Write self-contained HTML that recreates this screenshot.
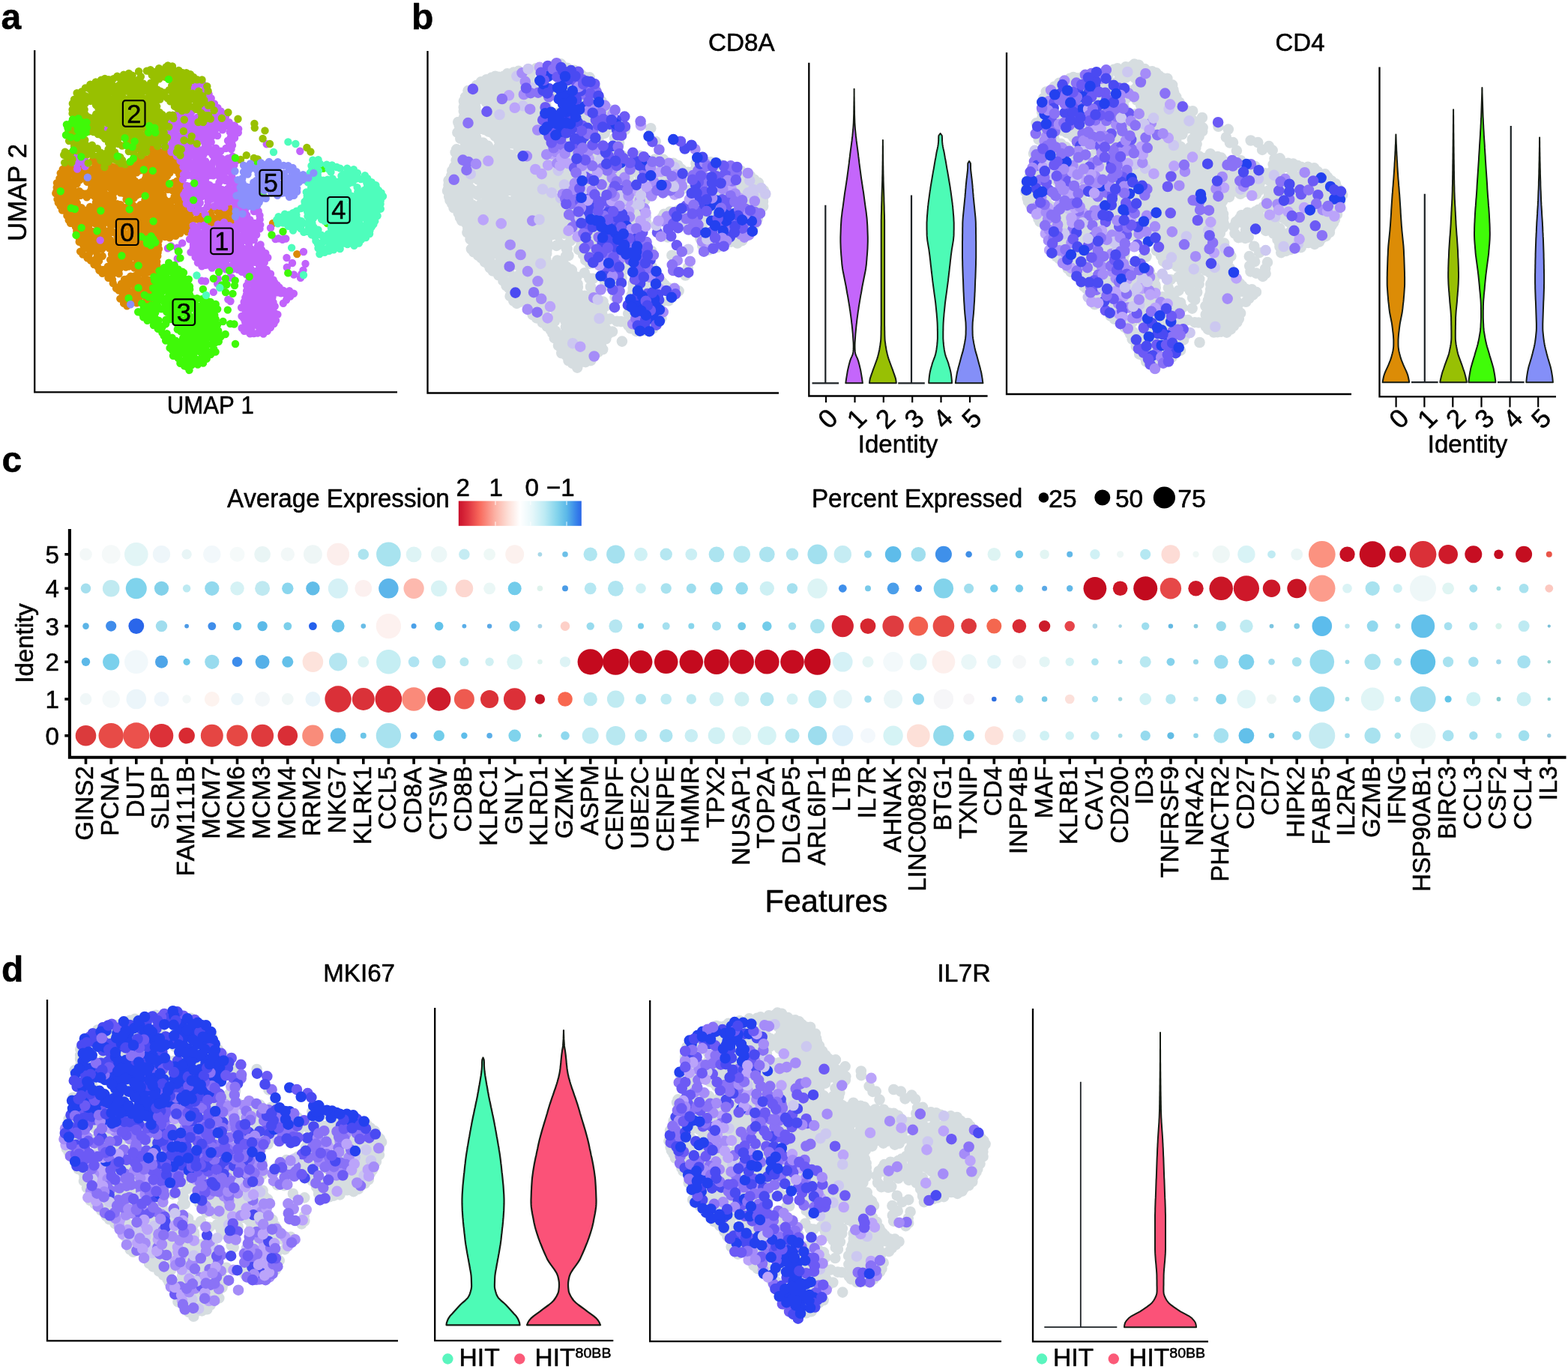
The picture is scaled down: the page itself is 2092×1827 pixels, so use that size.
<!DOCTYPE html><html lang="en"><head><meta charset="utf-8"><title>Figure</title><style>html,body{margin:0;padding:0;background:#fff}svg{display:block}text{stroke:#000;stroke-width:.55px;stroke-linejoin:round;font-kerning:none}</style></head><body><svg xmlns="http://www.w3.org/2000/svg" width="2092" height="1827" viewBox="0 0 2092 1827" font-family="'Liberation Sans', Arial, Helvetica, sans-serif" fill="#000"><g stroke-linecap="round" fill="none">
<path d="M102.3 308.5h0m-14.9-65.4h0m136.8 56h0m-72.5-66.4h0m-8.8-7.3h0m-51.2 35.8h0m122-13.5h0m-125.1 5.6h0m58 66.3h0m69.9-106.1h0m-109.8 26.6h0m125 67.7h0m-19.3-34.9h0m-29.4 33.5h0m51.7-49.6h0m-29.7-45.8h0m-31.1 34.9h0m-29 117.5h0m45.8-65.5h0m-34.7-4.1h0m13.3-17.7h0m-37.6 21.1h0m19.7-25.7h0m-75.5-27.4h0m147 24.5h0m-49.2 83.5h0m5.6-71.1h0m-56-66.1h0m55.4 49.5h0m36.4 32.1h0m-14.7-27.9h0m4.1 77.3h0m-9.2 54.9h0m-9.2-79h0m-49.4 20h0m12.2-63.8h0m-9.8 7.5h0m-19-9.5h0m58.1-25.7h0m25.3 141.2h0m34.9-129.1h0m-29.1 86.7h0m-12.4-0.1h0m-121.2-98.8h0m139.3-30.3h0m-34.7 106.7h0m26-129.2h0m29.9 95.2h0m-39.5 65.2h0m-4 26.9h0m42.4-157.5h0m-82.5 72.1h0m91.8-23.9h0m-120.8 33.5h0m-29.5-19.2h0m51.6-55h0m55.1 99.8h0m11.1-13.8h0m-14.7-8.7h0m-14.4-95.6h0m-82.6 58.5h0m-15.6-9.4h0m131.6-13.7h0m-116.1 43.8h0m80.8 19.2h0m47.2-97.4h0m-46.1 77.3h0m26.5 63.7h0m0.3-72.4h0m-47.2-43.6h0m-45-10.2h0m8.2 92.8h0m7-37.6h0m-29.1-42.1h0m24.9 68.5h0m78.2-69.2h0m15.4-15.3h0m16.1 46.1h0m-2.1-56.3h0m-95.7 88.5h0m34.3 71.6h0m-96-108.6h0m59.5 89.3h0m28.8-62.7h0m-15.3 80.8h0m139.7-95.8h0m-129.6-9.1h0m63.1-20.4h0m-50.7 149.2h0m23.5-124.8h0m-2.3 9h0m35.2-18.4h0m-62.7 20.1h0m64.3-43.7h0m-121.8 38.4h0m8.8 19.2h0m189.6-7.8h0m-143.8 15.8h0m-34.2 31.1h0m106.3-72h0m-95.4-1.7h0m83.5 19.5h0m-64.7 95.9h0m21.6-2h0m4.5-22.4h0m64.3-63.6h0m-41.5-29.4h0m5.1-29.4h0m-65.6 66h0m55.1 76.6h0m28.8-100.4h0m-63.1-111.1h0m38.2 53.5h0m-77.5 107.9h0m-21.8-14.2h0m19.9-15.1h0m26.5-50.4h0m20.6 94.9h0m-91-117.5h0m10.9 46.4h0m-10.8-11.1h0m42.3-5.6h0m-35.9-20.3h0m155.3 71.3h0m-34.6 20.3h0m55.8-38.3h0m-80.8 42.8h0m-17.8 69.2h0m-7.8-2h0m74.4-148.8h0m-92.3 30h0m56.8-21.7h0m20.7-57.6h0m-45.4 107.6h0m-53.5-53.7h0m-8.6-26.3h0m55.1 165.8h0m86.6-108.1h0m-125.1 49.2h0m5.4-83.5h0m52.1 136h0m33.4-85.2h0m-25 31.6h0m9.7-61.7h0m-34.8 65.5h0m4.5 30.9h0m-23.9-45.5h0m44.5-93.8h0m-33-4.6h0m-4.8 10.1h0m147.5 42.3h0m-180.9 40h0m58.7-86.8h0m-47.1-9.6h0m19.3 127.9h0m-23.2-124.1h0m43.6 71h0m-49.9-17.3h0m141.9 16.6h0m4.4 1.3h0m-109 19.2h0m76.7-82.7h0m-23.7 52.5h0m-25.4-34.5h0m-10.5 7.2h0m-90.1-31h0m95 145.8h0m-33.1-114.5h0m11.4 93.1h0m38.5-134.7h0m-54.3 91.1h0m-20.2-95.3h0m66.4 91.9h0m-23.7 104h0m15-42.7h0m-34.5-125.1h0m27.5-22.5h0m-8.8 48.1h0m-80.9 5h0m105.3-50.5h0m-42.3 89.2h0m31.7 94.6h0m6.6-26.1h0m24.5-175.4h0m-14.3-3.5h0m-87.8 59.2h0m47.3 106.7h0m-22.5-32.8h0m-59.5-72.3h0m116.7 111.8h0m-56.1-46h0m-36.8-95.7h0m1.4 33.5h0m20.4-14.1h0m-31.8-27.2h0m36.2 124.3h0m67.2-74.8h0m-28.1-20.4h0m70 31.2h0m1.2 14.7h0m-116.2 24h0m93.6-54.5h0m24.7-40.4h0m-123.9 32h0m34.9 100.9h0m89.9-75.2h0m-124.4 8.6h0m-5.6 0.5h0m28.4-62h0m156.3 65.2h0m-73.2-17.4h0m1.8-73h0m-22.3 79.8h0m41.3-36.1h0m-116 12.6h0m84.3 74.5h0m-55.3 6.1h0m73.6-118.6h0m-25.8 177.8h0m-75.1-132.3h0m60-50.1h0m0.7 23.3h0m-109.3-5h0m72.5 92.1h0m1.3-44.2h0m-33.1 4h0m-6.3 41.1h0m57.6-15.3h0m31.8-11.7h0m-59.3-8.4h0m-39-1.6h0m55.2 26.3h0m55.4-9.2h0m-51.1-76.3h0m22.9 104.8h0m-49.4-95.9h0m21.8 8.9h0m14.1-18.8h0m43 39.3h0m-16.4 23.1h0m-103.6-50.2h0m28.8 46.5h0m57.6-81h0m-21.3 167.1h0m60-163.3h0m-76.2 115.9h0m34.5-89.6h0m-90.1 36.2h0m12.4 7.2h0m142.4-1.8h0m-89.9 101.4h0m42.5 0.4h0m-15.3-34h0m35.2-90.6h0m-16.7-49.8h0m19.4 105.4h0m20.6-72.8h0m-17.4-8.6h0m17.7 67.7h0m-59.4 41.7h0m27-62.3h0m53.5 10.6h0m-21.6-55.4h0m-0.1 74.2h0m-119.8 25h0m-4.3-93.3h0m34.2 108.4h0m35.4-92.3h0m42.8 45.7h0m-48.1-15.8h0m-80.5-50.2h0m10.8-3.4h0m6.7 73h0m111.8-99.3h0m-41.3 46h0m53.1 34.7h0m-111.3-51.5h0m77.6-5.6h0m-47.1 97.5h0m41.7-49.5h0m-38.2 103.3h0m-58.2-61.2h0m58.4-45.5h0m-21.3 47.8h0m11.9 10.9h0m24.4 38.2h0m-57.9-135.5h0m22.4 3.1h0m-46.6 16.1h0m88.9 138.7h0m-47.2-141.2h0m103.6 11.8h0m-78.2 68.4h0m55.9-86.2h0m-72.3-25h0m-13.3 46h0m63.2-26.5h0m-41.1 28.4h0m-11.4 0.3h0m42.4 72.4h0m39.3-71.4h0m-55.9 26.6h0m-38.1-40.4h0m36-0.2h0m-26 57.1h0m3.3-96.5h0m28 103.6h0m35.3 30.5h0m92.5-63.6h0m-131.5 38.3h0m-18.5-105.7h0m-20 79.9h0m-34.4-50.4h0m26.5 80.2h0m-13-6.2h0m116-36.2h0m-46.9 10.4h0m-8.4 87.8h0m38.4-83.3h0m-5.2-49.6h0m-81-21.5h0m47.7 54.7h0m16 15.6h0m93.4-19.2h0m-198-4.8h0m137.1-40.9h0m-55 105.9h0m-6-40.8h0m14.7 31.7h0m-43.9-86.6h0m80.9 50.9h0m-34.2-15.3h0m23.9 22.8h0m81.8-30.8h0m-145.1 15.1h0m-6.8 63.5h0m39.2-73.2h0m-19.8 5.3h0m7.6-66.2h0m17.4 2.3h0m25.5-1.6h0m5.6 87.3h0m7.4-69.2h0m9.6 34.2h0m-43.4 123.8h0m-85.5-101h0m61.9-17.7h0m85.6-25.8h0m-38.8 21.9h0m-14.4 77h0m67.8-59.3h0m-58.2-39.6h0m-15-33.7h0m-17 81.9h0m139.7-18.9h0m-86.7-60.1h0m-39.7 134.1h0m103.7-67.8h0m-172.5 49.8h0m58.2-97.7h0m2.5 11.4h0m42.1 62.1h0m-21.1 12.9h0m3.5-79.7h0m-46.5 5h0m-26.7-27.5h0m-6.6 37.1h0m14.5-45.1h0m-14.4 62.3h0m173.4 11.3h0m-63.9 16.6h0m-31.6 68.3h0m10-171.1h0m-44.5 153.6h0m-8.5-94.7h0m-59-49.8h0m20.4 83.2h0m32.5-33.1h0m77.1-19.5h0m-90.4 30.6h0m99.3 18.2h0m-126.7-5.3h0m2-33.4h0m105.2-40.4h0m-50.9 70.7h0m63.9-75.1h0m-80.4 145.2h0m12.8-30.5h0m-81.3-69.6h0m131.6 34.9h0m-86 57.1h0m73 17.2h0m-24.2 19.2h0m11.4 10.3h0m-8.9-82.9h0m62.1 3.5h0m-54.1 71.5h0m0.5-18.4h0m-4-77.7h0m42.5 4.8h0m-18.9-62.1h0m-95.1 46.3h0m147.3 25h0m-42.2-44.6h0m-41.1 89h0m-73.3-83.7h0m199.1 21.9h0m-112.4-61.3h0m43.7 91.7h0m-69.9-1.6h0m54.4-97h0m-134.3 47.2h0m110.7 13.2h0m5.5 61.5h0m22.4-35.1h0m-67.8-21.9h0m-51.3-0.7h0m28.6 1.9h0m61.5 2.2h0m-53.8 29.7h0m35.8 25.1h0m-13.3 14h0m29.5-57.6h0m3.9-7.9h0m-16.3 65.3h0m-79.1-101h0m217.8 23.5h0m-95.5 0.4h0m-15.2 84.2h0m31.8-80.7h0m-13.3 0.3h0m-85.4-38.8h0m61.9-30.6h0m-36.4 174.7h0m-14-16.9h0m-37.4-35.1h0m39.7-75.3h0m-9.6 1.1h0m41.1 73.7h0m-18.8 2h0m-32.1-16.8h0m-0.9-97.2h0m76 28.5h0m-119.7-2.5h0m77.4 49.6h0m25-50h0m-66.6 69.1h0m19.6-44h0m8.9 72.8h0m73.1-35.8h0m83-15.3h0m-150.6-58.2h0m24.5 36.3h0m12.1 90.6h0m-43.7-73.5h0m-32.8 29.4h0m25.6-21.3h0m1.3 22.3h0m42.5-60.3h0m75.2 19.9h0m-47-71.2h0m-48.9 137.7h0m6.2-123.3h0m-76.4 25.8h0m62.9 5h0m63.2-46.1h0m-50.8 110.1h0m83.8-36.9h0m-99.3 83.6h0m-27.7-68.7h0m3-52.7h0m75.9 111.3h0m-27.6-97.7h0m28.3-17.9h0m-69.5-9.7h0m-44 57.7h0m141.5-73.6h0m-21.2 81.7h0m-19.4-12.6h0m-82.7-22.5h0m78.7 48.5h0m9.2-17.3h0m4.7-19.1h0m83.7 25.6h0m-189.7-66.6h0m204.1 60.2h0m-110.8-64.8h0m-60.8 0.4h0m68.7 72h0m-37.9-69.2h0m8.5 142.6h0m-21.3-125.5h0m87.9 14.9h0m-152 12.6h0m51.8 85.7h0m41.3-96.5h0m-55.4 76.2h0m60.2 49.6h0m-3.4 6.4h0m23.3-5.7h0m-20.6-71.4h0m124.1-33.8h0m-52 23.8h0m-17-7.7h0m-127.1 16.6h0m71.1-87.9h0m30.2 134.1h0m-85-104.5h0m86.2-35.4h0m-36.9 4.4h0m5.7 9.4h0m-74.3 32.6h0m105.2-68h0m-107.1 99.8h0m63.7-44.9h0m73.1-11.3h0m-154.1-10.1h0m60.8 75.7h0m47.2 44.6h0m-81.7-68h0m9.2 36.5h0m47.5 63.4h0m48.6-87.2h0m-15.3-107.7h0m-62.7 121.7h0m56.2-48.5h0m-17.7 61.5h0m-41.4-89h0m68.8 23.5h0m-94.7-32.5h0m75.2 45.7h0m-76.6 23h0m91.3 79.6h0m39.2-71.8h0m-129-85.7h0m59.4 135.4h0m24.4-81.1h0m54.8 14.6h0m-76.4-70.3h0m27.5 122.1h0m-32.4-15.2h0m66.5-39.6h0m-7.5-66h0m-51.4 19.5h0m105.1 57h0m-153 55.4h0m-12.5-41.9h0m127.2-89.6h0m-46.1 35.2h0m-57.5 108.1h0m12.4-25.6h0m81-85.1h0m-16.2-25.1h0m0.1 61.2h0m-23.7-74.9h0m19.8 35.3h0m-90.3 79.7h0m174.3-25.7h0m-86.2-66.3h0m-42.7 166.6h0m-49.2-119.8h0m-35.2-54h0m117.8 142.3h0m-68.4-82.2h0m89.1-25.6h0m-62-24.3h0m35.5 103.3h0m28.4-54.8h0m-60.6-41.6h0m1.7 41.4h0m-53.5-12.4h0m79.9-74.7h0m-37.5 90.6h0m-11-56.2h0m-8 111.4h0m21.8-120.8h0m-19.5 83.5h0m71.5 20.5h0m-36.5-8.9h0m-75.5-80.4h0m204.2 40h0m-115.2 56.4h0m27.4 3.2h0m-59.6-96.8h0m-62.3-14.2h0m123.5 101.4h0m-24.3-58.9h0m1.7 60.1h0m1.9-25.2h0m19.5-30.1h0m35 21.7h0m-2.2-5.5h0m-64.3 15.4h0m-8.8-72.3h0m-29.5 12.5h0m22.8 142.4h0m-34.9-126.5h0m-31.1-40.7h0m30 57.2h0m-37.2-16.6h0m78.3 110.4h0m-69.9-107.7h0m211.3 16.1h0m-129.4-30.9h0m-10.2 118.3h0m33-136.5h0m21 59.2h0m-70.4 67.6h0m-4.2 10.9h0m62.4-149.4h0m98.9 72.2h0m-106.3 41.7h0m-99-102.2h0m9.1 69.1h0m78.8-65.9h0m-28.4-10.8h0m-49 116.4h0m110-64.1h0m-67.3 30.2h0m76.8-68.6h0m-115.7 1.2h0m109.1 55.9h0m-59.7-51.3h0m-51.3 65h0m78.8-7.8h0m33.2 9.5h0m-138.7-20.5h0m78.5 0.9h0m-73.9-0.9h0m96.9 21.8h0m-72.1-34.3h0m-33 0.5h0m72.6-24.4h0m34.6-23.7h0m-63.9 0.1h0m-24.7 75h0m90.4-26.5h0m-61.2-4.6h0m-50.5-0.2h0m89.3 97.6h0m-26.1-146h0m-1.9 138h0m79.7-136.1h0m26.5 37.5h0m-44 45.9h0m-125.8-71.2h0m313.2 96h0m-322-81.1h0m289.7 40h0m-129 74.5h0m-21 2.5h0" stroke="#DB8A05" stroke-width="10.4"/>
<path d="M355.5 394h0m-16-44.2h0m-76.1-169.7h0m-13.5-0.1h0m26.2 131.3h0m-18.3-10.2h0m-40.7-107.4h0m155.4 189.8h0m-33.6-101.4h0m-4.2 76.8h0m-59.5-13.3h0m49.8 4.5h0m-89.8-164.4h0m75.4 57.4h0m64.2 148.3h0m-49 29h0m-49.3-168.1h0m43.5 63.5h0m-50.8 31h0m48.7-100.1h0m-25.2-24.7h0m-38.4-65.8h0m-20.1 35.5h0m54.3-29.3h0m13.9 184.4h0m44.5 58.2h0m-60.9-266.6h0m-22.1 212.2h0m7.8-203.2h0m-24 108.5h0m-134.9-43.6h0m229.9 149.4h0m-75.7-161h0m8.2-31.4h0m57 250.7h0m-3-132.9h0m-83-94.1h0m48.4-44.5h0m-32.3 186.2h0m-159.5-115.5h0m169.2 99.1h0m5.7-49.4h0m92.7 150.9h0m11.7-19.6h0m-81.3-66h0m-39.7-168.9h0m-158 48.2h0m142.9-2.9h0m46.9 52.9h0m55.3 125.4h0m-0.9-88.8h0m-91.5-45.3h0m99.7 129.4h0m-79-108.2h0m56.7 69.5h0m-51.5-214.3h0m36.9 169.1h0m51.8 90h0m-97.9-89.7h0m-21.6-66.8h0m37.1-36h0m28.3 69.2h0m9.9 73.9h0m-59.7-167h0m88.2 193h0m-94.8-166.1h0m13.9-22.9h0m-10 50.6h0m29.8-67.5h0m-7.9 145.2h0m-34-91.2h0m58.9-42.6h0m-37.5 18h0m9.1 30.5h0m81.3 175.8h0m-7.3 38.4h0m-47.9-204.5h0m-38.3 20.2h0m63.7 63.8h0m-96.2-134h0m68.2 155.6h0m-48.4-16.1h0m95.8 97.5h0m-71.4-227.8h0m-55.4-12.1h0m99.8 126.3h0m-30.9 43.2h0m96.7 44.5h0m-66.3 11.2h0m-88.8-243.3h0m123.7 218.5h0m-120.9-192.7h0m33.8 11.2h0m4.6-33h0m44.6 199.3h0m30.4 60.9h0m-43.6-235h0m-9.5 139h0m-45.5-156.2h0m45.1 105.3h0m40.3 134h0m-58.1-71.4h0m5.7-166.7h0m-20.8 138.8h0m68.9 126.3h0m-56.4-101.9h0m62.6 89.3h0m-77.8-185.7h0m55.7 103.1h0m9.2 23.6h0m3.4-40.4h0m-67.4-47.5h0m-4-162.8h0m20.6 230.8h0m5.3-81.9h0m23.6-55.8h0m31.2 133.8h0m17 59.9h0m-95-185.5h0m-21.6-60.6h0m12.6-37.2h0m44.4 177.5h0m18.3 41.3h0m0.1-7.5h0m-10.1-22.5h0m-52.9-30.2h0m72.9 135.6h0m-42.4-259.3h0m11.9 99.3h0m58.8 106.5h0m-75.3-126h0m8.3 101.6h0m-32.7-222.3h0m22.8 12.5h0m81.2 304.5h0m-48.4-165.7h0m-6.1-95.6h0m-171.6 151.8h0m172-157.4h0m3.8 164.3h0m32.5 71.1h0m-69.8-61.6h0m17.8-134.9h0m-26.4 48.3h0m44.8 93.7h0m-4.8-79.2h0m-20.1 46.7h0m6.6-130.5h0m-31.6 48h0m54.6-45.1h0m5.7 92.3h0m22.4 61.2h0m-26.2 15.7h0m-71-113.8h0m143.3 156.2h0m-86.5-55.7h0m58.5 47.6h0m-39-98.3h0m-50-77.6h0m85.6 195.7h0m-35.3-125.4h0m27.6 89.4h0m-42-15.3h0m37.4 88.6h0m-10.5-15.8h0m-57-209h0m10.2 8.4h0m11.9-76.2h0m-18.5 26h0m-35.2 44.7h0m79.2 98.8h0m4.3 36.8h0m33 7.1h0m-17.2 18.7h0m0.2-55.7h0m-108.3-120.4h0m26.5-22.4h0m86.6 225.7h0m-49.3-56.7h0m23.8-23.6h0m10.3 114.4h0m-74-274.4h0m18.2 144.8h0m22.4 0.1h0m18-143.8h0m-3.4 147.7h0m-13.4-91.4h0m8.1 8.1h0m-72-69.1h0m9.8 97.1h0m31.3 89.1h0m88.1 55.2h0m-6.6 2.4h0m-82.7-223.9h0m21.9 122.3h0m-43.8-160.1h0m105.5 287.6h0m-80-266.8h0m-44.4 1.5h0m86 266h0m-221.9-229.3h0m248.6 169.9h0m12.6 45.9h0m-57.1-206.3h0m24.7 103h0m9.4 46.2h0m-52.9-92h0m8.6 47h0m-16.3-126.4h0m11.3 149.7h0m-35.1-8.9h0m38-101.2h0m-24-68.3h0m66.1 164.9h0m-0.7 7.2h0m-63.4-226.9h0m0.3 118.7h0m35 70.1h0m-198.1-85.2h0m223.9 160.2h0m-76.1-174.8h0m109.1 202.2h0m-57-149.4h0m-41.5-32.5h0m62.7 171.8h0m-53.6-149.1h0m19.9 23.9h0m-31.5-3.6h0m-23-100.7h0m104.1 117.8h0m-43-59.9h0m-29.8 59.1h0m57.2 107.2h0m-32.2-214.8h0m49.8 119.6h0m6.1 57.3h0m-65.8-22.2h0m40.6-50h0m14.2 155.2h0m-15.6-123.8h0m-72.2-101.6h0m36 106.8h0m-59.5-148.4h0m109 140.6h0m0-8.8h0m-82.5 10.4h0m108.5 108.3h0m-36.4-35.6h0m-41.5-27.1h0m12.1-82.5h0m37.6 115.4h0m-88.3-232.8h0m75.4 138.8h0m-51.1 31.9h0m91.3 48.6h0m-91.3-253.5h0m72.7 234.5h0m19.2 28.3h0m-16.1-38.5h0m-79.7-102.3h0m81.5 192.4h0m-20-128.9h0m-52.6-171.3h0m-22.8 27.2h0m40.1 193.2h0m56.5 31.9h0m-26.2 55.3h0m-47.9-136.4h0m-48.2-116.5h0m109.8 185.7h0m-110.1-190.4h0m37.3 86.6h0m6.6-129.4h0m53.7 288.3h0m-26.7-215.3h0m38.3 230.8h0m-71.9-186.4h0m63.9 165.8h0m-74.9-112.1h0m24.3-109.5h0m32.3 17.5h0m22.7 184h0m-30.9-192.9h0m65.4 169h0m-78-214.4h0m-11.5-19.6h0m31.5 201.9h0m17.6-50.1h0m-79.4-94.1h0m8.1 56.7h0m-144.5-38.9h0m177.4 77.5h0m-3.3 20.9h0m45.9-27.1h0m-72.1-82.2h0m8 144.1h0m-32.4-202.3h0m71.4 170.1h0m15.4 35.2h0m-60.1-201.7h0m-5.7 170.3h0m1.3-102.4h0m69.5 211.3h0m-51.9-206.1h0m73.3 209.9h0m-11.1-44.8h0m-52.8-181.5h0m48.4 186.1h0m-12.5 11.2h0m-27.7-208.7h0m-36.7-10.2h0m92.2 236h0m28-22.8h0m-112.4-170.5h0m-3.8 48.7h0m87.1 112.4h0m-64.5-135.8h0m-43.7-44.8h0m55.8 11.4h0m50.2 111.6h0m-93.9-171.8h0m-4.4 61.4h0m-23.7-31.8h0m104.9 204.9h0m-13.7-186.1h0m-34.9 13.5h0m-13.5-46h0m71.6 138.2h0m-26 16.8h0m-4.4-137.9h0m-17.4 140h0m55.7 84.9h0m-78.9-94.9h0m38.8-152.7h0m38.7 240.2h0m-66.7-233.9h0m69.9 165.9h0m-109.7-156.5h0m75.1 110.5h0m35.9 63.3h0m-83.9-64h0m32.9-66.7h0m-3.5-23.7h0m-6.5 44.8h0m25-10.2h0m42.7 195.7h0m-55.3-243.7h0m-1 42.8h0m-15.7 109.1h0m-30.6-85.5h0m37.3-57.9h0m-9.6 113.3h0m86.2 107.7h0m-109.8-191.1h0m96.1 101.6h0m3 5.7h0m-49.6-160.2h0m-3.7 4.3h0m56.4 194.5h0m-18.2-69h0m-30.6 1h0m-6.6-75.1h0m-14.5-95.2h0m62.2 229.3h0m-109.6-204.8h0m100.8 204.5h0m-69.8-190.4h0m3.6 75.9h0m-49.2-55.8h0m32.1 140.5h0m26.2-2.9h0m-144.8-167h0m102.9 44h0m56-61.4h0m-4 13.1h0m16.8 84.2h0m20 98.1h0m-75.2-173.4h0m143.8 187.9h0m-81.9-60.6h0m23.9 61.3h0m5.7-5.3h0m-56.4-102.6h0m66.4 158h0m5.7-27.3h0m-52.2-117.8h0m-66.2-105.5h0m16.5 173.7h0m-0.9-134.5h0m-14.1 66.5h0m25.4 82h0m20.2-19.7h0m56.3 21.2h0m30 36.9h0m-115.7-183.5h0m9.3-71.3h0m34.1 77.9h0m-56.5 44.4h0m26.8-36.2h0m107.4 164.9h0m-62.9-90.6h0m-89.8-100h0m109.5 192.2h0m-66.5-127h0m17.2-109.3h0m-7.7 96h0m7.8-18.8h0m7.5 25.3h0m-70.1-77.4h0m-128 46.8h0m168.7-19.5h0m86.4 166.4h0m7.3 59.6h0m-112.2-209.5h0m95.8 111h0m-91.4-2h0m81.2 50h0m7.6-94h0m-19.2 109.6h0m-76.1-200.8h0m-6.2 36.6h0m115.5 173.4h0m-85.9-168.9h0m-27-67h0m18.1-58.7h0m40.9 133.8h0m-43.7 81.3h0m11-40.6h0m53.6 47.8h0m-9.7-157h0m2.7 146.8h0m-10.4 35.8h0m-19.1-111.4h0m41.8 116.5h0m-40-36.5h0m-40-136.5h0m30.4 62.6h0m117.8 116.6h0m-130.1-184.9h0m-26.1-5.4h0m-8.4-50h0m64.7 228.6h0m20.6-20.8h0m-53-123h0m56.6 209.9h0m27.1-24.8h0m-47.9-70.7h0m-11.6-113.2h0m-1.3 93.2h0m-41.2-150.4h0m34.1 74.8h0m-15.4 87.5h0m-10-103.9h0m31.2-60.4h0m-63.2 4.2h0m22 86.3h0m48.8 16.8h0m-13.2-100.1h0m6 48.2h0m16 11.5h0m-12.3 118h0m22.9 17.5h0m-1.5-50.8h0m20.4-5.8h0m11.4 23.2h0m-41.9-131.7h0m22 121.4h0m-22.6-2h0m28.6-5.7h0m-14.2 39.7h0m-2.2-52.7h0m-17.8-132.2h0m-6.7 111.7h0m111.7 85.7h0m-84.7-5.5h0m-46.7-130.6h0m56.8 129h0m-17.1-47h0m-26.6 9.1h0m69.7 63.3h0m-13.9 24.2h0m-58.3-196.4h0m0.7 9.9h0m-4.8 30.4h0m21.4 75.3h0m-5.2-4.9h0m12.7-0.2h0m-28.3 9.9h0m-17-20.1h0m63.6-24.4h0m-36.5-11.6h0m-5.3-68.8h0m-20.2 43.2h0m9.6 86.3h0m35.6-137.7h0m36.5 111.4h0m-33.6-138h0m-39 138.7h0m42.1 9.3h0m19.2 117.2h0m9.3-53.8h0m-99.2-118.8h0m107.4 152h0m-78-287.4h0m8.1 233h0m22.1-88.4h0m41.3 161.4h0m-12.7-19.3h0m-49.9-78h0m29.3-155h0m-59.9 141h0m21.2-104.2h0m29 103.4h0m-35.6 15.1h0m62.2 73.3h0m36.6-29.7h0m-83.5-195.5h0m-10 159.3h0m-0.2-167.8h0m67.6 244.8h0m-79.3-103.2h0m82.1-14.8h0m-89.5-51.4h0m14.1-43.4h0m83.7 240.3h0m-81.8-183.5h0m-20.3-73.6h0m108.7 232.6h0m-94.7-222.7h0m49.7 131.6h0m-31.4-64.3h0m73 163h0m-90.5-108.4h0m65.9 121.6h0m-20.4-138.3h0m34.7 29.3h0m-99.3-129h0m47.4 39.6h0m22.4 33.1h0m-58.1-3.6h0m86.4 139.9h0m-80.7-157.1h0m41.6-3.9h0m41.2 184.2h0m-9.6-12h0m-21.1-98.8h0m-7.3-65.4h0m40.7 124.9h0m-49.1-81.1h0m-26.1-46.1h0m62.8 133.8h0m42.4-3.6h0m-148.9-213.8h0m47.4-24h0m34.4 107.3h0m-50.8-147.7h0m2.5 161.5h0m27.9 78.8h0m25.1-4h0m-16.1-85h0m61.6 43.4h0m16.7 15.1h0m3.6-0.8h0m-9.8-0.2h0m5.5 1.5h0m5.8 36.9h0m17.5-155h0m-44.6-9.4h0m-81.6 182.9h0m-46-46.8h0m76.2 71.2h0m-67.5-54.4h0m48 44.7h0m-48.3-59.2h0m72.8 39.8h0m-12.1 10.6h0m-28.1-6.3h0m21 3.7h0m-66.2-47.3h0m19.3-6.8h0m164.3 27.6h0m-40-33h0m37.5 17h0m-22.5 8h0m7.5 7h0m-99.2 21h0m15.7-1.5h0m1 31.5h0m15 20h0m69.5-55.5h0" stroke="#C163FB" stroke-width="10.4"/>
<path d="M209.2 142h0m36.8-22.8h0m-69.2 64.7h0m-17.4-0.5h0m-38.8-48.7h0m-0.2-22.1h0m-2.3 43.9h0m-4.2-3.2h0m51.1-22.1h0m-42-5h0m76.4 23.2h0m-4.2 53.4h0m-42.2 10.1h0m25.4-106.2h0m-33.5 41.6h0m28.5-9.6h0m-15.3 53.3h0m-59.1 2.8h0m102.1-84h0m-61.2-5.9h0m67.9-9.1h0m33.4 47.5h0m-65.9 8.7h0m86.9-13.9h0m-137.9 61.1h0m42-21.6h0m22.1 29.9h0m-42.2-84.2h0m30.9 40h0m87.4-0.3h0m-172.4 25.1h0m102.2-56.5h0m-59.7 37.3h0m91-48.7h0m48.9 38.1h0m-127.1-41.9h0m-38.3 5.8h0m59.1-0.6h0m-18 62.1h0m67.3-24.5h0m-48.1-54.4h0m-21.3 58.5h0m114.7 28.6h0m-166.2 20.5h0m82.5-83.2h0m-44.8 74.6h0m48.1-20.1h0m22-3.4h0m6-15.7h0m-51.5-51h0m8.1 105.6h0m-0.3-72.2h0m69.1-41.8h0m-78.8 61.7h0m-12.5 48.8h0m-44.3-61.2h0m165-32.7h0m-32.3 20.1h0m-13.2 46.2h0m48.6-37.4h0m-45.4 32.9h0m-111.9-24.8h0m100.8 19.8h0m39.6-42.5h0m-120.6 42.9h0m61.4 1.4h0m-8.6 11.2h0m58.2 7.6h0m26.2-60.8h0m-22.2 21.4h0m-71.5 17.8h0m30.6-48.7h0m-88.6 77.5h0m-24.9-31.1h0m93.7 4.2h0m45.5-54.1h0m-90.8 82.2h0m47.8-58.7h0m57.3 26.1h0m-39.4-51.2h0m-91.4 69.2h0m118.4-55.8h0m-6.4 16.6h0m-91.6 1.1h0m18.6-24.1h0m5.8 5.7h0m26.7 26.3h0m-67.9 54.8h0m91.8-33.2h0m44.9 3.5h0m-71.5-37.8h0m-17.8-38.8h0m75.4 95.9h0m-50.2-70.3h0m73.8-4.7h0m-67.4 29.2h0m84.2-2.8h0m-55.5 10.5h0m-47.5-24.6h0m-50.2-35.1h0m8.4 53.1h0m13.6 33.7h0m81.7-38.2h0m-79.5-16.7h0m-39.2 5h0m10.7 60.6h0m132.6-99.8h0m-79.4-6.5h0m19.4 46h0m-40.9-21.3h0m15.3 48.4h0m92.6-67.5h0m-143 61.5h0m109.2-53.6h0m-34 81.4h0m48.5-83h0m-98.7 78.2h0m42.9-88.4h0m59.2 29.3h0m-25.6-42.1h0m-124.9 61.9h0m41.5-20.3h0m-4.3 18.2h0m128-3.5h0m-159.3 55.3h0m110.4-51.2h0m-70.4 54h0m76.9-108.4h0m-7.1 9.9h0m-73.3 7h0m-4.7 101.7h0m18.9-40.8h0m-23-37.7h0m-31.2-2.9h0m93.9 18.3h0m-77.5 47h0m20.5-59.3h0m85.2 29.8h0m-89-54.7h0m63.6 7.2h0m-21.6 65.9h0m77.5-61.1h0m-151.2 18.2h0m148.4 2.5h0m-44.3-0.4h0m-52.6 1.7h0m7.6 4.9h0m26.6 21.1h0m13.8-33.6h0m-14.3-6.5h0m-15.3 21.3h0m5.7-34.9h0m67.9-22.8h0m-80.8 116.3h0m43.2-109.7h0m-92.4 13.5h0m94.6 37.2h0m-37.6 28.2h0m0.9 19.3h0m11.4-3.9h0m68.3-55.7h0m-39.4-51.3h0m-31.1 20.9h0m42.4 18.9h0m-34-10.5h0m-92.6 17.8h0m99.1 48.2h0m-31.4-15.2h0m71.6-51.7h0m-117.8 55.9h0m-21.7-29.2h0m114.3 26.5h0m40-60.1h0m-6.4-9.2h0m-45.4 53.8h0m-74.4 18.8h0m153.1-35.3h0m-38.3-40.8h0m-9 4.5h0m-67.6 90.1h0m-56.5-57.8h0m54.8-11.8h0m64.5-31.2h0m-26.9 33.1h0m-21.8 28.6h0m96.6-1.6h0m-128.1 26h0m87.7-81.7h0m-136.2 81.4h0m179.3-64.4h0m-163.5 18.4h0m97.3-13.9h0m-31 86.5h0m-9.5-90h0m-42.8 49.8h0m3 32.2h0m9.6-73.3h0m45.4-9.4h0m27.4 74h0m19.4-70.4h0m-137.5 85.4h0m108.6-104.3h0m33.2 102.8h0m-83.1-47.3h0m60.7-23.1h0m6.8-29.7h0m-72.1 64.8h0m42.9-56.2h0m-77.7 26.9h0m60.7-9.3h0m-6.5 11.2h0m-13.5 49.5h0m7.7-34.1h0m-38.9 38.1h0m134.2-69.2h0m-110 50h0m35.7-34.4h0m33.7 12.8h0m-58.3 20.3h0m81.5-38.4h0m-144.8 35.5h0m96.3-8.7h0m-64.5-42.2h0m112.9-9.4h0m-84.1 9.6h0m82.6 5.3h0m-18.9 38.4h0m-63-3.2h0m-19.9 20.9h0m-36.2 8.6h0m31.6-67.2h0m153.9 24.7h0m-96.6 45.7h0m-62.9-69.3h0m122.5-26.5h0m-153.2 119.7h0m136.7-84.5h0m-29.1 57.4h0m-78-32.8h0m18.5 7.5h0m-3.7-4.8h0m45.3-64.4h0m3.7 102.4h0m6.6-82h0m-75.1 3.7h0m31-14.2h0m31.4 52.5h0m-29.6 45.6h0m30.9-77.5h0m-95.1 82.6h0m16.6-78.9h0m8.8-1.3h0m141.4 53.8h0m-54.7 2.9h0m56.5-53h0m-88 57.6h0m-31.2-71.6h0m10.8 90.1h0m-2.5-4.2h0m-0.8-47.5h0m-1.7-43.8h0m-14.3 59.4h0m14.7 13.4h0m-13.5 22.9h0m89.2-12h0m-112 6.5h0m48.2-101h0m9.5 57.3h0m-21.1-27.4h0m-41.1 65.1h0m112.4-70.2h0m-27.7 40.7h0m-58.3-8.6h0m-20.5 34.4h0m80.1-6h0m-29-39.4h0m84.2-9.7h0m-100 4.6h0m93.3-27.4h0m-18.8 8.8h0m-37.1-3.1h0m-32.8 37.9h0m104.5-59.5h0m-88.6 53.7h0m-24.1-32.1h0m95.4 23.9h0m-102.4 29.8h0m66.5-81.3h0m68.7 13.4h0m-107.3 56.7h0m-14-53.4h0m51.2 25.5h0m-113.2 81.8h0m107.6-46.1h0m20.7-73.2h0m-86.5 42.3h0m57-33.6h0m-45.3 111.7h0m118.1-75.6h0m-55-23.2h0m2.4 44h0m-16-6.5h0m-11.4 16h0m40.9 4.2h0m-33.6-47.4h0m-33.6-14.9h0m106.7-11.8h0m-158.3 68.6h0m35.1-64.9h0m60.8-12.1h0m18.2 27h0m-53.4-16.3h0m-4 37.8h0m-51.4 6h0m35.4 30.4h0m-0.6 5.6h0m90.3-91.9h0m-22.2 42.2h0m-33.8 33.1h0m121.6-10.7h0m-149 54.2h0m41.6-84.6h0m61.4-9.8h0m-39.8 77.5h0m28.4-101.2h0m-24.8 91.1h0m-11.6-31.6h0m-49.3 10.7h0m117.5-36h0m-59.1-0.5h0m-46.2-27.8h0m43.7 46.6h0m28.9 51.4h0m-94.6-60.5h0m129.3-3.8h0m-159 53.2h0m25.3-42.5h0m67.2 14.9h0m-66.4 63.9h0m-33.3-41.6h0m67.8-22.5h0m-53.4 13.2h0m10.5-28.4h0m-44.2 58.9h0m119.9-92.5h0m-48 20.4h0m-19.4 20.5h0m-32.1 2.4h0m114.8 3.4h0m-52.3-23.9h0m-60.7 53.1h0m133.9-38.3h0m-80.3-8.7h0m0.5-22.2h0m-2.7 61.3h0m-35.5-63.1h0m68.6 50.9h0m-11.5 2.2h0m-10.1-70.1h0m-18.9 82.3h0m25-44.2h0m100.2 18.1h0m-148.8-25.6h0m-4.8 3.4h0m49.8 10.8h0m-25.1-7.5h0m-46.7-11h0m57.8 85.5h0m14.9-85.2h0m-30.3-18.5h0m-20.6 55.9h0m137-33.1h0m-90.7-18.7h0m-21.6 43.1h0m12.2 64.7h0m84.2-30.7h0m4.2-82.6h0m-8.4 24.4h0m25-2.6h0m-11.3 2.2h0m26.9 10.9h0m-54-39.4h0m-83.3 98.9h0m71.3-31.3h0m-23.6-24.7h0m3.2-4.7h0m75.5 24.7h0m-163-21.3h0m20.3 10.3h0m149.3-30.7h0m-47 32.3h0m-14.6 18.9h0m-37.3-57.4h0m67.2 9.2h0m-13.1-13.1h0m-54.6 67.8h0m-72.9 8.8h0m27.8-61.6h0m31.6-20.1h0m-33.7 60.1h0m47.6 34.6h0m-42.4 9.6h0m81.7-27.4h0m-30.1-0.3h0m-30.6 32h0m29.1-76.9h0m78.7 3.8h0m-59-26.3h0m-95.7 82.4h0m94.2-60.5h0m-61.9 73.7h0m45-68.9h0m81.6 15.2h0m-167.3 5.5h0m140-41.2h0m-71.5 40.6h0m41.3-2.4h0m-101.4-29.4h0m116.9 4.9h0m-142 71.4h0m96.8-70.7h0m-64.3 66.4h0m211.1 4.7h0m-104.8-119.7h0m6 1.1h0m74.4 61.5h0m13.1 8.8h0m21.9 6.2h0m0.4 5.6h0m13.7 3.8h0m-2.9 10.6h0m9.4 7h0m49.4 5h0m5 5.5h0m-93.4 10.5h0m17.8-2h0m5 1.5h0" stroke="#98C000" stroke-width="10.4"/>
<path d="M294.6 449.2h0m-85.8-51.1h0m123.9-28.9h0m-79.2 56.1h0m3.6 26.8h0m-6.9 19h0m-39-85.5h0m22.2-4.8h0m2.8 51.1h0m6.6-17h0m-52.6 4.7h0m61.6-46.8h0m2.4 57.9h0m1.2-23.9h0m14.7 38.6h0m-35.3-58.6h0m42 57.5h0m2.3-23.5h0m-48.6-19h0m-17.5-2.1h0m56.3 79.9h0m-174.2-315.3h0m153.2 269h0m-148.4-154.2h0m250.9-18.6h0m-144.7 113.7h0m43 102.3h0m-53.3-67h0m-61.4-128.2h0m76.3 98.3h0m26.7-13.1h0m-9.8 48.3h0m18.5-19.4h0m-48.6 24.7h0m30 5.9h0m58.5 10.8h0m-67.1-79.7h0m48.7 79h0m-56.8 2.8h0m15.5-65.6h0m50.2 86.6h0m-38.9-62.4h0m0.8 11.1h0m-37.2-81.2h0m35.4 145.1h0m-32-177.3h0m76.5 177.9h0m-64.3-37.1h0m-6.8-28.2h0m-101.3-103.9h0m156 104.7h0m-35.1 42h0m-135.3-267.5h0m169 265.2h0m10.8 17.6h0m-10.1-38.3h0m-26.2-68.1h0m-133.9-185.7h0m124.4 285.6h0m35.6 27.2h0m-41-99.1h0m14.2-14.9h0m38.2 51.3h0m-30.3-40.1h0m-48.4 44h0m77.8-14.2h0m-32.5-35.7h0m40.7 81.7h0m-32.2 5.4h0m-0.8-18.1h0m-6.3-9.7h0m16.3-4.2h0m-0.6 38.2h0m-8.6-32.6h0m18.9-39.5h0m-23.4 4.1h0m29.8 48.7h0m1.4-159.2h0m-50.3 64.1h0m-47.2-168.2h0m-68.9-16.8h0m87.4 4.9h0m27.2 214.4h0m-56.6-197h0m63.1 174.4h0m11.4 112.6h0m-37.9-111.7h0m8-1.5h0m10-4.4h0m204-104.1h0m-264.9 81.9h0m99.9 75.4h0m-37.3-310.8h0m-110.4 71h0m122.2 262.6h0m15.9-26.5h0m28.6-3.8h0m-20.4 69.7h0m30.4-37.5h0m-74-43.3h0m-15.4 9h0m20.7 38h0m40.4-46.9h0m-20.3-0.2h0m-13.3-21.9h0m-6.1 3.9h0m46.5 51.1h0m17.8 38.5h0m-14 3.6h0m-51.1-62.3h0m-0.1 5.5h0m-7.2-4h0m5.9 42.2h0m45.2-31.9h0m-18.9 33.6h0m-43-27.2h0m56.4 37.8h0m-41.6-91.9h0m0.5 29.1h0m11.3 4.6h0m20.2 79.9h0m-2.5-111.1h0m-146-193.7h0m150.5 202.4h0m-7.9-14.6h0m-30.3 68.9h0m60.2-40h0m-80-81h0m73.4 134.6h0m-58.5-20.9h0m-4.1-22.4h0m35.2 31.6h0m2.9 9h0m-31.9-79h0m40 110.4h0m-0.5-62.8h0m-52.6-252h0m38.7 310.1h0m-44.1-62.3h0m-21.7-146.8h0m-61.8-88.7h0m147.9 86.8h0m-56.8 144.8h0m37.8-22.4h0m16.6 49.9h0m-19.9 25.9h0m-33.3-68.4h0m36.7 22.6h0m-25.9-25.7h0m21.9 20.2h0m8.2-51.2h0m-36.1 54.4h0m19.2-17h0m47.2 37h0m9-8.9h0m-11 29.7h0m-156.2-294.7h0m78.2 98.1h0m67.9 181.1h0m-1.2-37.3h0m-12.9 7.4h0m-16.7-50.4h0m-42.6-46.5h0m-78.1-152.2h0m141.6 236h0m-147.1-241.3h0m174.7 255h0m-45.4 13.2h0m20.9 35.6h0m-20.3-7.3h0m7.6-27.6h0m43.1 38.7h0m-44.8 18.9h0m43.6-43h0m3.8-35.7h0m-83.7-21.5h0m23.4 35.5h0m5.2-66.1h0m-2.9 113.4h0m11.4 4.1h0m-16.6-65.5h0m-6.2-42h0m51.3 43.5h0m-188.9-152.1h0m111-28.8h0m76.3 187.2h0m19 35.5h0m3.1-36.6h0m-3.9 18.9h0m-67.8-50.2h0m62.4 52h0m-26.4 23.4h0m46.2-10.7h0m-37.7 7.8h0m-41.5-27.2h0m4.6-181.4h0m19.9 243.1h0m-53.3-94.7h0m-3.4 11.3h0m241.9-180.1h0m-322.9-15.5h0m160 231.2h0m-84.1-24.2h0m83.5 53.8h0m19.4-12.7h0m-38.5-31.7h0m-82-241.4h0m52 263.8h0m-116.1-280.8h0m143.9 276.6h0m-12.3-22.5h0m25.7 37.2h0m-15.4-69h0m-42.7-74.5h0m41.1 141.8h0m127.9-202.4h0m-172.3 142.1h0m7.9-226h0m69.4 308.3h0m5.6-28.8h0m-53.1-55.1h0m-51.6-198.9h0m101.9 240.5h0m-71.2-113.1h0m50 74.7h0m1.9 25.1h0m-56.1-2.2h0m1.4-102h0m2.9 106.1h0m-77.9-117h0m103.8 84.3h0m-76.5-184h0m129.5 212.1h0m-33.3-27.4h0m15 69.2h0m-170-262h0m93.7 211.2h0m34.9 43.7h0m28.4 18h0m29.2-59.8h0m-71.7-52.1h0m8.7 70.8h0m9.8 42.5h0m-142.1-308.4h0m139.1 219.8h0m-43.4-2h0m59.2 48.3h0m-146.9-273h0m154 291.3h0m-39.2-23h0m80.1 28h0m-1.1-9.7h0m-106-91.6h0m-11.9-75h0m92.1 179.7h0m77.8-239.6h0m-28.8-8.8h0m-73.1 253.1h0m8.4-58h0m-32.6-16.9h0m39.7 58.2h0m-78.4-235.5h0m258.8 86.5h0m-177.2 185.8h0m21.3-80.9h0m-42-21.1h0m3.5-13.6h0m32.1 63h0m-55.1-61.7h0m39.9-125.1h0m-37 153.4h0m11.4-21.5h0m-26.2 15.1h0m-33.6-175.7h0m64.2 187.6h0m18.6 62.7h0m-161.8-188.3h0m121.6 166.3h0m36.6-61.9h0m-27.8-31.4h0m38.5 83h0m-173.3-263.3h0m133.8 279.4h0m22 11.6h0m43.8-28h0m-33.3 46.1h0m14.4 4.9h0m-155.4-313.9h0m160.4 238.7h0m2.1 18.4h0m-78.1-107.9h0m-112.1-139.6h0m108 144.5h0m76 94.1h0m-27.6 49.7h0m43.3-42.6h0m-80.4-249.2h0m40.1 240.8h0m13.5-6.2h0m9 63.9h0m-1.3-48h0m-77.3-3.8h0m17.6-20.6h0m6.5-26h0m-10.5 57.3h0m-1.1-206.2h0m57.7 235.1h0m-34.9 1.4h0m52.2 5.1h0m-23 17.6h0m-154.3-173.4h0m134.5 147.5h0m33.4-11.3h0m-97.8-51.9h0m212.7-33.6h0m-81.7 15.4h0m4.6 52.3h0m6.5-57.7h0m-75.1-39h0m71.9 56.5h0m-6.7 21.7h0m-65.9-78.1h0m58.2 45h0m-25.2 5.5h0m13.9-14.3h0m-57.8-42.3h0m13.5 15h0m60.3 27.4h0m-48.3 122.2h0m-2.5-4h0m177.5-269.4h0m-50 88.4h0m-15 4.5h0m-65 115.5h0m15 3.5h0m1.5 26.5h0m-22-96h0m14-2h0m7 20h0m-12 9h0m-56-26h0" stroke="#3FF908" stroke-width="10.4"/>
<path d="M437.1 239.6h0m26.1-15h0m36.6 42.7h0m-34.3 33.6h0m28 6.5h0m-49.8-68.9h0m-24.7 7.8h0m38.5 38h0m-64.7 16.6h0m64.7 24h0m11.1-36.5h0m-26.3-8.6h0m-27.5-6.7h0m22.9-5.4h0m-22.8 18.2h0m39.4-36.1h0m-18.9 28.2h0m0.1-24.9h0m58.9-2.2h0m-71 19.8h0m-34.2 21.4h0m104.7 0.6h0m9.7-4.7h0m-71.9 29.5h0m27.4-73.3h0m-52.6 25.1h0m57.1 56.7h0m-25.7-13.7h0m-1.6-27.6h0m40.6-53.7h0m-106.2 67.4h0m116.1 8h0m-75.3-9.9h0m9.3-32.1h0m33.1-3.2h0m-14.8 1.2h0m-31 15.7h0m66.6 4h0m-12.7 9.7h0m12.7-24.5h0m-57.2-26h0m28.3 83h0m-1.7-14.5h0m21.2-65h0m-40.8 5.6h0m-4 66.2h0m34.7-76.7h0m-43.5 65.2h0m30.2-0.6h0m11.4-59.8h0m30.3 37.4h0m-62.4-60.2h0m16.2 109.3h0m-5.9-72.5h0m67.2 17.1h0m-53.2-18.3h0m-13.6-10.5h0m-16.2 66.4h0m-14.5-8.4h0m-15.6-18.4h0m114.7-26.5h0m-23.1 56h0m-11.2-84h0m-36.9 60.7h0m2.8-29h0m18.1 17.4h0m-16.9 55.6h0m35.3-23.4h0m-5.4-48.9h0m7-26.7h0m-31.4-12.1h0m-28.1 62.9h0m50.8 23.8h0m-20-22.4h0m32.2 1.1h0m-93.5-5.3h0m78.8-53.7h0m-9.6-9.1h0m47.3 63.4h0m-121.1 5.7h0m26.3-14h0m88-5.8h0m-36.9 39.1h0m-33.1-2h0m33.1-7.8h0m26.2-4.7h0m-33.8 36.4h0m0.3-38.4h0m-19.1 44.1h0m-0.6-94.8h0m82 34.6h0m-0.2-6.5h0m-19.7 19.6h0m-51.2 30.1h0m-20.2-23.8h0m65.5 21.7h0m-46.1-100.2h0m54.4 18.6h0m-16.9 64.9h0m-104.2-9.8h0m133.3-42.1h0m-50.8 40.6h0m-24.8-73.5h0m20.4 47.2h0m-31 2.6h0m48.7 8.2h0m-62.5 23.3h0m-18.7-1.9h0m34.8 5.4h0m22.1-28.3h0m-9-34.1h0m77 16.7h0m-20.8 42.8h0m-14.6 7.5h0m-11.5-56.6h0m17.7 56.8h0m-7.6-81.8h0m-49.6 11.6h0m0.9 44.2h0m75.2 17.3h0m-28.5-0.1h0m2.6 28.6h0m-21-6.8h0m33.3-51.1h0m-39.8-17.9h0m42.1 8.7h0m-17.6 60.8h0m7.8-65.2h0m-21.8-21.5h0m32.6 30.9h0m-114.2 30.1h0m21.5-9h0m26 34.8h0m35.9-23.6h0m-41.5-42.9h0m29 61.9h0m-29.1-35.1h0m-4.9-38.7h0m-5.5 66.7h0m74.6-23.8h0m-56 39.5h0m58.3-50.7h0m-35-0.1h0m29.9-12.7h0m-28.9 50.4h0m4.1-57.2h0m37-11.3h0m-5.9 66.7h0m-5-32.2h0m-21.7-10.2h0m-26.5 1.2h0m-14.7-48.2h0m75.4 55.6h0m-8.3 13.1h0m-12.1-46.7h0m23.5 12.9h0m-55.3 37.9h0m18.3 22.4h0m-12.5-69.7h0m21.3 48.3h0m36.9-13.3h0m-92.5 1h0m-26.8 8.7h0m-5.8 6.1h0m112.5-13.4h0m-6.9-21h0m-54.4 50.6h0m-4.3-7h0m-22.2-11.7h0m108.4-32.8h0m-97.2 3h0m17.3 57.4h0m65-79.5h0m-70.9-15.2h0m57.9 88.1h0m-58.2-102.9h0m33.5 65.8h0m-67.3 5.2h0m25.4-57.4h0m65.2 12.3h0m-6.9-0.4h0m25 16.6h0m-30.2 11.5h0m-23.9 35.2h0m33.6-31.5h0m-16.8 49.3h0m37.6-29.4h0m-46.1 41.6h0m-23.9-1.1h0m-12.5-117.3h0m21.9 121.3h0m-67.6-45.8h0m105-39h0m4.8 52.4h0m8.7-54.2h0m-25.9 7.1h0m27.9 43.1h0m-70.6-24.1h0m47.9-12.6h0m-20.8-19.2h0m47.5 29.2h0m-9.9-18.1h0m0.2 32.9h0m-26.3-12.3h0m-12.8 12.9h0m53 7.8h0m-88.5 5.5h0m51.5-64.1h0m-40 20h0m21 27.9h0m-17.6-20.1h0m-17-3.1h0m61.6-27.2h0m30.1 13.2h0m-89 29.8h0m22.9-4h0m24.3-15.8h0m-34 30.7h0m28.1-63.2h0m-1.8 91.6h0m-41.9-7.5h0m14.5 22.5h0m25.1-3.7h0m31.3-69.6h0m-53.5 18.7h0m-13.7-45.8h0m52.4 51.5h0m23.1-25.7h0m-20.4 15.7h0m36.6-10.6h0m-18.5-27.4h0m-70.3 1.5h0m71.5 81.2h0m-30.4-10.9h0m40.4-24h0m7.1-27.9h0m-40.6-13.9h0m-55.8 16.1h0m64.2 60.2h0m-30.7-17.7h0m-35.7-25.4h0m-10.2 18.5h0m38.6-30.6h0m-4.9 23.7h0m21.6-15.4h0m-42.5-4.1h0m59.9 39.6h0m-31.4-57.7h0m-14.4 65.7h0m-5.3-22h0m25-70.7h0m-45.8 81.8h0m52.4-54.5h0m11.3 53.1h0m46.8-32.9h0m-74.5 27.1h0m-40.7-1h0m71.5 13.6h0m-22.5-78.1h0m29.6 47.3h0m-56-26.5h0m63.8 74.1h0m-24.3-35.2h0m41.2 13.5h0m-76.4-17.4h0m-2.8-24.6h0m76.5 51.2h0m-40.8-36.6h0m-10.5 45.2h0m1 9.7h0m-47.2-48.7h0m-11 20.2h0m39.2-68.2h0m19.6 37.2h0m58.8 1.7h0m-105.7 23.7h0m41.2-38.6h0m11.1 48.6h0m-19-54.4h0m64.4 11.7h0m-54.5 52.9h0m-6.4-25.8h0m40.5 33h0m0.9-49.8h0m-47.5-33.9h0m-38.1 90.7h0m-95.8 53.4h0m217.7-122h0m-4 8h0m-142-67h0m19.4-13.6h0m10 2.6h0m-131.9 175.5h0m12.5 26.5h0m130-27h0m-14-59.5h0" stroke="#4EFDBC" stroke-width="10.4"/>
<path d="M323.2 238.3h0m48.3-2.4h0m-45.9 32.2h0m30.9-17.1h0m47.4-10.9h0m-23.3 17.3h0m2.1-14.3h0m-23.7-27.2h0m52.4 21.5h0m-26.9-16.3h0m-55 36.8h0m48.1-12.7h0m26.8-12.1h0m-26.7 2.5h0m-22.1-16.5h0m-20 39h0m2.7-14.7h0m40.2-22.5h0m12.1 3.1h0m-19.9-7.9h0m-23.1 36.3h0m26.9-1.8h0m13.7-3.1h0m-50.4 28.6h0m48.3-13.2h0m-64.6-5.9h0m77.5-14h0m-49.7-9.5h0m-1.3-16.3h0m-2.1 6.5h0m13.9-0.4h0m29.4 31.9h0m-55.3-36.7h0m1.5 48.2h0m47.1-28.2h0m5.2-1.8h0m-44.7 10.9h0m-4.4 22.5h0m25.6-31.2h0m5.3 4.3h0m-7.4 13.9h0m-29 18h0m10.2-1.2h0m10.1-36.3h0m-179.2 168.6h0m190.9-178.9h0m14 4.2h0m-16.1 13.7h0m26.8-2.1h0m5.7-14h0m-55.7 27.9h0m-6.1-7h0m34.5 0.3h0m50.2-19.4h0m-97.8 19.1h0m17-26h0m-22.1 37.1h0m48.7-10.8h0m-4.3-21.2h0m-1.7 17.4h0m-43.6 35.6h0m43.7-47.4h0m-9.7 30.3h0m48.5-30.1h0m-73.5 50.5h0m13.1-31.5h0m-219.8-17.2h0m275.2 24.2h0m-20.4-38.3h0m18.5 9.5h0m-76.7-3.6h0m15.2 20.7h0m67.6 2.2h0m-41.6 13.3h0m-27.1-39.3h0m38-6.3h0m-32.9 43.6h0m61.5-17.2h0m-76.8-5.4h0m6.3 4.4h0m25.5-3.3h0m-26.6 19.6h0m-8.6 28.2h0m16.5-56.4h0m14.7 5.3h0m-0.8 24.6h0m8.8-35.6h0m-1.2 20.1h0m-6.3 23h0m21.6-37.7h0m-8 7.6h0m11.6-11.2h0m-31.2 35.1h0m-14.7-34.3h0m71.1 26.4h0m-65.7 11.4h0m-5.7-14.2h0m54.9-1.1h0m-54.1 21.7h0m26.9-19.4h0m9.7-21.1h0m30.1 16.8h0m-22 10.7h0m24.8-20.3h0m-20.6-9h0m-41.3-8.8h0m10.3 5.2h0m-20.5 36.9h0m29.4-42.8h0m-10.3 19.1h0m43.9-14.7h0m-54.3 1.4h0m53.5 24.5h0m-9.3 5.7h0m-54.1 14.2h0m23-39.4h0m21.3 22.5h0m-41-34.6h0" stroke="#8B90FC" stroke-width="10.4"/>
</g>
<path d="M46.2 67V523.3H530" stroke="#000" stroke-width="2.3" fill="none" stroke-linecap="butt" stroke-linejoin="miter"/>
<rect x="163.9" y="134.2" width="29.6" height="34.6" rx="3.5" fill="none" stroke="#000" stroke-width="2.2"/>
<text transform="translate(178.7 163.6) scale(0.98 1)" font-size="35" text-anchor="middle">2</text>
<rect x="154.9" y="292.4" width="29.6" height="34.6" rx="3.5" fill="none" stroke="#000" stroke-width="2.2"/>
<text transform="translate(169.7 321.8) scale(0.98 1)" font-size="35" text-anchor="middle">0</text>
<rect x="281.1" y="304.5" width="29.6" height="34.6" rx="3.5" fill="none" stroke="#000" stroke-width="2.2"/>
<text transform="translate(295.9 333.9) scale(0.98 1)" font-size="35" text-anchor="middle">1</text>
<rect x="346.4" y="226.8" width="29.6" height="34.6" rx="3.5" fill="none" stroke="#000" stroke-width="2.2"/>
<text transform="translate(361.2 256.2) scale(0.98 1)" font-size="35" text-anchor="middle">5</text>
<rect x="437.1" y="263" width="29.6" height="34.6" rx="3.5" fill="none" stroke="#000" stroke-width="2.2"/>
<text transform="translate(451.9 292.4) scale(0.98 1)" font-size="35" text-anchor="middle">4</text>
<rect x="230.5" y="399.4" width="29.6" height="34.6" rx="3.5" fill="none" stroke="#000" stroke-width="2.2"/>
<text transform="translate(245.3 428.8) scale(0.98 1)" font-size="35" text-anchor="middle">3</text>
<text transform="translate(222.7 552.2) scale(0.917 1)" font-size="34">UMAP 1</text>
<text transform="translate(34.6 256.9) rotate(-90)" font-size="35" text-anchor="middle">UMAP 2</text>
<text transform="translate(1.5 38.6)" font-size="48" font-weight="bold">a</text>
<text transform="translate(549 38.8)" font-size="48" font-weight="bold">b</text>
<text transform="translate(2.5 630)" font-size="48" font-weight="bold">c</text>
<text transform="translate(2 1310)" font-size="48" font-weight="bold">d</text>
<g stroke-linecap="round" fill="none">
<path d="M624.3 305.2h0m186.8 140.6h0m-201.3-205.9h0m118.4-101.1h0m52.6 38h0m-17-60.8h0m75 119h0m-45.7 73h0m-65.3 86.7h0m120.3-28.8h0m-105.4-70.1h0m28.5 126.1h0m-98.9-192.5h0m-8.6-7.2h0m346.7 41.9h0m-235.7 184.6h0m-6.8 19h0m-153.9-209.8h0m272.8 122.2h0m-154.3-135.7h0m121.6 34.4h0m-61.9 63.4h0m-181.2-92.2h0m366.1 47.6h0m-280.5-117h0m-29.3 135.6h0m337-12.2h0m-269.1-93.8h0m-5.2 172h0m23.4-199.8h0m-124.8 54.5h0m121.4 67.6h0m-70.3-124.4h0m51.5 89.5h0m-89.2-138.1h0m-0.2-22.1h0m109.8 268.1h0m134.1-144.8h0m-183 70.4h0m-63.1-149.8h0m113.3 100.2h0m73.7-13.7h0m-72.2 188.7h0m-118.8-278.4h0m205.6 114.7h0m-117.2-57.1h0m-30.1 34.9h0m-8.8-114.6h0m-19.5 232h0m95.1 51.5h0m-116.3-288.5h0m32.1 167.5h0m12.9-17.7h0m29.2-126.6h0m-65.8 147.7h0m188.6 123.1h0m-131.7-0.8h0m59.8-46.7h0m24-120.5h0m42.2 63.4h0m-163.7-44.2h0m199.2-20.5h0m-37.5-4.2h0m83.5-6.7h0m-318.6 4h0m173.4-87.9h0m-57.5 46.6h0m26.9 65.8h0m11-76.9h0m19.4 239h0m182.8-150.9h0m-26.8-6.7h0m-254.2-60.2h0m20.1 139.1h0m5.3-71h0m-0.8-174.2h0m74.8 299.9h0m-128.4-191.7h0m283.3 70.9h0m-229.4-21.5h0m104.2-126h0m-21.5 212.1h0m-115.5-202.1h0m123.1-0.9h0m-154.3 64.8h0m99.4 84.2h0m-14.3-27.8h0m246.6-18.9h0m-272.8-111h0m-14.9 53.2h0m-57.4 2.9h0m102.5 151h0m63.6 99.4h0m-72.5-44.6h0m38.2-13.9h0m143.7-143.7h0m-102.8 201.1h0m-9.5-243.5h0m-123.5-95.7h0m131.4 64.4h0m-86.5 152.4h0m90.3 98.9h0m-47.2-19h0m-22.1-305.8h0m32.5 47.5h0m114.4 72.5h0m-28.9 71.2h0m-187 54.6h0m106.4-148.6h0m-68.9-41h0m-25.6 125.9h0m-9.5 7.5h0m119.5-147.3h0m31.5 10.3h0m-165.5 50.8h0m-4 76.7h0m90.2 123.7h0m-33.8-149.3h0m24.5 141.1h0m66.6-73.3h0m158.9-65.1h0m-161.5 226.4h0m218.6-228.6h0m-318.6-73.3h0m21.4 29.9h0m20.3 141.5h0m-61.3-225.6h0m49.3 225.5h0m-117.7-98.6h0m98.5-86.9h0m201.4 57.7h0m-281.1-56.8h0m161.2 1h0m-153.5 48.2h0m108.7 6.4h0m-33.7 106.7h0m63.8-115.9h0m18.1-47.6h0m-56.6 34.4h0m279.3 95.2h0m-238.5 140.5h0m97-44.3h0m-108.7-96.3h0m-38.4 65.2h0m-3.9 26.9h0m41.2-157.5h0m-139-39.1h0m248 112h0m-189.2-0.8h0m40.5-167.6h0m-58 37.3h0m-33.6 110.1h0m322.2 38.3h0m-299.2-8.6h0m225.2 75.4h0m-145.1-10.1h0m41.8 102.3h0m-150.6-186.7h0m50.1-54.9h0m53.5 99.7h0m10.9-13.8h0m-15.7 88.7h0m1.4-97.4h0m258.7 13.9h0m-272.7-109.5h0m-80.2 58.5h0m-15.2-9.4h0m127.8-13.6h0m213.8 32.8h0m-293.2-3.4h0m-33.3 14.3h0m78.4 19.2h0m133.8-14.5h0m-87.9-82.9h0m138.2 172.9h0m-95.1-89.7h0m102.1-55.4h0m96.4-14.2h0m-156 36h0m-102.5 112.6h0m-27.9-84.9h0m25.7 63.6h0m190.3-125.1h0m-190 52.8h0m27.9 80.5h0m-73.7-124.1h0m-43.7-10.2h0m107.8 182.6h0m-99.8-89.8h0m145.4-166.6h0m-27.6 236.9h0m-95.9-278.9h0m-15.1 171h0m-28.3-42h0m185.4-84.4h0m187.6 145.4h0m-348.8 7.4h0m39.4-192.1h0m-17.5 62h0m54 60.9h0m14.9-15.3h0m-3.6-70h0m-67.3 4h0m77.1 262.6h0m34.2-234h0m22.6 244.8h0m-12.6-246.3h0m8.9 30.5h0m-180.2-8.4h0m134.6 6.6h0m117.5 215.9h0m-210.4-127.5h0m77 49.5h0m-43.8 22.2h0m-93.2-108.5h0m223.9-40.1h0m-166.2 129.2h0m28-62.6h0m98.6 138.9h0m-113.4-58.1h0m115.8-127.1h0m-131.8-47.1h0m46.7-20h0m21.4-3.4h0m242.3 80.8h0m-236.5-96.5h0m162.5 70.9h0m-162.1 203.2h0m-48.5-165.7h0m167.8 41.5h0m-104.2 58.7h0m-65.5-259.6h0m114.2 346.1h0m-37.7-62.4h0m195.6-134.9h0m-208.9-9.7h0m-55.4-33.5h0m87.7 100.7h0m146.5-41.9h0m-70.4-20h0m-157.6 143.8h0m160.2-158.5h0m-137.4 33.7h0m-2.3 9h0m42.7 122.4h0m-36.2-81.2h0m210.1-86h0m-243.3 46.5h0m67.6 184.7h0m43.8-282.6h0m-74.9 105.3h0m-46.1-128.2h0m67.3 10.7h0m-79.5 38.1h0m-43-61.3h0m127.2 89.6h0m-118.3 38.4h0m8.7 19.2h0m318 22.5h0m-116.2-20.2h0m-30 43.1h0m-73.4-158.9h0m59.6 284.9h0m107.7-81.5h0m-170.1 44.3h0m220.8-126.1h0m-227.4 97.9h0m-44.6-98.1h0m-53.8-5.7h0m2.3-145h0m300.6 157.6h0m33.6-76.6h0m-236.4-61.3h0m144.5 199.4h0m-224-37.3h0m253.2-116.7h0m-146.6-38.5h0m24.3 223h0m-130-229.5h0m313.2 65.7h0m-253.6-64.3h0m36.4 270.1h0m-44.8-258.9h0m-41.6 75.5h0m176.7 95.7h0m-95.5-76.2h0m125 137.2h0m82-92.7h0m-269.8 51.4h0m20.9-2.1h0m243.2-121.7h0m-118.6-69.9h0m-208.9-5.7h0m155.4-11.4h0m-66.7 186.4h0m58.4-198.2h0m121.3 56.2h0m124.3 59.8h0m-315.1-98.3h0m121.7 99.3h0m-17.4 62.5h0m-71-74.2h0m4.9-29.5h0m-8.4-106.7h0m-86.1 77.5h0m84.3 171.8h0m58.4 69.9h0m-30.5-170.3h0m207.5-20.4h0m-268.7-90.7h0m37.1 53.5h0m65.2 245.5h0m-177.5-290.5h0m167.7 252.2h0m-130.7-99.3h0m54-148.6h0m-75.2 134.4h0m126.4 45.4h0m188.5-112.4h0m-318.6-73.1h0m23.1 125h0m25.7-50.4h0m-68.4-22.6h0m10.6 46.4h0m-10.5-11.1h0m295.7-13.7h0m-254.6 8.1h0m-34.9-20.3h0m302.1 69.7h0m-167.9 154.3h0m-16.9-132.5h0m51.4 159.7h0m-120.5-278.8h0m350.2 52.4h0m-305.4 71.2h0m97.9-66.8h0m-62 122.9h0m-53.2 13.1h0m67-27.9h0m222.4-140.4h0m-35.9 60.6h0m-85.1 49.7h0m-176 56h0m-44.9-205.4h0m115-55.9h0m193.7 126.6h0m-199.9-109.9h0m-88.9 1.1h0m7.6 124.8h0m129.1 144h0m-73.9-165.7h0m44.5 125.7h0m149.6-140.8h0m-218.1 65h0m21.5 119.7h0m229.7-90.9h0m-303.2-82.4h0m-8.3-26.3h0m230.1 5.4h0m-72.7 180h0m190-175.7h0m-166.2 58.7h0m-141.7-165.6h0m86.3 247h0m39.5 81.7h0m33.6-121.7h0m-153.7-201.4h0m-29.1 198.4h0m55-172h0m62.9 302h0m-112.6-213.4h0m-16.2-33.9h0m89.1-33.2h0m-22.3 203.1h0m66-199.5h0m-0.1 89.7h0m-69.4-127.5h0m-17.3-38.9h0m82.1 335.5h0m-8.8-239.5h0m-48.8-70.3h0m28.7 165.3h0m-24.3 31.6h0m98.9-80.6h0m61.3-29.9h0m-113.2 213.7h0m15.9-4.1h0m93.1-73.2h0m-88.8-227.5h0m-65.4 29.2h0m7.6 110.7h0m52.9 198.9h0m-8.4-32.6h0m18.4-39.4h0m116.4-143.9h0m-105.1-96.6h0m7.4 176.8h0m-115.4 2.2h0m4.4 31h0m-23.2-45.6h0m102.4-209.8h0m-9.6 290h0m28.9 48.6h0m180.3-139.4h0m-178.9-19.7h0m-111.9-68h0m192.1 205.3h0m-196.8-195.2h0m-28.5-125.3h0m96.2 247.3h0m-88.1-194.2h0m296.4 127.4h0m-254.1-101.3h0m121.4 88.4h0m-175.8 40h0m57.1-86.8h0m-45.8-9.6h0m18.8 127.9h0m-4.8-152.4h0m79.4-38.1h0m-97.2 66.4h0m42.4 71h0m-40.2 25.1h0m170.9 6.8h0m68.4-41.6h0m76.6-53.7h0m-338.1-60.2h0m218.2 94.8h0m-204.3 11.5h0m142.9 58.8h0m-116.8-195.6h0m-38.1 5h0m172.2 55.7h0m-22.3 92.7h0m-139.5-87.9h0m128.8-99.7h0m-58.3 39.5h0m65.6 103.7h0m43.6 93.7h0m-148.9-218.7h0m14.9 48.4h0m-7.8 141.5h0m278.6-92.3h0m-161 88.6h0m-43.1-78.9h0m49.5-51.5h0m-26.3-74.9h0m-138.9 61.4h0m102.3 223.4h0m-55-196.9h0m61.3 174.2h0m-16-83.3h0m-24.6-34.5h0m-10.3 7.2h0m48.3-143.7h0m28.5 115h0m-61.5-33.5h0m-102.7 31.3h0m92.2 145.6h0m130.5-96.2h0m-162.6-18.2h0m11.1 93h0m78.7-238.5h0m-41.3 103.9h0m-54.6-25.7h0m1.8 116.8h0m-19.6-95.3h0m182.9 140.9h0m-118.4-49h0m288-31.9h0m-239.3 208.7h0m0.8-241.6h0m-37.7 129.9h0m-34.8 38.9h0m18-305.8h0m57.5 29.3h0m52.1 208.1h0m-146.6-99.3h0m69.5-150.9h0m133.9 297.8h0m-176.7-169.5h0m-8.5 48.1h0m43.4 101.8h0m-113.3-216.3h0m217.2 137.7h0m-48.6-77.6h0m-45.6 151.9h0m-82.7-232.3h0m-49 139.8h0m322.5 38.4h0m-277.7-160h0m215.7 257.8h0m-158.2-186.7h0m-41.1 89.2h0m30.8 94.6h0m156-156.7h0m-21.8 34.3h0m26.8 89.4h0m-154.6 6.9h0m23.8-175.3h0m126.4 241.6h0m-140.3-245.2h0m-85.3 59.2h0m-8.7-57.4h0m107.3-51.2h0m-52.6 215.3h0m-15.8-161.3h0m-6 128.5h0m-57.9-72.3h0m113.4 111.8h0m-52.9-259.4h0m-4.5 101.6h0m27.3 127.2h0m-24.4-15.4h0m15.5-152.6h0m105.9 243.3h0m177.7-83.3h0m-321.2-156.4h0m-12.3 86.8h0m169.2-43.9h0m-149.4 29.8h0m7.7-113.9h0m-38.6 86.7h0m142.1 217.1h0m-106.9-92.8h0m122.4 66.2h0m168.1-168.7h0m79.6 34.6h0m-219.9 130.3h0m-177.1-276.3h0m91.2 18.3h0m-75.3 47h0m20-59.4h0m56.2 133.2h0m-27.2-20.4h0m53.6-83h0m-86.4-54.6h0m61.8 7.2h0m-21 65.8h0m60 95.8h0m15.3-156.9h0m9.1 353h0m100.3-239.9h0m-70.8 202.4h0m-185.5-297.3h0m113.6 254.1h0m19.2-100.7h0m59.4-145.4h0m-172.3 169.4h0m375.7-49.1h0m-294.5-126.2h0m9.7 120.8h0m-12.1 140.2h0m36.1-180.6h0m39.4-48.5h0m-124.2-30.1h0m-35.6 110.6h0m34 100.9h0m87.2-75.2h0m-16.9 160.8h0m142.7-201.8h0m-246.6 49.6h0m125.2-70h0m-130.7 70.5h0m27.7-62h0m120.9 166.8h0m-100.5-245.3h0m25.8 21.1h0m293.2 118h0m-238.2 106h0m82.9-39.7h0m-103.5-79.1h0m-20.9-138.8h0m1.1 145.6h0m40.1-36.1h0m-12.6 126.3h0m201.4-54.2h0m-90.3 62.1h0m-211.2-121.6h0m81.9 74.5h0m129.6-8.5h0m-183.4 14.5h0m29.5-209.1h0m36.6 246.2h0m106.7-104.9h0m-32.6 79.5h0m113.6-56.4h0m-90.5 32.8h0m10 114.4h0m99.3-225.7h0m-257.9-64.7h0m310.8 83.3h0m-214.2 192.7h0m-137.7-161.1h0m209.1 4h0m-150.9-54.1h0m87.2 95.9h0m21.8 0.2h0m-108.3-72.8h0m276.6 60.1h0m-382.7-65.1h0m70.4 92h0m211-36.7h0m-52.8 26.3h0m-5.1-83.1h0m187.4 14.8h0m-217.5 102.2h0m8.7 116h0m-130.5-183.6h0m116.9 187.1h0m90.5-64.4h0m-239.6-118.8h0m-6 41.2h0m55.9-15.3h0m49.6 95.1h0m222.7-119h0m-267.8-171.7h0m26.3 183.9h0m-57.5-8.4h0m-37.9-1.6h0m56.5-80.4h0m-2.8 106.6h0m74.3-148.5h0m-60.7 234.3h0m144.2 31.6h0m-113-333.7h0m-102.5 104.5h0m241.4 169.9h0m-130-67.2h0m-98.6-193.8h0m304 101.1h0m-255 16.4h0m191.9 189.4h0m-169.6-84.7h0m-48.1-95.8h0m186.2 77.2h0m-104 95.4h0m-1.3 38.1h0m-59.6-201.7h0m13.6-18.9h0m-2.8-51.1h0m0.9 19.3h0m267.5 63.5h0m-175.7 157h0m95.9-195.2h0m-144 45.8h0m157.6-41.7h0m-190.3-33.2h0m99.9 77h0m-183.8-29.2h0m146.3 210.1h0m4-313.6h0m207.4 133.8h0m-253.2 152.7h0m-76.5-136.5h0m164.2 29.6h0m-32.9 144.6h0m17-270.9h0m-57.3 179.1h0m0.4 29.1h0m139.2-158.9h0m-105.4 91.3h0m37-101.1h0m-127 143.3h0m103.6-211.6h0m-36.4 241.6h0m-8.8-193.3h0m175.4 84.3h0m-18.2-1.9h0m-231.2 33.5h0m33.4-89.6h0m88-10.7h0m115.6 12.1h0m-291.1 34.8h0m340.6-3h0m-328.5 10.2h0m138.3-1.8h0m-20.9-152.2h0m27 357.4h0m-139.4-272.6h0m46 168.7h0m41.3 0.5h0m49.6-7.7h0m-64.5-26.3h0m71.2-149.7h0m-53.2 9.3h0m-95.2-26.9h0m114 132.3h0m85-62h0m-52.8 132.1h0m-7.7-14.6h0m20.1-150h0m-49.6 218.8h0m25-197h0m85.6 149.9h0m64.8-164.2h0m-290.2-90.8h0m96.3 48.3h0m26.6 48.2h0m-57.1-63.5h0m334.3 86.2h0m-20.2 42.8h0m-239.8 2.1h0m-4.7-182.7h0m-53 224.4h0m26.2-62.3h0m127.4-24.8h0m-43.3 11.2h0m-97.1 51.3h0m44-82.5h0m226.2 70.8h0m-11.3-56.6h0m-187.6 202.8h0m-145.9-278.5h0m89.1 257.6h0m-110.3-286.7h0m23.3 189.8h0m-4.1-93.2h0m87.1 167.7h0m34.2 31.7h0m-0.6-278.4h0m3.4 287.4h0m-90.9-100.1h0m59.9 21h0m86.9-150.5h0m26.7 166.2h0m-31.3-214.7h0m-107.8 85.7h0m41.6 45.7h0m-46.8-15.8h0m69.6 193.8h0m-0.5-62.8h0m87.5 13.2h0m-94.5-329.5h0m-140.3 135.1h0m10.5-3.4h0m303.4 46.7h0m-217.7-113.9h0m-79.1 140.2h0m108.5-99.3h0m8.2 269h0m-37.6-320.7h0m88.3 157.3h0m-57.8-148.4h0m-41.2 88.8h0m276.2 72.8h0m-337.7-151.6h0m208.6 130.6h0m-80.2 1.6h0m20.2-167.6h0m49.9 240.3h0m-40.3-27.2h0m191.5-84h0m-312.6-75.3h0m169.4 192.3h0m-201.5-148.6h0m62 177.5h0m13.3-183.2h0m-98.2-95.7h0m93 143.7h0m-37.1 103.3h0m7.9-114.9h0m-60-88.7h0m-4.4 142.4h0m56.7-45.5h0m-2.8-152.1h0m62.6-31.2h0m-80.5 231.1h0m126.8-0.2h0m-115.2 11.1h0m305.8-14.4h0m7.5-65.1h0m10.6 9.3h0m-300.2 108.4h0m-56.3-135.5h0m77.9 173.2h0m-56.1-170.1h0m223.7 54.1h0m-131 93.7h0m-138-131.7h0m154.2 181.5h0m17.1-319.3h0m-36.5 345.2h0m-32.3-68.4h0m-16.1-0.3h0m51.8 22.9h0m-97.6-164.1h0m37.1-99.7h0m63.5 111.5h0m-94.1-87.1h0m65.9 213.7h0m-47.8-58.2h0m69.1 78.5h0m-14.8-164.7h0m-119.5-69.7h0m142.3 183.2h0m-127-229.1h0m245.2 249h0m-211.2-158.3h0m-12.9 45.9h0m73.5-150.5h0m136.8 314.5h0m43.2-147.5h0m-182.7 130.4h0m18.6-17.1h0m-28-156.3h0m217.4 77.8h0m-143.5 115.5h0m55.5-131.7h0m-147.4-99.2h0m-22 66h0m154.4-11.1h0m-165.4 11.4h0m23.8-156.3h0m105.5 18h0m-147.1 31.8h0m58.9 178.9h0m38.2-71.4h0m27.9-112.1h0m155.7 93.7h0m-50.1-4.8h0m-187.7 49.8h0m-37-40.3h0m-3-61.6h0m215.9 188.2h0m-78.1 71.5h0m85.7-228.8h0m82.4 87.9h0m-296.6-192h0m28.6 134.5h0m-25.3 57h0m177.9 125.1h0m-174.7-221.5h0m37.6-104.5h0m90.6 189.7h0m-101 18.4h0m34.3 30.4h0m2.7-164.6h0m123.8 185h0m-36.6-83.9h0m-181.1-127.3h0m110.7 20.8h0m-57.3 144.7h0m-74.2-124.2h0m56.2 18.7h0m158 58.8h0m-177.4 21h0m137.3-161.8h0m138.3 140.6h0m-86 147.6h0m-129.6-168.1h0m103.6-47h0m-62.7-11.3h0m30.1 55.6h0m-5.1 183.7h0m212.1-156.3h0m-145 138.4h0m-172.7-268.7h0m104.5 249.4h0m-158.3-152.5h0m25.8 80.1h0m-12.6-6.1h0m140.6-14.3h0m-28-21.9h0m19.9 122h0m-26.4-309.5h0m-70.1 64.8h0m31.1 133.1h0m10.6-189.3h0m282.8 163.3h0m-142.9 129.4h0m13.1-139.2h0m-114.4 97.1h0m71.3-150.7h0m-128.7 177.2h0m16-73.1h0m21.3-10.3h0m154.9 75.1h0m-252-216.8h0m3.2-25.1h0m134.3 260.9h0m-142.8-241.2h0m181.6 8h0m-162.9 68.2h0m151 178.7h0m-104.7-124.1h0m267.7-14.2h0m-265.3-145.6h0m-6.3 11.2h0m19.5 164.2h0m-32.6-114.8h0m313.7 72.3h0m-143.6 36.2h0m-162.6-142.5h0m85.4 48.4h0m-15.3 222.1h0m-146.7-145.7h0m354.8 31.9h0m-152.9-13h0m41.4-6.2h0m-76.3 168.7h0m-33.7-222.3h0m-53.5 105.9h0m-41-151.8h0m142.2 161.3h0m-107.1-50.3h0m14.4 31.7h0m-42.7-86.6h0m78.6 50.9h0m-33.3-15.3h0m-28.6-110.8h0m84.9 279.9h0m7.4-27.6h0m41.9 38.7h0m-82.4-157.4h0m38.9 176.3h0m236-173.9h0m-155.2 47.4h0m-58.4-201.6h0m19.9 285.1h0m-25.3-114.8h0m-73.1-186.5h0m102.1 265.6h0m-81.3-21.4h0m-65-91.9h0m331.4-14.1h0m-338 77.6h0m142.2-126.4h0m-104.2 53.2h0m-19.2 5.3h0m7.4-66.2h0m174.1 31.9h0m13.1 185.5h0m-10.8-44.8h0m-159.5-170.2h0m51.2 195.5h0m-26.4-197.2h0m-40.9-49.3h0m124.3 39.9h0m-51.9 140.6h0m-2.8 113.4h0m-23.3-157.3h0m34.3 161.3h0m-27.1-230.5h0m9.3 34.2h0m-42.2 123.8h0m43.9 7.1h0m225.4-137.6h0m-210.8-133.3h0m-141.5 162.8h0m0.9-127.3h0m93.5-8.7h0m154.1 265.7h0m-226.2-190.8h0m37.9 43.4h0m215.6 124.6h0m-109.2-170.4h0m-134.8-114.8h0m280.5 101.8h0m-169 33h0m19.6 28.7h0m-57.3-6.8h0m-14 77h0m9.3-98.9h0m20 109.6h0m49.7 43.5h0m-183.4-152.1h0m99.2-34.7h0m8.6 5.9h0m290.6 50.4h0m-315.7 25.5h0m135.6-18.8h0m-20.6-23.9h0m-125.1-139.9h0m61.5 103.7h0m21.1-8.7h0m-59.6 142.8h0m86.4 56.1h0m27.4-187.4h0m-56.6-101.2h0m43.5 164.7h0m61.9 48h0m-185-177.5h0m-44.5 179.3h0m253.9-116.9h0m-197.3 19.3h0m115.1 207.1h0m-112.7-195.7h0m40.9 62h0m-74.7-134.3h0m246.6 51.1h0m-192.4 96.1h0m3.4-79.7h0m-45.2 5h0m-47.6-63.8h0m184.7 222.8h0m-163-186.5h0m-6.4 37.1h0m165.6 168.3h0m-65.8-50.3h0m60.6 52h0m-160.3-152.8h0m134.6 176.3h0m72.8-56.3h0m-27.9 45.5h0m-164.1-323.3h0m298.2 171.5h0m17.7 22.4h0m-12.2-69.7h0m-176.2 206.9h0m-71.9-260.8h0m31.6 233.7h0m-92.7-302.9h0m119-26.5h0m-22.5 211.1h0m0.6-63.1h0m19.3 243h0m65.6-259.7h0m-120.6 176.3h0m4.4-28.2h0m264.2-81.5h0m-347.3-85.8h0m383.1 72.5h0m-89.8 1h0m-26.1 8.7h0m-174.4-85.9h0m27.4-73.3h0m57.4 206.7h0m36.5-89.8h0m-122.1-59.5h0m-75.8-32.8h0m139.3 283.5h0m208.6-177.1h0m-133.7 153.1h0m-189.1-152h0m-7.1-100h0m-3.6-4.7h0m-46.6 55h0m181.6-32h0m141.5 124.1h0m-73.6 41.6h0m-229.7-50.6h0m31.6-33.1h0m119.4 205.3h0m-76.6-272.4h0m6.5-81.9h0m25.6 129.5h0m-87.9 30.6h0m96.5 18.2h0m8-102h0m-131.1 96.7h0m15.8-169.3h0m162.1 338h0m-131.9-352.2h0m30.5 52.5h0m-74.5 97.6h0m102.2-40.3h0m-49.5 70.6h0m85.8 140h0m63.6-123.1h0m34.9 63.3h0m-178.1-181.4h0m334.2 77.9h0m-94.5 3h0m-183.8-54.7h0m72.7 24.5h0m-141.7-31.9h0m-9.1 152.5h0m12.4-30.6h0m26.6-199.4h0m-92.4 82.6h0m126.1 239.7h0m105.8-222.6h0m-37.5 30.9h0m-207.5-0.7h0m231.8-9.6h0m-104 44.5h0m280.6-47.3h0m-135.1 198.4h0m-244-312.1h0m220.7 133.2h0m-83.9 181.2h0m229.6-127.8h0m-351.4 31.5h0m-6.4-219.4h0m137.3 53.8h0m-60 182.8h0m-23.6 19.1h0m62.6 37.5h0m49.2-71.5h0m-29.7-85.5h0m-71 129.8h0m76.4 64.3h0m-14.9-68.9h0m-42.1-204.7h0m54.8-53.1h0m194.9 147.2h0m-65.4 5.2h0m-212.3 27.2h0m-2.7-122h0m192.9 238.1h0m-223.2-309.6h0m269.9 109h0m63.4 12.3h0m-271.7 75.9h0m31.7-0.2h0m86.9-70.3h0m29.6 93.4h0m-4.9-96.8h0m-164.1 145.1h0m120.2-198.5h0m-119.7 180.2h0m-30.7-160h0m316 30.8h0m-147.5 22h0m-77.5 196h0m-64.2-166.5h0m131 24h0m182.5-59h0m-272.3 39.8h0m-18.3-62.1h0m101.7 6.2h0m159.6 27.6h0m-353.7 12.5h0m143 25h0m-102.8-100.5h0m290.3 98.2h0m-292.7-189.5h0m-13.9 59.4h0m78.1 87.8h0m-63.9-74.5h0m-13 23h0m37 140.5h0m49.6-152.5h0m146.1 58.3h0m-266.8 10.5h0m11.9-62.4h0m46.8-100.9h0m114.4 81h0m3.4 75.8h0m-47.7-55.7h0m-29.3 193.8h0m60.5-53.4h0m232.3-52.8h0m-308.1-64.8h0m23-54.9h0m19.4 146.6h0m-81.9-144h0m100 44h0m-85.9 98.4h0m9.2-156.7h0m-20.5-27.4h0m64.1 87.2h0m-130.5 47.1h0m107.6 13.2h0m-81.2-82.5h0m109.2-70.1h0m63.3 323.5h0m-86-109.4h0m117.5-87.4h0m-83 141.8h0m102.4-43.8h0m66.7 14.5h0m-207.7-198.6h0m-56.7-8.6h0m82.6 146.9h0m152-16.3h0m-189.5-92.9h0m-65-3.3h0m36.6 90.7h0m319.8-33.5h0m-278.6-63.2h0m-91 96h0m241.1 83.6h0m-213.3-81.7h0m59.7 2.2h0m104.4-28.4h0m64.4 157.9h0m-221.1-99.8h0m27.6-169.1h0m7.2 194.2h0m-12.9 14h0m325.7-107.5h0m-297 49.9h0m61.1-132.1h0m-57.3 124.2h0m138.1-57.6h0m-50.5 203.8h0m-69.1-113h0m-34.4 32.1h0m-76.8-101h0m50.6-112.2h0m90.6-27.3h0m24.9 224.6h0m-1-134.5h0m-5.4 193h0m-8.2-126.5h0m-28.5-147.8h0m-4.2 154.6h0m-14.8 84.1h0m57.5 60.6h0m-26.7-141.1h0m-12.8 0.2h0m-83-38.8h0m60.1-30.5h0m146 24.9h0m-138 183.1h0m143.3-65.8h0m29.2 36.8h0m-215.8-4.4h0m-13.6-17h0m4.9-211.9h0m112.1 50h0m-58.7 110.4h0m210.7-44.7h0m-305.4 61.2h0m162.5-198.2h0m-105.9 15.5h0m-18 107.4h0m-5.4-139.5h0m-3.9 140.6h0m39.9 73.7h0m161.3-72.6h0m-133 162.6h0m98.1-209.9h0m-173.8 93h0m100.8 84.3h0m209.2-149.9h0m-283.5-34.1h0m2.6 128.6h0m89.8-77.5h0m26-36.1h0m7.4 197h0m-154.4-100.2h0m106.2-175.6h0m-107 78.4h0m73.8 28.5h0m-66.2-77.1h0m-50 74.6h0m75.1 49.6h0m24.3-50h0m81.8-142.1h0m52.2 191.1h0m-156.3-134.4h0m-42.3 154.5h0m19-44h0m8.6 72.8h0m1.1-236.7h0m189.1 279.9h0m-119.2-79h0m71.3-157.2h0m-91.5-18.2h0m278.5 118.3h0m-323.9-16.4h0m23.7 36.3h0m-88.3-56.4h0m100.1 147h0m288.7-77.6h0m-331.1 4.1h0m-31.9 29.3h0m-9.4-94.5h0m88.2-54.4h0m75.7 34.9h0m-129.6 92.8h0m1.2 22.3h0m110.2 72h0m102.1-20.7h0m-87.6 89.9h0m-83.4-201.5h0m-20.1 86.4h0m6-123.3h0m45.6-126h0m-119.8 151.9h0m397.4 45.2h0m-235.7 36.5h0m-100.6-76.8h0m-25.4-114.5h0m37.5 178.5h0m17.9-212.1h0m63.4 175.2h0m-96.4 83.6h0m253.3-64.9h0m-304.8-100.1h0m91.1 211.1h0m33.9 43.7h0m-97.5-211.2h0m13-25.7h0m182.2 178.7h0m-67.5-254.3h0m-80.7 114.9h0m68.3-24.7h0m-40.9 6.8h0m-67.5-9.7h0m220.6 176.3h0m-263.4-118.6h0m180-50.3h0m-26.3-67h0m-36.8 125.4h0m-6.7-176.4h0m214.2 137h0m-226.4 26.8h0m-80.3-22.5h0m150.8 66.1h0m-74.3-17.6h0m2.8-152.2h0m-11.1 16h0m17.2 118.9h0m-10.1-162.1h0m67.9 343.4h0m94.3-226.2h0m-147.6 25.8h0m71.6 13.4h0m10 127.3h0m32.7-236.5h0m2.6 146.7h0m-164.1-208.8h0m-55.6 116.9h0m159.2-128.7h0m38.9 188.9h0m-107.5-64.7h0m-59.2 0.3h0m308.6 56.7h0m-149-36.1h0m-92.7 51.4h0m-36.8-69.2h0m8.1 142.6h0m-20.6-125.4h0m182.7 117.1h0m-116.8-3.4h0m-109.4-189.7h0m34.1-64.8h0m-52.9 168.2h0m336.2-10.8h0m-199.6 167.9h0m120.9-162.1h0m-207.1 90.6h0m95.7 114h0m-34.2-379.9h0m-103.8 71.6h0m82.3 97.9h0m-12.7-158.8h0m128.4 222.8h0m-169.5 12.1h0m130.7-148.6h0m-72.2 198.3h0m-3.3 6.3h0m105-142h0m-123-111.1h0m-49.9 6h0m287.4 221.6h0m-168.1 15.2h0m-28.7 4.6h0m-56.2-211h0m36.1 139.7h0m314.3-72.2h0m-307.7 136.9h0m83.8-198h0m-25.3-5.4h0m4.9 128.7h0m-106.7-124.2h0m90.3 116.5h0m196.5-28.7h0m23.6-15.8h0m-209.6 175.2h0m-134-114.1h0m69-87.9h0m29.4 134h0m111.3-26h0m-110.4-202.8h0m-32.8 33.1h0m244.1 119.2h0m-319.2-128.3h0m24.4 100.4h0m125.1 190.7h0m43.7-292.8h0m28.6 267.4h0m-113.7-200.6h0m-35.8 4.3h0m-23.8-16.9h0m29.3 26.3h0m-72.1 32.6h0m102.1-68h0m140.3 197.6h0m-244.3-97.8h0m197.8 27.1h0m-11.3-113.1h0m-124.6 41.1h0m279.1 58.4h0m-155.6 139.4h0m-1-9.7h0m-51.5-199.3h0m-149.7-10.2h0m98.2 117.9h0m97-120.1h0m-15 87.5h0m-18.6-204.1h0m-102.5 194.4h0m45.8 44.7h0m65.6-138.8h0m-47.6-22.7h0m-36.2 84.2h0m-61.2 9.3h0m291.6 20h0m-116.3-151.2h0m130.4 173.7h0m-180.8-237.2h0m25.8 365h0m75.5-239.5h0m-217.2 105.6h0m189.2-114.3h0m-143 177.8h0m47.2-87.2h0m80.2-36.7h0m-95.1-71h0m-60.9 121.7h0m63-161.9h0m-8.4 113.4h0m88.6-102.3h0m-128.1-0.4h0m22.3 164.2h0m111.7-115.6h0m66.6 27.2h0m-218.6-0.6h0m66.9 23.5h0m-37-163h0m-55 130.6h0m128.6 233.2h0m233.2-205.8h0m-288.8 18.3h0m52.5-78.4h0m-91.9-60.5h0m125.6-3.7h0m-22.4 272.1h0m-132-218.9h0m-6.1 112.3h0m256.3-70.4h0m-149.9 160.1h0m97.8-29h0m-173.5-215.5h0m65.2 14.9h0m-64.5 63.8h0m-32.3-41.5h0m65.9-22.5h0m61.7 147.9h0m-125.3-85.7h0m296.4 9.6h0m-95.1 78.2h0m-189.6-136.9h0m46 184.5h0m23.7-81.1h0m266 6.8h0m22.4-25.7h0m-347.9-112.8h0m121.7 303.2h0m-164.7-244.3h0m155.7 87.4h0m-74.1-70.2h0m26.7 122h0m-31.6-15.2h0m-25.6-175.6h0m191.1 152.1h0m-222.3-149.7h0m192.7 41.3h0m-81.2-38h0m9.9 130.3h0m159.2-31.2h0m-219.9-122.9h0m-59 53h0m385 75.7h0m-322.5-21h0m-10.5-101.6h0m163.1 128.2h0m-10.6 80.8h0m-152-231.2h0m-2.6 61.3h0m248.9 57.6h0m-283.4-120.8h0m0.6 237.9h0m162.5-78h0m-174.6 36.2h0m142.3 172.7h0m-64.1-317.9h0m-11.2 2.2h0m-9.8-70h0m21.6 158.6h0m-55.9 108.1h0m12.1-25.7h0m248.1 21.4h0m-169.5-106.4h0m-74.8-73.8h0m24.3-44.1h0m34.8 92.8h0m0.1 61.2h0m24.2 91.7h0m78.6-26.8h0m-40.4-200.8h0m-34.9 214h0m-109.6-239.6h0m318.9 177.4h0m-178 125.2h0m217.2-149.2h0m-270.8 87.5h0m-28.3-154.2h0m19.3 35.2h0m247.3-10.3h0m-54.2 16.1h0m-280.8 73.9h0m343.1-13.7h0m-257.5-78.2h0m-41.5 166.4h0m269.3-105.9h0m-34.7-25.4h0m-282.4 11.6h0m103.2 112.8h0m-94.7-265.8h0m157 183.5h0m-51.1 60.8h0m158-84.4h0m-69.6-38.8h0m-237-22h0m114.4 142.2h0m-23.4-230.6h0m253.2 118.6h0m-296.2 29.8h0m75 100.3h0m-101.8-267.1h0m69.2 91.4h0m44.1 49.8h0m18.3 137.7h0m-78.5-162h0m34.5 103.3h0m158.6 34.3h0m-13.6 24.1h0m-176.4-193.2h0m119.8-3h0m-60.8 83h0m-58.9-41.6h0m1.6 41.4h0m114.1-42.6h0m-101.3-122.3h0m-64.7 152.5h0m186.8 45.1h0m-151.6-216.1h0m256.6 159.4h0m-276.5-103.6h0m-28.8 115.8h0m91.1-75.2h0m116.4 114.5h0m-152.8-24h0m125.4 34h0m-106.4-216.8h0m150.3 163.5h0m-180-36.9h0m8.7-83.5h0m11.9 64.6h0m160.7 64.6h0m-107.2 161.4h0m-81.9-95.7h0m21.2-120.8h0m96.2 154.6h0m96.6-127.8h0m9.4-21.1h0m-74.9-31h0m-146.2 108.8h0m69.4 20.5h0m-35.4-8.9h0m54.1 28.2h0m38.5-105.3h0m-18.7-58.2h0m-147.3 54.9h0m143.2-113h0m21.7 304.5h0m10.4-102.1h0m34.6-137.6h0m79.9 56h0m-122.3-123.5h0m-11 2.3h0m163.4 184.4h0m-233.5 25.3h0m126.4-171h0m-99.7 174.3h0m-57.9-96.8h0m-60.6-14.1h0m2-60.3h0m130 279.2h0m107.8-17.3h0m-119.8-100.3h0m75.9 101.2h0m-99.5-160.1h0m67.2 206.2h0m85.2-100.8h0m-194.1-179.5h0m97.8 60.9h0m-54.4 73.3h0m1.9-25.2h0m156.8 103.7h0m43.3-109.6h0m-122.6 182.1h0m-76.4-341.3h0m17.8 135h0m62.1-153.5h0m-28.1 175.2h0m-2.2-5.5h0m211.2 6.6h0m45.4-32.9h0m-319 41.7h0m149.5-87.1h0m-158.1 14.8h0m255.3 57.7h0m-230.9-156.6h0m143.7 89.3h0m-221.2-57.1h0m268.9 123.4h0m-113.1 115.1h0m-131.3-159.3h0m22.1 142.3h0m-33.8-126.4h0m145 161.9h0m-175.3-202.6h0m201.2 44.1h0m132.8-39.6h0m-304.8 52.7h0m333.5-5.4h0m-369.7-11.2h0m254.3-43.7h0m-178.2 154.1h0m111.5-42.8h0m-12.3-170.2h0m202 161.4h0m-360.2-182.6h0m376.6 160.9h0m-211.9-181.3h0m-173.6 146.9h0m205.2 16.1h0m-125.7-30.9h0m-9.9 118.3h0m28.7-52.1h0m-108.9-139.6h0m132.6 114.4h0m-68.3 67.6h0m40.6-37.5h0m19.5-152h0m56.4 42.5h0m28.3 103.3h0m-148.9 54.6h0m114.2-39.5h0m60.5 73.2h0m-146.8-291.5h0m182.3 261.8h0m83.5-101.7h0m-164.6-93.7h0m27.6 114.2h0m-129.3-116.7h0m257 151h0m-327.8-142.3h0m27-61.5h0m30.7-20.1h0m105.1 234.6h0m-65.9-3.4h0m65.7-164.3h0m-137.6-6.8h0m-15.5 138.1h0m76.6-65.9h0m-27.6-10.8h0m-47.6 116.4h0m151 74.5h0m-26.8 49.7h0m42.1-42.6h0m132.1-192.2h0m-238.1-32.7h0m148.6 26.8h0m-189.8-17.1h0m79.3-27.5h0m121.6 116.9h0m-86.9-51.4h0m-6 168.9h0m-57.8-234.7h0m70.9 228.4h0m-33.4-131.1h0m-65.4 30.2h0m74.6-68.6h0m-112.3 1.2h0m145 19.1h0m-6.2-63.6h0m-103 16.4h0m28.3-76.8h0m76.4 3.8h0m-34.6 157h0m-58-51.3h0m139.3 82.4h0m-189.1-17.4h0m158.6-46.9h0m214.3 7h0m-296.3 32.1h0m32.2 9.4h0m-134.7-20.4h0m173.1 181.4h0m58.4-33.4h0m-155.3-147.1h0m-58.1-96.7h0m193.5 105.6h0m-102.1-166.1h0m-60.1 73.7h0m-45 82.6h0m240.9 39.1h0m-73.5 94.3h0m-73.3-111.6h0m-5.4-173.3h0m3.6 281.2h0m-68.2-142.2h0m120.4-77.4h0m46 39.6h0m-198.4 38.3h0m175.9-124.4h0m44.3 119.2h0m130.2 29.7h0m-102.7 106.6h0m-234.3-249.9h0m136-41.2h0m-69.5 40.6h0m251.9 89.6h0m-261.3 5.4h0m33.6-23.7h0m13.2 169.1h0m-75.3-168.9h0m-23.9 74.9h0m222.3 115.3h0m-116.7-47.2h0m-10.2 57.2h0m-92-303.5h0m90.9 97.5h0m56.1 234.9h0m-34 1.4h0m78.3-204.5h0m-27.6 209.6h0m-79.3-187.2h0m-59.5-4.6h0m205.9 107h0m-254.9-107.2h0m-0.2-70.7h0m207.4 96.9h0m-120.5 71.4h0m257.4-58.6h0m-6.2-25.8h0m-276.5-61.5h0m222.7 158.6h0m-2.1-129.7h0m-142.5-84h0m-80 193h0m106 120h0m20-337.1h0m191.8 173.6h0m-283.5-187.4h0m78.1 134.9h0m-156.3 42.7h0m147.1-45.3h0m215.4 5.4h0m-231.8 187.3h0m32.4-11.3h0m93.8-194.6h0m-73.4 94.6h0m24.4-4h0m-192.1-143.3h0m52.3 195.5h0m36.3-83.7h0m212-74.4h0m-48.1 79.4h0m-6.1-1h0m5.4 1.5h0m-72.3 59.9h0m4.5 52.4h0m6.3-57.8h0m-38.5 0.8h0m-34.4-39.8h0m53.1 48.6h0m-63.4-55.5h0m9.6 7.1h0m64.5 64h0m-65.6-54.4h0m-0.3-14.4h0m58 49.8h0m-26.3-5.7h0m20.4 3.6h0m-18.7 7.6h0m-42.6-56.6h0m-3 1.8h0m18.8-6.8h0m-2.7 20h0m11.7 149.5h0m-173.1-235.9h0m170.6 231.9h0m249.7-219.9h0m-269.1-181.4h0m120 85.9h0m6.3 17.5h0m-37.9 21h0m17.3-2h0m-74.1 156.5h0m12.1 26.4h0m104.4-49.9h0m-73.8 26.5h0m15.6 51.4h0m-24.3 7h0m14.6 3.5h0m1.4 26.5h0m-7.8-97.9h0m-59.2 3h0m-9.7 8.5h0m-20.4 2.5h0" stroke="#D6DDE0" stroke-width="14.6"/>
<path d="M781.1 225.3h0m-91.7-123.7h0m58.7 162.8h0m4.8-17.9h0m-16.8 10.7h0m-27.3-140h0m134.4 157.5h0m154.9-17.3h0m-198.6 167.6h0m-75.5-172.5h0m280.7 0.4h0m-206.9-28.3h0m-131.3-71.6h0m54.8 198.9h0m79.9-138.6h0m203.8 46.9h0m-260.2-32.6h0m276.5 31.1h0" stroke="#CCC8F0" stroke-width="14.6"/>
<path d="M845 254.6h0m141 9.4h0m-317.3 34.4h0m231.3-38.8h0m-46.2 7.3h0m-119.8 142.2h0m105.3-127h0m52.4 12.2h0m16.1-52.1h0m34.6 85.4h0m-62.3 58.3h0m95.7-133.8h0m-255.9-162.2h0m16.1 115.5h0m145.7 23.6h0m-123.5-10.8h0m135.4 30.5h0m-122.9 67.2h0m-39.5-95.4h0m106.2 48.4h0m17.6-101.5h0" stroke="#BBA4FA" stroke-width="14.6"/>
<path d="M710.2 294.6h0m174.5 121.8h0m-19-159.2h0m19.3 37.9h0m48.6-34h0m-126.5 17.8h0m-112.5 61.1h0m293.8-27.2h0m-291.9-215.4h0m193.1 191.4h0m-185.6 73.3h0m37.9-159.2h0m251.2 113.7h0m-175.4-91.5h0m-114.8-16.7h0m-2.1-99.5h0m91.4 288.3h0m-12.7-108.1h0m80.2-10.7h0m97.4-29.7h0m-117 40.9h0m32.7-46.3h0m-75.8-43.6h0m139.7 122.6h0m-109.2 22.8h0m136.8-93.1h0m-58.5 5.7h0m-202 155.2h0m206.1-164.8h0m-93.2-10.6h0m16.5-0.7h0m-40.5 238.7h0m188.1-217h0m-80.9 126.4h0m-82.4-132.1h0m-88.3-46.6h0m41.8 13.1h0m-20.2 39.9h0m16.1-14.6h0m-23.6-26.7h0m255.7 95.8h0m-218.5-10h0m48.3-128.7h0m98.6 24.2h0m-6.7 149.5h0" stroke="#A58CF8" stroke-width="14.6"/>
<path d="M894.6 254.1h0m-269.8-38.1h0m389.2 68.7h0m-251.7-12.6h0m31.2 0.7h0m-2.6-98.1h0m-74.2 242h0m65.8-298.1h0m194.4 122.9h0m-39.7 5.6h0m-12.4 54.7h0m-170.5-36.3h0m240.4 13.3h0m-227 12.4h0m-4.3 12.1h0m-24.8-106h0m236.1 63.9h0m-179.1-138.8h0m211.6 160.7h0m-68.1 52.6h0m-136.1-110.8h0m-37.9 36.3h0m179.2-23.7h0m-13-9.8h0m77.7 68.3h0m-27.7-0.1h0m-145-49.1h0m-77.1 39.6h0m-10.4-185.1h0m-30.8 22.4h0m68.6 115h0m-43.5-46.3h0m-125.5 21.2h0m167.6 112.1h0m-160.7-161.6h0m313.1 60.6h0m-138.9 91.8h0m191.5-49.3h0m2.3 32h0m-240.9-104.8h0m58.6 33.1h0m164.8 5.6h0m-152.3 9.1h0m160-11.6h0m-203.9-104.9h0m196.8 178.7h0m-65.6-11.5h0m-50.3-63.4h0m-254 10.3h0m292.5 121.2h0m-74.6 37.6h0" stroke="#8A72F6" stroke-width="14.6"/>
<path d="M854.7 346.5h0m-118.9-156.1h0m196.1 52.6h0m37.4 38h0m-189.6 50.3h0m15-65.7h0m-163.8-146.7h0m124.5 153.2h0m66.4 60.7h0m-37.9-24.5h0m-2.6-71.9h0m118.2 46.9h0m15.6-8.5h0m-86.1-94h0m135.7 117.5h0m-187.7-130.6h0m57 1.2h0m-103.1-80.9h0m91 209.8h0m168.8 6.9h0m-209.7-43.4h0m-12.4-151.8h0m198.8 122h0m-88.4 138.5h0m-85.7-258h0m-45.2 73.5h0m30.6 22.3h0m32.1-9.3h0m52.9 193.6h0m-97.6-168h0m36.2-80.1h0m9.7 64.2h0m45.3 101.8h0m-85.6-214.1h0m47.7 196.3h0m152.4-21.2h0m-202.9-77.9h0m-31.5-19.3h0m50.1-48.9h0m174.2 199.3h0m1.9-57.8h0m-156.7 1.3h0m7.5 11.2h0m116.5 9h0m1.4-5.8h0m-158-12.5h0m45.9-21.1h0m6.6 5.4h0m76.1 73.4h0m-7.6-12.1h0m-70 51.9h0m8-211.5h0m85 208.1h0m-26.7-58h0m-14.6 4.5h0m-68.5 49.5h0" stroke="#6C5AF5" stroke-width="14.6"/>
<path d="M889 388h0m-79.8-169.3h0m7.9 112.1h0m119.1-63.4h0m-137.7-139.4h0m-14.7 42.7h0m85.6 192.9h0m8.6 29.7h0m-54-102.7h0m-69.1-134.2h0m179.1 62.2h0m-117.8 105.8h0m31.3-1.9h0m-65.4-47.3h0m1.9 10.1h0m-59.5-164.7h0m35.4 32.5h0m220 157h0m-292.3 80.5h0m135.8-86h0m37.5-84.1h0m-11.7-5.2h0m-27.4-55.3h0m-42.2 22.4h0m149.6 82.5h0m-50.1 135.3h0m-30.1-153.4h0m-60 30.8h0m78.6 69.3h0m-63.9-22.2h0m-46.1-227.9h0m95.2 123.9h0m-77.4 36.9h0m-0.7-136.2h0m75.2 274.6h0m-12.1 11.2h0m-62.5-218.8h0m-4.9-25.7h0m52.6 10.4h0m-5.3 21.7h0m-9.8 8.5h0m22 82.4h0m-18.4-2.1h0m162.3 32.8h0m-160.5-150.7h0m40.8 212.5h0m-121.3-259.8h0m207.3 154.9h0m-96.9 39.5h0m-10.1-20.7h0m-20.9 22h0m168.3-12.2h0m-52.4-54.8h0m-18.9 31.2h0m-48.9 154.4h0m53.4-234.2h0m-106.3 170.2h0m21.5 9h0" stroke="#4A4AF2" stroke-width="14.6"/>
<path d="M980.1 285.1h0m-122.3 73.3h0m90.1-83.7h0m-106.7 124.9h0m13.8 7.9h0m1.9 14.4h0m-108-299.7h0m124.2 276.8h0m-10.2-185.1h0m-41.4-48.4h0m35.6 229.8h0m107.7-87.2h0m-185.6-165.6h0m-48.1-40.4h0m35.5 41.2h0m108.1 264.5h0m5.2 5.5h0m-113.1-262.5h0m202.3 143.9h0m-140.8-77.5h0m-24.2 99.8h0m-49-167.4h0m81 152.3h0m166.8-6.7h0m-253.6-119.7h0m5.3-48.1h0m53.5 179.1h0m13.1 4.3h0m127.9-16h0m-138.6 6.5h0m-64.3-204.4h0m-11.6 67.6h0m114.2 243.5h0m117.7-122h0m-215.5-177.9h0m204.6 159.4h0m-82.9 150.1h0m-147.7-305.4h0m144.4 313h0m-138.8-268.6h0m15-24.5h0m56 236.2h0" stroke="#2340EF" stroke-width="14.6"/>
<path d="M906.5 297.6h0m-53.5-24.8h0m-155.3-131.5h0m129.7 119.8h0m-107.9 31.9h0m142.2-3.4h0m138.5-48.8h0m-226.6 49.8h0m-68.9-198.6h0m238.7 227.4h0m-167.7-86.2h0m53.7 35h0m25.5-7.7h0m-57.3 139.2h0m218-148.7h0m-251.5 207.2h0m135.7-235.2h0m-272 9.2h0m152 20.2h0m119.1-3.4h0m-23.3 51.9h0m42.7 31.8h0" stroke="#CCC8F0" stroke-width="14.6"/>
<path d="M919.8 266.1h0m-233-122.3h0m175.7 105.3h0m-65.4-18.5h0m-82.8-4.6h0m187.2 7.4h0m-154.3-12.3h0m59 121h0m-47.7-34.2h0m96.1-13.2h0m-38.5-26.5h0m-32.1-0.7h0m89-36.1h0m-221.6-16.6h0m165.8-62.1h0m44.3 131.5h0m-216.8 9.2h0m104.5-82.6h0m36.8 1.3h0m-55.4 212.3h0m-51.6-297.1h0m95.2 335.4h0m87.3-160.6h0m-61.9 52.1h0m-76.9-122.1h0m155.8 62.6h0" stroke="#BBA4FA" stroke-width="14.6"/>
<path d="M767.6 176.8h0m201.7 144.8h0m-19.3-57.2h0m-184.5-11.8h0m205.4-11.7h0m-272-114.9h0m193.6 91.7h0m-107-70.2h0m-78.3-1.8h0m64.9-29.8h0m47.7 145.7h0m-102.5-88.1h0m36.5 31.3h0m-31.6 194h0m119.5-92.7h0m121.7 11.6h0m-282.7 9h0m116.3-183.4h0m-161.9 75.5h0m141.6 2.4h0m67.5 211.1h0m149.5-145.6h0m-124.2-25.2h0m-62.4-120.7h0m60.4 229.2h0m-40.9-95.2h0m180.2-6.3h0m-138.8-44.9h0m-93.2 53.8h0m-57.3 97.9h0m280.3-144.3h0m-89.2 6.1h0m-70 24.3h0m-53.6-59.5h0m4.8 52.3h0m11.8 132.3h0m15.5-18.1h0m123.1-151.1h0m-58.3 98.4h0m21.8 32h0" stroke="#A58CF8" stroke-width="14.6"/>
<path d="M974.9 221.4h0m-218.4 37.7h0m168.1-25h0m-156-3.6h0m8.8-33h0m147.2 95.7h0m-54.3-77.4h0m115.7 63h0m-97.3-31.5h0m-51.5 6.4h0m124.8 24.2h0m-160.5-127.2h0m95 84.5h0m-48.1 190.2h0m-110.4-333.1h0m-115.5 134.6h0m254.1 27h0m54.9 46h0m-159.9-95.4h0m147 102h0m-186.4-177.2h0m73.7 159.1h0m-93.8 101.8h0m72.6-211.5h0m159.1 42.9h0m-119.1-25.8h0m-145 159.9h0m236-63.9h0m-35.6-75.9h0m-8.2 124.5h0m-7 17.4h0m-62.3-111.5h0m40.4 84.4h0m82.5-57.1h0m-217.5-149.4h0m102.8 214.8h0m29.8-112.8h0m139.7 42.8h0m-117.7 54.1h0m-13.6-18.1h0m-58.8-83.7h0m-120.3-89.3h0m214.6 125.4h0m4.1-29.2h0m-110.1 83.3h0m37.2-53.9h0m81.1 95.8h0m13-17.6h0m-83.2 52.8h0m-84.1-304.4h0m78.1 62.6h0m34 15h0m24.8 37.9h0" stroke="#8A72F6" stroke-width="14.6"/>
<path d="M850.1 355.5h0m-9.5-8.7h0m115.3-111.5h0m-169.5 108.2h0m18.7-184.4h0m13.5 184.4h0m43.2 58.2h0m-52.4-141.5h0m-36-8.7h0m176.9 57.4h0m-145.7-114.4h0m63.3 219.7h0m-77.4-220.8h0m4.4-33.1h0m-9.6-25.1h0m10.7 197.5h0m132.7-22.6h0m-150.5-197.7h0m48.1 93h0m-45.4 8.2h0m-9.1 68.9h0m179.2-60.1h0m-27.3 62.9h0m-67.3 48.9h0m44.8 58.1h0m-78.9-39.6h0m117.6-96.6h0m-196.4-153.4h0m214.1 188.9h0m-146.4 1.6h0m28.2 25h0m36.1 115.5h0m-77.7-266.7h0m56.3 196.8h0m-7.1 9h0m136.3-149.8h0m-48.2 11.5h0m-213.3-137.6h0m202.1 143h0m-126 42.2h0m1.2-7.9h0m182.8-34.1h0m-150.3-29h0m22.6 105.7h0m146.8-35.9h0m-217.6 17.6h0m40.4-118.2h0m141.8 148.4h0m-162.1 8.3h0m-27.5-162.3h0m175.5 156.9h0m-140.6-0.9h0m-108.9-213.2h0m91.4 142.1h0m70.6 70.5h0m-139.8-170h0m93.9 122.2h0m-0.7 73.6h0m148.2-134.6h0m-233.1-39.5h0m90.3 39.2h0m-95.2-77.8h0m-1.9-36.3h0m103.1 196.3h0m113.9-21.4h0m-293.2-132.9h0m304.6 168.4h0m-55.7-18.8h0m-121-192.2h0m66.9 97.5h0m26.1-14.7h0m-50.4 221.1h0m20.6-192.9h0m18.3-8.1h0m49.1-20.5h0m-3.3 115.5h0m1 59h0m-88.4 23.4h0" stroke="#6C5AF5" stroke-width="14.6"/>
<path d="M870.3 390.6h0m79.2-154.2h0m-174.1 61.4h0m127.5-9h0m-133.5-77h0m57.2-42.7h0m-71 8.2h0m13.5-44.4h0m-9.3 63h0m44.3-26.3h0m46.7 265h0m-88-262.8h0m35.5 171.3h0m186.6-55.3h0m-121.2 120.1h0m-69.3-223.9h0m-32.6-89.9h0m59.2 120.6h0m-33.4-105.6h0m4.6 131.9h0m68.8 110.1h0m-70.3-200.4h0m-39.3-55.7h0m112.6 245.8h0m46.6-109.2h0m32.2 34.6h0m-185.2-159.3h0m179.7 103h0m-78.4 159.8h0m-67.6-19.3h0m-8.3-241.9h0m43.2 247.7h0m96.6-98.4h0m-174.2-167.8h0m-18.5 34.4h0m-32.4 83.9h0m118.1-48.3h0m-48.4-58.5h0m182.7 142.8h0m-159.2 58.5h0m170.7-58.3h0m-100.4 182.8h0m68.3-169.7h0m-72.4-19.8h0m-90-52.7h0m14.3 131.8h0m168.6-62.6h0m-119.6 67.6h0m92.2-128.2h0" stroke="#4A4AF2" stroke-width="14.6"/>
<path d="M720.3 107.6h0m127.3 309h0m48.4-19.7h0m-47.5-54.8h0m-104.5-225.1h0m97.8 220.6h0m-39.3-34.8h0m171.1-14.3h0m-219.6-186.5h0m-2.9 36.7h0m-9.7 41.6h0m212.8 120.8h0m-118.9 38.3h0m9 23.6h0m-11.1-35.9h0m9.5 82.8h0m-98.9-244h0m44.7 126.9h0m201.7 0.8h0m-114.7 68.5h0m-119.9-198h0m60 142.2h0m-42.5-160.1h0m95.1 88.2h0m-140.8-83h0m122.5 177.3h0m-0.7 7.2h0m-119.4-166.4h0m152.8 77.5h0m-107 16.8h0m36.4 87.4h0m-62.1-235.3h0m104 325.8h0m-29.5-122h0m-89.2-170h0m2.7 10.5h0m91.1 173.4h0m32.9 87h0m79.5-110.1h0m-66.4 68.4h0m-114-213.7h0m169.3 45.2h0m-167.5-75.9h0m196.6 149.4h0m-79.5 144.7h0m-79.3-133.5h0m-32.4-138.9h0m-22.7 2.2h0m15.3-13.9h0m34.6 149.8h0m-18.7-53h0m68.7 108.9h0m-46.6-213.8h0m33 175.7h0m123.4-94.9h0m-206.3-66.7h0m254.9 158.2h0m-240-187.5h0m91.7 293.5h0m-129.2-241.3h0m140 268.8h0m-15.5-54.2h0m-37.2-10.3h0m51.9-195.9h0m32.8 4.3h0" stroke="#2340EF" stroke-width="14.6"/>
</g>
<g stroke-linecap="round" fill="none">
<path d="M1640.7 392h0m-245.1-85.4h0m186.1 140.6h0m-200.6-205.9h0m118-101.1h0m220.6 97.6h0m-94.5 110.1h0m-90.5-230.5h0m74.7 119h0m-71-58.2h0m7.8 121h0m198.8-76.4h0m-126.4 144.5h0m-105-70.1h0m28.4 126.1h0m-98.6-192.5h0m-8.5-7.2h0m110.6 226.5h0m-6.8 19h0m118.5-87.6h0m-153.8-135.7h0m121.3 34.4h0m122.5 18.8h0m-308.7 18.6h0m335.8-12.2h0m-268.2-93.8h0m105.1 136.6h0m-86.9-164.4h0m-124.4 54.5h0m326.2-1.6h0m-205.2 69.2h0m-70.1-124.4h0m-37.7-70.7h0m243.1 123.3h0m-182.5 70.4h0m-62.8-149.8h0m291.3 89.7h0m-178.4 10.5h0m73.4-13.7h0m-72 188.7h0m86.6-163.7h0m127.7 16.2h0m-258.3 13.6h0m50.4 116.9h0m-84-121h0m12.8-17.7h0m199 115.2h0m-235.4-94.1h0m188 123.1h0m-71.7-47.5h0m23.9-120.5h0m112.6 48.6h0m-70.5 14.8h0m-49.1 31.1h0m-114.1-75.3h0m198.6-20.5h0m-37.4-4.2h0m83.2-6.7h0m51.9 84.8h0m-196.6-168.7h0m-30.5 112.4h0m11-76.9h0m226.9 96.7h0m-174.4-126h0m-33.2 268.3h0m182.2-150.9h0m-26.7-6.7h0m-253.4-60.2h0m144.6 133.9h0m-45.5 59.9h0m-127.9-191.7h0m282.3 70.9h0m-65.9 119.1h0m-162.7-140.6h0m103.8-126h0m-21.4 212.1h0m-115.2-202.1h0m99.6 107.5h0m-130.6-43.6h0m222.5 149.4h0m-123.5-65.2h0m160.2-39.1h0m-174.4 11.3h0m245.7-18.9h0m-271.9-111h0m-14.8 53.2h0m-57.2 2.9h0m165.6 250.4h0m-3-244.6h0m-63.7-89.8h0m-59.3-5.9h0m131 64.4h0m3.7 251.3h0m151.4-142.7h0m-220.4-182.1h0m32.3 47.5h0m88.2 276.5h0m-2.9-132.8h0m-80.4-94h0m-68.7-41h0m84.2-13.9h0m31.4 10.3h0m-79.1 251.2h0m-9.2-8.2h0m57-56.9h0m-154.4-115.3h0m163.7 98.9h0m158.4-65.1h0m-161 226.4h0m8.2-210.6h0m89.7 150.8h0m-197.5-242.1h0m21.3 29.9h0m215.9 29.9h0m-195.6 111.6h0m167.2 51.2h0m-296.5-149.9h0m98.1-86.9h0m119.7 170.7h0m-199.1-169.8h0m160.7 1h0m-153 48.2h0m74.8 113.1h0m235.3-55.9h0m-171.7-60h0m17.9-47.6h0m120.7 129h0m101.3 0.6h0m-194.5-29.2h0m53.5 125.4h0m-108.3-96.3h0m-38.3 65.2h0m297-69.8h0m-300.9 96.7h0m41.1-157.5h0m-138.5-39.1h0m247.1 112h0m-148.2-168.4h0m130.9 126.2h0m-82.3 17.5h0m-139.9 3.7h0m321.1 38.3h0m-298.2-8.6h0m220-48.3h0m104.8-16.3h0m-196.8 10.6h0m96.5 129.4h0m-76.5-108.1h0m-176.5 13.6h0m114 31h0m-15.6 88.7h0m204-140h0m-202.6 42.6h0m257.8 13.9h0m-271.8-109.5h0m145.6 129h0m101.4-33.2h0m-342-46.7h0m127.3-13.6h0m63.4-120.6h0m-175.7 164.3h0m78.2 19.2h0m43.2-194.5h0m90.1 180h0m-87.6-82.9h0m137.7 172.9h0m-94.8-89.7h0m15-102.8h0m182.9 33.2h0m-257.7 148.6h0m-27.7-84.9h0m25.6 63.6h0m113.9-17.4h0m-57.8-166.9h0m133.5 59.2h0m-189.3 52.8h0m141.2 80.9h0m-113.5-0.4h0m-117-134.3h0m107.5 182.6h0m-99.5-89.8h0m130.8-124.2h0m14.1-42.4h0m-123-42h0m122.3 61.6h0m93.8 120.4h0m-231.2-11h0m127.7-58.8h0m28.9-67.6h0m186.9 145.4h0m-194.5-0.3h0m-131.3-122.4h0m45.8 236.3h0m22.9-190.7h0m-3.5-70h0m-67.1 4h0m100.2 51.8h0m10.7-23.2h0m46.3-19.5h0m-23.8 264.3h0m-12.5-246.3h0m8.8 30.5h0m-43.5 54.5h0m168.7 21.1h0m-224.9-167.2h0m178.5 267.3h0m-7.1 38.4h0m-132.9-78h0m195.4-92.6h0m-332 6.3h0m223.1-40.1h0m-137.7 66.6h0m98.3 138.9h0m22.2-153.9h0m-83.4-101.8h0m5.8-15.7h0m162 70.9h0m-161.6 203.2h0m-48.3-165.7h0m167.3 41.5h0m-93.2-134h0m-10.7 192.7h0m-65.3-259.6h0m76.2 283.7h0m114.2-178.3h0m-48.3 117h0m129.1-73.6h0m-208.2-9.7h0m32.2 67.2h0m146-41.9h0m-70.2-20h0m-157 143.8h0m22.7-124.8h0m-2.3 9h0m42.5 122.4h0m228.7-126.4h0m-264.7 45.2h0m252.5-35.5h0m-224.8-24.1h0m5.9-162.4h0m231.2 162h0m-55.4-26h0m-242.5 46.5h0m180.2 129.7h0m-69.2-227.6h0m-74.6 105.3h0m-46-128.2h0m67.1 10.7h0m-79.2 38.1h0m83.9 28.3h0m-117.9 38.4h0m325.6 41.7h0m-115.9-20.2h0m-58.9-182.1h0m29.1 225.2h0m-60.4-205.1h0m153.9 249.6h0m-169.5 44.3h0m105.4-33h0m-17.1-109h0m-94.8 113.8h0m56.4-256.9h0m190.7 94h0m-291.6 64.8h0m56.9-126h0m195.2 66.8h0m-305.7 53.5h0m2.3-145h0m121.7 0.8h0m177.8 156.8h0m33.6-76.6h0m-235.6-61.3h0m143.9 199.4h0m-105.5-241.8h0m155.1 168.9h0m29.2-0.7h0m-49.7-80.4h0m-121.8 184.5h0m8.4-211.8h0m-138-17.7h0m142.4-15.4h0m169.8 81.1h0m-216.6 205.8h0m6.4-181.7h0m-50.9-77.2h0m134.6 171.2h0m95.4-140.9h0m-66 201.9h0m81.7-92.7h0m-268.9 51.4h0m20.9-2.1h0m242.3-121.7h0m-118.2-69.9h0m-208.2-5.7h0m198.9 144.6h0m-30.8-189.2h0m-13.2 33.2h0m-66.5 186.4h0m58.2-198.2h0m120.9 56.2h0m123.9 59.8h0m-240.7 18.6h0m-73.3-116.9h0m121.2 99.3h0m39 133.9h0m-56.3-71.4h0m5.6-166.5h0m-76.4 92.3h0m56.2 46.4h0m-51.3-75.9h0m-94.1-29.2h0m157.5 129.5h0m-45.7-58.1h0m206.8-20.4h0m-267.8-90.7h0m-75 8.5h0m242.4 249.9h0m-75.2 2.3h0m-130.2-99.3h0m53.7-148.6h0m-74.9 134.4h0m313.8-67h0m-294.5 51.9h0m131.9-59.2h0m53.9 103h0m9 23.6h0m-169.2-117.8h0m-68 12.7h0m294.6-13.7h0m-48.8 28.6h0m-239.6-40.8h0m315.1 78.1h0m-164.8-6.8h0m150.8-1.6h0m-167.4 154.3h0m2.2-333.8h0m150 161.1h0m-237.9-78.9h0m349 52.4h0m-228 18.4h0m-3.9-162.8h0m5.7 172.9h0m-78.2 42.7h0m92.5 15.1h0m-73.5-222.5h0m78.6 140.6h0m184.4 51.6h0m-246.2 71.3h0m-53 13.1h0m66.8-27.9h0m70.9-163.9h0m150.7 23.5h0m-35.7 60.6h0m-84.9 49.7h0m-220.1-149.4h0m114.6-55.9h0m193 126.6h0m-106.8-6.8h0m-92.4-103.1h0m128.2 248.4h0m-216.8-247.3h0m305.4 126.2h0m-180.6-64.3h0m-62.2 41.2h0m44.3 125.7h0m149.1-140.8h0m-217.3 65h0m21.4 119.7h0m229-90.9h0m-302.2-82.4h0m117.1-98h0m219.2 157h0m-207.1-194.2h0m91.7 114.3h0m-175.9 160.4h0m286.1-129.4h0m-182.6 149h0m189.4-175.7h0m-165.7 58.7h0m-15.8 163.1h0m33.5-121.7h0m0.2-7.5h0m-9.8-22.5h0m-55.1 157h0m-112.2-213.4h0m72.7-67.1h0m43.5 3.6h0m-0.1 89.7h0m-69.2-127.5h0m64.6 296.6h0m-8.8-239.5h0m104 9.9h0m-152.6-80.2h0m132.5 276.2h0m-41.1-259.2h0m59.2 69.8h0m-146.2 110.1h0m98.5-80.6h0m-51.6 183.8h0m15.8-4.1h0m92.8-73.2h0m-88.5-227.5h0m-65.3 29.2h0m7.7 110.7h0m52.7 198.9h0m-8.4-32.6h0m18.4-39.4h0m10.5-165.2h0m105.5 21.3h0m-104.8-96.6h0m7.4 176.8h0m-115 2.2h0m260.3-111.9h0m-279.1 97.3h0m102.1-209.8h0m-9.6 290h0m-49.3-173.9h0m81-103.6h0m176.8 186.7h0m-274.3-167.8h0m96 148.1h0m80 137.3h0m-196.2-195.2h0m67.5 122h0m81.9-92.4h0m21.7-45.8h0m-28.3 58.5h0m-175.1 40h0m56.9-86.8h0m-45.7-9.6h0m327.4 70.4h0m-308.7 57.5h0m145.9-179.8h0m-71.6-10.7h0m-96.8 66.4h0m42.3 71h0m-40.1 25.1h0m166.6-157.3h0m3.7 164.1h0m68.2-41.6h0m-260.6-113.9h0m223.8 226.7h0m-6.4-131.9h0m-61.2 70.3h0m-116.4-195.6h0m133.7 60.7h0m-22.3 92.7h0m-10.6-187.6h0m-76.9-6.5h0m91.8 195.4h0m-73-149.4h0m65.4 103.7h0m-105-125h0m7.1 189.9h0m136.6-50.4h0m141-41.9h0m-160.4 88.6h0m-43-78.9h0m49.4-51.5h0m-26.2-74.9h0m226 180.1h0m-288.9-109.6h0m32.6 191.6h0m139.1-76.3h0m25.4-14h0m-215.1-20.3h0m48.1-143.7h0m28.4 115h0m-61.3-33.5h0m-102.4 31.3h0m216.5-42.8h0m-124.5 188.4h0m130-96.2h0m-162-18.2h0m11 93h0m78.4-238.5h0m94.4 224.9h0m-188.1-29.9h0m162.7 45.6h0m-118-49h0m287.1-31.9h0m-103.8-33.8h0m68.1 72.9h0m-202.1-72h0m-37.5 129.9h0m176.2 26.3h0m-210.9 12.6h0m17.9-305.8h0m57.3 29.3h0m-60.8 233.7h0m112.7-25.6h0m84.1-103.1h0m-160.9-147.1h0m133.5 297.8h0m-176.1-169.5h0m-8.5 48.1h0m-69.7-114.5h0m216.5 137.7h0m-48.4-77.6h0m-45.5 151.9h0m-82.4-232.3h0m-48.8 139.8h0m321.4 38.4h0m-276.8-160h0m215 257.8h0m-198.7-97.5h0m107.6-163.9h0m78.6 101.8h0m-21.7 34.3h0m26.7 89.4h0m-40.6-15.3h0m-113.5 22.2h0m149.7 66.3h0m105.6-142.9h0m25.4-4.7h0m-135.9-26.7h0m-228.6-69.1h0m106.9-51.2h0m-52.4 215.3h0m-15.7-161.3h0m-6 128.5h0m-57.7-72.3h0m248.2 168.6h0m-110.1-333.1h0m-6.8 9.8h0m-18.3 266.5h0m226.4-112.5h0m-279.1-146.9h0m-4.5 101.6h0m27.2 127.2h0m-8.9-168h0m69.5-67.3h0m-119.2 157.7h0m332.6 31.2h0m-164-75.1h0m-141.2-84.1h0m286.7 203.3h0m-140.4 70.1h0m-176.5-276.3h0m90.9 18.3h0m0.9 120.8h0m26.4-103.4h0m-86.2-54.6h0m61.6 7.2h0m-20.9 65.8h0m59.7 95.8h0m15.3-156.9h0m109 113.1h0m-75.4-10.7h0m-180-84.2h0m143.7 2.6h0m-30.5 251.5h0m78.4-246.1h0m-171.8 169.4h0m374.5-49.1h0m-293.5-126.2h0m9.6 120.8h0m63.2-88.9h0m-159.2 80.5h0m33.8 100.9h0m87-75.2h0m-16.9 160.8h0m21.3-222.2h0m-130.3 70.5h0m148.1 104.8h0m30.8-101.6h0m-131-143.7h0m196.2 104.4h0m-170.4-83.3h0m133.2 147.6h0m158.9-29.6h0m-237.3 106h0m82.6-39.7h0m-124-217.9h0m1 145.6h0m40-36.1h0m-12.5 126.3h0m200.7-54.2h0m-90 62.1h0m-210.5-121.6h0m210.8 66h0m-182.7 14.5h0m65.8 37.1h0m37.6-194.3h0m83.9 225.5h0m-15.2-136.1h0m-32.5 79.5h0m113.2-56.4h0m-90.1 32.8h0m-91.5-106.6h0m101.4 221h0m143.6-125.5h0m-44.6-100.2h0m-170.7-48.7h0m-54.6 231.1h0m278-163.8h0m-213.5 192.7h0m71.2-157.1h0m-150.4-54.1h0m86.9 95.9h0m21.8 0.2h0m17.4-143.7h0m-231.2 65.9h0m70.2 92h0m210.3-36.7h0m-52.6 26.3h0m-13-91.3h0m7.9 8.2h0m-60.3 27.9h0m247.1-13.1h0m-216.7 102.2h0m8.6 116h0m-13.5 3.5h0m90.2-64.4h0m-6.5 2.4h0m-232.3-121.2h0m152.3-102.6h0m-158.3 143.8h0m179.5-21.5h0m-123.9 6.2h0m81.5-166.3h0m102.1 287.5h0m-7.3-199.3h0m-171.8-117.5h0m65.7-22.8h0m35.9 72.9h0m-114.1 43.4h0m71.2-41.9h0m83.3 265.9h0m-112.7-333.7h0m-102.1 104.5h0m240.6 169.9h0m-129.5-67.2h0m-98.3-193.8h0m302.9 101.1h0m-62.9 205.8h0m-55.3-206.3h0m-113.7 121.6h0m-47.9-95.8h0m68.4-89.1h0m117.1 166.3h0m-103.6 95.4h0m-1.3 38.1h0m-59.4-201.7h0m13.6-18.9h0m-2.8-51.1h0m0.9 19.3h0m266.6 63.5h0m-175.1 157h0m145.1-154.4h0m-49.5-40.8h0m-143.6 45.8h0m157.1-41.7h0m-38.8 135.6h0m-51.3-91.8h0m-183.1-29.2h0m145.7 210.1h0m4-313.6h0m206.7 133.8h0m-252.3 152.7h0m-76.3-136.5h0m163.7 29.6h0m-32.8 144.6h0m27.9-121.4h0m-68.1 29.6h0m0.5 29.1h0m138.6-158.9h0m-105 91.3h0m36.9-101.1h0m-23.3-68.3h0m-45.1 48.3h0m174.8 84.3h0m-65.8 32.3h0m-118.5-240.7h0m166.2 206.5h0m-196.3-185.6h0m230 191h0m-143.4-190.8h0m0.3 118.6h0m115.2 12.1h0m49.3 31.8h0m-189.5 8.4h0m58.9 17.8h0m-52.9 187.4h0m-93.1-103.9h0m41.2 0.5h0m49.5-7.7h0m80.3-1.3h0m-144.7-25h0m71-149.7h0m-53.1 9.3h0m-10.9-90.2h0m29.7 195.6h0m139.9 87.4h0m-55.2-149.4h0m-52.6 132.1h0m12.4-164.6h0m-24.5 21.8h0m85.3 149.9h0m-128.7-206.7h0m26.5 48.2h0m50.2 165.7h0m206-100.2h0m-239 2.1h0m-4.7-182.7h0m37.8 124.6h0m62.5 12.7h0m-43.2 11.2h0m-32 24.2h0m-64.8 27.1h0m43.9-82.5h0m225.3 70.8h0m-11.2-56.6h0m-186.9 202.8h0m-145.5-278.5h0m88.8 257.6h0m260.9-125.1h0m-351.6-65h0m344.2-16.7h0m-201.7 38.3h0m-21.6 177.8h0m-0.6-278.4h0m100.7 117.7h0m-129.5-108.9h0m118.9 77.3h0m-117.6 122.2h0m86.6-150.5h0m-28.8 59.1h0m55.3 107.1h0m37.9-137.7h0m48.6-19.3h0m-117.6-57.7h0m48.2 119.6h0m5.9 57.3h0m-63.7-22.2h0m131-90.2h0m-91.7 40.2h0m-73 204.7h0m-0.5-62.8h0m87.3 13.2h0m-88.1-320.3h0m-6.1-9.2h0m245.7 195.7h0m-236.6-91.5h0m-23.8 1.2h0m8.1 269h0m50.6-163.4h0m174.1-15.4h0m-231.7-133h0m-41.1 88.8h0m275.3 72.8h0m-147-77.7h0m-189.6-73.9h0m207.9 130.6h0m0-8.8h0m-79.9 10.4h0m20.1-167.6h0m84.9 275.8h0m-35.1-35.5h0m-40.2-27.2h0m-55.3-249.3h0m67 166.9h0m179.2-1.6h0m-142.8 117h0m-85.5-232.8h0m189.7 97.9h0m-243.2 163.8h0m284-155.1h0m-270.7-28.1h0m-5.2 48h0m-29.1-11.6h0m147.5 23.9h0m-155.2-15.7h0m59.6-183.3h0m-80.2 231.1h0m126.3-0.2h0m190-3.3h0m7.5-65.1h0m-212.2 10.7h0m191.1-32.3h0m31.6 30.9h0m-299.2 108.4h0m-56-135.5h0m77.5 173.2h0m167.1-116h0m-130.5 93.7h0m33.1-269.5h0m-36.3 345.2h0m-32.2-68.4h0m35.5 22.6h0m103.4-65h0m-200.7-99.1h0m130.6-101.3h0m-30.3 113.1h0m-93.7-87.1h0m18 155.5h0m66.9-237.2h0m2 315.7h0m-14.8-164.7h0m-119-69.7h0m173.6-64.3h0m-158.4 18.4h0m244.4 249h0m-15.6-38.6h0m-194.9-119.7h0m-12.9 45.9h0m130.6-28.3h0m78.9 192.3h0m43.1-147.5h0m-163.5 113.3h0m-28-156.3h0m216.7 77.8h0m-81.2-97.6h0m-61.8 213.1h0m55.4-131.7h0m-46.7 122.9h0m-122.2-156.1h0m117.9-138h0m-87.8 210.7h0m65.8-183.5h0m195.4 136.6h0m-40.3-42.9h0m-49.9-4.8h0m-66.4 104.2h0m-120.7-54.4h0m-39.8-101.9h0m215.2 188.2h0m7.5-157.3h0m82.2 87.9h0m-292.3-0.5h0m177.2 125.1h0m-174.1-221.5h0m37.6-104.5h0m90.2 189.7h0m77.6-58.7h0m-124.3-57.8h0m106.3 185.7h0m-36.5-83.9h0m-180.5-127.3h0m112.4-44.1h0m-2 64.9h0m36.1 86.7h0m-167.2-66.2h0m56 18.7h0m-19.3 79.8h0m68.5-202.9h0m206.2 181.7h0m-55.6-47.2h0m-30.2 194.8h0m-25.9-215.1h0m-62.4-11.3h0m99.6 241.9h0m-69.6-186.3h0m139.3-15.5h0m-5.3 66.6h0m72.2-23.7h0m-144.4 138.4h0m-172.2-268.7h0m-53.6 96.9h0m25.7 80.1h0m86.6-200.2h0m41 179.8h0m23.5-109.4h0m-51.4 87.5h0m19.8 122h0m-26.3-309.5h0m197.1 222.6h0m-108-105.1h0m-128 80.4h0m10.6-189.3h0m281.9 163.3h0m-142.4 129.4h0m13-139.2h0m-155.2 50.5h0m21.2-10.3h0m154.3 75.1h0m-114.1 19h0m38.7-233.2h0m-162.4 68.2h0m150.5 178.7h0m162.5-138.3h0m-264.4-145.6h0m-6.3 11.2h0m19.4 164.2h0m89.5-158h0m0.9 138.8h0m29.6 63h0m-59.8-144.2h0m-15.4 222.1h0m207.5-113.8h0m-184.3-51.6h0m31.9 38.6h0m-3.3 20.8h0m44.5-27h0m150.9-49.2h0m-354.7-50.3h0m134 17.3h0m-23.6-58.2h0m19.6-28.2h0m135.5 110.2h0m-230.4 69.9h0m50-4h0m-33.1-15.3h0m-28.5-110.8h0m84.5 279.9h0m-32.9-146.3h0m104.4 14.7h0m-65.7 161.6h0m235.2-173.9h0m-154.6 47.4h0m-0.1-72.7h0m-58.1-128.9h0m18.1 121h0m-23.6 49.3h0m1.3-102.3h0m27.6 181.4h0m39.6 29.7h0m-120.5-51.1h0m265.5-106h0m-195.1-48.8h0m-123.1 58.5h0m7.4-66.2h0m186.5 217.4h0m-10.7-44.8h0m-175-221.2h0m123.9 39.9h0m-43.6 258h0m90.4-72h0m-117.4-158.5h0m9.3 34.2h0m-42 123.8h0m43.7 7.1h0m224.6-137.6h0m-210-133.3h0m79.8 275.5h0m-26.9-208.7h0m-194 96h0m0.9-127.3h0m157.7 21.2h0m-64.4-29.9h0m153.5 265.7h0m41-166.5h0m-228.7 19.1h0m214.8 124.6h0m-108.7-170.4h0m-134.3-114.8h0m279.4 101.8h0m-148.8 61.7h0m-57.2-6.8h0m-13.9 77h0m65.6-59.3h0m-15.9-183.7h0m-153.7 145.1h0m98.8-34.7h0m160.6 174.8h0m-41.8-111.8h0m-20.6-23.9h0m192 30.3h0m-316.7-170.2h0m61.3 103.7h0m21-8.7h0m54 11.5h0m-56.4-101.2h0m43.4 164.7h0m61.7 48h0m-184.4-177.5h0m208.7 62.4h0m-196.6 19.3h0m2.4 11.4h0m-33.7-72.3h0m245.8 51.1h0m-133.1-66.2h0m-58.7 162.3h0m3.4-79.7h0m51-21.2h0m-96 26.2h0m136.6 159h0m-162.5-186.5h0m158.7 205.4h0m201.1-175.3h0m-260.8-60.5h0m-5.9 185.5h0m60.4 52h0m-159.7-152.8h0m134.1 176.3h0m72.6-56.3h0m105.8-106.3h0m17.7 22.4h0m-166-169.2h0m3.6 144.4h0m150.2-44.9h0m-175.7 206.9h0m-71.6-260.8h0m-60.8-69.2h0m118.5-26.5h0m65 117.2h0m-87.4 93.9h0m53.7-80.4h0m-53.1 17.3h0m-32.3 148.3h0m72.3-211.5h0m44.6 46.5h0m-120.2 176.3h0m4.4-28.2h0m229.8-151.7h0m33.5 70.2h0m-122.8 25h0m-235.8-103.2h0m394.3 64.9h0m-89.5 1h0m-94.1 54.1h0m68.1-45.4h0m-72.4-92.4h0m-74.1-66.8h0m57.2 206.7h0m36.4-89.8h0m47.3 48.4h0m-29.7 126.3h0m-139.4-234.2h0m-75.4-32.8h0m138.4 172.1h0m0.3 111.4h0m37.3-264h0m170.7 86.9h0m-52.7 50.5h0m-80.6 102.6h0m-188.4-152h0m-7.1-100h0m-3.6-4.7h0m-46.4 55h0m180.9-32h0m141 124.1h0m-73.3 41.6h0m-228.9-50.6h0m31.5-33.1h0m119 205.3h0m-76.3-272.4h0m40.5 96.4h0m8-102h0m-130.7 96.7h0m15.8-169.3h0m161.5 338h0m-131.4-352.2h0m30.3 52.5h0m27.6 57.3h0m-49.3 70.6h0m228.5-34.2h0m-142.9 174.2h0m148.7-130.5h0m-46.1-30.3h0m-39.3 37.7h0m34.8 63.3h0m155.5-103.5h0m-94.1 3h0m-183.2-54.7h0m40.5 91.2h0m31.9-66.7h0m-150.2 120.6h0m12.3-30.6h0m134.6-113.6h0m130.9 111.2h0m-205.4 125.3h0m105.5-222.6h0m-37.4 30.9h0m24.3-10.3h0m-103.8 44.5h0m279.7-47.3h0m-134.7 198.4h0m-243.1-312.1h0m220 133.2h0m89.2-34.7h0m-172.8 215.9h0m53.2-245.8h0m-0.9 42.7h0m-173.8 106.8h0m294-134.4h0m-184.5 208.2h0m49.1-71.5h0m-29.6-85.5h0m36-57.8h0m-106.8 187.6h0m76.2 64.3h0m-56.8-273.6h0m54.6-53.1h0m23.6 188h0m105.5-35.6h0m-214.3-94.8h0m192.2 238.1h0m-106.3-191h0m-116.1-118.6h0m247.7 127.6h0m21.3-18.6h0m-207.6 88.2h0m112-75h0m-80.4 74.8h0m86.6-70.3h0m32.4 99.1h0m-7.9-102.5h0m-40.1-57.6h0m-3.6 4.2h0m54.6 194.4h0m-204.5-174.2h0m315 30.8h0m-147 22h0m-77.3 196h0m-64-166.5h0m160.2 23h0m-29.6 1h0m-6.4-75.1h0m159.1 27.6h0m-150.4 22.2h0m37.4 84.3h0m-200.2-217h0m290 145.7h0m32.5-31.5h0m-323.8-85.3h0m-13 23h0m36.9 140.5h0m49.4-152.5h0m22.2-27.7h0m97.5 204.5h0m-67.5-190.3h0m20.2 104.2h0m-16.8-28.4h0m-47.5-55.7h0m226.2 116.9h0m-255.4 76.9h0m60.3-53.4h0m-75.6-117.6h0m262.4 106.4h0m-172.3 146.8h0m-47.8-161.5h0m58.6 23h0m-140.2-167h0m99.6 44h0m-85.6 98.4h0m9.2-156.7h0m43.5 59.8h0m-130.1 47.1h0m217.3-109.9h0m-4 13h0m-106.1 110.1h0m222.7-65.4h0m-131.6 236.3h0m31.3-196.8h0m-82.8 141.8h0m102.2-43.8h0m-72.8-173.2h0m139.2 187.7h0m35.7-30.8h0m-242.7-167.8h0m-56.5-8.6h0m233.8 130.6h0m101.6-39h0m4.6 52.4h0m-155.8 2.7h0m23.2 61.3h0m5.5-5.4h0m-218.2-76.3h0m59.5 2.2h0m104.1-28.4h0m64.2 157.9h0m-220.4-99.8h0m34.7 25.1h0m-12.9 14h0m324.6-107.5h0m-120.5 140.9h0m-34-156.5h0m-50.4 203.8h0m-68.9-113h0m-34.3 32.1h0m70.8-217.8h0m-147.3 116.8h0m50.4-112.2h0m90.4-27.3h0m24.7 224.6h0m-0.9-134.5h0m-5.4 193h0m-8.2-126.5h0m-28.4-147.8h0m88.3 154.2h0m-92.5 0.4h0m57.2 75.2h0m-41.2-71.6h0m-12.8 0.2h0m73.5 51.7h0m-108.5-213.2h0m299.9 177.7h0m-136.9 56.7h0m29.1 36.8h0m-215.1-4.4h0m103.1-178.9h0m9-71.3h0m-19.6-38.2h0m-85.9 53.7h0m-23.3-32.1h0m-3.9 140.6h0m39.8 73.7h0m160.7-72.6h0m-34.8-47.3h0m155.8 46.6h0m-329 46.4h0m100.5 84.3h0m208.4-149.9h0m-279.9 94.5h0m89.5-77.5h0m-120.5 60.7h0m105.8-175.6h0m144.6 243.5h0m-251.3-165.1h0m73.5 28.5h0m-65.9-77.1h0m64.3-81.3h0m-114.2 155.9h0m74.9 49.6h0m24.2-50h0m81.6-142.1h0m52 191.1h0m-170.4 48.9h0m1-236.7h0m188.5 279.9h0m-118.8-79h0m54.5-47.9h0m16.5-109.3h0m9.3 141.9h0m186.8-23.7h0m-287.2-136.4h0m277.6 118.3h0m-322.9-16.4h0m23.7 36.3h0m11.7 90.6h0m287.7-77.6h0m-179.2-30.5h0m50.3-29.2h0m-201.1 63.8h0m82.8-111.9h0m-123.8 46.7h0m87.8-54.4h0m75.5 34.9h0m83.6 166.4h0m98.7-98.1h0m-269.1-13.5h0m72.7 19.9h0m183.9 6.5h0m-229.3-77.7h0m150.2 222.4h0m-197.6-84.7h0m6-123.3h0m83-1.3h0m-156.9 27.2h0m396 45.2h0m-274-86.3h0m117.7 172.8h0m7.4-94h0m-93.1-5.7h0m-96.1 83.6h0m252.3-64.9h0m-279.1-3.8h0m66.2 114.8h0m-63.3-167.5h0m12.9-25.7h0m181.6 178.7h0m-67.3-254.3h0m199 93.7h0m-279.5 21.2h0m74.1-61.2h0m-5.9 36.5h0m-40.8 6.8h0m-67.3-9.7h0m219.9 176.3h0m-125.5-192.2h0m16.1-43.7h0m17.5-58.6h0m-73 171.4h0m112.7-37.7h0m-192.7 15.2h0m150.3 66.1h0m-74.1-17.6h0m18.3-145.8h0m-9.4 128.5h0m22.5-114.8h0m-32.6-47.3h0m161.6 117.2h0m-147 25.8h0m81.4 140.7h0m-0.3-115.1h0m32.8-121.4h0m2.6 146.7h0m-10 35.8h0m-209-127.7h0m158.7-128.7h0m38.8 188.9h0m-107.2-64.7h0m248.6 57h0m-148.5-36.1h0m-92.4 51.4h0m-36.7-69.2h0m8.1 142.6h0m-20.5-125.4h0m182 117.1h0m-97-102.2h0m-128.4-90.9h0m34-64.8h0m-52.7 168.2h0m335-10.8h0m-198.9 167.9h0m120.5-162.1h0m-206.4 90.6h0m95.4 114h0m-34.1-379.9h0m17.7 27h0m-121.2 44.6h0m28.5 174h0m282-79.2h0m-151.8-69.4h0m-72 198.3h0m-3.2 6.3h0m104.6-142h0m182.1-20.4h0m-68 136.9h0m-252.1-191.2h0m349.2 67.5h0m-306.6 136.9h0m113.5-98.4h0m107-8.7h0m-162.2-96.3h0m4.9 128.7h0m-106.4-124.2h0m89.9 116.5h0m3.4-170.9h0m192.5 142.2h0m-129.9 86.3h0m-68.5-265.9h0m221.9 163.8h0m-208.8 175.2h0m-133.6-114.1h0m68.8-87.9h0m29.2 134h0m110.9-26h0m-109.9-202.8h0m-32.7 33.1h0m243.2 119.2h0m-318.1-128.3h0m24.4 100.4h0m124.6 190.7h0m17.3-235.2h0m26.3-57.6h0m28.5 267.4h0m-113.3-200.6h0m-35.7 4.3h0m5.5 9.4h0m-71.9 32.6h0m101.8-68h0m93.5 126.9h0m-11.3-113.1h0m155.7 7.9h0m-279.9 33.2h0m278.2 58.4h0m-232.6 111.5h0m77.5 27.9h0m-1-9.7h0m0.8-136.1h0m-52.2-63.2h0m-149.1-10.2h0m97.8 117.9h0m3.7-226.8h0m93 106.7h0m-14.9 87.5h0m-18.6-204.1h0m113.6 114.7h0m-104.7-14.4h0m-47.4-22.7h0m-36.2 84.2h0m229.6 29.3h0m-115.9-151.2h0m130 173.7h0m-180.1-237.2h0m-11 67.7h0m36.6 297.3h0m75.3-239.5h0m-216.4 105.6h0m188.5-114.3h0m-62.7 37.1h0m-79.8 140.7h0m47-87.2h0m80-36.7h0m-81.5-79.6h0m-13.3 8.6h0m2.1-40.2h0m79.9 11.1h0m-127.7-0.4h0m22.2 164.2h0m91.7-200.2h0m19.7 84.6h0m66.4 27.2h0m-50.9-15.7h0m-92.5-96.6h0m-74.5 111.7h0m66.7 23.5h0m-91.7-32.4h0m360.6 27.4h0m-235.6-60.1h0m183.8 78.8h0m-150.2-143h0m-22.3 272.1h0m-131.5-218.9h0m-6.1 112.3h0m255.4-70.4h0m-149.3 160.1h0m75.2-46.5h0m22.2 17.5h0m-115.2 18.8h0m-89.2-197.1h0m65.6-22.5h0m61.6 147.9h0m-124.9-85.7h0m295.4 9.6h0m-94.8 78.2h0m-189-136.9h0m45.9 184.5h0m311-100h0m-158.9-27.1h0m-187.8-85.7h0m112.4 146.3h0m-74-70.2h0m34.8-109.7h0m-39.6 216.5h0m-6.8-196.1h0m171.8 172.6h0m128.4-30.9h0m-117.3 54.1h0m-232.7-172.9h0m192.1 41.3h0m-81-38h0m9.9 130.3h0m158.6-31.2h0m-219.2-122.9h0m8 78.6h0m123.1 102.5h0m-60.2-166.3h0m254.1 113.9h0m-66.5 36.4h0m-254.9-57.4h0m101.7 56.9h0m53.4 10.7h0m-165.5-169.2h0m313.9 95.2h0m-151.5 33h0m-10.5 80.8h0m-2.2-52.7h0m-23.7-20.5h0m-32.3 208.9h0m-63.8-317.9h0m45.2 55.6h0m-56.3-53.4h0m11.7 88.6h0m-55.7 108.1h0m12-25.7h0m247.3 21.4h0m-219.2-224.3h0m99.5 266.8h0m-40.6-21.1h0m78.3-26.8h0m-40.3-200.8h0m203.2 162.7h0m-237.9 51.3h0m208.6-62.2h0m39-24h0m-298.1-66.7h0m80.4 9.2h0m224.6 29.7h0m-39.3-14h0m-54 16.1h0m-279.9 73.9h0m135.1-85.7h0m33.6 60h0m173.3 12h0m-29.6-17.7h0m-213.2 99h0m-94.4-265.8h0m182.2 174.4h0m-25.8 9.1h0m-50.9 60.8h0m157.6-84.4h0m-69.4-38.8h0m106.8 8.2h0m-295.2 29.8h0m74.8 100.3h0m-56.2-256.2h0m271.8 149.8h0m-317.1-160.7h0m112.9 141.2h0m18.3 137.7h0m-78.3-162h0m34.4 103.3h0m250.7-74.9h0m-92.7 109.2h0m-13.5 24.1h0m-175.8-193.2h0m119.4-3h0m-60.6 83h0m-58.6-41.6h0m119.9-31.6h0m92.1 35.4h0m-96.8-5h0m-165.4 30.2h0m186.1 45.1h0m-151-216.1h0m255.7 159.4h0m-147.6 200.4h0m-128-304h0m-28.7 115.8h0m90.8-75.2h0m116.1 114.5h0m-27.4 10h0m-18.2-198.1h0m1.7 178h0m60.3-33.2h0m-179.4-36.9h0m20.5-18.9h0m53.4 226h0m35.3-61.9h0m96.3-127.8h0m9.4-21.1h0m103.5 72h0m-173-34.2h0m-5.2-68.8h0m-145.7 108.8h0m69.2 20.5h0m-35.3-8.9h0m92.3-77.1h0m-18.7-58.2h0m4-82.5h0m-8.1 24.4h0m21.7 304.5h0m10.4-102.1h0m34.4-137.6h0m79.7 56h0m-132.9-121.2h0m41.7 153.4h0m-15.6-142.5h0m85.4 121h0m51.4 52.5h0m-232.7 25.3h0m158.4-33.1h0m-114.9-205.2h0m82.4 67.3h0m-99.3 174.3h0m61.5-35.7h0m-119.2-61.1h0m-60.4-14.1h0m131.5 218.9h0m88.8-134.4h0m-67.5 146.1h0m86.2-29h0m-119.5-100.3h0m75.7 101.2h0m-99.1-160.1h0m66.9 206.2h0m84.9-100.8h0m95.4-158.2h0m-288.8-21.3h0m97.4 60.9h0m-54.2 73.3h0m1.9-25.2h0m156.3 103.7h0m-132.5-244.1h0m175.6 134.5h0m-180.6-24.2h0m62-153.5h0m-28.1 175.2h0m-2.1-5.5h0m199.5-46.5h0m10.9 53.1h0m-123.7-78.3h0m96.9 72.5h0m-86.9-67.3h0m-220.5-57.1h0m268.1 123.4h0m-112.7 115.1h0m-142.6-143.4h0m144.6 161.9h0m4.4-70.2h0m175.4-49.8h0m-21.7-78.1h0m-303.8 52.7h0m332.4-5.4h0m-120.9 153.7h0m-22.5-165.9h0m-225 1h0m235.2 145.6h0m-48.3-78h0m-12.2-170.2h0m139.5 87.3h0m61.8 74.1h0m-359.1-182.6h0m335.6 147.4h0m39.8 13.5h0m-211.2-181.3h0m-173 146.9h0m204.5 16.1h0m-125.2-30.9h0m-9.9 118.3h0m28.6-52.1h0m3.4-84.4h0m20.2 59.2h0m188.6-9.2h0m-103-107.1h0m-153.7 183.9h0m59.9-189.5h0m194.1 88.2h0m-72.2-19.8h0m146.3 70.9h0m-211.9-96.8h0m28.1 103.3h0m-148.3 54.6h0m113.8-39.5h0m60.3 73.2h0m-146.4-291.5h0m181.8 261.8h0m-149.1-153.3h0m167.9 2.5h0m64.3 49.1h0m-199.8-150.9h0m35.8 57.2h0m153.9 138.9h0m-255.2-141.4h0m256.1 151h0m-326.7-142.3h0m26.9-61.5h0m30.6-20.1h0m104.7 234.6h0m-0.1-167.7h0m65.4 244.8h0m-202.6-251.6h0m-24.3 69.1h0m8.9 69h0m48.8-76.7h0m-47.4 116.4h0m150.5 74.5h0m119.6-137.1h0m-146.4 186.8h0m135.7-166.6h0m-93.7 124h0m131.7-192.2h0m-89.3-5.9h0m-189.1-17.1h0m297.4 60.2h0m-176.6 44h0m79.5-14.8h0m-86.7-51.4h0m13.7-43.4h0m-77.3-22.4h0m70.7 228.4h0m-33.3-131.1h0m-65.2 30.2h0m74.4-68.6h0m111.7 203.8h0m-79.1-183.5h0m-19.7-73.6h0m105.2 232.5h0m-91.7-222.5h0m-102.7 16.4h0m28.2-76.8h0m76.2 3.8h0m-34.5 157h0m-57.8-51.3h0m35.2-132h0m103.6 214.4h0m-188.4-17.4h0m158-46.9h0m70.6 162.9h0m-87.6-108.3h0m230.5-47.6h0m-295.2 32.1h0m-102.1-11h0m230.6 148h0m-154.7-147.1h0m-57.9-96.7h0m192.8 105.6h0m84.1-7.3h0m-245.7-85.1h0m-44.8 82.6h0m240 39.1h0m-73.2 94.3h0m-78.5-284.9h0m3.6 281.2h0m52-219.6h0m45.9 39.6h0m-197.8 38.3h0m175.3-124.4h0m44.2 119.2h0m129.8 29.7h0m-186-33.3h0m83.6 139.9h0m-233.5-249.9h0m155.4 92.8h0m-19.9-134h0m181.9 130.2h0m-227-18.3h0m15.9-73.7h0m-2.7 242.8h0m92-150.9h0m40 184.2h0m-207.1-202.2h0m197.7 190.2h0m-116.3-47.2h0m-101.8-246.3h0m90.6 97.5h0m107.1 97.2h0m-85.1 139.1h0m78.1-204.5h0m-27.6 209.6h0m-79-187.2h0m-59.3-4.6h0m205.2 107h0m-116.8-249.2h0m-137.3 142h0m-0.1-70.7h0m395.9 56.8h0m-189.2 40.1h0m-120.1 71.4h0m94.9-117.5h0m60.7 133.8h0m100.9-74.9h0m-6.2-25.8h0m-46.7-38.3h0m-228.9-23.2h0m222 158.6h0m-2.1-129.7h0m-142.1-84h0m-79.6 193h0m105.6 120h0m19.9-337.1h0m191.1 173.6h0m-157.8-66.3h0m-49.2-147.6h0m-75.4 26.5h0m77.8 134.9h0m-34.9-40.1h0m25.7 37.5h0m66.6 3.8h0m22.2-39.4h0m-105.2 228.3h0m125.9-205.9h0m-73.2 94.6h0m24.3-4h0m-191.5-143.3h0m52.2 195.5h0m36.1-83.7h0m87.6-53.4h0m123.7-21h0m-41.6 124.4h0m-22.5-60.1h0m16.2 15.1h0m11 11.3h0m-7.5-12.1h0m-9.6-0.2h0m5.4 1.5h0m5.7 36.9h0m13-17.6h0m-65.4-132h0m69.3-5.3h0m-43.2-9.4h0m-51.4 187.3h0m4.5 52.4h0m6.2-57.8h0m-38.3 0.8h0m-34.4-39.8h0m69.7 56.6h0m-16.7-8h0m10.1 29.6h0m0.5-14h0m-65.4-54.4h0m46.6 44.7h0m-46.8-59.1h0m70.4 39.7h0m-12.7 10.1h0m1 0.5h0m-6.8-2.6h0m-18.6 7.6h0m13.5-14.4h0m-56-42.2h0m13.1 15h0m58.4 27.3h0m-74.4-284.2h0m277.8 174.5h0m-422.7-4h0m170.1 231.9h0m248.7-219.9h0m-268.1-181.4h0m72 61.5h0m12.7 8.8h0m21.6 11.8h0m13.3 3.8h0m-2.9 10.6h0m9.1 6.9h0m47.9 5h0m4.8 5.5h0m12.7 18.1h0m-103.1-7.6h0m17.2-2h0m4.9 1.5h0m20.5-9.5h0m18.8-13.6h0m9.6 2.6h0m-115.5 201.9h0m128.2-41.9h0m-2.4 15h0m-36.3-48h0m14.5 25h0m7.3 7h0m-96 21h0m15.2-1.5h0m0.9 31.4h0m14.5 20h0m67.3-55.4h0m-14-57.5h0m-14.5 4.5h0m-63 115.4h0m14.6 3.5h0m1.4 26.5h0m-21.3-95.9h0m20.4 18h0m-11.7 8.9h0m61-91.9h0m-115.2 66h0" stroke="#D6DDE0" stroke-width="14.6"/>
<path d="M1506.7 191.8h0m15.8 187.1h0m37.1-233.3h0m-128.4 138h0m20.5 113h0m9.9-224.7h0m53.1 217.3h0m-95.4-44.4h0m108.7-120.2h0m-7.8 182.2h0m92.1-99.3h0m-24.7 136.5h0m67.8-191.4h0m57.2 76.4h0m-332-128.2h0m133.6 18.5h0m72.3-57.9h0m-3.6 154.1h0m96-77h0m-121.9 134.4h0m-6.3-7.3h0m42.1-6.5h0" stroke="#CCC8F0" stroke-width="14.6"/>
<path d="M1498.7 396.1h0m25.1-11.2h0m-111-110.8h0m91.9-56.1h0m34.7 13.9h0m-110 126h0m3.4-92.7h0m64.1-46.8h0m136.1 32.1h0m-191.4-11.9h0m3.3 45.5h0m174.9 53.2h0m-236.1-61.3h0m72.1-106.6h0m193.7 202h0m-224.3-113.5h0m40.6-35.4h0m274.2 54.6h0m40.4 11.4h0m-287.3 130.6h0m-92.9-85.4h0m166.2-112.1h0m-43.9-25.8h0m19 195.4h0m-72.8-220.1h0m20 217.6h0m-5.9-247.5h0m-87.9 170.6h0m108.8 61.3h0" stroke="#BBA4FA" stroke-width="14.6"/>
<path d="M1563.8 309.4h0m-93.7-30.3h0m-0.8-174.2h0m-52.4 92.5h0m-14.8-77.1h0m58.4-17.3h0m56.3 321h0m7.5-206.8h0m-66.1 0.2h0m-47.1 82.4h0m11.2 39h0m342.4-58.6h0m-105.6-31.5h0m-253.7-22.5h0m189.7 116h0m-135.2-149.9h0m31.5 22.3h0m-61.9 109.4h0m120.9 90.7h0m-93.3-165.1h0m34.9 155.6h0m-12.8-164h0m-43.3 52.6h0m-37.8-1.6h0m106.8 118.3h0m7.9-281.3h0m201.7 109.7h0m-318.5-57h0m138 187.8h0m-29.3 68.8h0m24.6-129.2h0m-40-143.1h0m40.7 121.6h0m-130.5-152.8h0m-0.6 185.8h0m62.6 6.1h0m87.2 76.4h0m-53.8-149.4h0m-72.6-5.9h0m0.5 106.2h0m37.9-73.2h0m161.8-29h0m-126.6 56.1h0m12.1 53.9h0m-38-6.3h0m-76.5-167.8h0m117.5 236.8h0m-26.7-61.8h0m48.9 24.8h0m-143.8-124.6h0m116.3-138.5h0m-22.6 214.1h0m52.8-174.5h0m168.7 108.3h0m-258.9-19.7h0m56.6 106.6h0m135.4 39.2h0m-208.3-85.1h0m2.1-92.4h0m-29.4-37h0m15.9 166.9h0m70.7 20.5h0m-45.9-80.3h0m18.7-55.7h0m-48.5 5.5h0m106.6 71.2h0m-36.1 1.4h0" stroke="#A58CF8" stroke-width="14.6"/>
<path d="M1436.8 361.4h0m52.7-213.8h0m5 196.4h0m70 98.3h0m79.5-228.3h0m24.8 5.2h0m-242-52.1h0m4.8 138.5h0m96.9-122h0m-35.4 192.8h0m-96-204.4h0m68.6 169.4h0m152.4-17.5h0m-139.9-176.8h0m31.3 51.6h0m-33.3-37.7h0m-10.9 205.7h0m-47.6-90.4h0m19.2-87.4h0m52.5 8.5h0m-81.9-22.4h0m326.3 115h0m-261.5 52.2h0m4.2-85.1h0m12.8-101.7h0m-67 81h0m32.9 145.6h0m47.9 9.8h0m29.1-30.9h0m-69.4 25.9h0m-85.9-108.1h0m88 55.9h0m65.4-82.2h0m-73.1 48.1h0m-48.6-39.2h0m67.2-167.9h0m-17.9 89.1h0m86.2-2.4h0m-47.8-11.3h0m-57.1 112.9h0m-0.5-23.3h0m135 160.2h0m-193.7-203.3h0m77.8 101.5h0m85.6 154.5h0m-78.7-209h0m17.3 92.5h0m-25.7-256.8h0m-21.3 37.4h0m9.6 43h0m58.9 48.7h0m-94.8 56.1h0m56.1-69.3h0m-11.3 73.8h0m-66.1-47.4h0m167-115.7h0m83.1 95.5h0m-255.7-41.8h0m140.1-68.8h0m-52.5 89.5h0m-7.9-38.6h0" stroke="#8A72F6" stroke-width="14.6"/>
<path d="M1485.7 398.8h0m10.6-203.2h0m-100.3 47.9h0m340 15.8h0m-210.4 211.3h0m-16.4-284.3h0m-26.6-7.8h0m79.3 285.4h0m-108.6-241.1h0m-34.1-12.4h0m83.9 155.5h0m22.7 71.7h0m52.8 1.8h0m-102.3-307.5h0m278.5 169.4h0m-261.6 0.9h0m2.8 106.6h0m-44.2-80.7h0m16.1-174.4h0m29.3 261.6h0m-13.1-155.8h0m-80.9-97.8h0m3.2-25.1h0m-8.5 19.7h0m360.5 103.9h0m-24-6.8h0m-191.1 206.7h0m-37.1-309h0m10.6 266.9h0m5-66h0m-2.8 113.4h0m-16-151.9h0m31.6 172.8h0m-59.7-72h0m-75.7-160.9h0m75.4-129.6h0m-13.8 258.2h0m-59.5-181.3h0m66.2-6.4h0m7.5 102h0m15.1 64.4h0m-64.7-119.1h0m120.6 88h0m16.4-94.1h0m-69.6-118h0m213.5 137h0m-226.6-99.4h0m-31.5-13.8h0m49.6 95.2h0m-56.9-85h0m19.1 222.7h0m137.9-80.2h0m-80.6 32.5h0" stroke="#6C5AF5" stroke-width="14.6"/>
<path d="M1382.3 251.4h0m33.3-127h0m65.1 293.2h0m-42.6-296.1h0m98.8 309.8h0m0.8 43.2h0m-78.3-354.7h0m36.4 122.9h0m-53.3 133.4h0m126.1 95.1h0m-112.2-361.8h0m-14.9 84.9h0m-35.9-49.8h0m77.8 74.1h0m-10.3 183.8h0m-88.9-181.9h0m69.1 156.3h0m226.1-149.6h0m-161.4 75.6h0m-114.7-124.4h0m49.4-55.2h0m47.3-5.3h0m-39.2-3.6h0m-20.8 51.6h0m45.8-52.1h0m-7 174.6h0m37.1 164.9h0m-79.6-143.2h0m46.5-36.5h0m61.9 171.5h0m-79.4-304.2h0m-3.5-32.5h0m-41.1 41.9h0m31.5 105.1h0m159-36.7h0m63.9 86.9h0" stroke="#4A4AF2" stroke-width="14.6"/>
<path d="M1780.4 265.5h0m-395-6.2h0m83.7-10.8h0m306 0.5h0m-279 123.2h0m-102.5-219.6h0m269.3 66.5h0m-218.1-90.1h0m97.8 154.9h0m-37.5-0.7h0m20.9 12.3h0m-82.4-149.5h0m202.4 217.5h0m-139-104.9h0m25.8 190.9h0m-142.4-193.6h0m211.5 3.3h0m-42.3 196.8h0m-9.8-15.5h0m-40.1-202.7h0m21.3 187.3h0m-108.3-208.9h0m-53.2 37.5h0m393.1-16.4h0m-288.3 37h0m29.3 14h0m58.6 141.1h0m225.8-163.3h0m-238.3 194.9h0m7.7-13.1h0m-180.4-206.7h0m155 81.3h0" stroke="#2340EF" stroke-width="14.6"/>
<path d="M1620.6 356.9h0m-57.6-13.3h0m-62 40h0m-56.7-86.2h0m46.6 35.2h0m-64.2-53.2h0m-6.6 32.5h0m201.3 124.1h0m-90.7-60h0m-4.2-210.5h0m-14.6 243.5h0m-60.3-90.6h0m114.3-124.4h0m-165.1 20h0m3.1 19.4h0m31.6 6.4h0m121.8 113.4h0m-112.5-151.9h0m26.2 183.1h0m33.3-288.4h0m130.2 235.5h0m-117.2 52.6h0m21.7-226.5h0m192.8 168h0m-236-168.3h0m204 76.6h0m1.4 55.4h0m-214.9 33.5h0m202.3 11.3h0m-164.6 36.5h0" stroke="#CCC8F0" stroke-width="14.6"/>
<path d="M1718.9 282.8h0m-184.1 110.6h0m-1.2-220.2h0m136.7 87.8h0m-235.9 16.9h0m259.6 8.8h0m-152.8 124.3h0m-110.6-181.6h0m94.1-23.2h0m-59.5 198h0m-9.5-171.2h0m250.5 47.1h0m27.4 39h0m-273.6-61.5h0m101.2-118.2h0m29.8 70.2h0m24.3 86.8h0m-185.9-5.7h0m128.2 114.8h0m213.4-123.2h0m-262.3 10.9h0m-110.3-15.8h0m-8.9 3.6h0m62.6-135.3h0m45.3 277.5h0m-67-126.3h0m-47.3-11.1h0m175.7-101.7h0m-102.4 218.8h0m13.6-95.1h0m-78.9-84.6h0m122.2 106.1h0" stroke="#BBA4FA" stroke-width="14.6"/>
<path d="M1551.6 178.2h0m-86.7 65.8h0m11.8 75.9h0m43 79.9h0m-79-123.7h0m-3.1-43.2h0m35.5-51h0m21.9-54.8h0m-117.4 96.9h0m41.1 29.7h0m1.5-146.1h0m50.3 79.2h0m270.2 43.4h0m-327.9-64.4h0m67.7 82.9h0m22.7-47.7h0m-88.3 46.7h0m373.2 29.2h0m-238.9 200h0m-58.7-182.5h0m-94.7-11.2h0m17.5 51.1h0m-2.9-27.9h0m118-208.2h0m-74.1 94.5h0m15.6 11.6h0m29.3 147.9h0m2.8-164.6h0m-39.3 99.5h0m-17-99.2h0m63.1-26.3h0m-14.9 42.1h0m-30.6 105.8h0m8.2 56.6h0m69.4-63.7h0m-102.5-100.5h0m192.3 34.1h0m-136.2 81.2h0m78.8-69.5h0m7.6-18.8h0m-161.7-3.2h0m-20.8-78.4h0m101.4 101.4h0m190.4 22.9h0m-244.6-46h0m74.1-73.7h0m-25.2-16.4h0m-94.6 171.3h0m141.1 185.2h0" stroke="#A58CF8" stroke-width="14.6"/>
<path d="M1467.7 182h0m-54.4-49.1h0m-6.4 18.6h0m173 68.6h0m-94.4-19.2h0m234.7 64.9h0m-255.5 84.3h0m62.6-89.6h0m-133.7 12.5h0m59.4-32.5h0m-62.9-29.9h0m36.5-8.7h0m31.3-56.7h0m55.8 139.5h0m17-87.4h0m-90.8 102.5h0m60.9 25.1h0m51.2 159.7h0m-130.6-151.6h0m223.4-111.5h0m-81.3 228.4h0m-48.8-282.6h0m-98.7 37.7h0m-11.6 51.6h0m323.1 74.8h0m-18.8-89.1h0m-300.5-46.1h0m246.1 45.1h0m-245.9 49.6h0m104.4-86.6h0m-12.4 130.7h0m-79.9-67h0m50.5-28.2h0m-80.9-95.3h0m3.3 92.3h0m83.1 157.8h0m-57.2-230.5h0m181.8 116.1h0m-81.1 80.1h0m-66.8-206.4h0m118.3 285.8h0m-81-218.9h0m281.3 54.2h0m-197.3 172.2h0m-123.7-90.1h0m-27-83.2h0m-41.2-67.5h0m267.9 10.9h0m113.4 96.9h0m-124.4 21.9h0m-149-105h0m-54.5-120.5h0m64.1 147.2h0m-52.2-158h0m-11.1 29.9h0m-39.9 65h0m107.9 108.8h0m-102.1-112.5h0m77.5-6h0m119.8 84.6h0m145.9-16.1h0m-260.7-42.4h0m-36.9-4.5h0m-17.9 65.3h0m-24.8 46.2h0m14.8-179.8h0m193.2 193.8h0m-33.6-5.8h0m-111.4-8.9h0m-29.8-107.3h0m-44.6 90.7h0m8.7-14h0m95.7-142.2h0m126.8 117.3h0m-173.5-85.6h0m-30.1-49.5h0m87 240.9h0m104.1-87h0m-179.9-32.7h0m22 142.3h0m136.7-123h0m-96.7 68.3h0m-10.7-98.9h0m13-61.9h0m10.2 6.4h0m28.5 234.4h0m-122.2-136.3h0m342.3-7.4h0" stroke="#8A72F6" stroke-width="14.6"/>
<path d="M1502.2 271h0m-7.2-61.9h0m-38.8-79.7h0m210.8 111.8h0m-179.8 105.8h0m174.9-103.7h0m-104.2 5.7h0m168.6 58.9h0m-338.3-37.5h0m174.8 151.5h0m-152.5-206.2h0m99 84.7h0m214.2-12.3h0m-191.7 191h0m-21.1-201.9h0m-37-80.8h0m0 13.4h0m-36.9 60.8h0m-5.5-147.5h0m-27.4 201.7h0m2.3-104.6h0m50 123.5h0m-46.6-108.9h0m72.4-10.2h0m269.8 16.9h0m-174.2-99.3h0m-124.2 19.2h0m-42.2 154.5h0m20.3 3.3h0m124.3 141.2h0m-164.6-261.9h0m170.3 85.8h0m-118.5-171.3h0m-12.4 29.4h0m182.9 171.8h0m-239-84.9h0m91.6-106.5h0m92.7 359.7h0m-1.2-9.3h0m-62.9-41.1h0m32-98.5h0m98.2-170.4h0" stroke="#6C5AF5" stroke-width="14.6"/>
<path d="M1464.8 377.3h0m99.4 80.6h0m59.8-216.4h0m-72.6 204.8h0m-27.6-198.4h0m-73.4-113.3h0m26.7 251h0m-48.8-224.9h0m-34.5 67.6h0m67.7-75.2h0m-23.9 176.3h0m351.4-73.8h0m-346.7 93.8h0m29.1-62.4h0m44.7-15.4h0m-51 50.2h0m247.9-54.2h0m-224.9-15.2h0m68 159.4h0m-152.7-74.1h0m107.9-94.4h0m268.8 10.1h0m-357.8-83.4h0m14.1 198.7h0m4.9-211.9h0m34.3-52.1h0m16.7 248.6h0m7.3-59.4h0m-47.6-190.4h0m31.8 161.5h0m45.8 196.8h0m-41.1-121.8h0m-57.1-190.8h0m-13.9-36.1h0m-11.6 196.1h0m57-213h0m153 255.4h0m-191.5-5.2h0m90.1 2.5h0m205.8-103.2h0m-336.2-77h0m274.9 60.9h0m-173.2-93h0m55.7 180.7h0m178.7-61.6h0" stroke="#4A4AF2" stroke-width="14.6"/>
<path d="M1370 242.2h0m58.9 97.6h0m173.8-74.7h0m-76 92.4h0m-98.5-220.7h0m-37.9-0.4h0m108.2 143.5h0m-52.2 54.1h0m42.7-208.9h0m55.1 312.3h0m28.6 26.4h0m-99.2-325.4h0m-49.4-17.7h0m-22.7 86.7h0m-5.6-41.9h0m11.4-39.2h0m140.2 295h0m200.4-140.9h0m-293.4-165.4h0m64.8 137.2h0" stroke="#2340EF" stroke-width="14.6"/>
</g>
<g stroke-linecap="round" fill="none">
<path d="M112.6 1570.9h0m186.6 141h0m138.3-210.1h0m-168.6-59.7h0m12.3 131.6h0m55 58.1h0m-105.3-70.3h0m28.4 126.4h0m-98.7-193h0m-8.6-7.3h0m346.3 42h0m-235.5 185.2h0m-160.4-191.4h0m118.3-13.5h0m59.7 98.1h0m-181.1-92.5h0m365.6 47.8h0m-280-117.4h0m-29.3 136h0m67.8-106.3h0m18.2-27.9h0m202.2 53h0m-275.8-55.3h0m51.4 89.7h0m-89.2-160.6h0m109.6 268.9h0m-48.9-74.7h0m229-60.2h0m-296-93.2h0m205.4 115.1h0m-155.9-137.3h0m283.8 153.5h0m-258.8 13.6h0m50.5 117.3h0m-116.2-289.4h0m32.1 168h0m212.2 97.9h0m-170.2-242.6h0m-65.7 148.1h0m188.4 123.5h0m-131.5-0.8h0m59.6-46.8h0m66.2-57.3h0m-163.5-44.3h0m161.5-24.9h0m83.4-6.7h0m52 85.1h0m-197.1-169.2h0m207.9 132.6h0m-52.2-15.3h0m-154.7 134h0m-128.1-192.4h0m282.9 71.2h0m-229.1-21.5h0m104.1-126.4h0m-14 9.1h0m-154 65h0m84.9 56.5h0m246.3-18.9h0m-287.3-58h0m-57.4 2.9h0m102.4 151.5h0m63.6 99.7h0m-72.5-44.7h0m38.2-14h0m143.5-144.1h0m-102.7 201.7h0m2.2-23.6h0m77.5-205.4h0m-178.2-64.1h0m84.4-13.9h0m31.4 10.4h0m-169.3 127.9h0m90.1 124h0m-33.7-149.8h0m81.6 84.6h0m-154.8-115.7h0m322.8 33.9h0m-161.3 227.1h0m218.4-229.3h0m-248.3 11.5h0m128 157.8h0m39.8-182.8h0m-196 111.9h0m207.6-78.5h0m-154.1-108h0m120.9 129.4h0m101.6 0.6h0m-195-29.3h0m-43.3 170.3h0m96.9-44.5h0m-146.9-31.2h0m297.7-70h0m-301.5 96.9h0m231.7-67.4h0m-73.8 67h0m-103.2 92.5h0m-150.4-187.3h0m303-20.4h0m55.4 56.7h0m-126.5 19.6h0m-225.9-70.7h0m78.2 40h0m133.6-14.6h0m50.2 90.3h0m-52.5-123.7h0m-130.2 27.8h0m139.8 46.4h0m-113.8-55.1h0m141.5 81.1h0m-123.3 48.1h0m-99.7-90.1h0m117.7 70.6h0m26.8-218.1h0m94 120.8h0m-103.7-70h0m29-67.8h0m-161.1 153.3h0m153.4-7.7h0m-114-185h0m-17.5 62.2h0m54 61.1h0m-8.1 175.9h0m-27.3-316h0m-20.6 58.6h0m157.6 9.1h0m-23.9 265.1h0m-183.7-224.9h0m305.4 84.2h0m-186.7 60.7h0m-136.9-86.6h0m85.6 26.6h0m98.5 139.3h0m22.3-154.3h0m-151.6-78.6h0m68-23.6h0m168.1 55.5h0m-161.9 203.8h0m-48.4-166.2h0m112.2 187.3h0m-37.8-62.7h0m66-61.4h0m129.4-73.9h0m-263.9-43.3h0m87.6 101h0m146.2-42h0m-70.3-20.1h0m-157.3 144.2h0m159.9-158.9h0m-139.4 42.8h0m271.8-18.8h0m-298.5 20.5h0m180.5 130.1h0m-144-122.7h0m-46.1-128.6h0m71.9 77.4h0m-109.5 57.8h0m317.7 22.6h0m-146.1 22.9h0m-76.1 89.1h0m220.5-126.6h0m-227.1 98.3h0m247.7-163.4h0m-235.2-61.4h0m-110.7 120.7h0m2.2-145.5h0m136.2-22.8h0m155.5 169.4h0m-273.4 35.8h0m106.5-155.7h0m24.3 223.7h0m183-164.3h0m-217 206.4h0m-44.7-259.6h0m-41.5 75.7h0m176.4 95.9h0m156.1-80.9h0m-44.8 49.2h0m-269.4 51.4h0m20.9-2h0m242.8-122.1h0m-171.8-87.3h0m-66.6 187h0m303.6-82.5h0m-210.5 63.8h0m-14.7-27.9h0m-51.4-76.2h0m-8.4-107h0m-55.2 173.2h0m53.4 76.9h0m58.4 70.1h0m15.3-112.6h0m161.4-78.7h0m-166.2 208.9h0m-177.2-291.3h0m248.5 77.3h0m-81.1 175.7h0m-76.5-248.7h0m-75.1 134.8h0m19.3-15.2h0m186.2 44h0m9 23.6h0m-237.7-105.4h0m240.9 64.9h0m5.5-50h0m-240.2-40.9h0m315.7 78.4h0m-165-6.9h0m-16.7 153.2h0m34.5 27.3h0m-120.4-279.7h0m349.8 52.6h0m-228.5 18.4h0m16.1 68.2h0m5.1-82.2h0m-115 136.5h0m288.9-168.9h0m-35.7 60.8h0m-85.1 49.9h0m-105.7-205.9h0m193.4 126.9h0m-199.6-110.2h0m217.2 127.7h0m-169.5 143h0m-73.7-166.2h0m44.4 126.1h0m149.4-141.2h0m-217.8 65.2h0m21.4 120h0m-73.3-173.8h0m337 59.2h0m-291.9 80.7h0m103.7 19.7h0m189.7-176.3h0m-165.9 59h0m-55.4 81.5h0m39.5 82h0m33.6-122h0m0.1-7.5h0m-9.7-22.6h0m-55.2 157.5h0m-112.5-214.1h0m116.4-63.7h0m-69.4-37.9h0m-17.3-39h0m82.1 336.5h0m-57.6-310.8h0m28.7 165.8h0m-24.2 31.7h0m98.7-80.8h0m-51.8 184.4h0m15.9-4.2h0m-61.1-272.3h0m7.7 111.1h0m52.8 199.5h0m-8.4-32.8h0m28.9-205.2h0m0.7-75.5h0m7.4 177.3h0m145.6-110h0m-177.3-112.8h0m-9.6 290.8h0m159.6-114.9h0m49.3 23.9h0m-290.4-88h0m191.9 205.9h0m-46.9-166h0m126 25.6h0m-104.2-71.6h0m-203.9 98.8h0m57-87.1h0m-45.8-9.6h0m165-52h0m-71.7-10.8h0m72 5.2h0m3.8 164.7h0m68.3-41.8h0m-36.8 113.1h0m-6.5-132.3h0m-203.9 11.5h0m142.6 59.1h0m-116.6-196.2h0m100.9-34.4h0m15 189.5h0m35.9 48.2h0m-141.6-29h0m136.9-50.5h0m-19.5 46.9h0m-56.4 79.7h0m145.6-99.3h0m-190.1-34.3h0m48.2-144.2h0m-32.9 81.7h0m-10.5 177.5h0m-32.1-114.8h0m184.2 79.6h0m-188.5-29.9h0m163.1 45.7h0m-118.3-49.2h0m48.7 177.3h0m203.3-170.1h0m-240.1 58.2h0m-34.8 38.9h0m75.3-277.2h0m136.4 105.2h0m-161.3-147.5h0m133.8 298.7h0m-185-121.7h0m-69.9-114.9h0m168.5 60.3h0m-45.6 152.3h0m-131.5-92.7h0m322.1 38.4h0m-277.4-160.4h0m215.5 258.6h0m-48.3-51.4h0m142.2-54.5h0m25.5-4.8h0m-356.7-38.4h0m220.4 11.6h0m-229-69.3h0m54.5 164.6h0m-79.5-105.4h0m113.2 112.1h0m226.9-112.8h0m-279.7-147.3h0m-4.5 101.9h0m27.3 127.5h0m274.3-8h0m-320.7-156.8h0m156.7 43h0m-180.1 2.6h0m141.9 217.7h0m-106.7-93.1h0m290-102.7h0m79.6 34.7h0m-219.7 130.7h0m-161-211.7h0m76.2 74h0m-27.2-20.4h0m53.6-83.2h0m-24.7-47.6h0m63.3 358.8h0m100.2-240.6h0m-70.7 203h0m-41.2-295.6h0m-30.6 252.2h0m19.2-100.9h0m59.3-145.9h0m-172.1 169.9h0m375.2-49.3h0m-294.1-126.5h0m33.6 80.6h0m-84.6-78.8h0m-35.5 110.9h0m33.9 101.2h0m87.1-75.4h0m-126.1 9.2h0m148.4 105.1h0m96.2-141.4h0m121.9 34.8h0m-237.8 106.3h0m82.8-39.8h0m-124.2-218.6h0m22.7 66.1h0m-21.7 80h0m40.1-36.2h0m-12.6 126.6h0m201.1-54.3h0m-73.4 43.6h0m-16.7 18.7h0m-211-122h0m81.8 74.7h0m24.3-129.2h0m-12 172.4h0m121.8 31.4h0m-47.8-56.8h0m23.1-23.7h0m161.9-93h0m-213.9 193.4h0m-79.4-211.9h0m276.9 83.7h0m-311.8 27h0m210.7-36.9h0m-52.7 26.4h0m-13-91.5h0m-62-61.2h0m9.5 97.3h0m30.4 89.4h0m8.6 116.3h0m-130.3-184.1h0m207.2 123.1h0m-6.5 2.4h0m-232.8-121.5h0m-6.1 41.2h0m55.8-15.3h0m49.6 95.3h0m222.4-119.3h0m-267.5-172.2h0m-31.1 176h0m-37.9-1.6h0m170.8-124.1h0m40.5 268.2h0m-112.9-334.7h0m9 207.8h0m86.6-93.5h0m-93.4-63.5h0m117.3 166.8h0m-103.8 95.6h0m-47.2-183h0m265.3 31.8h0m-175.5 157.5h0m70.4-55.6h0m-234.9-121.4h0m146.1 210.7h0m211.1-180.3h0m-252.8 153.1h0m-76.5-136.9h0m131.2 174.8h0m16.9-271.8h0m11 150h0m-68.2 29.6h0m0.5 29.2h0m-35.4-193h0m82.7-44.6h0m-45.2 48.4h0m175.2 84.6h0m-249.1 31.6h0m264.7-28.2h0m-143.7-191.3h0m-87.6 129.7h0m203.3 1.3h0m49.4 31.9h0m-130.9 26.3h0m-53 188h0m-52-103.7h0m130.1-9h0m97.1-135.7h0m-242 110.6h0m71.1-150.2h0m-53.2 9.4h0m-95-27h0m146 203h0m-7.7-14.6h0m20.1-150.5h0m-49.5 219.5h0m110.4-47.3h0m64.7-164.6h0m-289.8-91.1h0m122.7 96.7h0m276.8 22.8h0m-20.1 42.9h0m-239.5 2.1h0m-4.7-183.3h0m37.9 125.1h0m62.6 12.7h0m-140.2 62.7h0m43.9-82.8h0m225.8 71h0m-225.8 3.5h0m27.3 143.2h0m-56.8-21h0m-110.1-287.5h0m371.5 162.1h0m-348.2 28.2h0m-4.1-93.5h0m121.1 200h0m-0.6-279.2h0m3.4 288.3h0m-32.2-279.4h0m119.1 77.4h0m-177.7 101.6h0m59.8 21.1h0m86.8-151h0m64.6 28.6h0m48.7-19.4h0m-184 73.9h0m187.8-67.1h0m-91.9 40.4h0m13.8 155.5h0m-94.4-330.4h0m79.2 206.3h0m-208.8-74.2h0m375.9 64.1h0m-290.4-131.6h0m-79 140.6h0m79.1-151.4h0m88.1 157.8h0m-57.7-148.8h0m-41.1 89h0m275.8 73h0m-129-21h0m0-8.9h0m-80 10.5h0m20.2-168.1h0m-37.2-40.8h0m205.7 221.5h0m-214.4-217h0m246.7 165.8h0m-143.1 117.3h0m-201.2-149.1h0m305.6 13.8h0m-243.7 164.2h0m284.6-155.5h0m-271.2-28.2h0m-98.1-96h0m52.4 193.8h0m40.5-49.6h0m118.6 12.3h0m-207.7-112.9h0m-4.5 142.8h0m56.7-45.7h0m-20.7 48h0m126.6-0.2h0m-115 11.2h0m305.4-14.5h0m7.5-65.3h0m-212.6 10.8h0m191.5-32.4h0m31.6 30.9h0m-356-27.1h0m236.1 135.1h0m-158.3 38.6h0m36.6-22.4h0m-137.8-132.1h0m154 182.1h0m-51.7-42.7h0m35.6 22.7h0m-97.4-164.6h0m130.8-101.6h0m-124.3 26h0m65.8 214.4h0m19.3-296.3h0m-12.8 151.5h0m-119.3-69.9h0m142 183.7h0m-126.7-229.8h0m244.8 249.8h0m-210.9-158.8h0m-12.9 46h0m73.4-150.9h0m136.6 315.4h0m43.2-147.9h0m-182.5 130.7h0m18.6-17h0m189.1-78.8h0m-81.3-97.8h0m-62 213.6h0m55.5-132.1h0m-180.2-33h0m23.8-156.7h0m105.3 18h0m-88 211.4h0m38.1-71.7h0m27.9-112.4h0m105.4 89.2h0m-66.6 104.5h0m-157.8-95h0m212.7 127h0m-78 71.7h0m85.5-229.4h0m82.3 88.1h0m-296.2-192.6h0m28.6 135h0m-25.3 57.1h0m3.2-96.7h0m27.2 103.9h0m34.2 30.5h0m144.4-107.9h0m-141.7-57.2h0m17.1-0.7h0m106.5 186.2h0m-104.7-256h0m-59.4 210.3h0m99.9-188.1h0m138.1 141h0m-55.7-47.3h0m-30.2 195.3h0m-129.5-168.5h0m70.9-2.7h0m139.7-15.6h0m67 43h0m-144.7 138.8h0m-172.5-269.5h0m104.4 250.1h0m-132.4-72.5h0m99.9-42.5h0m19.9 122.4h0m-26.4-310.4h0m197.5 223.2h0m-236.4-24.8h0m293-26.1h0m-243.9 87.6h0m71.2-151.1h0m-128.5 177.7h0m16-73.3h0m21.3-10.3h0m154.6 75.3h0m-248.5-242.6h0m134.1 261.7h0m-142.6-241.9h0m97.3 97.8h0m84.1-89.9h0m-11.9 247.7h0m162.8-138.8h0m-264.9-146h0m13.1 176h0m280.8-42.6h0m-160.6 86.5h0m-145.3-193.2h0m70.1 271.3h0m207.8-114.1h0m-324.7-90.7h0m172 77.6h0m-3.2 20.9h0m-31.7 142.1h0m-33.6-222.9h0m-53.4 106.2h0m93.3-134.9h0m7.8 144.4h0m-31.5-202.8h0m19.6-28.3h0m-80.7 212.5h0m-42.6-86.9h0m78.4 51.1h0m-61.8-126.5h0m92.2 253h0m41.8 38.9h0m-82.2-157.9h0m274.5 2.4h0m-155.1-25.4h0m-58.2-129.3h0m18.1 121.4h0m-22.4-53.2h0m-74.1-84.5h0m141.5 296.2h0m-185.7-143.4h0m331-14.1h0m-254-125.9h0m118.8 242.4h0m-134.6-172.5h0m-40.8-49.5h0m124.2 40h0m-51.9 141.1h0m-2.8 113.7h0m-23.2-157.8h0m34.1 161.8h0m90.6-72.2h0m-108.3-124.6h0m1.7 131.2h0m225.1-137.9h0m-157.4-66.8h0m131.7 68h0m-326.1 28.3h0m0.9-127.7h0m157.9 21.3h0m89.4 236.5h0m-225.9-191.3h0m253.1 168.5h0m-109-171h0m-134.6-115.1h0m280 102.1h0m-206.4 55h0m-14 77.3h0m49.8-243.7h0m-40.4 144.5h0m19.9 109.9h0m-34.4-143.7h0m8.5 5.9h0m290.2 50.6h0m-315.2 25.6h0m135.4-18.9h0m-20.6-24h0m192.4 30.4h0m-255.9-66.7h0m47.8 190.7h0m27.4-187.9h0m-74.8-63h0m61.7 126.7h0m61.8 48.2h0m-184.7-178.1h0m-44.4 179.8h0m171.4 109.9h0m-71.7-134.1h0m-74.5-134.7h0m57.4 67.7h0m-45.1 5h0m133.1 178.4h0m-65.7-50.4h0m60.5 52.1h0m-146.1-215.7h0m193.2 182.9h0m-191.8-278.7h0m297.8 172h0m17.8 22.5h0m-166.4-169.7h0m154.2 99.7h0m-216.3 180.4h0m26.3-330.4h0m65.1 117.6h0m-33.8 13.6h0m-53.2 17.3h0m19.3 243.7h0m-51.6-94.9h0m117.1-165.6h0m-116.1 148.6h0m230.3-152.2h0m33.6 70.5h0m-359.3-78.5h0m395.1 65.1h0m-184 55.2h0m-21.2 2.1h0m83.8-41.4h0m-29.8 126.6h0m-139.6-234.9h0m278.6 94.8h0m-6.8-21h0m-52.8 50.7h0m-80.8 102.9h0m-188.8-152.4h0m-10.7-105.1h0m134.9 23.1h0m67.7 166.2h0m-197.8-84h0m42.8-67.2h0m40.6 96.7h0m8-102.3h0m-130.9 96.9h0m45.9-184h0m58.1 110.1h0m179.5 36.5h0m5.9 43.8h0m-46.2-30.4h0m-4.6 101.3h0m-177.8-181.9h0m333.7 78.1h0m-94.3 3h0m-143 36.7h0m32-66.9h0m-141.5-32h0m3.3 122.3h0m-65.7-117.2h0m125.9 240.4h0m105.7-223.3h0m-37.5 31h0m-207.2-0.7h0m231.5-9.6h0m176.3-2.8h0m-12.6 73.1h0m-175.9-118.4h0m-104.3 167.2h0m88.1-14.9h0m-29.7-85.8h0m36.2-58h0m-107 188.3h0m76.3 64.5h0m192.4-180.1h0m-277.3 32.5h0m-2.7-122.4h0m86.1 47.2h0m-116.4-118.9h0m248.3 128h0m-186.8 69.7h0m148.1 23h0m-5-97h0m-40.2-57.8h0m-123.7 203.3h0m0.5-18.4h0m174.3 14.3h0m110.7-143.9h0m-147.3 22.1h0m-141.6 29.6h0m130.9 24.1h0m182.2-59.2h0m-271.9 39.9h0m83.3-56h0m159.4 27.6h0m-353.2 12.5h0m142.8 25.1h0m-102.7-100.8h0m199.9 170h0m-200.7-217.6h0m290.7 146.1h0m-292.3-190h0m324.8 158.4h0m-324.4-85.5h0m23.9 164h0m49.5-153h0m146 58.5h0m-266.5 10.5h0m240.5 108.3h0m-228.6-170.8h0m160.9-20.1h0m3.5 76.1h0m178.9 61.4h0m-255.8 77.1h0m60.3-53.5h0m232.1-53h0m-307.8-65h0m263 106.7h0m-172.7 147.2h0m10.8-138.8h0m-40.6-123.4h0m-85.8 98.7h0m-11.3-184.6h0m64 87.4h0m212.4 112.4h0m-128.9-162.3h0m-106.4 110.3h0m28-153h0m11.7 269.3h0m102.4-43.9h0m-73-173.7h0m175.4 157.3h0m-299.9-176.8h0m-19.9 34.5h0m36.6 90.9h0m324.1 19h0m-373.8-19.7h0m246.3 78.5h0m-218.6-76.6h0m59.6 2.2h0m-52.2 29.8h0m27.6-169.7h0m7.2 194.9h0m-13 14h0m325.3-107.8h0m-120.7 141.3h0m-114.8-223.8h0m210.4 89.6h0m-249.2 68.3h0m-34.4 32.2h0m-76.6-101.3h0m164.9-49.5h0m-5.4 193.5h0m-8.3-126.8h0m60 6.3h0m-92.6 0.4h0m-14.8 84.5h0m57.5 60.7h0m-26.7-141.6h0m-12.8 0.3h0m-35.1-162h0m-47.7 123.1h0m205.8-5.6h0m-137.9 183.6h0m143.2-66h0m-186.5 32.5h0m-13.5-17h0m58.2-51.7h0m-38-166.7h0m-23.4-32.2h0m64.2 305.2h0m254.1-163.8h0m-329.7 46.5h0m309.6-65.7h0m-190.8 17.1h0m26-36.3h0m-40.8-79h0m144.9 244.2h0m-251.8-165.6h0m7.6-48.8h0m64.5-81.5h0m-39.4 206.1h0m24.2-50.1h0m133.9 49.1h0m-198.4 20.2h0m111.3-120.5h0m-12.8 113.4h0m80.5-15.3h0m187.1-23.8h0m-333.1-34.5h0m136.8-6.5h0m-101.4 133.7h0m288.3-77.8h0m-247.7-108.1h0m-124.1 46.9h0m88-54.7h0m-52.6 150.5h0m212.1 51.4h0m98.8-98.4h0m-269.6-13.5h0m72.9 20h0m104.9 151.6h0m-197.9-85h0m51.5-250h0m130.6 236.3h0m-88.7-2h0m-100.5-77h0m186.6 32.9h0m-93.3-5.7h0m156.6 18.7h0m-213.4 111.4h0m-50.5-193.8h0m114.6-75.9h0m-80.7 115.3h0m74.3-61.4h0m-114.3 33.7h0m220.3 176.8h0m-125.7-192.7h0m16.2-43.8h0m-36.8 125.7h0m-6.7-176.9h0m100.7 126.5h0m-42.4 81.5h0m-55.9-163.8h0m13.1 13.7h0m-32.6-47.5h0m67.7 344.4h0m63.6-149.9h0m-163.9-209.5h0m153.9 245.5h0m-11.6-67.7h0m-166.4-64.7h0m308.1 56.9h0m-278.2-54.1h0m8.2 143h0m161.9-8.3h0m-226-193.6h0m-18.7 103.6h0m136.4 157.7h0m120.8-162.6h0m-206.9 90.8h0m95.6 114.3h0m-137.8-309.1h0m69.5-61.2h0m128.2 223.5h0m113.4-67.3h0m-122.7-6.8h0m-122.8-111.5h0m237.1 228.4h0m-167.8 15.2h0m-28.7 4.6h0m293.9-143.9h0m-307.3 137.3h0m113.7-98.8h0m-30-99.8h0m137.3 91.2h0m-162.6-96.6h0m-8.1-50.1h0m192.8 142.7h0m-130.1 86.5h0m-68.7-266.7h0m-120.8 225.6h0m209.4 20.2h0m-218-179.4h0m193-1.6h0m28.6 268.1h0m-113.6-201.2h0m-59.5-12.6h0m59.2-9.1h0m140.2 198.1h0m-244-98.1h0m197.5 27.2h0m-11.3-113.5h0m154.3 99.9h0m-155.4 139.8h0m-1-9.7h0m-39.1-287.3h0m-12.3 87.3h0m-149.5-10.2h0m101.7-109.2h0m78.2 194.8h0m-18.6-204.7h0m113.9 115h0m-104.9-14.4h0m-47.6-22.8h0m-36.2 84.5h0m230.1 29.3h0m-116.1-151.6h0m130.2 174.2h0m-154.8 128.2h0m75.4-240.2h0m-216.8 106h0m188.9-114.7h0m-142.8 178.3h0m47.1-87.4h0m80.1-36.9h0m-81.6-79.8h0m-74.2 130.7h0m54.6-48.6h0m88.5-102.7h0m-105.8 164.3h0m-40.1-89.3h0m29.7-139.8h0m-54.8 130.9h0m97.3-84.3h0m31.1 318.2h0m-55.5-188.1h0m52.4-78.5h0m-91.8-60.7h0m125.4-3.8h0m-22.3 273h0m-131.9-219.6h0m-6.1 112.6h0m106.3 90h0m75.4-46.7h0m-93.1 36.5h0m-23.7-220.3h0m61.7 148.4h0m170.9-76.4h0m-95 78.4h0m-189.4-137.2h0m69.7 103.6h0m287.9-18.9h0m-347.4-113.1h0m-42.9 59h0m155.5 87.7h0m-39.2-180.5h0m-8.2 232.4h0m-31.5-15.2h0m-6.9-196.7h0m183.3 196.4h0m-233.2-173.4h0m192.5 41.4h0m-81.1-38.1h0m2.7 64.6h0m17.5-73.7h0m254.7 114.3h0m-66.7 36.5h0m-255.4-57.6h0m101.9 57.1h0m53.6 10.8h0m-166-169.7h0m152.3 209.6h0m94.1-112.6h0m-282.4 117.4h0m111.3-131.8h0m-66.3-123.8h0m21.6 159.2h0m-55.7 108.3h0m259.8-4.3h0m-169.3-106.7h0m49.3 149.3h0m37.8-48h0m163.2-38.2h0m-238.4 51.4h0m248.2-86.4h0m-270.5 87.7h0m-28.2-154.7h0m305.6 39.1h0m-39.4-14.1h0m-130.7 113.6h0m138.8-37h0m-298.6 88.5h0m268.9-106.2h0m-316.7-14h0m103.1 113.2h0m-94.6-266.5h0m182.6 174.9h0m-76.8 70h0m157.8-84.5h0m-69.5-39h0m-236.7-22.1h0m90.8-88.6h0m-42.9 148.8h0m75 100.6h0m216-106.7h0m-248.6-69.5h0m44 49.9h0m18.3 138.2h0m-78.4-162.5h0m34.4 103.6h0m158.4 34.4h0m-13.6 24.2h0m-176.1-193.8h0m119.6-3.1h0m-60.7 83.3h0m-58.8-41.7h0m1.6 41.5h0m118.6-73.2h0m92.3 35.5h0m-76.2 70.5h0m-151.4-216.7h0m256.3 159.9h0m-109.9 51.9h0m-38 149.1h0m-128.3-304.9h0m62.2 40.6h0m116.3 114.9h0m-152.6-24.1h0m107-164.6h0m-97.2 89.3h0m53.6 226.7h0m-81.8-96h0m21.1-121.2h0m96.1 155.1h0m96.5-128.2h0m113.1 51.1h0m-173.4-34.4h0m-5.2-68.9h0m-112.1 120.7h0m92.6-77.4h0m167.7 2.1h0m-190.5-118.7h0m21.7 305.5h0m44.9-240.5h0m79.8 56.2h0m-122.1-123.8h0m-11 2.2h0m163.2 184.9h0m-233.2 25.5h0m158.7-33.2h0m-32.6-138.4h0m-37.8 139h0m-119.5-61.2h0m-60.5-14.2h0m131.8 219.6h0m107.7-17.4h0m-76.2 47.1h0m85.2-101h0m71.3-87.8h0m-265.2-92.3h0m97.6 61.1h0m-54.2 73.5h0m1.8-25.3h0m23.9-140.7h0m175.9 134.8h0m-22.1-71h0m-100.2 253.7h0m-58.6-206.9h0m62.1-153.9h0m-30.3 170.1h0m210.9 6.6h0m45.4-32.9h0m-169.4-45.6h0m-157.8 14.9h0m24.4-99.3h0m143.4 89.6h0m-220.9-57.3h0m155.7 239.3h0m-131.2-159.8h0m-11.7 15.9h0m144.9 162.4h0m4.4-70.4h0m175.8-49.9h0m6.9-30.9h0m-121.1 154.1h0m-12.4-19.3h0m18.2-189.9h0m-177.9 154.5h0m111.3-42.9h0m127.6-83.1h0m61.9 74.3h0m-340.2-172.8h0m356.6 151h0m-211.7-181.8h0m-173.3 147.4h0m69.5 103.8h0m32-136.9h0m209.3 50.1h0m-103.3-107.4h0m-153.9 184.4h0m95.9-43.1h0m-55.4 5.5h0m19.5-152.5h0m194.5 88.5h0m-72.3-19.9h0m146.5 71.2h0m-212.3-97.2h0m28.2 103.7h0m-34.6 15.1h0m-86.3-218.9h0m32.7 108.8h0m32.6-99.6h0m35.8 57.4h0m27.6 114.5h0m126.6 24.8h0m-255.7-141.8h0m256.7 151.5h0m-327.5-142.8h0m27.1-61.7h0m135.5 215.2h0m-65.8-3.4h0m65.6-164.8h0m-137.4-6.9h0m-24.3 69.3h0m57.8-7.7h0m-47.5 116.8h0m150.8 74.7h0m119.8-137.5h0m-146.7 187.3h0m136-167h0m-93.9 124.3h0m132-192.7h0m-237.9-32.9h0m27.9-24.2h0m10.3 6.4h0m218.7 87.9h0m-97.3 29.3h0m-86.8-51.5h0m13.7-43.5h0m-19.7 212.9h0m-57.8-235.4h0m70.9 229.1h0m-24.2-170h0m-112.2 1.1h0m144.9 19.3h0m-19.7-73.9h0m105.4 233.2h0m-91.9-223.2h0m-102.9 16.5h0m28.2-77.1h0m76.3 3.8h0m-34.5 157.6h0m-57.9-51.5h0m35.3-132.5h0m144.1 314h0m143.2-156.4h0m-295.9 32.3h0m32.2 9.4h0m38.3 161.5h0m58.4-33.5h0m-155.1-147.5h0m135.2 8.8h0m-101.9-166.6h0m186.2 159.3h0m-246.3-85.4h0m-44.9 82.9h0m240.6 39.2h0m-73.4 94.7h0m-73.2-112h0m-5.4-173.9h0m3.6 282.1h0m52.1-220.2h0m-152.2 78h0m339-24h0m-119.1 18.9h0m27.5 136.7h0m-234.1-250.7h0m155.8 93.1h0m-20-134.4h0m-69.3 40.7h0m251.6 89.8h0m-261 5.5h0m33.5-23.7h0m16-74h0m-2.7 243.6h0m92.2-151.4h0m30.7 172.7h0m-116.6-47.4h0m-10.2 57.4h0m-91.8-304.4h0m146.7 333.4h0m51.4-138.1h0m-7.1-65.6h0m-27.5 210.3h0m-138.7-192.4h0m88.6-142.7h0m-137.6 142.5h0m396.6-13.9h0m-189.6 40.1h0m-120.3 71.6h0m155.9 16.4h0m101.1-75.1h0m-6.2-25.9h0m-46.8-38.4h0m-9 5.7h0m-142.3-84.3h0m-79.9 193.6h0m105.9 120.4h0m19.9-338.1h0m191.5 174.1h0m-158.1-66.5h0m-49.3-148.1h0m-75.6 26.6h0m78 135.3h0m-156.1 42.9h0m146.9-45.4h0m66.7 3.7h0m22.3-39.5h0m-105.5 229h0m52.8-111.6h0m24.4-4h0m-191.9-143.8h0m52.3 196.1h0m-85.9-155.3h0m209.8 17.8h0m124-21h0m-48 79.6h0m11.1 11.3h0m-11.8-10.9h0m-20.7-127.7h0m-40.7 182.5h0m-38.4 0.8h0m-34.4-39.9h0m53 48.7h0m-63.3-55.7h0m9.6 7.1h0m64.4 64.2h0m-65.5-54.5h0m-0.3-14.5h0m70.6 39.9h0m-12.7 10.1h0m1 0.5h0m-6.9-2.6h0m-5.1-6.8h0m-59.1-40.6h0m18.7-6.8h0m-2.6 20h0m11.6 150h0m250.8-232.6h0m-253.2 228.6h0m86.7-325.8h0m85.5 55.7h0m-81.2-8.1h0m-78.9 155.4h0m138.3-0.5h0m-36.4-48.1h0m36.4 17h0m-110.8 36.1h0m16.2 30.1h0m-9.7 27.1h0m-5.3-66.2h0m-45.6 1h0m-9.7 8.5h0" stroke="#D6DDE0" stroke-width="14.6"/>
<path d="M256.1 1733.9h0m-42.7-97.2h0m-10.1 35.4h0m282.3-103.3h0m-11.8-24.4h0m-144.5 121.1h0m-135-15.4h0m300.7-101.4h0m-6.6-14.1h0m-208.1 128.5h0m36.1-180.5h0m-128.9 178.8h0m-22.9-119h0m32.5 125.1h0m-19.1-21h0m71.9 48.5h0m-43.9-59h0m162.5-118.6h0m-63.3 116.9h0" stroke="#CCC8F0" stroke-width="14.6"/>
<path d="M342.8 1612.2h0m-14.1 0.4h0m-86.1 81.9h0m195.3-164.6h0m-88 137.7h0m-112.9-3.2h0m147-1.6h0m-250.7-91.6h0m85.7 11.9h0m23.9 152.2h0m-83.3-163.2h0m37.2 68.7h0m-32.8-35.4h0m114.8 130.6h0m73.5-95h0m-188.5 6.2h0m23.3-10.6h0m54.5 40h0m64.7-123.7h0m-164.9 12.5h0m120.2 9.3h0m-27.5 107.9h0m117.7-24.6h0m-51.7-184.5h0m8.2-23.7h0m95.4 178.5h0m-56.3 0.7h0m-187.5-1.1h0m-26.8-68.9h0m61 12.6h0m255.5 18.3h0m-138.7-103.5h0m23.1 43.2h0m21.5 145h0m-12 6h0m-215.2-105.7h0m183.1 119.9h0m97.3-80.3h0m-98.5 9h0" stroke="#BBA4FA" stroke-width="14.6"/>
<path d="M342.2 1544.4h0m-67.7 64.9h0m-187.5-103.1h0m263.3 56.2h0m-134.6 58.5h0m18.4 67.7h0m219.6-165.2h0m-60.1 130.8h0m48.5-87.4h0m-226.4-39.4h0m-64.2 14.7h0m153.7 60.2h0m-1.5-30.4h0m-75.8 145.4h0m-20.1-158.6h0m46.8 81.3h0m57.2-123.7h0m-64.9-10.8h0m214.4 7.9h0m-203.7 169.2h0m66.8-170.4h0m-32 104.2h0m-98.7 42.7h0m155.4-42.2h0m107.9-56.6h0m-189.8 144.8h0m-146.1-116h0m217.4 77.9h0m-1.7-111.3h0m-152.1-7.9h0m75.6 171.7h0m-92.3-98h0m86.6 66.8h0m104.8 16.1h0m-54.6-201.4h0m-174.1 107.1h0m187.3-58.8h0m-19 45.1h0m47.1 56h0m-192.3-142.7h0m273.5 16.8h0m-254.2-6.5h0m19.4 96.8h0m128.7 5.5h0m-144.9-3.2h0m289.2-74.5h0m-136.8-53h0m-184.9 81.7h0m135.8 20.8h0m15.2 102.1h0m-107.6-124.1h0m20.3 10h0m-82.4-15.3h0m192 25.6h0m131.7-23.9h0m-244.2-24h0m159 22h0m34.2 35h0m-65.5-132.3h0m172.9 63.1h0m-180.4-57.2h0m-44.6 181.5h0m104.2-50.2h0m7.3 7.1h0m-26.7-37.6h0m-47 145.8h0" stroke="#A58CF8" stroke-width="14.6"/>
<path d="M314.7 1505.3h0m121.1 35h0m-100.1 142.3h0m-2.9-133.2h0m-184.4-1.6h0m156.8 48.8h0m-116.9-7.6h0m248.4-42h0m-218.9 95.2h0m10.1-150.8h0m29.6-14.2h0m55 15.5h0m45.8-11.5h0m103.2 72.9h0m-118.5 119.4h0m-98.9-51.6h0m-61.2-16.1h0m193.8-93h0m13.2-3.1h0m-64.6 9.5h0m35.8 145.7h0m-8.9-169.2h0m-3.3-9.8h0m-189.6 99.6h0m121.6 129.1h0m-117.5-103.5h0m-20.3-28.1h0m54.6-70.2h0m-38.9-10.2h0m187.9 204.7h0m-200.1-119h0m298.9-31.1h0m-313.5-45.4h0m167.3 47h0m181.7 23.5h0m-270.5 82.4h0m-72.9-132.6h0m226 167.7h0m-7.4-200h0m-173.8 169h0m39.8 6.3h0m195-144.6h0m-193.5 4.9h0m75.5 49.2h0m86.5-24.5h0m-48.4 41.6h0m-124.1 71.7h0m119.5-22.8h0m-40.9-60.2h0m-103.2-39.2h0m58.7 0.8h0m-74.7 46h0m-7.4-63.5h0m117.9 33.1h0m58.9 140.2h0m-248.1-164.9h0m358.3-25.4h0m-284.5 49.6h0m73.1 150.3h0m48.1-13h0m-25.3-115.2h0m18.4-97.4h0m-104.1 53.4h0m42.4-42.2h0m105.6 170.1h0m-58.7-127.8h0m-90.2-41.2h0m2.4 11.5h0m115.6 159.6h0m-62.9-104.6h0m179.2-25.5h0m-170.8 139h0m235.2-171.8h0m-279.7 40.3h0m226.3-15.9h0m-131.1 146.5h0m-197.4-171.9h0m391.2 4.6h0m-299.8 19.9h0m120.4-17.5h0m36.6 125.8h0m-167.2-63h0m17.9-212.7h0m16.7 249.3h0m112-178.7h0m-135.8 142.7h0m53.6-17.8h0m219.8-44.6h0m-240.4 171.1h0m76.6-215.5h0m172.8 59.7h0m-158.9 41.8h0m-151.3 25.2h0m121.6 92.4h0m11.5-116h0m160.4-46h0m-166.3 57.5h0m-16.5-20.2h0m-36.9 44h0m162.4-56.9h0m60.2-4.8h0m-187.8 25.5h0m87.7 131.1h0m-67.7-180.4h0m87.1 52.9h0m11.1 38.5h0m-22.2-165.1h0m-33.9 28.6h0m13.4-9.6h0m51.6 155.9h0m-14.1-57.6h0" stroke="#8A72F6" stroke-width="14.6"/>
<path d="M98.2 1505.3h0m165.3 58.1h0m-146.6-61.1h0m256.9-4.2h0m-186.5 45.2h0m64.9-88.2h0m25 125.5h0m-55.3-98.6h0m-8.3-22.5h0m64.1 103.5h0m15-103.1h0m113 35.4h0m-235.5 9.2h0m-43.7-10.2h0m-7.3-110.2h0m122.4 97.1h0m-92.8 88.7h0m82.2-21h0m-48.5-109.3h0m89.6 111.3h0m161.5 48.4h0m-164-205.2h0m121.3 123.3h0m-82 22h0m-179.1-109.7h0m273.3 110.6h0m-266.8-65.9h0m113.8 27.1h0m-28.7 27.6h0m-25-23.8h0m14.1 61.1h0m-42.1-51.5h0m50.8-161.9h0m56.9 140.2h0m-175.3 46.9h0m123.5-17.4h0m-116.3-7.8h0m177.1-49.9h0m-97.8 155.1h0m305.3-101.7h0m-224.1 198.1h0m4.9-125.1h0m37.6-153h0m-82.4 69h0m-59.7 40.5h0m126.3-142h0m-94.9 197.2h0m70.2-132.4h0m-114.6 51.8h0m125.7 2.7h0m-134 35.9h0m62.6-59.2h0m144.7 7.3h0m-65.8 166.9h0m-86.1-114.2h0m16.6 61.9h0m54.5-146.3h0m-160.9 55.7h0m40.3 41.2h0m45.7 44.8h0m45.5-263.5h0m-26.4 33.8h0m-17.2 38.4h0m19.7 63.2h0m-81.9-100.6h0m56.5 145.1h0m-87.3-48.4h0m125.1 239.9h0m-75.6-235.9h0m58.5 85.5h0m105.3-155.9h0m89.1 38.3h0m-93.5 184.4h0" stroke="#6C5AF5" stroke-width="14.6"/>
<path d="M358.3 1656.6h0m-141.9-252.7h0m121.7 217.4h0m21.1-108.1h0m-156.4-48.3h0m37.8-11.1h0m-59-53.2h0m90.8 62.2h0m-63.9-90.1h0m34.1 182.2h0m-139.9-104.8h0m58.7 111.5h0m40.5-168.1h0m-58 37.4h0m64.3 166.1h0m48.6-101.1h0m219.2-2.7h0m-210.5-30.4h0m12.8-10.4h0m140.1 51.1h0m-106.3 52.7h0m142.8-54.1h0m-240.7-19.7h0m-119.6 5.6h0m41.2 29.8h0m8.1-100.9h0m-21.4 73.3h0m159.7 64.8h0m-144.9-183.8h0m135.1 185.9h0m-50.1-9.7h0m94.8-101.3h0m-121.4-82h0m24.6 266.3h0m103.8-78.9h0m-176.7-158.5h0m198.8 116.8h0m-200.6 85h0m190.9 96.6h0m-110.3-334.1h0m-115.3 135h0m180.2-2h0m-143.4 3.2h0m45.8-97.9h0m223.9 164.9h0m-238.7-143.6h0m322.1 96.6h0m-376.9-134.3h0m173.3 118.4h0m-108.2-123.7h0m89.5 7.9h0m-30 147.6h0m70.9-6.1h0m97.3-6h0m-291.3-92h0m281.2 146.9h0m-230.6-170h0m55.3 55.5h0m62.7 96.3h0m-175.5-82.6h0m213.8 40h0m-197.6-92.5h0m-4.6-37.7h0m100.8 91.4h0m-16.8 80.2h0m154-71.5h0m-243.8-91.3h0m162.5 192.2h0m-69.4-60.3h0m82.2 27.3h0m-125.2-128.3h0m-60.4 37.8h0m108.1 109.1h0m102.1-0.2h0m-97.9-181.9h0m129.7 103.3h0m91.3 60.5h0m-309.8-147.5h0m141.6 146.5h0m-40.1-23.8h0m-53.8-24.2h0m25.2 24.6h0m-62.5-119h0m-29.2 77.2h0m29.9-70.3h0m155.3 12.2h0m-86.8 87.6h0m192.8 5.8h0m-111.3 48.4h0m109.2-31.2h0m-249.6-138.6h0m172.2 147.7h0m-225.9-40.6h0m95.5-99.3h0m-98.8 122.9h0m135.9-112.2h0m-63.9-47.7h0m-70.8 188h0m245.9 142.7h0m-40.2-22.5h0m-31.9-27.6h0m-39.7-298.3h0m-15.5 287.2h0" stroke="#4A4AF2" stroke-width="14.6"/>
<path d="M252 1381.1h0m210.8 105.7h0m-332.4-90.1h0m162.8 27.6h0m-131.4 50.7h0m24.7-106.4h0m-32.5 41.7h0m20.7 29.3h0m21.5 30h0m190.2 13.6h0m-119.7-55.9h0m-76 51.2h0m96-85.4h0m-130.3-14.9h0m-15.1 171.5h0m45.9-158.6h0m3.1 54.7h0m53.5-3.2h0m-1.6-75.5h0m-9.2 72.6h0m-122.4-23.3h0m163.1-3.7h0m-54.9 27.9h0m59.8 18.1h0m-138.3-17.7h0m142.7-15.5h0m-31.1-3.7h0m40.3 13h0m-53.9 105.3h0m-42.9-129.2h0m52.7 7.4h0m12.1-37.4h0m-98.3 11.8h0m-34.3 87h0m162.1-63.8h0m-87.2 75.5h0m81.2-103.9h0m-125.1 70.7h0m-25.5 10.8h0m70.5-60.4h0m-39.7-21.4h0m14.8 48.5h0m270.5 49.4h0m-154.3-41.9h0m-26.4-75.1h0m-63 70.7h0m-28.4 17.4h0m-23-3.4h0m46.5 29.8h0m6-21.2h0m-55 4.6h0m10.5-30.7h0m-22.4-37.8h0m1.9-21.8h0m143.1 64.3h0m-116.6-25.3h0m25.8 21.1h0m71.3-2.8h0m-3.9-21.6h0m-18.3 22.4h0m-131.9 36.8h0m80-10.3h0m174.4 47.1h0m-135.4-114.5h0m-112.2 85.1h0m79.2-95.7h0m-24.1 51h0m-44.8 4.2h0m343 50.9h0m-214.4-113.8h0m-20.9 96.5h0m19.1-55.1h0m-85.2-29.1h0m62.5-31.2h0m-26.1 33.1h0m75.3-11.7h0m-94.4 91.2h0m-47.8-8h0m53.4-82.9h0m43.3 68.7h0m-115.8-20.6h0m12.4 30.4h0m33.5 28.2h0m16.9 2.4h0m62.9-89.6h0m-47 26.8h0m45.4-36.8h0m129.7 97.9h0m-263.5-33h0m86.3 3.2h0m14.3 12.6h0m-58.5-41.2h0m-50.1 50.4h0m100.5-99.4h0m-90.1 51.9h0m312.7 60.8h0m-0.3-14.8h0m-216.9-28.4h0m208.7 42.1h0m-209.4 6.1h0m-67.2-24.9h0m108.7-39.7h0m-98.1 4.8h0m267.1 40.5h0m-233.5-17.6h0m66.3-58.5h0m-6.5-22.9h0m-42.1 98.3h0m-43.9-54.5h0m7 50h0m-68.5 8.7h0m127.2-8.6h0m238.6 27.8h0m-191.7-124.9h0m-74.2 45.3h0m10.7 116.2h0m51.1-81.4h0m211.9 42.4h0m-320.8-54.5h0m29.8 49.5h0m54.1-67.5h0m-26.4 32.2h0m68.4-65.8h0m-62.6 31.1h0m-27.1 52.6h0m-14.4-95h0m-2.6 61.4h0m-34.4-63.3h0m27.2 65.5h0m121.4-26.1h0m-170.3-30h0m66.1-14.1h0m-21 43.2h0m55.2 178.6h0m-112.1-161.4h0m342 50.1h0m-191.3 79.5h0m189.9-70.3h0m-210.5 65.2h0m8-183.9h0m-93.7 99.5h0m129-53.3h0m-133.7 76.6h0m-44.7-27.1h0m134.6-119.6h0m136.8 115.9h0m18.8-13.6h0" stroke="#2340EF" stroke-width="14.6"/>
<path d="M345.8 1624.2h0m-199.8-20h0m36 37.5h0m51.4-22.4h0m25.1 56.3h0m88.6-84.8h0m-4.8-8.3h0m43-28.7h0m7.2-7.3h0m-206.1 51h0m144.7-1.1h0m-69 113.4h0m-139.1-136.4h0m142.1 173.3h0m54.8-168.9h0m-147.7 77.1h0m117.5-2.5h0" stroke="#CCC8F0" stroke-width="14.6"/>
<path d="M492.1 1569.7h0m-334.2-29.4h0m52.9 113.8h0m32.9-25.1h0m122.3 30.3h0m-7.1 38.5h0m-125.9-62h0m122.8 50.7h0m-10.9 1.4h0m117.7-161.2h0m10.1 26.7h0m-280.4 74.6h0m-2 38.9h0m19 2.8h0m118.1-85.8h0m-180.3-77.9h0m23.3 135.3h0m67.1 30h0m100.5-76.9h0m17.7 18.3h0m113.5-51.1h0m-136.5 82.1h0m-90.6 84.4h0m45.5-37.1h0m39.8-70.4h0m25.6 81.6h0m-227.1-159.5h0m147.8 160.5h0m-21.3 3.4h0m-164.8-178.5h0m403.2 32.7h0m-108.1 93.8h0m-265.4-56.5h0m195.2-120.8h0m-175.5 105.4h0m121.8 73h0m14.6 69.5h0m-40.1-7.2h0m-105.1-115.2h0m55.1 56.1h0m-46-114.3h0m21.6 91h0m191.9 11.6h0m29.2 3.1h0m-147-157.2h0" stroke="#BBA4FA" stroke-width="14.6"/>
<path d="M216 1660.6h0m158.8-14.6h0m-220.9-20.1h0m152.8-16.6h0m26.3-89.2h0m-173.3 120.4h0m44.6-101.1h0m125.5 27h0m-43.7 169.5h0m18.2-145.7h0m34.6 110.4h0m-199.8-110h0m248.4-41.7h0m-193.8 44.9h0m282.6-15.3h0m-246.7 71.5h0m-60.7 11.2h0m182.1-181.9h0m7.2 143h0m-83.5 39.4h0m-103.4-48.1h0m179.9 20.3h0m0.8-27.3h0m-172.8-44.2h0m125.6-86h0m-171.2 20.1h0m77.8 150.6h0m128.6-131h0m-65 153.9h0m-82.9 8.9h0m99.8 41.3h0m-175.7-202.7h0m134.3 134.7h0m109.5-46h0m-14.7-30.6h0m-61.8 123.6h0m-4.1-83h0m68.1-91.5h0m-107.8 130.4h0m259-97.8h0m-74.7-38.7h0m-237.5 134h0m27.8-25.8h0m211.9-76.7h0m-306.2 0.9h0m209.1-15h0m-111.7 68.2h0m34.9 120.1h0m56.8-192.9h0m24.3 138.1h0m35.4-29.8h0m83.4-102h0m-117.2-47.9h0m48.3 91.1h0m-68.7 73.6h0m-40.2-17.1h0m-188.9-117.2h0m219.9 132.4h0" stroke="#A58CF8" stroke-width="14.6"/>
<path d="M218.2 1648.1h0m-90.2-229.6h0m266.5 144.8h0m-97.2-79.2h0m-37.4 209.3h0m-78-78.9h0m87.5-1.5h0m11-181.7h0m2.4 99.9h0m-78.4 80.2h0m37.1-122h0m-131.2 51.9h0m243.4-18.6h0m-92.2-5.7h0m-117.7 26.6h0m90.9-64.1h0m145 27.8h0m-266.6 0.2h0m308.5 19.1h0m-176.9 144.6h0m-69.6-262.3h0m-2.5 163.1h0m252.6-59.4h0m-3.9 66.3h0m-58.2 61.7h0m29.2-154.5h0m-78.7-35.3h0m118.8 58.4h0m-163-7.4h0m-164.2 32.7h0m112.8 54.8h0m96.4-118.5h0m-45.4 8.2h0m-130.4 118.4h0m43.9 33.7h0m3.5-224.6h0m108.7 57.7h0m-25.6 48.4h0m-23.8-17.8h0m-7 136.2h0m-138.2-142h0m222.5 49.6h0m66.5 119.6h0m-64.7-114h0m-56.6 135.1h0m-38.5 28.5h0m117.2-171.6h0m-41.8 42.1h0m17.4-144.2h0m-8.4 64.6h0m-31.2-49.4h0m-113.7 133.4h0m195.7 104.3h0m3.1-197.5h0m-0.5 176.6h0m-17.3-110.9h0m-91.7 190.4h0m165.8-201.3h0m-179.9 196.5h0m60.2-207h0m-131.8 112.7h0m7.9-115.3h0m-27.6-27.3h0m176.8 200.5h0m-43.5-156.7h0m-39.3 199.8h0m45.9-78.9h0m-152.7-50h0m106.9-141.7h0m145.1 17.4h0m-192.2 96.4h0m-67.6-102.5h0m-6.4 37.3h0m179.4 183.2h0m-169.3-323.2h0m177 75.6h0m112.3 108h0m-302.8-9h0m150.8 172.8h0m-120.2-114.7h0m278.4-33.1h0m-60.9 105.1h0m-121.4 29.4h0m-109.6-285.8h0m95.7 31h0m51.2 248h0m87.6-161.4h0m-181.7 9.1h0m141.8-65.7h0m-187.5 28.8h0m21.6 75.9h0m41.7-85.7h0m-53.7 95.3h0m-20.1-103h0m194.9 153.5h0m-79.8-164.5h0m-48 59.1h0m-21.2-27.7h0m74.9 186.9h0m39.4-141.2h0m-6.8-75.9h0m83.8-5.5h0m-30.3 35.2h0m-3.4 39.6h0m-8.3 12.9h0m-10-20.8h0m-23.7-20.5h0m-107.5-107.1h0m55.1 214.4h0m-115.6-51.8h0m305.9-69.1h0m-150.8-14.4h0m-65.7 85.4h0m230.6-84.6h0m-15.9 47.4h0m-119.3-10.6h0m73.5-58.4h0m-220 84.3h0m101.8 9.9h0m27.4-77h0m-180 65.5h0m157.8 141.5h0m111.4-85.7h0m6.5-57.1h0m-66.5 114.8h0" stroke="#8A72F6" stroke-width="14.6"/>
<path d="M238.2 1570.2h0m2.9-51.2h0m-59-10.9h0m-4.5 30.3h0m104-23.9h0m160.9 27.6h0m-293.4-175.4h0m44.9 217.5h0m21-226.6h0m-101.6 118h0m345.4 30.7h0m-254.1 68.1h0m233.5 0.2h0m-342.7-46.9h0m127.6-13.6h0m-76.5 108.2h0m128.7-109.3h0m-57.8-86.4h0m-9 163.2h0m78.1-137.9h0m-167 92.9h0m136.3 12h0m48.1-17.6h0m-177.7-70.7h0m36.6 42.2h0m239.7 56.7h0m-159.2 67.7h0m87.4 40.8h0m-152.7-75.8h0m-32.6-175.6h0m37.7 133.3h0m243.8 43.6h0m-55.1-96.1h0m-246.4 49.8h0m125.1-70.2h0m86.4 223.2h0m-141.9-106h0m95.7-64.6h0m-178 9.9h0m76.7 59.1h0m110.2-76.1h0m-32.1 24.3h0m9.6-11.5h0m24.2-107.9h0m-107.6 85.9h0m174.1 158.1h0m8.2-121.2h0m-101.4-54h0m-2.5 28.9h0m46.4 11.4h0m32.9-17.1h0m-171.6 24h0m152.9 9.4h0m-69.2-37.6h0m48.9 62.3h0m-64.8-68.9h0m25.1-72.5h0m-131.9 94.1h0m177.2 26.7h0m-126.2-177.3h0m129.4 114.7h0m-80.6 75.1h0m86.8-70.6h0m-94.6 73h0m84.6-46h0m-57.7-172.7h0m-102.6 10.7h0m-2.6 181.3h0m-31.9 29.4h0m154.4-114.3h0m-175.2 43.8h0m15.9 11h0m171 37.8h0m-33 11h0m-123.9-49.5h0m123.2-12.1h0m224.8 10h0m-51.9 18.7h0m-30.4-20.7h0m-211.5-120.1h0m34.8 154.5h0m236.5 16h0m-179-81.8h0m-63.4 13.8h0m-96.1 38.9h0m-13.5 0.7h0m146.1-90.8h0m121 73.7h0m24.1-20.4h0m-69.9 24.4h0m-137.9-11.2h0m-58 27.7h0m80.3-53.4h0m66.9 29.6h0m-44.4 72.1h0m75.1-179.8h0m47.6 24.4h0m39.7 17.7h0m-85.3 178.9h0" stroke="#6C5AF5" stroke-width="14.6"/>
<path d="M326.9 1500.5h0m-73.2 17.6h0m-31.6 40.7h0m160.5-39.2h0m-295.7-7.2h0m98.3-87.1h0m66.8 47.4h0m-1.5 65h0m-139.9 20.2h0m161.3-122h0m-47.5-14.7h0m19.2 116.4h0m93.5 39.4h0m-232.2-131.9h0m9.3-9.3h0m122.9-48.5h0m29.3-9.8h0m-15.5 59.6h0m137.1 88h0m-161.2-62.5h0m33.1 85.5h0m-92.3-149.7h0m49.1 48h0m43.4 93.6h0m102.3-54.5h0m-130.4-54.4h0m-66.2 65.8h0m-24.9-10.3h0m317.6 7.6h0m-337.7-60.3h0m143.4 57.3h0m-55.6-12.6h0m-96.3 47.4h0m-2.9-131.3h0m35.9 5.9h0m96.9 144.4h0m-14-3.7h0m7.2-54.8h0m47.4 91.6h0m-109.9-81h0m96.2 29.8h0m-9.3-57h0m-54.7 36h0m-68.7-77.9h0m-31.7 38.6h0m105.4-104.6h0m277.9 144.2h0m-329.3 44.3h0m235.1-27.3h0m-132 33h0m208-50.7h0m-279.2-85.9h0m-74.9-28.3h0m220.5 133.6h0m144.2-23.6h0m-175.1-83.4h0m12.4 97.5h0m-120.3-66.5h0m100.8 71.9h0m64.4 158.4h0m-93.3-77h0m10.2-203h0m-132 136.9h0m111.6-51.4h0m-150.7-22.3h0m171.4 37.1h0m-175-5.6h0m190.9 16.5h0m-151.3-141.9h0m59-12h0m17.6 27h0m141 118.6h0m-178.5-115.6h0m181.2 108.8h0m-130.3-133.3h0m41.9 63.1h0m-177.5 17.1h0m134.3 100.2h0m-112.6-82.5h0m186.4 182.4h0m36.1-209.7h0m10.5 14.4h0m61.9 17.6h0m-98.9 230.6h0m50-134.9h0" stroke="#4A4AF2" stroke-width="14.6"/>
<path d="M255.8 1442.1h0m-31.8 13.6h0m-11.7 17.4h0m17.3 57.7h0m17.8-125.5h0m-113.4 56h0m21.2-76.1h0m-49.6 41h0m176 112.1h0m-126.9-41.4h0m77.5-114.8h0m47.5 38.2h0m-11.4 33.6h0m18.9 29.1h0m-119.6-107.6h0m63.1 139.6h0m5.6 14.9h0m-82.7-52h0m226.9 5.1h0m-109.8-99.3h0m-31.4 20.2h0m-12.8 46.3h0m16.6-28.6h0m-43.2 20.8h0m42.6 88.7h0m179.5-47.1h0m-174-22.7h0m25.4-60.9h0m99.6 77.8h0m-195.8-49.5h0m35.6-43h0m-88.7 69.4h0m117 56.9h0m-47.6-87.2h0m53.2 44.5h0m-59-18.6h0m-65-42.4h0m62-45.9h0m65.1 12h0m134.7 126.3h0m-199-20.7h0m81.9-72.3h0m-46.9 57.2h0m-0.6-53.1h0m-0.6-44.6h0m12.4 0.6h0m-31.2 45.2h0m-18.2 35.9h0m75.2-61.2h0m-146.7 18.2h0m156.9 41.8h0m68.8 89.7h0m99.7-55.6h0m-345.7 18.5h0m159.5-141.1h0m-78.4 116.5h0m255.9 4.9h0m-248.3-35.8h0m0.9 19.4h0m201 29.5h0m-123.7-89.3h0m2.9 194.6h0m-9.3-53.5h0m-24.1 33h0m-23.4-129.9h0m12.2 95.4h0m132.1 0h0m-237.3-43.1h0m23.9-62.8h0m37.1 18.5h0m13.6-39.1h0m-24.3 67.9h0m81.4-20.3h0m-21.7-70.6h0m-63.4 35.2h0m41.7-56.3h0m-35.9 78.4h0m122.2-43.4h0m-29.4 57.8h0m142.9 30.8h0m-306.8 20.5h0m72.5-135.9h0m94.3 46.4h0m-4.4 61.5h0m-15.7-95.3h0m-45.5-37.2h0m68.4 86.9h0m1.8-50.2h0m-105.1 76.3h0m7-106.6h0m48.5 69.2h0m-17.4-3.5h0m-42.2-24.8h0m120.8-36h0m-104 56.9h0m127.4-9.7h0m-91.3-18.3h0m83.9 114.6h0m-73.4-40.2h0m-41.4 14.4h0m-75.9 64h0m97.9-4.6h0m-12.1-110.5h0m77.9-70h0m-68.5 124.5h0m-79.8-78.3h0m33.7 36h0m35.8 45.3h0m30.2-95.1h0m-32.7 33.2h0m271 56.2h0m-244-71.3h0m-47.9 10.7h0m-13 59h0m-32.2-41.6h0m62.6 38.5h0m59.7 67.4h0m-60.7-154.6h0m-58.9 53.2h0m366.6 48.5h0m-220.8 10.2h0m-115.6-7.6h0m106.3-132.6h0m46.9 177.9h0m-15.6-142.9h0m-168.7 2.3h0m83.3 97h0m60.9 34.4h0m211.5 0.9h0m-72.2-72.3h0" stroke="#2340EF" stroke-width="14.6"/>
</g>
<g stroke-linecap="round" fill="none">
<path d="M1164.4 1659.3h0m-59 55.4h0m-200.3-206.8h0m117.8-101.5h0m220.4 98h0m-94.4 110.6h0m-90.5-231.5h0m74.7 119.6h0m-70.9-58.5h0m25.4 131.7h0m-65.1 87.1h0m47.4-97.3h0m198.6-76.8h0m-126.2 145.2h0m-104.9-70.4h0m28.4 126.6h0m-98.5-193.3h0m-8.5-7.3h0m71.7-31.8h0m273.4 73.9h0m-394.5-6.2h0m271.4 122.8h0m-153.6-136.3h0m121.1 34.6h0m-4 77h0m126.4-58.2h0m-279.1-117.5h0m306.1 124h0m-267.8-94.3h0m105 137.2h0m-86.8-165.1h0m-124.3 54.7h0m325.8-1.6h0m-204.9 69.5h0m1.6 73.3h0m133.5-145.4h0m-182.2 70.7h0m228.1-60.3h0m-104.8-3.2h0m-190.1-90.1h0m204.6 115.2h0m-116.6-57.3h0m-38.7-80.1h0m282.9 153.6h0m-258 13.7h0m50.3 117.4h0m-83.8-121.6h0m12.8-17.7h0m198.7 115.7h0m-235.1-94.6h0m187.7 123.7h0m-131-0.8h0m83.4-167.9h0m112.4 48.8h0m-70.4 14.9h0m-49.1 31.2h0m84.4-96.2h0m-37.3-4.3h0m83.1-6.7h0m-317.1 4h0m368.9 81.2h0m-196.4-169.4h0m-30.4 112.9h0m11-77.2h0m226.6 97h0m-25.4-8.6h0m-26.7-6.7h0m22.1-5.5h0m-255.1 84.7h0m124.4-5.2h0m-119.9-241h0m74.5 301.2h0m-127.8-192.6h0m282 71.3h0m-65.8 119.5h0m-58.8-267.6h0m-21.4 212.9h0m-115.1-203h0m122.6-0.9h0m-23.2 108.9h0m128.5 1.5h0m-174.2 11.3h0m245.4-18.9h0m-343.4-55.2h0m93.1 206.8h0m38.1-14.1h0m143-144.3h0m-102.3 202h0m-9.5-244.5h0m-63.7-90.2h0m-59.2-6h0m130.8 64.7h0m3.7 252.4h0m151.2-143.3h0m-220.1-182.9h0m32.3 47.7h0m113.9 72.8h0m-25.9 204.9h0m-2.9-133.3h0m-80.2-94.5h0m-94.1 85.3h0m109.5-140.4h0m31.4 10.4h0m-164.7 50.9h0m-4 77.1h0m89.7 124.2h0m-33.6-150h0m24.5 141.7h0m56.8-57h0m-154.2-115.9h0m321.7 34h0m56.9-2.2h0m-209.5 18.1h0m-38-6.6h0m127.6 158h0m-197.3-243.1h0m21.4 30h0m215.6 30.1h0m-195.4 112h0m-61-226.5h0m228 277.9h0m-78.6-66.3h0m81-113.5h0m-279.8-57.1h0m160.4 1.1h0m-152.7 48.4h0m108.2 6.3h0m-33.6 107.2h0m235.1-56.1h0m-153.6-108.1h0m-56.3 34.5h0m278 95.7h0m-194.3-29.4h0m-43.1 170.5h0m96.5-44.6h0m-108.2-96.7h0m258.5-4.5h0m-300.5 97h0m149.4-84.9h0m-188.2-0.8h0m40.3-168.3h0m130.7 126.7h0m-222 21.3h0m320.8 38.5h0m-78.2-57.2h0m104.7-16.4h0m-196.6 10.7h0m96.4 129.9h0m-76.3-108.6h0m-68.1 98.5h0m-108.2-84.7h0m103 45h0m-4.8 75.2h0m203.7-140.7h0m-202.3 42.8h0m257.5 14h0m-126 19.6h0m101.2-33.3h0m-326.4-37.5h0m324.9 9.9h0m-149.5-154.1h0m-142.4 150.7h0m-33.1 14.3h0m78.1 19.3h0m43.1-195.4h0m90 180.7h0m-87.5-83.1h0m137.5 173.5h0m-94.6-90h0m101.6-55.7h0m-86.7-47.5h0m182.6 33.3h0m-155.2 36.1h0m-129.8 27.9h0m25.6 63.9h0m113.8-17.5h0m-57.7-167.7h0m133.3 59.5h0m-189.1 53h0m27.7 80.9h0m-73.3-124.7h0m63.8 173.2h0m-99.4-90.2h0m144.7-167.3h0m-27.4 237.9h0m-95.4-280h0m122.2 61.7h0m93.6 120.9h0m-230.9-11h0m-28.1-42.2h0m184.5-84.7h0m186.7 146h0m-279.6 114.1h0m19.3-261.8h0m-67 4.1h0m76.7 263.6h0m34.1-234.9h0m46.2-19.6h0m-23.8 265.4h0m-12.5-247.3h0m8.9 30.6h0m-43.5 54.7h0m168.4 21.2h0m-170.3-77.8h0m-54.3-90.2h0m178.3 268.5h0m-7.1 38.6h0m62.4-171.4h0m-331.5 6.3h0m222.8-40.2h0m-165.4 129.8h0m27.9-62.9h0m98.1 139.4h0m-112.9-58.3h0m135.1-96.2h0m-19.8-31.5h0m-131.2-47.2h0m67.8-23.5h0m241.2 81.1h0m-73.7-25.6h0m-209.6 37.6h0m167 41.7h0m-93-134.6h0m-10.7 193.5h0m10.9 24.2h0m114-179h0m-48.2 117.5h0m128.9-74h0m-263-43.4h0m87.2 101.2h0m145.8-42.1h0m-70-20.1h0m-156.9 144.4h0m159.5-159.1h0m-139 42.8h0m42.4 123h0m228.4-126.9h0m-12.2 9.6h0m-285.5-145.3h0m66.9-41.9h0m230.9 162.7h0m-55.3-26.2h0m-242.2 46.8h0m110.9-98.4h0m-74.6 105.7h0m-45.9-128.7h0m67 10.8h0m-79.1 38.2h0m-42.9-61.5h0m126.7 90h0m-117.7 38.5h0m260-61.8h0m65.1 103.7h0m-115.7-20.3h0m-58.8-182.9h0m29 226.2h0m-73.1-159.6h0m59.4 286.1h0m107.1-81.8h0m50.5-82.2h0m-114.5 93.5h0m-17.2-109.5h0m-38.3-143.7h0m190.5 94.5h0m-291.2 65.1h0m56.8-126.6h0m194.9 67.1h0m-303-91.9h0m299.2 158.3h0m33.5-77h0m-235.3-61.5h0m143.8 200.2h0m-105.5-242.8h0m155 169.6h0m29.2-0.6h0m-301.6 36.4h0m251.9-117.2h0m-145.9-38.7h0m24.2 224h0m-129.4-230.5h0m142.3-15.5h0m-82.9 16.9h0m42.5 88.8h0m83.5 94.4h0m155.7-81.1h0m-233.7-83.2h0m189 132.5h0m-268.5 51.5h0m144.8-194.4h0m-207.9-5.8h0m198.6 145.2h0m-30.7-190h0m-13.2 33.3h0m-8.3-11.8h0m120.7 56.4h0m123.8 60h0m-240.5 18.8h0m-73.1-117.4h0m121 99.7h0m39 134.4h0m-50.7-238.9h0m-20.1 139.3h0m-51.2-76.2h0m117.8 203h0m-181.2-136.7h0m53.2 76.9h0m73.5-42.5h0m160.8-78.8h0m-267.4-91.1h0m-74.9 8.6h0m242 250.9h0m5.7-173.5h0m-80.8 175.9h0m-130-99.8h0m53.7-149.2h0m238.6 67.7h0m-317.1-73.5h0m22.9 125.6h0m131.8-59.5h0m53.8 103.5h0m8.9 23.7h0m-168.9-118.3h0m-67.9 12.7h0m281-10.6h0m13.2-3.1h0m-253.3 8.1h0m199.2 70.5h0m5.4-49.9h0m-239.4-41h0m314.7 78.5h0m-164.5-6.9h0m150.5-1.6h0m-167.1 155h0m-16.8-133.1h0m19-202.1h0m149.8 161.7h0m-117.7 200.8h0m228.6-227.4h0m-227.7 18.5h0m-3.9-163.5h0m5.8 173.6h0m-21.1-113.9h0m-38.1-51.4h0m78.5 141.1h0m184.2 51.8h0m-245.9 71.7h0m-52.9 13.1h0m66.7-28h0m144-110.2h0m-73.2-54.4h0m150.5 23.6h0m-35.7 60.9h0m-84.7 49.9h0m-175.2 56.2h0m-44.6-206.3h0m114.4-56h0m192.8 127h0m-106.7-6.8h0m-92.3-103.5h0m128 249.4h0m88.5-121.6h0m-180.3-64.6h0m-117.1 63.2h0m54.9-21.8h0m20.1-57.8h0m24.2 184h0m148.9-141.4h0m-217 65.4h0m21.3 120.1h0m-73.1-174h0m117-98.4h0m218.9 157.6h0m-206.9-195h0m-137.3 109.4h0m229 5.5h0m110 31.1h0m6.7-26.9h0m-165.4 59h0m17.7 41.6h0m-181.9-3h0m172.3-27.2h0m-117.6-145.6h0m62.6 303.3h0m-39.5-281.6h0m43.4 3.5h0m-0.1 90.1h0m-69-128.1h0m64.5 297.9h0m-8.8-240.5h0m103.9 9.9h0m-152.5-80.5h0m132.4 277.4h0m-41-260.3h0m59 70h0m-145.9 110.6h0m98.3-80.9h0m61.1-30.1h0m-112.6 214.7h0m15.7-4.2h0m92.7-73.5h0m-153.5-199.1h0m7.6 111.2h0m52.7 199.7h0m9.9-72.3h0m10.5-165.9h0m105.4 21.4h0m-104.7-97h0m7.4 177.5h0m145.1-110.1h0m-255.6 143.4h0m-23.1-45.7h0m102-210.7h0m19.2 340.1h0m130.3-163.9h0m-179-120h0m51.5-43.6h0m176.6 187.5h0m-178-19.8h0m-111.4-68.3h0m-4.7 10.1h0m67.4 122.5h0m-87.6-195h0m169.4 102.3h0m125.6 25.6h0m-103.9-71.7h0m-149.1-30h0m120.8 88.8h0m-174.9 40.2h0m56.8-87.2h0m281.4 61.1h0m-313-95.3h0m150.4-27.5h0m-71.5-10.8h0m-96.6 66.7h0m42.2 71.2h0m126.3-132.7h0m3.7 164.8h0m68.1-41.8h0m76.2-53.9h0m-336.5-60.4h0m223.6 227.6h0m-6.4-132.5h0m-61.1 70.7h0m-116.3-196.5h0m133.5 61h0m-22.2 93.1h0m-138.8-88.3h0m128.1-100.1h0m-57.9 39.7h0m65.3 104.1h0m43.3 94.1h0m136.1-121.6h0m-160.1 88.9h0m6.3-130.9h0m-26.2-75.2h0m225.7 180.9h0m-262.1 105.1h0m-54.8-197.8h0m61 175h0m138.9-76.6h0m-179.3-41.7h0m204.7 27.6h0m-214.9-20.3h0m48.1-144.3h0m28.4 115.4h0m-163.5-2.2h0m91.8 146.2h0m129.9-96.6h0m-150.8 75.1h0m78.3-239.5h0m-41.1 104.4h0m135.3 121.4h0m-187.8-29.9h0m162.5 45.7h0m-117.9-49.2h0m286.7-32h0m-238.2 209.5h0m134.6-243.4h0m68 73.1h0m-63.3 84.6h0m-210.6 12.6h0m75.1-277.6h0m-60.7 234.7h0m196.5-129.3h0m-160.6-147.6h0m133.2 299h0m-175.9-170.2h0m-8.4 48.3h0m43.2 102.2h0m103.4-79h0m-48.4-77.9h0m-45.4 152.5h0m189.9-54.3h0m-276.4-160.6h0m214.7 258.8h0m-198.4-97.9h0m107.5-164.5h0m78.5 102.2h0m-21.7 34.4h0m26.7 89.8h0m-40.6-15.4h0m-113.3 22.3h0m149.5 66.6h0m130.8-148.2h0m-270.5-98h0m134.8 71.1h0m-228.3-69.3h0m54.4 164.8h0m-15.7-162h0m-6 129h0m190.2 96.7h0m-109.9-334.5h0m-25.1 277.5h0m226.1-113h0m-283.2-45.5h0m27.2 127.7h0m-24.3-15.4h0m15.4-153.2h0m69.4-67.6h0m212.9 228.2h0m-333.3-103.5h0m1.4 33.7h0m332.1 31.3h0m-163.7-75.5h0m-148.8 29.9h0m7.7-114.3h0m-38.4 87.1h0m35.1 124.7h0m289.7-7.7h0m-168 74.3h0m167.3-169.4h0m79.3 34.7h0m-395.1-146.6h0m15.8 65.5h0m19.9-59.5h0m56 133.6h0m-27.1-20.4h0m53.4-83.3h0m-86-54.9h0m40.5 73.4h0m75-61.4h0m9 354.5h0m99.9-241h0m-75.4-10.7h0m4.9 214h0m-41.1-296h0m-30.4 252.6h0m78.2-247.1h0m-171.6 170.1h0m374-49.4h0m-293.1-126.6h0m9.7 121.3h0m-12.1 140.7h0m35.9-181.3h0m39.3-48.7h0m-159.1 80.8h0m120.7 25.8h0m-16.8 161.5h0m142-202.7h0m-250.9 50.4h0m27.5-62.3h0m120.4 167.6h0m30.7-102.2h0m-130.8-144.2h0m195.9 104.8h0m-170.2-83.7h0m133.1 148.3h0m158.7-29.8h0m-237 106.5h0m82.4-39.8h0m-123.8-218.9h0m41 110h0m187.9 72.4h0m-73.2 43.7h0m-16.6 18.7h0m-210.2-122.2h0m81.4 74.8h0m129.1-8.5h0m-182.5 14.6h0m29.3-210h0m48.4 74.6h0m25.6-22.5h0m83.8 226.5h0m-15.2-136.7h0m-32.5 79.8h0m113.1-56.7h0m-90.1 33h0m10 114.9h0m143.4-126h0m-44.6-100.6h0m-256.7-65h0m86.3 16.1h0m-54.6 232h0m277.6-164.5h0m-213.1 193.6h0m-137.1-161.9h0m208.2 4.1h0m-150.2-54.3h0m86.8 96.3h0m21.7 0.2h0m17.4-144.4h0m150 131.6h0m-310.8 27.1h0m210-36.9h0m-52.5 26.4h0m-13-91.7h0m7.9 8.2h0m-69.6-69.5h0m9.4 97.6h0m246.7-13.3h0m-216.4 102.7h0m8.6 116.5h0m-129.8-184.4h0m206.4 123.3h0m-6.4 2.4h0m-232.1-121.7h0m152.1-103.1h0m21.2 122.8h0m-123.7 6.3h0m81.4-167h0m189.6 142.9h0m-95-54.4h0m-171.5-118h0m26.3 184.7h0m39.3-207.5h0m35.9 73.2h0m-114 43.5h0m-2.8 107.1h0m73.9-149.1h0m83.2 267h0m25.8-59.6h0m-129.4-67.5h0m204.4-93.1h0m-253.8 16.5h0m190.9 190.2h0m-55.2-207.1h0m-113.5 122.1h0m20.4-185.8h0m117 167h0m-164.1-68.5h0m13.6-18.9h0m264.3 31.8h0m-174.9 157.7h0m145-155h0m-49.5-41h0m-143.4 45.9h0m118.1 94.4h0m-134-71.1h0m-16.6-98.5h0m99.4 77.3h0m-33.3-133.2h0m206.4 134.4h0m-328.1 16.3h0m163.4 29.7h0m-32.8 145.2h0m17-272.1h0m-91.9 15.9h0m173.8 33.7h0m-68.1-9.8h0m-126.4 143.8h0m103.1-212.4h0m129.6 133.1h0m-65.7 32.4h0m-118.4-241.7h0m166 207.4h0m-48.3 41.6h0m-181.9-8h0m34.2-220h0m229.7 191.8h0m-143.3-191.6h0m-87.3 129.9h0m87.6-10.8h0m115.1 12.1h0m49.2 31.9h0m-326.9 10.3h0m116.8-154.6h0m79.7 170.6h0m-52.8 188.3h0m-93-104.3h0m267.5-144.4h0m-241.2 110.7h0m34-91h0m36.9-59.4h0m-147.7-17.6h0m83.7-63.5h0m169.5 284.1h0m-55.2-150h0m-40.1-32.6h0m-49.4 219.7h0m24.9-197.9h0m85.1 150.6h0m-128.4-207.6h0m26.4 48.4h0m275.9 22.8h0m-20.1 43h0m-238.7 2.1h0m-4.7-183.5h0m-52.7 225.3h0m90.5-100.1h0m-64.4 37.6h0m126.8-24.9h0m-43.1 11.2h0m-52.8-31.3h0m225 71.1h0m-11.2-56.8h0m-213.9 60.3h0m27.2 143.3h0m-145.2-279.6h0m88.6 258.6h0m-109.7-287.8h0m370.2 162.2h0m-351.1-65.3h0m86.7 168.5h0m257.1-185.2h0m-223 217h0m-0.6-279.6h0m100.6 118.2h0m-129.3-109.3h0m118.6 77.5h0m-177 101.7h0m146.1-130h0m-28.8 59.3h0m55.3 107.6h0m37.8-138.3h0m48.5-19.4h0m-117.4-57.9h0m-107.3 86h0m155.5 34.1h0m-57.8 35.2h0m130.8-90.6h0m-91.5 40.4h0m-142.2 10.9h0m69.3 194.7h0m-1.3-371.5h0m-6.1-9.2h0m78.9 206.6h0m-208.2-74.4h0m302 46.9h0m72.7 17.3h0m-289.4-131.7h0m53.1 39.9h0m-131.8 100.9h0m116.1 170.4h0m50.5-164.1h0m173.9-15.4h0m-231.4-133.6h0m233.9 162.3h0m-146.8-78.1h0m18.2 57h0m0-8.8h0m-79.7 10.4h0m20.1-168.2h0m-37-40.9h0m204.9 221.7h0m-118.3 60.4h0m-40.1-27.3h0m-55.2-250.3h0m66.9 167.6h0m179-1.6h0m-142.7 117.4h0m-200.5-149.2h0m304.6 13.8h0m40.8 8.7h0m-270.4-28.2h0m-5.2 48.2h0m118.3 12.3h0m-207.1-113h0m111.6-86.7h0m-80.1 232h0m11.5 11h0m304.4-14.5h0m-261.8-195.3h0m269.2 129.9h0m-211.8 10.8h0m190.8-32.4h0m-267.2 139.8h0m179.3-0.8h0m-213.7-132.2h0m222.7 54.4h0m-267.7-38.2h0m153.5 182.3h0m17-320.6h0m-36.3 346.6h0m-48.2-69h0m154.8-42.3h0m-163.5-199.6h0m93.4-1.6h0m-30.2 113.6h0m-93.6-87.6h0m18 156.3h0m66.8-238.3h0m-12.7 151.7h0m22.6 114h0m31.8-248.6h0m-158.1 18.5h0m244 250h0m-15.6-38.7h0m-77-102.6h0m-57.3-122.7h0m179.1 167.8h0m-181.9 130.8h0m18.6-17.1h0m-27.9-157h0m216.4 78.2h0m-81.1-98h0m-61.8 214h0m55.3-132.3h0m-146.7-99.6h0m-21.9 66.3h0m153.7-11.2h0m-164.7 11.4h0m128.8-138.8h0m-22 27.3h0m195.1 137.2h0m-40.2-43.1h0m-49.9-4.8h0m-66.3 104.6h0m-120.5-54.6h0m-39.8-102.3h0m214.9 188.9h0m-77.7 71.8h0m85.2-229.7h0m82.1 88.3h0m-295.2-192.9h0m28.4 135.2h0m-25.1 57.2h0m177 125.6h0m-173.8-222.4h0m127.5 85.5h0m-100.5 18.5h0m178-77.5h0m-141.1-57.3h0m17-0.7h0m106.2 186.5h0m-36.5-84.3h0m-68-172.1h0m34.1 152.2h0m-93.2 58.4h0m-17.9-106.1h0m157.3 59.1h0m-39.9-141.3h0m-68.3-41.3h0m205.9 182.4h0m-55.4-47.3h0m-30.2 195.6h0m-25.9-216.1h0m-62.3-11.3h0m29.9 55.9h0m-5 184.4h0m138.9-133.1h0m72.1-23.8h0m-144.2 138.9h0m-199.9-92h0m-12.5-6.2h0m99-194.9h0m41 180.5h0m23.4-109.9h0m-51.3 88h0m190.4 35.2h0m-266.6-158.5h0m158.7 52.9h0m-127.8 80.8h0m149.8 103.9h0m13-139.9h0m-113.8 97.5h0m70.9-151.3h0m63.2 169.7h0m-250.8-217.8h0m3.2-25.2h0m133.7 262h0m-142.2-242.2h0m97 98h0m83.8-90h0m-11.9 248h0m-104.1-124.6h0m266.4-14.3h0m-270.3-135h0m19.3 164.9h0m-32.4-115.2h0m312.3 72.6h0m-190.5-116.1h0m0.9 139.4h0m29.6 63.3h0m17-50.3h0m-161.8-143.1h0m85 48.6h0m-15.3 223h0m-145.9-146.3h0m353.1 32h0m-184-51.8h0m-139.7-39h0m171.5 77.8h0m156.1-44.4h0m-159.3 65.3h0m44.4-27.1h0m-76 169.3h0m226.7-218.8h0m-220.4-33.1h0m7.7 144.7h0m-31.3-203.1h0m19.5-28.3h0m135.4 110.6h0m-230.1 70.2h0m14.2 31.9h0m-42.4-87h0m78.1 51.1h0m-33.1-15.3h0m-28.4-111.3h0m155.8 148.8h0m169.3-12.3h0m-154.4 47.7h0m-0.1-73.1h0m-58-129.4h0m18 121.5h0m1.7 164.8h0m-24-218h0m-73.9-84.6h0m101.6 266.8h0m39.5 29.7h0m144.8-157.7h0m-253.2-126h0m-83.3 203.9h0m141.6-126.9h0m-103.7 53.5h0m-19.2 5.2h0m7.4-66.4h0m173.3 32h0m13 186.3h0m-10.7-45h0m-158.7-170.9h0m107.7-11.2h0m-54.6 255h0m-23.1-157.9h0m34.1 162h0m90.3-72.3h0m-117.3-159.1h0m9.3 34.3h0m-42 124.3h0m43.7 7.1h0m224.3-138.1h0m-209.8-133.9h0m79.8 276.6h0m-26.9-209.5h0m-193.7 96.4h0m0.9-127.9h0m157.4 21.3h0m-64.3-30h0m153.4 266.8h0m-225.2-191.6h0m266 24.4h0m-13.7 144.4h0m-242.8-286.4h0m279.1 102.2h0m-205.7 55.1h0m35.7-166.7h0m-40.4 144.7h0m-113.1 1h0m98.7-34.9h0m160.4 175.6h0m-151.9-169.6h0m289.2 50.6h0m-179.1 6.8h0m-20.6-24.1h0m191.7 30.4h0m-316.2-170.9h0m61.2 104.2h0m21-8.7h0m54 11.4h0m-56.4-101.6h0m-18.2 38.6h0m61.5 126.9h0m61.6 48.2h0m-184.1-178.3h0m208.4 62.6h0m-196.3 19.4h0m2.3 11.5h0m40.8 62.3h0m-74.3-134.9h0m245.4 51.3h0m-132.9-66.4h0m-55.3 82.9h0m51-21.3h0m-95.9 26.3h0m-47.4-64.1h0m183.8 223.7h0m-162.2-187.2h0m336.5 17.3h0m-178.1 188.9h0m200.8-176h0m-266.3 125.6h0m60.3 52.1h0m-145.6-216h0m-13.8 62.6h0m206.3 120.5h0m-27.8 45.7h0m133.5-152.4h0m17.7 22.5h0m-165.8-170h0m3.6 145.1h0m150-45.2h0m-175.4 207.9h0m-71.5-261.9h0m-60.8-69.6h0m118.4-26.6h0m64.9 117.7h0m-87.3 94.3h0m53.6-80.7h0m-13-46.1h0m44.5 46.7h0m-115.7 148.7h0m229.5-152.4h0m33.5 70.6h0m-122.6 25.1h0m-223-111.3h0m-12.5 7.6h0m393.7 65.2h0m-89.4 1h0m-93.9 54.3h0m68-45.5h0m-72.3-92.9h0m-74-67h0m93.5 117.4h0m17.5 175.4h0m-139.1-235.1h0m62.8 139.8h0m0.4 111.9h0m37.2-265.1h0m170.4 87.2h0m-313 96.2h0m180 57.6h0m-188.2-152.6h0m-7.1-100.4h0m-3.6-4.8h0m134.4 23.1h0m140.8 124.6h0m-73.3 41.8h0m-197.1-84h0m39-170.2h0m3.6 102.8h0m31.9 47.8h0m-87.4 30.7h0m96 18.3h0m8-102.4h0m46.5 266.4h0m-131.2-353.6h0m-43.9 150.7h0m101.7-40.5h0m-49.2 70.9h0m228.2-34.3h0m-142.8 174.9h0m148.6-131h0m-46-30.5h0m-39.3 37.9h0m34.7 63.6h0m-177.3-182.2h0m332.7 78.3h0m-94 2.9h0m-183-54.9h0m72.3 24.7h0m-3.3-23.8h0m130.7 111.7h0m-238.6-197.8h0m138.8 100.1h0m-37.3 31h0m-206.5-0.7h0m230.7-9.6h0m-103.5 44.6h0m144.8 151.8h0m8.6-223.4h0m-31.8 43.7h0m89.1-34.8h0m55.9 88.4h0m-175.3-118.4h0m-0.9 42.8h0m-179.9-113h0m299.9 85.4h0m-223 152.2h0m-23.4 19.1h0m62.2 37.7h0m49-71.8h0m-29.6-85.8h0m36-58.1h0m-30.5 253h0m-2.2-328.1h0m23.5 188.7h0m170.4-40.9h0m-65.1 5.2h0m-22 143.9h0m-222.1-310.8h0m247.4 128h0m21.3-18.6h0m63.1 12.3h0m-270.5 76.2h0m111.9-75.3h0m6.1 4.5h0m29.5 93.8h0m2.9 5.8h0m-7.8-103h0m-40.1-57.8h0m-3.6 4.3h0m-119.1 180.9h0m173.6 14.2h0m-204.2-174.9h0m314.6 30.9h0m-146.9 22.1h0m-77.1 196.8h0m96-144.1h0m-29.5 1.1h0m181.6-59.3h0m-271 40h0m83-56.2h0m158.9 27.7h0m-352 12.6h0m142.3 25.1h0m-102.4-101h0m139.2-59.9h0m60.1 230.2h0m89.7-71.6h0m-291.3-190.3h0m-13.8 59.6h0m77.7 88.2h0m259.8 10.8h0m-323.4-85.6h0m23.9 164.2h0m49.3-153.2h0m145.5 58.6h0m-123.4-86.3h0m-142.2 96.9h0m11.9-62.7h0m46.5-101.4h0m113.8 81.4h0m20.2 104.6h0m-16.7-28.4h0m178.4 61.4h0m-255 77.2h0m291.4-106.6h0m-306.7-65.1h0m262 106.8h0m-239.1-162h0m19.3 147.3h0m58.5 23.1h0m-140-167.7h0m99.5 44.2h0m-76.3-58.6h0m-20.4-27.5h0m63.8 87.5h0m211.7 112.6h0m-341.6-65.2h0m217-110.4h0m-4 13.1h0m-105.9 110.5h0m27.8-153.2h0m194.6 87.5h0m-217.2 127.5h0m117-87.8h0m19.3 98.4h0m-72.7-173.9h0m174.8 157.5h0m-298.9-177.1h0m82.2 147.6h0m151.3-16.4h0m-188.5-93.4h0m-28.3 87.8h0m318.3-33.6h0m-277.4-63.5h0m282 116.1h0m-155.6 2.7h0m-216.9-22.4h0m245.5 78.6h0m-217.8-76.7h0m59.4 2.2h0m103.9-28.5h0m64.1 158.6h0m-220-100.2h0m34.5 25.2h0m311.4-93.9h0m-120.3 141.5h0m-50.5-118.3h0m-64-105.8h0m80.5 66.9h0m-50.3 204.7h0m-68.9-113.5h0m36.5-186.5h0m-147.1 117.3h0m140.6-140.1h0m24.7 225.6h0m-0.9-135.1h0m-13.6 66.8h0m-28.4-148.4h0m88.2 154.8h0m-49.8 145.7h0m-26.6-141.7h0m-12.8 0.2h0m73.5 51.9h0m-108.4-214h0m-47.6 123.1h0m59.7-30.6h0m145.4 25.1h0m5.3 117.7h0m29 37h0m-228.3-21.5h0m4.8-212.8h0m111.7 50.2h0m151.2 66h0m-303.9 61.5h0m161.7-199.1h0m-19.7-38.3h0m-85.7 53.9h0m-17.9 107.8h0m-5.4-140.1h0m-3.9 141.2h0m200.3 1.1h0m-132.4 163.3h0m97.6-210.7h0m155.6 46.7h0m-228.2 131.3h0m208.1-150.6h0m-279.5 94.9h0m89.4-77.7h0m25.9-36.4h0m-146.3 97.3h0m105.7-176.3h0m144.4 244.5h0m-250.9-165.8h0m73.4 28.6h0m-65.9-77.5h0m64.2-81.6h0m-15 156.2h0m81.4-142.8h0m52 192h0m-178.8-24h0m92-76.4h0m-83.4 149.5h0m189.3 43.4h0m-118.7-79.4h0m54.4-48h0m16.6-109.8h0m9.2 142.4h0m186.6-23.8h0m-286.9-136.9h0m277.2 118.8h0m-193.5-4.1h0m-128.9-12.3h0m136.4-6.6h0m186.3 56.1h0m-179-30.7h0m50.2-29.3h0m-200.8 64.1h0m82.7-112.4h0m39.4 27.3h0m-127.8 115.5h0m309.9-47h0m-268.8-13.5h0m72.7 20h0m183.7 6.5h0m-229.1-78h0m150 223.3h0m-197.3-85h0m6-123.8h0m82.8-1.4h0m-37.4-125.2h0m-119.3 152.5h0m395.5 45.5h0m-146.1 38.6h0m-88.4-2h0m-100.2-77.1h0m-25.2-115h0m37.3 179.2h0m17.8-212.9h0m156.1 181.7h0m-93-5.7h0m-95.9 83.9h0m252-65.2h0m-212.7 111.5h0m33.7 43.9h0m-96.9-212.2h0m73.4 111.8h0m-60.5-137.6h0m181.3 179.5h0m-67.1-255.4h0m198.7 94.1h0m-279.1 21.4h0m68-24.9h0m-107.9-2.9h0m219.6 177h0m-109.2-236.8h0m17.5-58.9h0m-54.1 184.8h0m206.5-39.6h0m-112.8-10.9h0m-192.4 15.2h0m150.1 66.4h0m-74-17.7h0m18.2-146.3h0m-26.5 9.5h0m39.6 4.2h0m-32.5-47.6h0m14.6 143.7h0m71.2 13.4h0m10 127.8h0m-0.3-115.6h0m42.2 35.8h0m-9.5-157.6h0m2.7 147.3h0m-10 36h0m-50.3-257.5h0m38.8 189.7h0m-107.1-65h0m248.3 57.2h0m-240.6 15.4h0m-36.6-69.5h0m8.1 143.2h0m-20.5-126h0m181.8 117.7h0m-96.9-102.7h0m-128.2-91.2h0m-18.7 103.8h0m334.6-10.8h0m-198.7 168.6h0m120.4-162.8h0m-144.9-176h0m17.6 27.1h0m-39 143.1h0m115.1 64.2h0m-168.7 12.2h0m281.7-79.6h0m-151.6-69.6h0m-71.9 199.1h0m-3.2 6.3h0m286.3-163.1h0m-304.2-91.1h0m-49.7 6h0m286 222.6h0m-195.9 19.9h0m-13.4-6.6h0m113.4-98.9h0m-30-99.9h0m136.8 91.2h0m-162-96.7h0m-101.3 4.5h0m89.8 117h0m3.4-171.7h0m192.3 142.9h0m-129.8 86.6h0m-68.4-267h0m221.6 164.5h0m-342 61.4h0m68.8-88.3h0m29.2 134.6h0m110.7-26.1h0m-109.8-203.7h0m-32.6 33.2h0m242.8 119.8h0m-168.8 163.5h0m17.3-236.3h0m26.2-57.8h0m28.4 268.5h0m-113.1-201.5h0m-35.7 4.4h0m-23.6-17h0m29.1 26.4h0m-71.7 32.8h0m101.6-68.3h0m139.7 198.4h0m-46.3-71h0m-11.3-113.6h0m-124 41.3h0m277.8 58.6h0m-232.3 112h0m76.4 18.3h0m0.8-136.7h0m-39.7-150.9h0m-12.4 87.4h0m-148.9-10.2h0m97.7 118.5h0m3.7-227.8h0m92.8 107.1h0m-14.9 87.9h0m-18.5-204.9h0m-56.4 240h0m169.9-124.9h0m-104.6-14.5h0m-83.5 61.8h0m-60.8 9.3h0m290.1 20.1h0m-115.7-151.8h0m129.8 174.4h0m-179.9-238.2h0m25.6 366.6h0m75.1-240.5h0m-27.8-8.8h0m-62.6 37.3h0m-79.8 141.3h0m47-87.6h0m79.9-36.9h0m-94.7-71.2h0m-60.6 122.2h0m62.8-162.6h0m-8.4 113.9h0m88.2-102.8h0m-127.6-0.4h0m22.2 164.9h0m91.5-201h0m173.3 200.1h0m-153.6-115.2h0m66.3 27.3h0m-50.8-15.7h0m-92.4-97.1h0m-7.8 135.8h0m5.4-116.9h0m31 318.6h0m232.1-206.7h0m-287.4 18.3h0m52.2-78.6h0m183.5 79.1h0m-274.9-139.9h0m125-3.7h0m-22.3 273.3h0m-137.5-107.2h0m255.1-70.6h0m-74 114h0m22.2 17.6h0m-115.1 19h0m-56.9-156.3h0m-32.1-41.7h0m225.7 82.6h0m-160.2-105.2h0m61.5 148.5h0m-124.7-86h0m295 9.6h0m-94.7 78.5h0m-188.7-137.4h0m45.8 185.2h0m23.6-81.4h0m264.7 6.8h0m22.3-25.8h0m-158.7-27.2h0m-230.3-26.9h0m154.9 87.7h0m-39-180.7h0m125.1 193.9h0m128.3-31h0m-117.2 54.3h0m-40.5-132.2h0m-80.9-38.1h0m9.9 130.9h0m158.4-31.4h0m-218.9-123.4h0m152.7 183.9h0m-211.4-130.7h0m189.6 128.6h0m-60.2-167h0m253.9 114.4h0m-66.5 36.6h0m-254.6-57.7h0m155 68h0m-165.4-170h0m313.5 95.7h0m-151.2 33.1h0m-10.5 81.1h0m-2.2-52.9h0m-149.1-179.3h0m-2.6 61.5h0m247.7 58h0m-113.2-72.9h0m-168.8-48.5h0m162.3 160.6h0m-32.2 209.8h0m-18.6-263.4h0m-66.1-124h0m21.5 159.4h0m-55.5 108.5h0m258.9-4.3h0m-168.7-106.9h0m-74.5-74.1h0m123.6 223.6h0m-64.7-113.3h0m102.4 65.2h0m-40.2-201.6h0m202.9 163.3h0m-237.6 51.6h0m208.3-62.5h0m39-24.1h0m-269.6 87.9h0m-28.1-154.9h0m80.2 9.3h0m224.3 29.8h0m-39.2-14.1h0m-54 16.2h0m-279.4 74.2h0m134.8-86.1h0m33.7 60.3h0m34.7 49.1h0m138.3-37h0m-256.3-78.6h0m226.7 60.8h0m-34.6-25.5h0m-272.5-142h0m181.9 175.1h0m-76.6 70.2h0m157.4-84.7h0m-69.3-39.1h0m-235.9-22h0m90.5-88.7h0m252 119h0m-220.1 130.7h0m215.4-106.9h0m-229.6 59.8h0m250.4-75.2h0m-92.5 109.6h0m-13.6 24.3h0m-175.5-194.1h0m119.2-3h0m-60.5 83.3h0m-58.6-41.8h0m119.8-31.6h0m92 35.5h0m-96.6-5h0m-100.9-122.9h0m-29.3-18.5h0m255.4 160.1h0m-109.6 52h0m-165.7-156h0m-28.6 116.2h0m90.7-75.5h0m-36.3 90.9h0m106.7-164.9h0m-87.7-18.7h0m149.6 164.1h0m-170.5-120.8h0m11.8 64.9h0m160 64.8h0m-106.7 162.1h0m35.3-62.1h0m96.2-128.4h0m9.3-21.2h0m103.4 72.3h0m-172.8-34.3h0m-5.2-69.1h0m-145.5 109.2h0m126-65.8h0m-18.6-58.4h0m4-82.9h0m-150.6 138h0m332.4 5.4h0m-189.9-118.8h0m66.4 65.1h0m79.5 56.2h0m-121.7-124h0m-10.9 2.3h0m41.6 154h0m-15.6-143.1h0m85.3 121.6h0m51.3 52.6h0m-74.2-7.8h0m-114.7-206h0m82.3 67.5h0m-37.8 139.2h0m-119-61.3h0m-58.4-74.8h0m129.4 280.4h0m88.7-134.9h0m-100.6 16.8h0m75.6 101.7h0m52.6-54.9h0m71-87.9h0m24.2-71h0m-288.4-21.5h0m97.3 61.2h0m-54.1 73.6h0m157.9 78.9h0m-132.2-245.2h0m175.3 135.1h0m-22.1-71.1h0m-99.9 253.9h0m-58.3-207.1h0m61.8-154.1h0m169.1 123.7h0m10.9 53.2h0m45.2-32.9h0m-168.7-45.6h0m-157.3 14.8h0m254 58h0m-229.7-157.3h0m142.9 89.7h0m-220.1-57.4h0m267.6 124h0m-112.5 115.5h0m-108.7-17h0m110.7 35.6h0m179.6-120.5h0m-153.8-38.7h0m132.1-39.7h0m-303.4 52.9h0m332-5.4h0m-120.7 154.3h0m-22.6-166.5h0m28.4-43h0m-177.3 154.8h0m98.7-213.9h0m139.3 87.7h0m61.8 74.4h0m-358.6-183.4h0m19.6 10.3h0m315.5 137.7h0m39.8 13.6h0m-211-182.1h0m-172.7 147.6h0m204.2 16.2h0m-106.4 35.3h0m3.4-84.7h0m208.6 50.3h0m-103-107.6h0m-153.4 184.7h0m73.8-209.3h0m-33.4 171.6h0m19.4-152.7h0m193.9 88.6h0m-72.1-19.9h0m146 71.2h0m-211.6-97.2h0m28.1 103.8h0m-34.4 15.1h0m60.1 73.6h0m35.4-29.8h0m-148.9-154.1h0m167.7 2.6h0m64.2 49.3h0m-199.5-151.6h0m35.7 57.5h0m27.5 114.6h0m126.2 24.9h0m-202.1-210.1h0m-123.3 76.8h0m27-61.7h0m30.5-20.3h0m104.6 235.7h0m-65.6-3.4h0m65.4-165h0m65.4 245.7h0m-202.4-252.6h0m-24.2 69.4h0m8.9 69.3h0m48.7-77h0m-47.4 116.9h0m269.8-62.9h0m-10.7 20.3h0m-93.6 124.5h0m131.5-193h0m-209.2-57.1h0m120.1 51.2h0m-188.9-17.2h0m79-27.6h0m218 88h0m-97 29.4h0m-86.5-51.6h0m13.7-43.6h0m-19.7 213.2h0m-57.6-235.7h0m70.7 229.4h0m-33.3-131.7h0m-65.1 30.4h0m74.3-69h0m-111.8 1.2h0m229.8 178.8h0m-91.6-223.5h0m-102.6 16.6h0m104.2-73.4h0m-34.4 157.7h0m-57.7-51.5h0m35.1-132.6h0m103.5 215.3h0m-188.2-17.4h0m157.8-47.2h0m70.6 163.6h0m142.7-156.6h0m-294.9 32.3h0m32.1 9.5h0m-134-20.5h0m172.2 182.2h0m58.1-33.6h0m-212.4-244.8h0m192.6 106h0m84-7.4h0m-245.4-85.4h0m195 122.2h0m-73.2 94.8h0m-72.9-112.2h0m-5.4-174h0m3.6 282.4h0m-67.9-142.8h0m119.8-77.7h0m45.8 39.8h0m-197.5 38.4h0m175.1-124.9h0m162.8 100.8h0m10.9 48.7h0m-185.8-33.4h0m83.6 140.5h0m-233.2-251h0m155.2 93.2h0m-19.9-134.6h0m181.6 130.7h0m-226.7-18.3h0m15.9-74h0m-2.7 243.9h0m91.9-151.6h0m39.9 184.9h0m-206.7-203h0m-23.9 75.2h0m221.3 115.8h0m-116.2-47.4h0m-101.6-247.3h0m197.4 195.5h0m-7-65.7h0m-106.5 22.5h0m-59.2-4.6h0m88.3-142.8h0m-137.1 142.6h0m-0.2-71h0m395.4 57.1h0m-188.9 40.2h0m-120 71.7h0m94.8-118h0m60.7 134.3h0m100.7-75.1h0m-6.1-25.9h0m-46.7-38.5h0m-228.5-23.3h0m221.6 159.2h0m-2.1-130.2h0m-141.9-84.4h0m-79.5 193.8h0m125.4-217.9h0m190.8 174.3h0m-157.6-66.6h0m-49.1-148.2h0m-75.4 26.6h0m77.8 135.5h0m-155.6 42.8h0m146.4-45.4h0m214.4 5.4h0m-148-1.7h0m22.3-39.5h0m-72.8 217.9h0m93.4-195.4h0m-73.1 95h0m-166.9-148h0m52 196.4h0m36.1-84h0m87.5-53.7h0m123.6-21h0m-41.6 124.9h0m-22.5-60.4h0m16.2 15.2h0m11 11.3h0m-7.5-12.1h0m-9.5-0.3h0m5.3 1.5h0m5.7 37.1h0m12.9-17.7h0m-65.2-132.5h0m69.1-5.3h0m-43.1-9.5h0m-51.3 188.1h0m4.5 52.6h0m6.2-58h0m-38.3 0.9h0m35.3 16.8h0m-16.7-8h0m10.1 29.7h0m-73.2-85.5h0m9.6 7.1h0m64.1 64.3h0m-65.3-54.6h0m-0.2-14.5h0m70.3 39.9h0m-12.7 10.1h0m1 0.6h0m-27.1-6.3h0m20.3 3.6h0m-5.1-6.8h0m-55.9-42.4h0m13.1 15h0m58.3 27.5h0m-74.3-285.4h0m277.4 175.2h0m-422.1-4h0m169.8 232.9h0m248.5-220.8h0m-267.8-182.2h0m71.9 61.7h0m12.7 8.9h0m21.2 6.2h0m0.3 5.6h0m10.5 14.5h0m9.1 7h0m47.7 5h0m4.9 5.5h0m12.6 18.2h0m-102.9-7.6h0m3.8 7.6h0m13.4-9.6h0m4.8 1.5h0m20.5-9.6h0m18.8-13.6h0m9.6 2.6h0m-127.5 176.1h0m12.1 26.6h0m128.1-42.1h0m-2.4 15h0m-36.3-48.1h0m22.7-11.6h0m13.6 28.6h0m-21.8 8h0m7.3 7.1h0m-80.7 19.5h0m0.9 31.7h0m14.5 20h0m53.2-113.4h0m-14.5 4.5h0m-62.8 116h0m14.5 3.5h0m1.4 26.6h0m-21.3-96.4h0m13.6-2h0m6.7 20.1h0m-11.6 9h0m60.9-92.3h0m-145 77.3h0" stroke="#D6DDE0" stroke-width="14.6"/>
<path d="M1013.4 1413.8h0m224.4 109.7h0m-126.4 81.5h0m91.6-111.2h0m-109.1 200h0m-79.6-206.4h0m67 185.4h0m-108.7-166.8h0m4.8 48.5h0m141.5 27.7h0m-24.9 40.6h0m49 53.9h0m13.9-26.7h0m-55.1-12.7h0" stroke="#CCC8F0" stroke-width="14.6"/>
<path d="M1258.9 1509.4h0m-260.8-53.2h0m44.3 185.2h0m-24.2 53.2h0m-3.5-219.2h0m-51.2 13.6h0m-14.4 35.6h0m93.4-76h0m25.7 110.2h0m167 20.1h0m-86.9 67.9h0m12.7-135h0m-176.6 75.9h0m218.1-82.5h0m-107.7 93.2h0m30.2-57h0m0.7 69.6h0m36.7-172.1h0" stroke="#BBA4FA" stroke-width="14.6"/>
<path d="M1024.8 1650.9h0m-90-229.9h0m129.3 217.1h0m39.5-151.4h0m-94.2-19.3h0m-8.8 119.4h0m-45.4-36.4h0m42.2-69.4h0m52.2-56.9h0m-92.9 107.9h0m97.8 111.2h0m-103.9-126.9h0m58.5-22.3h0m-57.7-8.7h0m171.9-36.7h0m-156.3 74.3h0m291.3 43.7h0m-231.8-152.3h0m-19.4 1.1h0m41.5 132.2h0m-12.1 97.7h0m133.1 57.3h0m-209.8-141.9h0m60.3-192.5h0m167 128h0m-45.8 145.2h0m-83.5-4.5h0m-48.4-52.3h0m52-166.1h0m23.5 171.4h0m-152.6-162.2h0m354.5 112.1h0m-347.4-81.4h0m63.4-26.8h0m-76.2 25.9h0m369.8 106h0m-395.7-49.7h0m116.1-9.4h0m23.4-78.3h0m-75.5 178.2h0m126.9-12.1h0m-16.5-20.2h0m-73.1-33.8h0" stroke="#A58CF8" stroke-width="14.6"/>
<path d="M1086.7 1610.7h0m-180.4-92.6h0m68.4-70.2h0m-21.9 159h0m8.7-107.4h0m62.2 173.6h0m204.1-186.5h0m-218.4-26.5h0m9.7 174.5h0m-87.7-193.2h0m83.6 109.4h0m26.9-61.7h0m-55.1-22.4h0m-62 13.8h0m136.2 162.2h0m-27.6-61.5h0m53.3 84.7h0m-60.9-28.3h0m16-67.9h0m0.6-96.1h0m-66.7 121.6h0m3.6-53.1h0m47.6 117h0m190.9-151.2h0m-184.3-3.5h0m-1.7 124.7h0m-50.7-61.7h0m50.9 146.2h0m267.9-205.6h0m-232.1-61.5h0m-80.7 130h0m-2.6-122.5h0m7 101.3h0m-44.2-82.5h0m125.3 135.6h0m20 107.2h0m117-84.6h0m-192.6 55.5h0m-109.9-133.9h0m134 98.8h0m-48.6-67h0m31.3-124.7h0m3.5-10.1h0m-97.1 1.7h0m82.1 155.7h0m15-113.3h0m-94.6 56.3h0m79.8 88.7h0m-66.1-82.6h0m92 59.9h0m106.3 82h0m-229.6-208.2h0m80.3 28.6h0m-89.6-73.7h0m167.2 135.1h0m87.4 131.3h0m-98.7-258.2h0m-60.9-50.6h0m17.5-0.6h0m-32.9 25h0m54.1 68.9h0m-138.5 12.3h0m156.5 121.3h0" stroke="#8A72F6" stroke-width="14.6"/>
<path d="M1047.6 1521.6h0m-108.1-131h0m160 36.2h0m52.5 200.1h0m-133.6-15.8h0m-108.7-158.5h0m41-19.2h0m124.9 59.8h0m12.4 232.3h0m-50.8-208h0m-14.9 12.5h0m22.5 12.8h0m-24.1-57.8h0m-31.1 123.5h0m12.5-195.1h0m90.6 198.2h0m1.2 113.6h0m33.5-129.7h0m-193-113.2h0m66.6 170.5h0m-71.4-242h0m48.1 169.5h0m136.4-50.6h0m-57.5-25.6h0m-29.6-36.6h0m-132.2 57.4h0m162.2-37.5h0m-135 71.6h0m-4-85.8h0m182.6 137.4h0m-68 29.7h0m0.5 29.2h0m32.4-18h0m-63-131.7h0m51.3 34.9h0m-116-51.4h0m77.5 174h0m-100.9-233.2h0m93.5 82.2h0m140.2 184.3h0m-161.4-56.6h0m83.3-62.1h0m7.3-92.9h0m-83.4 123.8h0m86 56.3h0m-159-217.9h0m39.8-54.4h0m67.9 136.6h0m-56.4-70.3h0m31.4 156.3h0m-88.2-164.4h0m89.2 83.1h0m-1.1-126.7h0m40.4 318.9h0m-93.4-236.2h0m139.4 58.4h0m-38.4 84.7h0m34.5 49.6h0m11.4-116.1h0m-21.8 118.6h0m-70.1-126.1h0m52.7-8.4h0m-2.1-5.5h0m-110.9-28.7h0m120.1 53.7h0m18.3 99.9h0m-65.9-191.5h0" stroke="#6C5AF5" stroke-width="14.6"/>
<path d="M962.4 1584.6h0m121.2-1.3h0m-189.7-68.3h0m98-87.2h0m-89.4 102.5h0m127.2-13.6h0m34.2-37h0m-139.2 99.4h0m-23.1-88.5h0m83.2 112.2h0m-34.9-17.2h0m101.9-88.2h0m-2.2 207.6h0m-39.8-319.7h0m-92.1 23.1h0m132.1 154h0m-84 62.3h0m68.6 95.4h0m-120.2-209.2h0m65.5-75.1h0m-42.5 165.5h0m41-142.1h0m0.9 190h0m72.7 5.7h0m-49.2-74.2h0m21.2-10.3h0m-21.1 48h0m15-148.2h0m-49-2.4h0m27 191.8h0m45.9-192.2h0m45.6 277.1h0m-68.8-160.3h0m-72.5-11h0m18-199.1h0m52.8 9.6h0m-9 46.7h0m-62-37.4h0m89.7 270.3h0m-2.9-132.9h0m53.4 66.4h0m-92.5-217.2h0m-79.7 179.1h0m176.5 176.4h0" stroke="#4A4AF2" stroke-width="14.6"/>
<path d="M1069.2 1717.7h0m-132.2-340.8h0m112 320.4h0m-88.3-68.7h0m67.9-67.1h0m-40.3-158.4h0m1.8 13.3h0m-49.9 157.5h0m43.1-188h0m40.7 43.2h0m-13.1 112.9h0m31.9-9.5h0m-107.7 34.2h0m95.1 134.8h0m-104.4-132.6h0m74.4 54.4h0m75 90.5h0m10.4 17.7h0m-103-72.2h0m80.1 44.8h0m-4.3-35.5h0m-65.7-259.7h0m-1.3-44.1h0m-20.8 24.8h0m-15.6-12.9h0m-24.2 5h0m113.2 292.4h0m-32.4-23.7h0m52.4 35h0m-146.6-182h0m59.1-114h0m75.4 295.5h0m-3.8-5.5h0m-63.5-298.9h0m14.7-0.7h0m-84.4 137.7h0m139.8 175h0m-40.3-119.2h0m26.2 112.1h0m-113.2-80.7h0m-4.8-211h0m136.2 315.8h0m-1.9-54.5h0m-86.6-34h0m22.7-20.8h0m16.7-43.4h0m57.4 182.1h0m-100-359.8h0m-60.5 51.7h0m69.3-61.3h0m80.4 328.4h0m-138.1-130.2h0m17.6 22.5h0m44.3-226.1h0m-54.7 131.1h0m104.7 159h0m-37.4-253.7h0m-72.9-11.9h0m68.8 91.8h0m62.2 188.4h0m17.9 62.9h0m-120.3-118.2h0m110.3 113.6h0m10.1 18.1h0m-74.9-170.4h0m24.9 124.8h0m30 27.1h0" stroke="#2340EF" stroke-width="14.6"/>
<path d="M1058.4 1475.3h0m-61.4-27h0m78.9-51.7h0m-132.6 33.9h0m90.3-63.3h0m-15.6 282.6h0m106.2-95.9h0m-22.3-40.9h0m-7.4 6.1h0m164.8-29.8h0m-239.7-65.7h0" stroke="#CCC8F0" stroke-width="14.6"/>
<path d="M967 1536.4h0m89.9 3.9h0m106.7 91.9h0m-139.1 72.2h0m137.5-21.4h0m-116.2-276.7h0m-80.3 98.9h0m127.1 169.4h0m-151.4-234h0m-29.6 28.5h0m324.9 65.3h0m-265.1 10.6h0m323.1 4.1h0m-295.8 132.6h0m10.9-301.8h0m-12.3 42.2h0m-77.5 9.7h0m247.1 205.9h0m-104.7-63.4h0m-114.9-166.2h0m-23 9.8h0m68.4 58.4h0m3.9-43.7h0m-40.5 69.1h0m0.8 13h0m19.1 7.4h0m120 133.1h0" stroke="#BBA4FA" stroke-width="14.6"/>
<path d="M1075.3 1444.6h0m-138.1-45.5h0m259.7 158h0m-100 14.1h0m-182.8-94.1h0m104.7-83.8h0m31.7 231.4h0m-94.7-152.4h0m-41.8-56.4h0m111.9-46.3h0m-40.1 77.7h0m71.7 100.9h0m-49.6 133h0m-53.1-161.1h0m25.5 90.7h0m-27-53.2h0m92.3 61.5h0m-7.8-158.9h0m-34.1 210.1h0m182-107.7h0m-115.4-61.4h0m27.2 184.8h0m-122-122.3h0m-35.6-2h0m146.3-59.6h0m16.5 219.2h0m-147.3-305.8h0m82.6 70.3h0m-131.9 9.8h0m293.5 136.1h0" stroke="#A58CF8" stroke-width="14.6"/>
<path d="M919.5 1573.5h0m106.5-35.8h0m-37.2-27h0m-20.2-33.2h0m-38.9-0.6h0m43.8-20.3h0m52 129.1h0m-1.1 59.2h0m-58.6-196.6h0m68.7 45.7h0m-19.4 98.5h0m22.4-41h0m124.4 137.8h0m-211.2-270h0m217.7 276.2h0m-224.3-321.8h0m68 67.6h0m-69 35.6h0m53.9 192.8h0m39.6-198.9h0m-33.5 37h0m-105.7-4.9h0m10.3 39.9h0m167.8-13.3h0m86.2 85.9h0m-148.5-193.7h0m160.8 260.4h0m-250.5-280.9h0m369.1 129.3h0m-344.4 37.6h0m-7.7-69h0m133.1 48.9h0m-67.3 45.4h0m32.9-83.4h0m-97.7-88.7h0m-20.3 132.4h0m50.8 36.5h0m-65.4-117.3h0m108.4-23.5h0m-0.7 48.3h0m55.1 165.9h0m-165.5-181.8h0m104.1-46.3h0m35.9 43.2h0m-17.8 147.9h0m-74.9-255.7h0m9.1 206.2h0m-5.6-168.5h0m42.7 195.1h0m-4.5-160h0m0.4 21.8h0m88 61.4h0" stroke="#8A72F6" stroke-width="14.6"/>
<path d="M993.5 1529.3h0m50 137.8h0m-32.5-53h0m-0.2 8.9h0m61.1-157.6h0m-52.3 44h0m12.7 112.9h0m-43.6 22.2h0m104.3-39.9h0m-159.9-133.6h0m-21 66.2h0m88.3 59.3h0m47.2-81.9h0m39.2 174.8h0m152.6-87.4h0m-153.4 77h0m-19.7-128.2h0m-86.1-175.3h0m-38.6 167.6h0m141.4 18h0m-97.6-122.9h0m-48.7-6h0m24.1 23.1h0m-6.6-59.9h0m-23.5 200.8h0m105 80.1h0m-46.6-4.8h0m46.6 10.3h0m31-80.1h0m-31.5-121.6h0m-121-77.4h0m159.8 154.7h0m77.1 141.3h0m-164.1-164.9h0m52.9 4.5h0m-16.8 81h0m-17.7-243.5h0m47.7 374.6h0m1-231.3h0m44.1 195.6h0m3.9-110.6h0m-192.7-124.8h0m52.2-58.6h0m191.5 217.6h0m-181.2-57.6h0m181.6 51.1h0m115.9-111.6h0m-238.6-46.9h0m32.7-12.4h0m-151.7 35.6h0m31.3-4.2h0m13.5-48.2h0m-42.3-20.2h0m71.4 60.6h0m37.9 30.9h0m-43.3 154.9h0m131.3-82.9h0m-142.1-95.2h0m81.8 108.3h0m-3.5 37.3h0" stroke="#6C5AF5" stroke-width="14.6"/>
<path d="M1066.4 1696.2h0m-72.4-150.3h0m54-54h0m15.2 6.6h0m-137.1-112h0m58.3-17.4h0m-28.8 203.5h0m129.4-111.4h0m-42.4 254.9h0m-68.3-315.2h0m59 166.4h0m-63.2 46.5h0m-64.6-77.9h0m101.7-50.7h0m-78.9 38.2h0m4.1 34.4h0m152.7 181h0m-131.2-230.2h0m-3.3 26.5h0m17.8-114.9h0m128 311.2h0m-122.8-293.6h0m84.8 316.1h0m-11.2-174h0m-52.3 71.8h0m-18.9-239.8h0m22.9 151.2h0m-25 89.8h0m3.6-225.2h0m-42.2 155.1h0m56.5-44.3h0m-71.5-48.3h0m34.1 73.6h0m351-51.9h0m-324.5 79.9h0m-55.1-49.7h0m93.9 54.5h0m4.3 10.3h0m-17.4-199.4h0m242.2 187.9h0m-240.7-92.1h0m67.8 82h0m-90.7-25.7h0m97.3 91.7h0m-45.4-55h0m27.7 163.4h0" stroke="#4A4AF2" stroke-width="14.6"/>
<path d="M1062.5 1736.7h0m19.2-25.8h0m-0.7 34.4h0m-19.5-3.2h0m-128.1-245.2h0m10.6 82h0m30.3-201h0m75.1 360.3h0m-53.6-92.4h0m-27.2-250.6h0m60.3 154.8h0m-26.6-183.5h0m71.9 315.6h0m-106.7-269.9h0m67.3 131.8h0m-6.1 133.8h0m31.1 44h0m-3.2-4.8h0m-133.8-129.3h0m93.6 74.5h0m143.5 37.6h0m-158-89.7h0m70.5 60.5h0m-12.5 7.4h0m-71-284.5h0m58.4 326.7h0m-114.7-192.1h0m134.1 194.2h0m-118.7-335.5h0m86.8 305.3h0m-27.8-33.2h0m-77.8-96.1h0m150.3 172.9h0m-142.6-352.1h0m141 183.2h0m-118.2 54.1h0m-22.1-8.1h0m103.6 47.6h0m-38.6-105.2h0m-15.8 65.6h0m27.1 7.1h0m71.8-9h0m-156.1-33.8h0m135.7 73.4h0m14.4 69.5h0m-131-102.1h0m-10-101.1h0m129.8 187.8h0m-94.4-317.7h0m-32.1 223.2h0m-12.1-42h0m35.1-176.5h0m-56.9 131h0m77.5 106.6h0m52.1-77.6h0m-72 78.8h0m91.2 95.7h0m16.6-5.5h0m-33.8 1.4h0m28.3 22.8h0m-12.2-163.3h0" stroke="#2340EF" stroke-width="14.6"/>
</g>
<path d="M570.5 68V524.5H1039" stroke="#000" stroke-width="2.3" fill="none" stroke-linecap="butt" stroke-linejoin="miter"/>
<path d="M1343 70V526H1803" stroke="#000" stroke-width="2.3" fill="none" stroke-linecap="butt" stroke-linejoin="miter"/>
<path d="M63 1334V1789.3H531" stroke="#000" stroke-width="2.3" fill="none" stroke-linecap="butt" stroke-linejoin="miter"/>
<path d="M867.2 1335V1790.2H1336" stroke="#000" stroke-width="2.3" fill="none" stroke-linecap="butt" stroke-linejoin="miter"/>
<text transform="translate(945.1 67.7) scale(0.977 1)" font-size="34">CD8A</text>
<text transform="translate(1701.6 67.7) scale(0.968 1)" font-size="34">CD4</text>
<text transform="translate(431.3 1309.8) scale(0.974 1)" font-size="34">MKI67</text>
<text transform="translate(1250.2 1309.8) scale(0.997 1)" font-size="34">IL7R</text>
<path d="M1079.3 83.8V528.5H1317.6" stroke="#000" stroke-width="2.3" fill="none" stroke-linecap="butt" stroke-linejoin="miter"/>
<path d="M1101.3 273.8V511.3M1083.5 511.3H1119.1" fill="none" stroke="#1d2226" stroke-width="2.2"/>
<path d="M1139.6 118.8L1139.6 121.8L1139.6 124.8L1139.6 127.8L1139.7 130.8L1139.7 133.8L1139.8 136.8L1139.8 139.8L1139.9 142.8L1139.9 145.8L1140 148.8L1140 151.8L1140.1 154.8L1140.2 157.8L1140.3 160.7L1140.4 163.7L1140.6 166.7L1140.8 169.7L1141 172.7L1141.3 175.7L1141.6 178.7L1141.9 181.7L1142.3 184.7L1142.6 187.7L1143 190.7L1143.4 193.7L1143.8 196.7L1144.2 199.7L1144.6 202.7L1145 205.7L1145.3 208.7L1145.7 211.7L1146.1 214.7L1146.4 217.7L1146.8 220.7L1147.2 223.7L1147.6 226.7L1148 229.7L1148.4 232.7L1148.8 235.7L1149.2 238.6L1149.7 241.6L1150.1 244.6L1150.6 247.6L1151 250.6L1151.5 253.6L1152 256.6L1152.4 259.6L1152.8 262.6L1153.2 265.6L1153.6 268.6L1154 271.6L1154.4 274.6L1154.8 277.6L1155.3 280.6L1155.7 283.6L1156 286.6L1156.4 289.6L1156.7 292.6L1156.9 295.6L1157.1 298.6L1157.3 301.6L1157.4 304.6L1157.5 307.6L1157.6 310.6L1157.7 313.6L1157.8 316.5L1157.8 319.5L1157.8 322.5L1157.7 325.5L1157.6 328.5L1157.5 331.5L1157.3 334.5L1157.1 337.5L1156.9 340.5L1156.6 343.5L1156.4 346.5L1156.1 349.5L1155.9 352.5L1155.5 355.5L1155.1 358.5L1154.6 361.5L1154 364.5L1153.4 367.5L1152.8 370.5L1152.2 373.5L1151.6 376.5L1151 379.5L1150.4 382.5L1149.9 385.5L1149.4 388.5L1148.9 391.5L1148.3 394.4L1147.8 397.4L1147.3 400.4L1146.8 403.4L1146.3 406.4L1145.8 409.4L1145.4 412.4L1144.9 415.4L1144.5 418.4L1144.1 421.4L1143.7 424.4L1143.3 427.4L1143 430.4L1142.6 433.4L1142.3 436.4L1142 439.4L1141.7 442.4L1141.4 445.4L1141.2 448.4L1141 451.4L1140.8 454.4L1140.6 457.4L1140.5 460.4L1140.5 463.4L1140.6 466.4L1140.8 469.4L1141.3 472.3L1142.5 475.3L1143.9 478.3L1145 481.3L1145.8 484.3L1146.6 487.3L1147.3 490.3L1148 493.3L1148.6 496.3L1149.1 499.3L1149.6 502.3L1150.1 505.3L1150.5 508.3L1150.9 511.3L1128.3 511.3L1128.7 508.3L1129.1 505.3L1129.6 502.3L1130.1 499.3L1130.6 496.3L1131.2 493.3L1131.9 490.3L1132.6 487.3L1133.4 484.3L1134.2 481.3L1135.3 478.3L1136.7 475.3L1137.9 472.3L1138.4 469.4L1138.6 466.4L1138.7 463.4L1138.7 460.4L1138.6 457.4L1138.4 454.4L1138.2 451.4L1138 448.4L1137.8 445.4L1137.5 442.4L1137.2 439.4L1136.9 436.4L1136.6 433.4L1136.2 430.4L1135.9 427.4L1135.5 424.4L1135.1 421.4L1134.7 418.4L1134.3 415.4L1133.8 412.4L1133.4 409.4L1132.9 406.4L1132.4 403.4L1131.9 400.4L1131.4 397.4L1130.9 394.4L1130.3 391.5L1129.8 388.5L1129.3 385.5L1128.8 382.5L1128.2 379.5L1127.6 376.5L1127 373.5L1126.4 370.5L1125.8 367.5L1125.2 364.5L1124.6 361.5L1124.1 358.5L1123.7 355.5L1123.3 352.5L1123.1 349.5L1122.8 346.5L1122.6 343.5L1122.3 340.5L1122.1 337.5L1121.9 334.5L1121.7 331.5L1121.6 328.5L1121.5 325.5L1121.4 322.5L1121.4 319.5L1121.4 316.5L1121.5 313.6L1121.6 310.6L1121.7 307.6L1121.8 304.6L1121.9 301.6L1122.1 298.6L1122.3 295.6L1122.5 292.6L1122.8 289.6L1123.2 286.6L1123.5 283.6L1123.9 280.6L1124.4 277.6L1124.8 274.6L1125.2 271.6L1125.6 268.6L1126 265.6L1126.4 262.6L1126.8 259.6L1127.2 256.6L1127.7 253.6L1128.2 250.6L1128.6 247.6L1129.1 244.6L1129.5 241.6L1130 238.6L1130.4 235.7L1130.8 232.7L1131.2 229.7L1131.6 226.7L1132 223.7L1132.4 220.7L1132.8 217.7L1133.1 214.7L1133.5 211.7L1133.9 208.7L1134.2 205.7L1134.6 202.7L1135 199.7L1135.4 196.7L1135.8 193.7L1136.2 190.7L1136.6 187.7L1136.9 184.7L1137.3 181.7L1137.6 178.7L1137.9 175.7L1138.2 172.7L1138.4 169.7L1138.6 166.7L1138.8 163.7L1138.9 160.7L1139 157.8L1139.1 154.8L1139.2 151.8L1139.2 148.8L1139.3 145.8L1139.3 142.8L1139.4 139.8L1139.4 136.8L1139.5 133.8L1139.5 130.8L1139.6 127.8L1139.6 124.8L1139.6 121.8Z" fill="#C466FB" stroke="#161c14" stroke-width="2" stroke-linejoin="round"/>
<path d="M1177.9 187L1177.9 190L1177.9 193L1178 195.9L1178 198.9L1178 201.9L1178 204.9L1178.1 207.8L1178.1 210.8L1178.1 213.8L1178.2 216.8L1178.2 219.7L1178.3 222.7L1178.3 225.7L1178.4 228.7L1178.4 231.6L1178.5 234.6L1178.6 237.6L1178.6 240.6L1178.7 243.5L1178.8 246.5L1178.9 249.5L1179 252.5L1179.1 255.4L1179.2 258.4L1179.3 261.4L1179.4 264.4L1179.4 267.3L1179.5 270.3L1179.6 273.3L1179.7 276.3L1179.7 279.2L1179.8 282.2L1179.9 285.2L1180 288.2L1180 291.1L1180.1 294.1L1180.1 297.1L1180.1 300.1L1180.1 303L1180.1 306L1180.1 309L1180.1 312L1180.1 314.9L1180.1 317.9L1180.1 320.9L1180.1 323.9L1180.1 326.8L1180.1 329.8L1180.1 332.8L1180.1 335.8L1180.1 338.7L1180.1 341.7L1180.1 344.7L1180.1 347.7L1180.1 350.6L1180.1 353.6L1180.1 356.6L1180.1 359.6L1180.1 362.5L1180.1 365.5L1180.1 368.5L1180.1 371.5L1180.1 374.4L1180.1 377.4L1180.1 380.4L1180.1 383.4L1180.1 386.3L1180.1 389.3L1180.1 392.3L1180.1 395.3L1180.1 398.2L1180.1 401.2L1180.1 404.2L1180.1 407.2L1180.1 410.1L1180.1 413.1L1180.1 416.1L1180.1 419.1L1180.1 422L1180.1 425L1180.1 428L1180.1 431L1180.1 433.9L1180.2 436.9L1180.2 439.9L1180.3 442.9L1180.3 445.8L1180.4 448.8L1180.5 451.8L1180.7 454.8L1181.1 457.7L1181.5 460.7L1182 463.7L1182.5 466.7L1183.1 469.6L1183.8 472.6L1184.6 475.6L1185.5 478.6L1186.5 481.5L1187.6 484.5L1188.7 487.5L1189.8 490.5L1190.9 493.4L1191.9 496.4L1193 499.4L1194 502.4L1195 505.3L1195.5 508.3L1195.8 511.3L1160 511.3L1160.3 508.3L1160.8 505.3L1161.8 502.4L1162.8 499.4L1163.9 496.4L1164.9 493.4L1166 490.5L1167.1 487.5L1168.2 484.5L1169.3 481.5L1170.3 478.6L1171.2 475.6L1172 472.6L1172.7 469.6L1173.3 466.7L1173.8 463.7L1174.3 460.7L1174.7 457.7L1175.1 454.8L1175.3 451.8L1175.4 448.8L1175.5 445.8L1175.5 442.9L1175.6 439.9L1175.6 436.9L1175.7 433.9L1175.7 431L1175.7 428L1175.7 425L1175.7 422L1175.7 419.1L1175.7 416.1L1175.7 413.1L1175.7 410.1L1175.7 407.2L1175.7 404.2L1175.7 401.2L1175.7 398.2L1175.7 395.3L1175.7 392.3L1175.7 389.3L1175.7 386.3L1175.7 383.4L1175.7 380.4L1175.7 377.4L1175.7 374.4L1175.7 371.5L1175.7 368.5L1175.7 365.5L1175.7 362.5L1175.7 359.6L1175.7 356.6L1175.7 353.6L1175.7 350.6L1175.7 347.7L1175.7 344.7L1175.7 341.7L1175.7 338.7L1175.7 335.8L1175.7 332.8L1175.7 329.8L1175.7 326.8L1175.7 323.9L1175.7 320.9L1175.7 317.9L1175.7 314.9L1175.7 312L1175.7 309L1175.7 306L1175.7 303L1175.7 300.1L1175.7 297.1L1175.7 294.1L1175.8 291.1L1175.8 288.2L1175.9 285.2L1176 282.2L1176.1 279.2L1176.1 276.3L1176.2 273.3L1176.3 270.3L1176.4 267.3L1176.4 264.4L1176.5 261.4L1176.6 258.4L1176.7 255.4L1176.8 252.5L1176.9 249.5L1177 246.5L1177.1 243.5L1177.2 240.6L1177.2 237.6L1177.3 234.6L1177.4 231.6L1177.4 228.7L1177.5 225.7L1177.5 222.7L1177.6 219.7L1177.6 216.8L1177.7 213.8L1177.7 210.8L1177.7 207.8L1177.8 204.9L1177.8 201.9L1177.8 198.9L1177.8 195.9L1177.9 193L1177.9 190Z" fill="#98C004" stroke="#161c14" stroke-width="2" stroke-linejoin="round"/>
<path d="M1216 260.6V511.3M1198.2 511.3H1233.8" fill="none" stroke="#1d2226" stroke-width="2.2"/>
<path d="M1254.6 178L1256.8 181L1257 184L1257 186.9L1257.2 189.9L1257.5 192.9L1258 195.9L1258.6 198.8L1259.3 201.8L1259.9 204.8L1260.4 207.8L1260.9 210.7L1261.5 213.7L1262 216.7L1262.5 219.7L1263 222.6L1263.5 225.6L1264.1 228.6L1264.6 231.6L1265.1 234.5L1265.6 237.5L1266.1 240.5L1266.6 243.5L1267.1 246.4L1267.6 249.4L1268 252.4L1268.5 255.4L1268.9 258.3L1269.3 261.3L1269.7 264.3L1270.1 267.3L1270.5 270.3L1270.8 273.2L1271.2 276.2L1271.4 279.2L1271.7 282.2L1271.9 285.1L1272.2 288.1L1272.4 291.1L1272.5 294.1L1272.7 297L1272.7 300L1272.7 303L1272.7 306L1272.6 308.9L1272.6 311.9L1272.5 314.9L1272.2 317.9L1271.9 320.8L1271.4 323.8L1270.9 326.8L1270.4 329.8L1269.9 332.7L1269.5 335.7L1269.1 338.7L1268.7 341.7L1268.4 344.6L1268 347.6L1267.7 350.6L1267.4 353.6L1267 356.6L1266.7 359.5L1266.4 362.5L1266 365.5L1265.7 368.5L1265.3 371.4L1265 374.4L1264.6 377.4L1264.2 380.4L1263.8 383.3L1263.4 386.3L1263 389.3L1262.6 392.3L1262.2 395.2L1261.8 398.2L1261.4 401.2L1261 404.2L1260.7 407.1L1260.4 410.1L1260.1 413.1L1259.8 416.1L1259.5 419L1259.3 422L1259 425L1258.8 428L1258.6 431L1258.5 433.9L1258.4 436.9L1258.4 439.9L1258.3 442.9L1258.3 445.8L1258.3 448.8L1258.3 451.8L1258.5 454.8L1258.7 457.7L1259 460.7L1259.4 463.7L1259.8 466.7L1260.3 469.6L1261 472.6L1261.9 475.6L1263 478.6L1264.1 481.5L1265.2 484.5L1266 487.5L1266.9 490.5L1267.7 493.4L1268.4 496.4L1268.9 499.4L1269.3 502.4L1269.6 505.3L1269.9 508.3L1270 511.3L1239.2 511.3L1239.3 508.3L1239.6 505.3L1239.9 502.4L1240.3 499.4L1240.8 496.4L1241.5 493.4L1242.3 490.5L1243.2 487.5L1244 484.5L1245.1 481.5L1246.2 478.6L1247.3 475.6L1248.2 472.6L1248.9 469.6L1249.4 466.7L1249.8 463.7L1250.2 460.7L1250.5 457.7L1250.7 454.8L1250.9 451.8L1250.9 448.8L1250.9 445.8L1250.9 442.9L1250.8 439.9L1250.8 436.9L1250.7 433.9L1250.6 431L1250.4 428L1250.2 425L1249.9 422L1249.7 419L1249.4 416.1L1249.1 413.1L1248.8 410.1L1248.5 407.1L1248.2 404.2L1247.8 401.2L1247.4 398.2L1247 395.2L1246.6 392.3L1246.2 389.3L1245.8 386.3L1245.4 383.3L1245 380.4L1244.6 377.4L1244.2 374.4L1243.9 371.4L1243.5 368.5L1243.2 365.5L1242.8 362.5L1242.5 359.5L1242.2 356.6L1241.8 353.6L1241.5 350.6L1241.2 347.6L1240.8 344.6L1240.5 341.7L1240.1 338.7L1239.7 335.7L1239.3 332.7L1238.8 329.8L1238.3 326.8L1237.8 323.8L1237.3 320.8L1237 317.9L1236.7 314.9L1236.6 311.9L1236.6 308.9L1236.5 306L1236.5 303L1236.5 300L1236.5 297L1236.7 294.1L1236.8 291.1L1237 288.1L1237.3 285.1L1237.5 282.2L1237.8 279.2L1238 276.2L1238.4 273.2L1238.7 270.3L1239.1 267.3L1239.5 264.3L1239.9 261.3L1240.3 258.3L1240.7 255.4L1241.2 252.4L1241.6 249.4L1242.1 246.4L1242.6 243.5L1243.1 240.5L1243.6 237.5L1244.1 234.5L1244.6 231.6L1245.1 228.6L1245.7 225.6L1246.2 222.6L1246.7 219.7L1247.2 216.7L1247.7 213.7L1248.3 210.7L1248.8 207.8L1249.3 204.8L1249.9 201.8L1250.6 198.8L1251.2 195.9L1251.7 192.9L1252 189.9L1252.2 186.9L1252.2 184L1252.4 181Z" fill="#4DFBB6" stroke="#161c14" stroke-width="2" stroke-linejoin="round"/>
<path d="M1293.1 215L1294.9 218L1295 221L1295 224L1295.2 227L1295.5 230L1295.9 233L1296.2 236L1296.6 238.9L1296.9 241.9L1297.2 244.9L1297.5 247.9L1297.7 250.9L1298 253.9L1298.2 256.9L1298.5 259.9L1298.7 262.9L1299 265.9L1299.3 268.9L1299.6 271.9L1299.9 274.9L1300.2 277.9L1300.5 280.8L1300.8 283.8L1301.1 286.8L1301.4 289.8L1301.6 292.8L1301.8 295.8L1301.9 298.8L1301.9 301.8L1302 304.8L1302 307.8L1302 310.8L1302.1 313.8L1302.1 316.8L1302.1 319.8L1302.2 322.7L1302.2 325.7L1302.2 328.7L1302.2 331.7L1302.2 334.7L1302.2 337.7L1302.2 340.7L1302.2 343.7L1302.1 346.7L1302 349.7L1302 352.7L1301.9 355.7L1301.8 358.7L1301.7 361.7L1301.6 364.6L1301.5 367.6L1301.4 370.6L1301.2 373.6L1301.1 376.6L1301 379.6L1300.9 382.6L1300.8 385.6L1300.7 388.6L1300.5 391.6L1300.4 394.6L1300.2 397.6L1300.1 400.6L1299.9 403.6L1299.7 406.5L1299.5 409.5L1299.4 412.5L1299.1 415.5L1298.9 418.5L1298.6 421.5L1298.3 424.5L1298 427.5L1297.7 430.5L1297.6 433.5L1297.5 436.5L1297.5 439.5L1297.6 442.5L1297.6 445.5L1297.8 448.4L1298.1 451.4L1298.6 454.4L1299.1 457.4L1299.7 460.4L1300.3 463.4L1301 466.4L1301.7 469.4L1302.6 472.4L1303.5 475.4L1304.3 478.4L1305.1 481.4L1305.9 484.4L1306.7 487.4L1307.5 490.3L1308.2 493.3L1309 496.3L1309.6 499.3L1310.1 502.3L1310.6 505.3L1311 508.3L1311.4 511.3L1274.8 511.3L1275.2 508.3L1275.6 505.3L1276.1 502.3L1276.6 499.3L1277.2 496.3L1278 493.3L1278.7 490.3L1279.5 487.4L1280.3 484.4L1281.1 481.4L1281.9 478.4L1282.7 475.4L1283.6 472.4L1284.5 469.4L1285.2 466.4L1285.9 463.4L1286.5 460.4L1287.1 457.4L1287.6 454.4L1288.1 451.4L1288.4 448.4L1288.6 445.5L1288.6 442.5L1288.7 439.5L1288.7 436.5L1288.6 433.5L1288.5 430.5L1288.2 427.5L1287.9 424.5L1287.6 421.5L1287.3 418.5L1287.1 415.5L1286.8 412.5L1286.7 409.5L1286.5 406.5L1286.3 403.6L1286.1 400.6L1286 397.6L1285.8 394.6L1285.7 391.6L1285.5 388.6L1285.4 385.6L1285.3 382.6L1285.2 379.6L1285.1 376.6L1285 373.6L1284.8 370.6L1284.7 367.6L1284.6 364.6L1284.5 361.7L1284.4 358.7L1284.3 355.7L1284.2 352.7L1284.2 349.7L1284.1 346.7L1284 343.7L1284 340.7L1284 337.7L1284 334.7L1284 331.7L1284 328.7L1284 325.7L1284 322.7L1284.1 319.8L1284.1 316.8L1284.1 313.8L1284.2 310.8L1284.2 307.8L1284.2 304.8L1284.3 301.8L1284.3 298.8L1284.4 295.8L1284.6 292.8L1284.8 289.8L1285.1 286.8L1285.4 283.8L1285.7 280.8L1286 277.9L1286.3 274.9L1286.6 271.9L1286.9 268.9L1287.2 265.9L1287.5 262.9L1287.7 259.9L1288 256.9L1288.2 253.9L1288.5 250.9L1288.7 247.9L1289 244.9L1289.3 241.9L1289.6 238.9L1290 236L1290.3 233L1290.7 230L1291 227L1291.2 224L1291.2 221L1291.3 218Z" fill="#848FF8" stroke="#161c14" stroke-width="2" stroke-linejoin="round"/>
<path d="M1102 528.5L1102 537.2" stroke="#000" stroke-width="2.2" stroke-linecap="butt" fill="none"/>
<path d="M1140.5 528.5L1140.5 537.2" stroke="#000" stroke-width="2.2" stroke-linecap="butt" fill="none"/>
<path d="M1178.8 528.5L1178.8 537.2" stroke="#000" stroke-width="2.2" stroke-linecap="butt" fill="none"/>
<path d="M1217.2 528.5L1217.2 537.2" stroke="#000" stroke-width="2.2" stroke-linecap="butt" fill="none"/>
<path d="M1255.5 528.5L1255.5 537.2" stroke="#000" stroke-width="2.2" stroke-linecap="butt" fill="none"/>
<path d="M1294 528.5L1294 537.2" stroke="#000" stroke-width="2.2" stroke-linecap="butt" fill="none"/>
<text transform="translate(1104 558.3) rotate(-45)" font-size="35" text-anchor="middle" y="12.5">0</text>
<text transform="translate(1142.5 558.3) rotate(-45)" font-size="35" text-anchor="middle" y="12.5">1</text>
<text transform="translate(1180.8 558.3) rotate(-45)" font-size="35" text-anchor="middle" y="12.5">2</text>
<text transform="translate(1219.2 558.3) rotate(-45)" font-size="35" text-anchor="middle" y="12.5">3</text>
<text transform="translate(1257.5 558.3) rotate(-45)" font-size="35" text-anchor="middle" y="12.5">4</text>
<text transform="translate(1296 558.3) rotate(-45)" font-size="35" text-anchor="middle" y="12.5">5</text>
<text transform="translate(1144.7 604.3) scale(0.974 1)" font-size="34">Identity</text>
<path d="M1840.5 89.4V529.3H2076" stroke="#000" stroke-width="2.3" fill="none" stroke-linecap="butt" stroke-linejoin="miter"/>
<path d="M1862.4 179.4L1862.5 182.4L1862.6 185.4L1862.7 188.3L1862.8 191.3L1863 194.3L1863.1 197.3L1863.2 200.3L1863.4 203.2L1863.5 206.2L1863.7 209.2L1863.8 212.2L1864 215.2L1864.2 218.1L1864.3 221.1L1864.5 224.1L1864.7 227.1L1864.9 230.1L1865.1 233L1865.3 236L1865.5 239L1865.8 242L1866 245L1866.2 247.9L1866.5 250.9L1866.7 253.9L1866.9 256.9L1867.2 259.9L1867.4 262.8L1867.6 265.8L1867.8 268.8L1868 271.8L1868.2 274.8L1868.4 277.7L1868.6 280.7L1868.7 283.7L1868.9 286.7L1869.1 289.7L1869.3 292.6L1869.5 295.6L1869.7 298.6L1869.9 301.6L1870.2 304.6L1870.4 307.5L1870.7 310.5L1871 313.5L1871.3 316.5L1871.6 319.5L1871.9 322.4L1872.2 325.4L1872.5 328.4L1872.7 331.4L1872.9 334.4L1873 337.3L1873.1 340.3L1873.3 343.3L1873.4 346.3L1873.5 349.3L1873.6 352.3L1873.7 355.2L1873.8 358.2L1873.9 361.2L1874 364.2L1874 367.2L1874.1 370.1L1874.1 373.1L1874.1 376.1L1874.1 379.1L1874 382.1L1873.8 385L1873.6 388L1873.4 391L1873.2 394L1872.9 397L1872.7 399.9L1872.4 402.9L1872 405.9L1871.7 408.9L1871.4 411.9L1871 414.8L1870.6 417.8L1870 420.8L1869.4 423.8L1868.8 426.8L1868.2 429.7L1867.7 432.7L1867.3 435.7L1866.9 438.7L1866.6 441.7L1866.2 444.6L1865.9 447.6L1865.7 450.6L1865.5 453.6L1865.5 456.6L1865.5 459.5L1865.6 462.5L1865.9 465.5L1866.4 468.5L1867.1 471.5L1867.9 474.4L1868.7 477.4L1869.7 480.4L1870.9 483.4L1872.1 486.4L1873.4 489.3L1874.8 492.3L1876.2 495.3L1877.4 498.3L1878.4 501.3L1879.1 504.2L1879.7 507.2L1880.2 510.2L1844.6 510.2L1845.1 507.2L1845.7 504.2L1846.4 501.3L1847.4 498.3L1848.6 495.3L1850 492.3L1851.4 489.3L1852.7 486.4L1853.9 483.4L1855.1 480.4L1856.1 477.4L1856.9 474.4L1857.7 471.5L1858.4 468.5L1858.9 465.5L1859.2 462.5L1859.3 459.5L1859.3 456.6L1859.3 453.6L1859.1 450.6L1858.9 447.6L1858.6 444.6L1858.2 441.7L1857.9 438.7L1857.5 435.7L1857.1 432.7L1856.6 429.7L1856 426.8L1855.4 423.8L1854.8 420.8L1854.2 417.8L1853.8 414.8L1853.4 411.9L1853.1 408.9L1852.8 405.9L1852.4 402.9L1852.1 399.9L1851.9 397L1851.6 394L1851.4 391L1851.2 388L1851 385L1850.8 382.1L1850.7 379.1L1850.7 376.1L1850.7 373.1L1850.7 370.1L1850.8 367.2L1850.8 364.2L1850.9 361.2L1851 358.2L1851.1 355.2L1851.2 352.3L1851.3 349.3L1851.4 346.3L1851.5 343.3L1851.7 340.3L1851.8 337.3L1851.9 334.4L1852.1 331.4L1852.3 328.4L1852.6 325.4L1852.9 322.4L1853.2 319.5L1853.5 316.5L1853.8 313.5L1854.1 310.5L1854.4 307.5L1854.6 304.6L1854.9 301.6L1855.1 298.6L1855.3 295.6L1855.5 292.6L1855.7 289.7L1855.9 286.7L1856.1 283.7L1856.2 280.7L1856.4 277.7L1856.6 274.8L1856.8 271.8L1857 268.8L1857.2 265.8L1857.4 262.8L1857.6 259.9L1857.9 256.9L1858.1 253.9L1858.3 250.9L1858.6 247.9L1858.8 245L1859 242L1859.3 239L1859.5 236L1859.7 233L1859.9 230.1L1860.1 227.1L1860.3 224.1L1860.5 221.1L1860.6 218.1L1860.8 215.2L1861 212.2L1861.1 209.2L1861.3 206.2L1861.4 203.2L1861.6 200.3L1861.7 197.3L1861.8 194.3L1862 191.3L1862.1 188.3L1862.2 185.4L1862.3 182.4Z" fill="#DC8C06" stroke="#161c14" stroke-width="2" stroke-linejoin="round"/>
<path d="M1900.8 258.8V510.2M1883 510.2H1918.6" fill="none" stroke="#1d2226" stroke-width="2.2"/>
<path d="M1939.1 146.3L1939.1 149.3L1939.1 152.3L1939.2 155.2L1939.2 158.2L1939.2 161.2L1939.2 164.2L1939.3 167.2L1939.3 170.2L1939.3 173.1L1939.3 176.1L1939.4 179.1L1939.4 182.1L1939.4 185.1L1939.5 188.1L1939.5 191L1939.5 194L1939.6 197L1939.6 200L1939.6 203L1939.7 206L1939.7 208.9L1939.7 211.9L1939.8 214.9L1939.8 217.9L1939.9 220.9L1939.9 223.9L1939.9 226.8L1940 229.8L1940 232.8L1940.1 235.8L1940.1 238.8L1940.2 241.7L1940.2 244.7L1940.3 247.7L1940.4 250.7L1940.4 253.7L1940.5 256.7L1940.6 259.6L1940.7 262.6L1940.8 265.6L1941 268.6L1941.1 271.6L1941.3 274.6L1941.5 277.5L1941.6 280.5L1941.8 283.5L1941.9 286.5L1942.1 289.5L1942.2 292.5L1942.4 295.4L1942.5 298.4L1942.7 301.4L1942.9 304.4L1943.1 307.4L1943.3 310.4L1943.5 313.3L1943.8 316.3L1944 319.3L1944.2 322.3L1944.4 325.3L1944.6 328.2L1944.8 331.2L1945 334.2L1945.1 337.2L1945.2 340.2L1945.3 343.2L1945.5 346.1L1945.6 349.1L1945.7 352.1L1945.8 355.1L1945.9 358.1L1945.9 361.1L1946 364L1946 367L1946 370L1945.9 373L1945.8 376L1945.7 379L1945.5 381.9L1945.3 384.9L1945.1 387.9L1944.8 390.9L1944.6 393.9L1944.3 396.9L1944.1 399.8L1943.9 402.8L1943.6 405.8L1943.3 408.8L1943 411.8L1942.7 414.8L1942.5 417.7L1942.3 420.7L1942.1 423.7L1942.1 426.7L1942 429.7L1942 432.6L1941.9 435.6L1941.9 438.6L1941.8 441.6L1941.8 444.6L1941.8 447.6L1941.8 450.5L1941.9 453.5L1942.2 456.5L1942.6 459.5L1943.1 462.5L1943.7 465.5L1944.3 468.4L1945 471.4L1945.8 474.4L1946.9 477.4L1948 480.4L1949.1 483.4L1950.2 486.3L1951.2 489.3L1952.2 492.3L1953.3 495.3L1954.2 498.3L1955 501.3L1955.7 504.2L1956.4 507.2L1956.9 510.2L1921.3 510.2L1921.8 507.2L1922.5 504.2L1923.2 501.3L1924 498.3L1924.9 495.3L1926 492.3L1927 489.3L1928 486.3L1929.1 483.4L1930.2 480.4L1931.3 477.4L1932.4 474.4L1933.2 471.4L1933.9 468.4L1934.5 465.5L1935.1 462.5L1935.6 459.5L1936 456.5L1936.3 453.5L1936.4 450.5L1936.4 447.6L1936.4 444.6L1936.4 441.6L1936.3 438.6L1936.3 435.6L1936.2 432.6L1936.2 429.7L1936.1 426.7L1936.1 423.7L1935.9 420.7L1935.7 417.7L1935.5 414.8L1935.2 411.8L1934.9 408.8L1934.6 405.8L1934.3 402.8L1934.1 399.8L1933.9 396.9L1933.6 393.9L1933.4 390.9L1933.1 387.9L1932.9 384.9L1932.7 381.9L1932.5 379L1932.4 376L1932.3 373L1932.2 370L1932.2 367L1932.2 364L1932.3 361.1L1932.3 358.1L1932.4 355.1L1932.5 352.1L1932.6 349.1L1932.7 346.1L1932.9 343.2L1933 340.2L1933.1 337.2L1933.2 334.2L1933.4 331.2L1933.6 328.2L1933.8 325.3L1934 322.3L1934.2 319.3L1934.4 316.3L1934.7 313.3L1934.9 310.4L1935.1 307.4L1935.3 304.4L1935.5 301.4L1935.7 298.4L1935.8 295.4L1936 292.5L1936.1 289.5L1936.3 286.5L1936.4 283.5L1936.6 280.5L1936.7 277.5L1936.9 274.6L1937.1 271.6L1937.2 268.6L1937.4 265.6L1937.5 262.6L1937.6 259.6L1937.7 256.7L1937.8 253.7L1937.8 250.7L1937.9 247.7L1938 244.7L1938 241.7L1938.1 238.8L1938.1 235.8L1938.2 232.8L1938.2 229.8L1938.3 226.8L1938.3 223.9L1938.3 220.9L1938.4 217.9L1938.4 214.9L1938.5 211.9L1938.5 208.9L1938.5 206L1938.6 203L1938.6 200L1938.6 197L1938.7 194L1938.7 191L1938.7 188.1L1938.8 185.1L1938.8 182.1L1938.8 179.1L1938.9 176.1L1938.9 173.1L1938.9 170.2L1938.9 167.2L1939 164.2L1939 161.2L1939 158.2L1939 155.2L1939.1 152.3L1939.1 149.3Z" fill="#98C004" stroke="#161c14" stroke-width="2" stroke-linejoin="round"/>
<path d="M1977.4 117L1977.5 120L1977.5 123L1977.6 125.9L1977.7 128.9L1977.8 131.9L1977.9 134.9L1978 137.9L1978.1 140.8L1978.2 143.8L1978.3 146.8L1978.4 149.8L1978.5 152.7L1978.6 155.7L1978.8 158.7L1978.9 161.7L1979 164.7L1979.2 167.6L1979.3 170.6L1979.5 173.6L1979.7 176.6L1979.8 179.6L1980 182.5L1980.2 185.5L1980.4 188.5L1980.6 191.5L1980.8 194.4L1980.9 197.4L1981.1 200.4L1981.3 203.4L1981.5 206.4L1981.7 209.3L1981.8 212.3L1982 215.3L1982.2 218.3L1982.4 221.3L1982.6 224.2L1982.8 227.2L1983 230.2L1983.2 233.2L1983.4 236.2L1983.6 239.1L1983.8 242.1L1984 245.1L1984.2 248.1L1984.3 251L1984.5 254L1984.7 257L1984.9 260L1985.1 263L1985.4 265.9L1985.6 268.9L1985.8 271.9L1986 274.9L1986.3 277.9L1986.5 280.8L1986.7 283.8L1986.9 286.8L1987 289.8L1987.2 292.7L1987.3 295.7L1987.5 298.7L1987.6 301.7L1987.7 304.7L1987.7 307.6L1987.8 310.6L1987.8 313.6L1987.7 316.6L1987.6 319.6L1987.4 322.5L1987.2 325.5L1986.9 328.5L1986.7 331.5L1986.4 334.5L1986.2 337.4L1985.9 340.4L1985.5 343.4L1985.1 346.4L1984.7 349.3L1984.3 352.3L1983.9 355.3L1983.5 358.3L1983.1 361.3L1982.8 364.2L1982.4 367.2L1982.1 370.2L1981.8 373.2L1981.5 376.2L1981.2 379.1L1980.9 382.1L1980.7 385.1L1980.4 388.1L1980.1 391L1979.8 394L1979.6 397L1979.3 400L1979.1 403L1979 405.9L1978.9 408.9L1978.9 411.9L1978.8 414.9L1978.8 417.9L1978.8 420.8L1978.8 423.8L1978.9 426.8L1979 429.8L1979.2 432.8L1979.3 435.7L1979.5 438.7L1979.8 441.7L1980.3 444.7L1980.8 447.6L1981.3 450.6L1981.9 453.6L1982.5 456.6L1983.2 459.6L1984 462.5L1984.9 465.5L1985.8 468.5L1986.7 471.5L1987.5 474.5L1988.4 477.4L1989.3 480.4L1990.2 483.4L1991.1 486.4L1991.9 489.3L1992.7 492.3L1993.2 495.3L1993.8 498.3L1994.3 501.3L1994.7 504.2L1995.1 507.2L1995.4 510.2L1959.4 510.2L1959.7 507.2L1960.1 504.2L1960.5 501.3L1961 498.3L1961.6 495.3L1962.1 492.3L1962.9 489.3L1963.7 486.4L1964.6 483.4L1965.5 480.4L1966.4 477.4L1967.3 474.5L1968.1 471.5L1969 468.5L1969.9 465.5L1970.8 462.5L1971.6 459.6L1972.3 456.6L1972.9 453.6L1973.5 450.6L1974 447.6L1974.5 444.7L1975 441.7L1975.3 438.7L1975.5 435.7L1975.6 432.8L1975.8 429.8L1975.9 426.8L1976 423.8L1976 420.8L1976 417.9L1976 414.9L1975.9 411.9L1975.9 408.9L1975.8 405.9L1975.7 403L1975.5 400L1975.2 397L1975 394L1974.7 391L1974.4 388.1L1974.1 385.1L1973.9 382.1L1973.6 379.1L1973.3 376.2L1973 373.2L1972.7 370.2L1972.4 367.2L1972 364.2L1971.7 361.3L1971.3 358.3L1970.9 355.3L1970.5 352.3L1970.1 349.3L1969.7 346.4L1969.3 343.4L1968.9 340.4L1968.6 337.4L1968.4 334.5L1968.1 331.5L1967.9 328.5L1967.6 325.5L1967.4 322.5L1967.2 319.6L1967.1 316.6L1967 313.6L1967 310.6L1967.1 307.6L1967.1 304.7L1967.2 301.7L1967.3 298.7L1967.5 295.7L1967.6 292.7L1967.8 289.8L1967.9 286.8L1968.1 283.8L1968.3 280.8L1968.5 277.9L1968.8 274.9L1969 271.9L1969.2 268.9L1969.4 265.9L1969.7 263L1969.9 260L1970.1 257L1970.3 254L1970.5 251L1970.6 248.1L1970.8 245.1L1971 242.1L1971.2 239.1L1971.4 236.2L1971.6 233.2L1971.8 230.2L1972 227.2L1972.2 224.2L1972.4 221.3L1972.6 218.3L1972.8 215.3L1973 212.3L1973.1 209.3L1973.3 206.4L1973.5 203.4L1973.7 200.4L1973.9 197.4L1974 194.4L1974.2 191.5L1974.4 188.5L1974.6 185.5L1974.8 182.5L1975 179.6L1975.1 176.6L1975.3 173.6L1975.5 170.6L1975.6 167.6L1975.8 164.7L1975.9 161.7L1976 158.7L1976.2 155.7L1976.3 152.7L1976.4 149.8L1976.5 146.8L1976.6 143.8L1976.7 140.8L1976.8 137.9L1976.9 134.9L1977 131.9L1977.1 128.9L1977.2 125.9L1977.3 123L1977.3 120Z" fill="#40FC08" stroke="#161c14" stroke-width="2" stroke-linejoin="round"/>
<path d="M2015.8 168V510.2M1998 510.2H2033.6" fill="none" stroke="#1d2226" stroke-width="2.2"/>
<path d="M2054.1 183.5L2054.1 186.5L2054.2 189.5L2054.2 192.5L2054.2 195.5L2054.3 198.5L2054.3 201.5L2054.4 204.5L2054.4 207.5L2054.5 210.5L2054.5 213.5L2054.6 216.5L2054.7 219.5L2054.7 222.5L2054.8 225.5L2054.9 228.5L2054.9 231.5L2055 234.5L2055.1 237.5L2055.2 240.4L2055.3 243.4L2055.3 246.4L2055.4 249.4L2055.5 252.4L2055.7 255.4L2055.8 258.4L2055.9 261.4L2056 264.4L2056.1 267.4L2056.3 270.4L2056.4 273.4L2056.6 276.4L2056.8 279.4L2057 282.4L2057.1 285.4L2057.3 288.4L2057.5 291.4L2057.7 294.4L2057.9 297.4L2058 300.4L2058.2 303.4L2058.3 306.4L2058.4 309.4L2058.6 312.4L2058.7 315.4L2058.9 318.4L2059 321.4L2059.1 324.4L2059.2 327.4L2059.3 330.4L2059.4 333.4L2059.5 336.4L2059.6 339.4L2059.6 342.4L2059.7 345.4L2059.8 348.3L2059.8 351.3L2059.9 354.3L2059.9 357.3L2060 360.3L2060 363.3L2060.1 366.3L2060.1 369.3L2060.1 372.3L2060.1 375.3L2060.1 378.3L2060 381.3L2060 384.3L2059.9 387.3L2059.8 390.3L2059.7 393.3L2059.6 396.3L2059.5 399.3L2059.3 402.3L2059.2 405.3L2059.1 408.3L2059 411.3L2058.9 414.3L2058.8 417.3L2058.7 420.3L2058.6 423.3L2058.5 426.3L2058.4 429.3L2058.3 432.3L2058.3 435.3L2058.3 438.3L2058.4 441.3L2058.7 444.3L2059 447.3L2059.3 450.3L2059.7 453.3L2060.1 456.2L2060.6 459.2L2061.2 462.2L2061.9 465.2L2062.7 468.2L2063.4 471.2L2064.2 474.2L2065 477.2L2065.9 480.2L2066.8 483.2L2067.7 486.2L2068.6 489.2L2069.3 492.2L2069.9 495.2L2070.4 498.2L2070.9 501.2L2071.3 504.2L2071.6 507.2L2071.9 510.2L2036.3 510.2L2036.6 507.2L2036.9 504.2L2037.3 501.2L2037.8 498.2L2038.3 495.2L2038.9 492.2L2039.6 489.2L2040.5 486.2L2041.4 483.2L2042.3 480.2L2043.2 477.2L2044 474.2L2044.8 471.2L2045.5 468.2L2046.3 465.2L2047 462.2L2047.6 459.2L2048.1 456.2L2048.5 453.3L2048.9 450.3L2049.2 447.3L2049.5 444.3L2049.8 441.3L2049.9 438.3L2049.9 435.3L2049.9 432.3L2049.8 429.3L2049.7 426.3L2049.6 423.3L2049.5 420.3L2049.4 417.3L2049.3 414.3L2049.2 411.3L2049.1 408.3L2049 405.3L2048.9 402.3L2048.7 399.3L2048.6 396.3L2048.5 393.3L2048.4 390.3L2048.3 387.3L2048.2 384.3L2048.2 381.3L2048.1 378.3L2048.1 375.3L2048.1 372.3L2048.1 369.3L2048.1 366.3L2048.2 363.3L2048.2 360.3L2048.3 357.3L2048.3 354.3L2048.4 351.3L2048.4 348.3L2048.5 345.4L2048.6 342.4L2048.6 339.4L2048.7 336.4L2048.8 333.4L2048.9 330.4L2049 327.4L2049.1 324.4L2049.2 321.4L2049.3 318.4L2049.5 315.4L2049.6 312.4L2049.8 309.4L2049.9 306.4L2050 303.4L2050.2 300.4L2050.3 297.4L2050.5 294.4L2050.7 291.4L2050.9 288.4L2051.1 285.4L2051.2 282.4L2051.4 279.4L2051.6 276.4L2051.8 273.4L2051.9 270.4L2052.1 267.4L2052.2 264.4L2052.3 261.4L2052.4 258.4L2052.5 255.4L2052.7 252.4L2052.8 249.4L2052.9 246.4L2052.9 243.4L2053 240.4L2053.1 237.5L2053.2 234.5L2053.3 231.5L2053.3 228.5L2053.4 225.5L2053.5 222.5L2053.5 219.5L2053.6 216.5L2053.7 213.5L2053.7 210.5L2053.8 207.5L2053.8 204.5L2053.9 201.5L2053.9 198.5L2054 195.5L2054 192.5L2054 189.5L2054.1 186.5Z" fill="#848FF8" stroke="#161c14" stroke-width="2" stroke-linejoin="round"/>
<path d="M1862.6 529.3L1862.6 543.4" stroke="#000" stroke-width="2.2" stroke-linecap="butt" fill="none"/>
<path d="M1900.4 529.3L1900.4 543.4" stroke="#000" stroke-width="2.2" stroke-linecap="butt" fill="none"/>
<path d="M1938.3 529.3L1938.3 543.4" stroke="#000" stroke-width="2.2" stroke-linecap="butt" fill="none"/>
<path d="M1976.5 529.3L1976.5 543.4" stroke="#000" stroke-width="2.2" stroke-linecap="butt" fill="none"/>
<path d="M2014.5 529.3L2014.5 543.4" stroke="#000" stroke-width="2.2" stroke-linecap="butt" fill="none"/>
<path d="M2052.2 529.3L2052.2 543.4" stroke="#000" stroke-width="2.2" stroke-linecap="butt" fill="none"/>
<text transform="translate(1866.1 558.3) rotate(-45)" font-size="35" text-anchor="middle" y="12.5">0</text>
<text transform="translate(1903.9 558.3) rotate(-45)" font-size="35" text-anchor="middle" y="12.5">1</text>
<text transform="translate(1941.8 558.3) rotate(-45)" font-size="35" text-anchor="middle" y="12.5">2</text>
<text transform="translate(1980 558.3) rotate(-45)" font-size="35" text-anchor="middle" y="12.5">3</text>
<text transform="translate(2018 558.3) rotate(-45)" font-size="35" text-anchor="middle" y="12.5">4</text>
<text transform="translate(2055.7 558.3) rotate(-45)" font-size="35" text-anchor="middle" y="12.5">5</text>
<text transform="translate(1904.7 604.3) scale(0.974 1)" font-size="34">Identity</text>
<path d="M580.2 1345V1789.1H818.3" stroke="#000" stroke-width="2.3" fill="none" stroke-linecap="butt" stroke-linejoin="miter"/>
<path d="M644.5 1411.5L645.7 1414.5L645.9 1417.5L645.9 1420.5L646 1423.5L646.2 1426.5L646.5 1429.5L646.9 1432.5L647.3 1435.5L647.8 1438.5L648.3 1441.5L648.8 1444.5L649.3 1447.5L649.9 1450.5L650.4 1453.5L650.9 1456.5L651.5 1459.5L652 1462.5L652.6 1465.5L653.2 1468.5L653.9 1471.5L654.5 1474.5L655.1 1477.5L655.8 1480.5L656.4 1483.5L657 1486.5L657.7 1489.5L658.3 1492.5L658.9 1495.5L659.5 1498.5L660 1501.4L660.6 1504.4L661.1 1507.4L661.7 1510.4L662.2 1513.4L662.7 1516.4L663.3 1519.4L663.8 1522.4L664.3 1525.4L664.8 1528.4L665.4 1531.4L665.8 1534.4L666.3 1537.4L666.8 1540.4L667.2 1543.4L667.6 1546.4L668 1549.4L668.3 1552.4L668.7 1555.4L669 1558.4L669.3 1561.4L669.6 1564.4L670 1567.4L670.3 1570.4L670.6 1573.4L670.9 1576.4L671.2 1579.4L671.5 1582.4L671.7 1585.4L671.9 1588.4L672.1 1591.4L672.3 1594.4L672.4 1597.4L672.5 1600.4L672.5 1603.4L672.5 1606.4L672.4 1609.4L672.3 1612.4L672.2 1615.4L672 1618.4L671.8 1621.4L671.6 1624.4L671.3 1627.4L671.1 1630.4L670.8 1633.4L670.5 1636.4L670.1 1639.4L669.8 1642.4L669.5 1645.4L669.1 1648.4L668.8 1651.4L668.5 1654.4L668.1 1657.4L667.7 1660.4L667.2 1663.4L666.7 1666.4L666.2 1669.4L665.7 1672.4L665.1 1675.4L664.6 1678.4L664 1681.3L663.5 1684.3L662.9 1687.3L662.4 1690.3L661.9 1693.3L661.3 1696.3L660.8 1699.3L660.4 1702.3L660.2 1705.3L660.1 1708.3L660 1711.3L659.9 1714.3L659.9 1717.3L660.3 1720.3L661.1 1723.3L662 1726.3L663.2 1729.3L665 1732.3L668.1 1735.3L671.6 1738.3L674.8 1741.3L677.6 1744.3L680.3 1747.3L683 1750.3L685.7 1753.3L688.6 1756.3L690.6 1759.3L692 1762.3L693.1 1765.3L693.5 1768.3L595.5 1768.3L595.9 1765.3L597 1762.3L598.4 1759.3L600.4 1756.3L603.3 1753.3L606 1750.3L608.7 1747.3L611.4 1744.3L614.2 1741.3L617.4 1738.3L620.9 1735.3L624 1732.3L625.8 1729.3L627 1726.3L627.9 1723.3L628.7 1720.3L629.1 1717.3L629.1 1714.3L629 1711.3L628.9 1708.3L628.8 1705.3L628.6 1702.3L628.2 1699.3L627.7 1696.3L627.1 1693.3L626.6 1690.3L626.1 1687.3L625.5 1684.3L625 1681.3L624.4 1678.4L623.9 1675.4L623.3 1672.4L622.8 1669.4L622.3 1666.4L621.8 1663.4L621.3 1660.4L620.9 1657.4L620.5 1654.4L620.2 1651.4L619.9 1648.4L619.5 1645.4L619.2 1642.4L618.9 1639.4L618.5 1636.4L618.2 1633.4L617.9 1630.4L617.7 1627.4L617.4 1624.4L617.2 1621.4L617 1618.4L616.8 1615.4L616.7 1612.4L616.6 1609.4L616.5 1606.4L616.5 1603.4L616.5 1600.4L616.6 1597.4L616.7 1594.4L616.9 1591.4L617.1 1588.4L617.3 1585.4L617.5 1582.4L617.8 1579.4L618.1 1576.4L618.4 1573.4L618.7 1570.4L619 1567.4L619.4 1564.4L619.7 1561.4L620 1558.4L620.3 1555.4L620.7 1552.4L621 1549.4L621.4 1546.4L621.8 1543.4L622.2 1540.4L622.7 1537.4L623.2 1534.4L623.6 1531.4L624.2 1528.4L624.7 1525.4L625.2 1522.4L625.7 1519.4L626.3 1516.4L626.8 1513.4L627.3 1510.4L627.9 1507.4L628.4 1504.4L629 1501.4L629.5 1498.5L630.1 1495.5L630.7 1492.5L631.3 1489.5L632 1486.5L632.6 1483.5L633.2 1480.5L633.9 1477.5L634.5 1474.5L635.1 1471.5L635.8 1468.5L636.4 1465.5L637 1462.5L637.5 1459.5L638.1 1456.5L638.6 1453.5L639.1 1450.5L639.7 1447.5L640.2 1444.5L640.7 1441.5L641.2 1438.5L641.7 1435.5L642.1 1432.5L642.5 1429.5L642.8 1426.5L643 1423.5L643.1 1420.5L643.1 1417.5L643.3 1414.5Z" fill="#4DFBB6" stroke="#161c14" stroke-width="2.2" stroke-linejoin="round"/>
<path d="M752 1375L752 1378L752.1 1381L752.2 1383.9L752.3 1386.9L752.5 1389.9L752.7 1392.9L752.9 1395.9L753.3 1398.8L753.9 1401.8L754.3 1404.8L754.7 1407.8L755 1410.8L755.3 1413.7L755.6 1416.7L755.8 1419.7L756.2 1422.7L756.5 1425.7L756.9 1428.6L757.4 1431.6L758 1434.6L758.7 1437.6L759.5 1440.5L760.3 1443.5L761.2 1446.5L762.2 1449.5L763.1 1452.5L764.2 1455.4L765.2 1458.4L766.2 1461.4L767.3 1464.4L768.3 1467.4L769.3 1470.3L770.3 1473.3L771.2 1476.3L772.1 1479.3L773 1482.3L773.8 1485.2L774.7 1488.2L775.6 1491.2L776.5 1494.2L777.4 1497.2L778.3 1500.1L779.2 1503.1L780.1 1506.1L781 1509.1L781.8 1512.1L782.6 1515L783.4 1518L784.2 1521L784.9 1524L785.6 1527L786.2 1529.9L786.8 1532.9L787.5 1535.9L788.1 1538.9L788.7 1541.9L789.4 1544.8L790 1547.8L790.6 1550.8L791.2 1553.8L791.7 1556.8L792.2 1559.7L792.7 1562.7L793.1 1565.7L793.5 1568.7L793.9 1571.7L794.2 1574.6L794.4 1577.6L794.6 1580.6L794.8 1583.6L794.9 1586.5L795.1 1589.5L795.2 1592.5L795.3 1595.5L795.4 1598.5L795.5 1601.4L795.5 1604.4L795.4 1607.4L795.2 1610.4L794.8 1613.4L794.4 1616.3L793.9 1619.3L793.3 1622.3L792.7 1625.3L792.1 1628.3L791.6 1631.2L790.9 1634.2L790.2 1637.2L789.4 1640.2L788.5 1643.2L787.6 1646.1L786.6 1649.1L785.6 1652.1L784.5 1655.1L783.4 1658.1L782.2 1661L781 1664L779.8 1667L778.5 1670L777.2 1673L775.9 1675.9L774.5 1678.9L773 1681.9L771.1 1684.9L769 1687.9L766.8 1690.8L764.6 1693.8L762.7 1696.8L761 1699.8L759.8 1702.8L759.1 1705.7L758.5 1708.7L758.1 1711.7L758 1714.7L758.1 1717.6L758.4 1720.6L758.8 1723.6L759.8 1726.6L761.3 1729.6L763.1 1732.5L765.2 1735.5L768.2 1738.5L771.9 1741.5L776 1744.5L780 1747.4L783.8 1750.4L788 1753.4L792.1 1756.4L795.6 1759.4L798 1762.3L799.8 1765.3L801 1768.3L703 1768.3L704.2 1765.3L706 1762.3L708.4 1759.4L711.9 1756.4L716 1753.4L720.2 1750.4L724 1747.4L728 1744.5L732.1 1741.5L735.8 1738.5L738.8 1735.5L740.9 1732.5L742.7 1729.6L744.2 1726.6L745.2 1723.6L745.6 1720.6L745.9 1717.6L746 1714.7L745.9 1711.7L745.5 1708.7L744.9 1705.7L744.2 1702.8L743 1699.8L741.3 1696.8L739.4 1693.8L737.2 1690.8L735 1687.9L732.9 1684.9L731 1681.9L729.5 1678.9L728.1 1675.9L726.8 1673L725.5 1670L724.2 1667L723 1664L721.8 1661L720.6 1658.1L719.5 1655.1L718.4 1652.1L717.4 1649.1L716.4 1646.1L715.5 1643.2L714.6 1640.2L713.8 1637.2L713.1 1634.2L712.4 1631.2L711.9 1628.3L711.3 1625.3L710.7 1622.3L710.1 1619.3L709.6 1616.3L709.2 1613.4L708.8 1610.4L708.6 1607.4L708.5 1604.4L708.5 1601.4L708.6 1598.5L708.7 1595.5L708.8 1592.5L708.9 1589.5L709.1 1586.5L709.2 1583.6L709.4 1580.6L709.6 1577.6L709.8 1574.6L710.1 1571.7L710.5 1568.7L710.9 1565.7L711.3 1562.7L711.8 1559.7L712.3 1556.8L712.8 1553.8L713.4 1550.8L714 1547.8L714.6 1544.8L715.3 1541.9L715.9 1538.9L716.5 1535.9L717.2 1532.9L717.8 1529.9L718.4 1527L719.1 1524L719.8 1521L720.6 1518L721.4 1515L722.2 1512.1L723 1509.1L723.9 1506.1L724.8 1503.1L725.7 1500.1L726.6 1497.2L727.5 1494.2L728.4 1491.2L729.3 1488.2L730.2 1485.2L731 1482.3L731.9 1479.3L732.8 1476.3L733.7 1473.3L734.7 1470.3L735.7 1467.4L736.7 1464.4L737.8 1461.4L738.8 1458.4L739.8 1455.4L740.9 1452.5L741.8 1449.5L742.8 1446.5L743.7 1443.5L744.5 1440.5L745.3 1437.6L746 1434.6L746.6 1431.6L747.1 1428.6L747.5 1425.7L747.8 1422.7L748.2 1419.7L748.4 1416.7L748.7 1413.7L749 1410.8L749.3 1407.8L749.7 1404.8L750.1 1401.8L750.7 1398.8L751.1 1395.9L751.3 1392.9L751.5 1389.9L751.7 1386.9L751.8 1383.9L751.9 1381L752 1378Z" fill="#FB5278" stroke="#161c14" stroke-width="2.2" stroke-linejoin="round"/>
<circle cx="597.4" cy="1813.5" r="7.2" fill="#5AF5BE"/>
<circle cx="693.3" cy="1813.5" r="7.2" fill="#FB5A78"/>
<text transform="translate(612.5 1823.1) scale(1.002 1)" font-size="33.6">HIT</text>
<text transform="translate(713.6 1823.1) scale(0.994 1)" font-size="33.6">HIT</text>
<text transform="translate(767.6 1811.8) scale(1.019 1)" font-size="19.2">80BB</text>
<path d="M1378 1346V1790.3H1612" stroke="#000" stroke-width="2.3" fill="none" stroke-linecap="butt" stroke-linejoin="miter"/>
<path d="M1441.8 1443.8V1771.2M1393.3 1771.2H1490.3" fill="none" stroke="#1d2226" stroke-width="1.8"/>
<path d="M1548 1378L1548 1381L1548 1384L1548 1386.9L1548 1389.9L1548 1392.9L1548 1395.9L1548 1398.9L1548.1 1401.8L1548.1 1404.8L1548.1 1407.8L1548.1 1410.8L1548.1 1413.7L1548.1 1416.7L1548.2 1419.7L1548.2 1422.7L1548.2 1425.7L1548.2 1428.6L1548.3 1431.6L1548.3 1434.6L1548.3 1437.6L1548.4 1440.6L1548.4 1443.5L1548.4 1446.5L1548.5 1449.5L1548.5 1452.5L1548.5 1455.4L1548.6 1458.4L1548.6 1461.4L1548.7 1464.4L1548.7 1467.4L1548.8 1470.3L1548.8 1473.3L1548.9 1476.3L1548.9 1479.3L1549 1482.3L1549.1 1485.2L1549.2 1488.2L1549.3 1491.2L1549.5 1494.2L1549.6 1497.2L1549.8 1500.1L1550 1503.1L1550.2 1506.1L1550.4 1509.1L1550.6 1512L1550.8 1515L1551 1518L1551.2 1521L1551.3 1524L1551.5 1526.9L1551.6 1529.9L1551.8 1532.9L1551.9 1535.9L1552 1538.9L1552.1 1541.8L1552.3 1544.8L1552.4 1547.8L1552.5 1550.8L1552.6 1553.7L1552.7 1556.7L1552.8 1559.7L1552.9 1562.7L1553 1565.7L1553.1 1568.6L1553.2 1571.6L1553.4 1574.6L1553.5 1577.6L1553.6 1580.6L1553.7 1583.5L1553.8 1586.5L1553.9 1589.5L1554 1592.5L1554.1 1595.5L1554.2 1598.4L1554.4 1601.4L1554.5 1604.4L1554.6 1607.4L1554.7 1610.3L1554.8 1613.3L1554.8 1616.3L1554.9 1619.3L1555 1622.3L1555 1625.2L1555 1628.2L1555 1631.2L1555 1634.2L1555 1637.2L1555 1640.1L1555 1643.1L1555 1646.1L1555 1649.1L1555 1652L1555 1655L1555 1658L1555 1661L1555 1664L1555 1666.9L1554.9 1669.9L1554.8 1672.9L1554.6 1675.9L1554.4 1678.9L1554.2 1681.8L1553.9 1684.8L1553.6 1687.8L1553.4 1690.8L1553.1 1693.8L1552.9 1696.7L1552.7 1699.7L1552.6 1702.7L1552.6 1705.7L1552.5 1708.6L1552.5 1711.6L1552.5 1714.6L1552.4 1717.6L1552.4 1720.6L1552.4 1723.5L1552.7 1726.5L1553.6 1729.5L1555 1732.5L1556.7 1735.5L1558.9 1738.4L1562.2 1741.4L1566.2 1744.4L1570.6 1747.4L1575.1 1750.3L1580.8 1753.3L1586.3 1756.3L1590.3 1759.3L1593 1762.3L1594.9 1765.2L1595.7 1768.2L1596 1771.2L1500 1771.2L1500.3 1768.2L1501.1 1765.2L1503 1762.3L1505.7 1759.3L1509.7 1756.3L1515.2 1753.3L1520.9 1750.3L1525.4 1747.4L1529.8 1744.4L1533.8 1741.4L1537.1 1738.4L1539.3 1735.5L1541 1732.5L1542.4 1729.5L1543.3 1726.5L1543.6 1723.5L1543.6 1720.6L1543.6 1717.6L1543.5 1714.6L1543.5 1711.6L1543.5 1708.6L1543.4 1705.7L1543.4 1702.7L1543.3 1699.7L1543.1 1696.7L1542.9 1693.8L1542.6 1690.8L1542.4 1687.8L1542.1 1684.8L1541.8 1681.8L1541.6 1678.9L1541.4 1675.9L1541.2 1672.9L1541.1 1669.9L1541 1666.9L1541 1664L1541 1661L1541 1658L1541 1655L1541 1652L1541 1649.1L1541 1646.1L1541 1643.1L1541 1640.1L1541 1637.2L1541 1634.2L1541 1631.2L1541 1628.2L1541 1625.2L1541 1622.3L1541.1 1619.3L1541.2 1616.3L1541.2 1613.3L1541.3 1610.3L1541.4 1607.4L1541.5 1604.4L1541.6 1601.4L1541.8 1598.4L1541.9 1595.5L1542 1592.5L1542.1 1589.5L1542.2 1586.5L1542.3 1583.5L1542.4 1580.6L1542.5 1577.6L1542.6 1574.6L1542.8 1571.6L1542.9 1568.6L1543 1565.7L1543.1 1562.7L1543.2 1559.7L1543.3 1556.7L1543.4 1553.7L1543.5 1550.8L1543.6 1547.8L1543.7 1544.8L1543.9 1541.8L1544 1538.9L1544.1 1535.9L1544.2 1532.9L1544.4 1529.9L1544.5 1526.9L1544.7 1524L1544.8 1521L1545 1518L1545.2 1515L1545.4 1512L1545.6 1509.1L1545.8 1506.1L1546 1503.1L1546.2 1500.1L1546.4 1497.2L1546.5 1494.2L1546.7 1491.2L1546.8 1488.2L1546.9 1485.2L1547 1482.3L1547.1 1479.3L1547.1 1476.3L1547.2 1473.3L1547.2 1470.3L1547.3 1467.4L1547.3 1464.4L1547.4 1461.4L1547.4 1458.4L1547.5 1455.4L1547.5 1452.5L1547.5 1449.5L1547.6 1446.5L1547.6 1443.5L1547.6 1440.6L1547.7 1437.6L1547.7 1434.6L1547.7 1431.6L1547.8 1428.6L1547.8 1425.7L1547.8 1422.7L1547.8 1419.7L1547.9 1416.7L1547.9 1413.7L1547.9 1410.8L1547.9 1407.8L1547.9 1404.8L1547.9 1401.8L1548 1398.9L1548 1395.9L1548 1392.9L1548 1389.9L1548 1386.9L1548 1384L1548 1381Z" fill="#FB5278" stroke="#161c14" stroke-width="2" stroke-linejoin="round"/>
<circle cx="1390" cy="1813.5" r="7.2" fill="#5AF5BE"/>
<circle cx="1485.8" cy="1813.5" r="7.2" fill="#FB5A78"/>
<text transform="translate(1404.9 1823.1) scale(1.002 1)" font-size="33.6">HIT</text>
<text transform="translate(1506.3 1823.1) scale(0.994 1)" font-size="33.6">HIT</text>
<text transform="translate(1560.3 1811.8) scale(1.019 1)" font-size="19.2">80BB</text>
<circle cx="114.5" cy="739.8" r="8.3" fill="#F3F8F8"/>
<circle cx="148.2" cy="739.8" r="12.5" fill="#F5F9F9"/>
<circle cx="181.8" cy="739.8" r="15.8" fill="#E2F5F6"/>
<circle cx="215.5" cy="739.8" r="11.7" fill="#EEF6FA"/>
<circle cx="249.1" cy="739.8" r="6.7" fill="#E8F5F6"/>
<circle cx="282.8" cy="739.8" r="11.7" fill="#F2F8FB"/>
<circle cx="316.5" cy="739.8" r="10" fill="#F5FAFA"/>
<circle cx="350.1" cy="739.8" r="10.8" fill="#E9F5F5"/>
<circle cx="383.8" cy="739.8" r="9.2" fill="#F2F8F8"/>
<circle cx="417.4" cy="739.8" r="12.5" fill="#EEF6F6"/>
<circle cx="114.5" cy="785.3" r="6.7" fill="#A5DFEE"/>
<circle cx="148.2" cy="785.3" r="11.3" fill="#C0EAF1"/>
<circle cx="181.8" cy="785.3" r="14" fill="#7FD3EC"/>
<circle cx="215.5" cy="785.3" r="9.6" fill="#82D1EA"/>
<circle cx="249.1" cy="785.3" r="5.2" fill="#BDEAF2"/>
<circle cx="282.8" cy="785.3" r="9.6" fill="#92D9EE"/>
<circle cx="316.5" cy="785.3" r="9.2" fill="#D5F2F5"/>
<circle cx="350.1" cy="785.3" r="10" fill="#BFE9F1"/>
<circle cx="383.8" cy="785.3" r="7.7" fill="#8AD6EE"/>
<circle cx="417.4" cy="785.3" r="9.2" fill="#62BDE8"/>
<circle cx="114.5" cy="835.6" r="4.3" fill="#5CB4E6"/>
<circle cx="148.2" cy="835.6" r="7.1" fill="#3F8CEB"/>
<circle cx="181.8" cy="835.6" r="10.4" fill="#2A66EA"/>
<circle cx="215.5" cy="835.6" r="7.7" fill="#A0DDEE"/>
<circle cx="249.1" cy="835.6" r="2.9" fill="#4C9AE6"/>
<circle cx="282.8" cy="835.6" r="5.4" fill="#3F8DEA"/>
<circle cx="316.5" cy="835.6" r="5.7" fill="#5FBFE9"/>
<circle cx="350.1" cy="835.6" r="6.7" fill="#5BBAE8"/>
<circle cx="383.8" cy="835.6" r="5.4" fill="#7BCFEB"/>
<circle cx="417.4" cy="835.6" r="5.4" fill="#2460EC"/>
<circle cx="114.5" cy="883.3" r="5.7" fill="#5CB8E8"/>
<circle cx="148.2" cy="883.3" r="11.1" fill="#7AD0EC"/>
<circle cx="181.8" cy="883.3" r="15.8" fill="#F1F8FB"/>
<circle cx="215.5" cy="883.3" r="8.5" fill="#4EA5E8"/>
<circle cx="249.1" cy="883.3" r="4.6" fill="#6CC8EA"/>
<circle cx="282.8" cy="883.3" r="9.6" fill="#98DBEE"/>
<circle cx="316.5" cy="883.3" r="6.8" fill="#3D8CEB"/>
<circle cx="350.1" cy="883.3" r="9.4" fill="#55B0E8"/>
<circle cx="383.8" cy="883.3" r="7.5" fill="#64C0E9"/>
<circle cx="417.4" cy="883.3" r="13.8" fill="#FDE3DC"/>
<circle cx="114.5" cy="933" r="7.9" fill="#F0F7F8"/>
<circle cx="148.2" cy="933" r="11.7" fill="#F4F9FA"/>
<circle cx="181.8" cy="933" r="13.3" fill="#EBF5FA"/>
<circle cx="215.5" cy="933" r="10" fill="#EEF6FB"/>
<circle cx="249.1" cy="933" r="5.8" fill="#F3F8F8"/>
<circle cx="282.8" cy="933" r="10" fill="#FDF3EF"/>
<circle cx="316.5" cy="933" r="8.3" fill="#ECF6FA"/>
<circle cx="350.1" cy="933" r="10" fill="#F3F7F9"/>
<circle cx="383.8" cy="933" r="7.9" fill="#F0F7F7"/>
<circle cx="417.4" cy="933" r="10" fill="#E8F4FA"/>
<circle cx="114.5" cy="981.8" r="13.8" fill="#DB3A3C"/>
<circle cx="148.2" cy="981.8" r="16.7" fill="#E74B47"/>
<circle cx="181.8" cy="981.8" r="17.5" fill="#EB514C"/>
<circle cx="215.5" cy="981.8" r="15.8" fill="#DC3138"/>
<circle cx="249.1" cy="981.8" r="10.8" fill="#D82A32"/>
<circle cx="282.8" cy="981.8" r="15" fill="#E54643"/>
<circle cx="316.5" cy="981.8" r="14.2" fill="#E64844"/>
<circle cx="350.1" cy="981.8" r="15" fill="#DF3A3D"/>
<circle cx="383.8" cy="981.8" r="13.3" fill="#D92E36"/>
<circle cx="417.4" cy="981.8" r="14.2" fill="#F98C7A"/>
<circle cx="451.1" cy="739.8" r="15" fill="#FCEEEC"/>
<circle cx="484.8" cy="739.8" r="7.3" fill="#ADE4EF"/>
<circle cx="518.4" cy="739.8" r="16.3" fill="#A8E3EF"/>
<circle cx="552.1" cy="739.8" r="10.4" fill="#DDF4F5"/>
<circle cx="585.7" cy="739.8" r="10.8" fill="#ECF7F7"/>
<circle cx="619.4" cy="739.8" r="7.3" fill="#C5ECF3"/>
<circle cx="653.1" cy="739.8" r="7.9" fill="#EEF8F6"/>
<circle cx="686.7" cy="739.8" r="12.5" fill="#FCF1EE"/>
<circle cx="720.4" cy="739.8" r="2.9" fill="#A8D8E8"/>
<circle cx="754" cy="739.8" r="3.8" fill="#6DC0E8"/>
<circle cx="451.1" cy="785.3" r="13.3" fill="#D5F1F6"/>
<circle cx="484.8" cy="785.3" r="11.3" fill="#FCF0EF"/>
<circle cx="518.4" cy="785.3" r="13.2" fill="#5CB5EA"/>
<circle cx="552.1" cy="785.3" r="13.6" fill="#FDB9AE"/>
<circle cx="585.7" cy="785.3" r="10.8" fill="#D8F3F5"/>
<circle cx="619.4" cy="785.3" r="11.8" fill="#FDD7D0"/>
<circle cx="653.1" cy="785.3" r="7.9" fill="#EAF7F6"/>
<circle cx="686.7" cy="785.3" r="9" fill="#72CCEB"/>
<circle cx="720.4" cy="785.3" r="3.8" fill="#DDF2EC"/>
<circle cx="754" cy="785.3" r="4" fill="#4A9BE6"/>
<circle cx="451.1" cy="835.6" r="8.5" fill="#68C4EA"/>
<circle cx="484.8" cy="835.6" r="3.3" fill="#68BCE6"/>
<circle cx="518.4" cy="835.6" r="16.7" fill="#FDF1EF"/>
<circle cx="552.1" cy="835.6" r="3.5" fill="#4AA0E8"/>
<circle cx="585.7" cy="835.6" r="5.8" fill="#62C2EA"/>
<circle cx="619.4" cy="835.6" r="2.9" fill="#5AAEE8"/>
<circle cx="653.1" cy="835.6" r="3.2" fill="#5AA8E6"/>
<circle cx="686.7" cy="835.6" r="7.1" fill="#78CEEC"/>
<circle cx="720.4" cy="835.6" r="2.9" fill="#A8D5E8"/>
<circle cx="754" cy="835.6" r="6.3" fill="#FDD0C8"/>
<circle cx="451.1" cy="883.3" r="12.1" fill="#B5E6F1"/>
<circle cx="484.8" cy="883.3" r="7.5" fill="#DDF4F5"/>
<circle cx="518.4" cy="883.3" r="16.3" fill="#C5EEF3"/>
<circle cx="552.1" cy="883.3" r="7.3" fill="#B0E4F2"/>
<circle cx="585.7" cy="883.3" r="9" fill="#B0E5F0"/>
<circle cx="619.4" cy="883.3" r="6" fill="#B8E8F0"/>
<circle cx="653.1" cy="883.3" r="5.7" fill="#D0F0F3"/>
<circle cx="686.7" cy="883.3" r="10.4" fill="#DAF4F5"/>
<circle cx="720.4" cy="883.3" r="3.3" fill="#DDF3EF"/>
<circle cx="754" cy="883.3" r="7.1" fill="#DDF3F5"/>
<circle cx="451.1" cy="933" r="17.7" fill="#DA3038"/>
<circle cx="484.8" cy="933" r="15" fill="#DA3239"/>
<circle cx="518.4" cy="933" r="17.9" fill="#D92A34"/>
<circle cx="552.1" cy="933" r="15.8" fill="#FA8A7A"/>
<circle cx="585.7" cy="933" r="15.7" fill="#CE1C2C"/>
<circle cx="619.4" cy="933" r="13.5" fill="#EE5A50"/>
<circle cx="653.1" cy="933" r="12.1" fill="#DB3238"/>
<circle cx="686.7" cy="933" r="14.8" fill="#DC3038"/>
<circle cx="720.4" cy="933" r="6.7" fill="#C41424"/>
<circle cx="754" cy="933" r="9.8" fill="#F8674F"/>
<circle cx="451.1" cy="981.8" r="10.4" fill="#62BEEA"/>
<circle cx="484.8" cy="981.8" r="4" fill="#6CC5E8"/>
<circle cx="518.4" cy="981.8" r="16.7" fill="#A8E2EF"/>
<circle cx="552.1" cy="981.8" r="4.6" fill="#4EA2EA"/>
<circle cx="585.7" cy="981.8" r="7.3" fill="#72CDEA"/>
<circle cx="619.4" cy="981.8" r="4.2" fill="#5EBDEA"/>
<circle cx="653.1" cy="981.8" r="3.8" fill="#5AAEE8"/>
<circle cx="686.7" cy="981.8" r="8.3" fill="#7FD3EC"/>
<circle cx="720.4" cy="981.8" r="2.5" fill="#90D8C8"/>
<circle cx="754" cy="981.8" r="5.8" fill="#8FD8EE"/>
<circle cx="787.7" cy="739.8" r="9.2" fill="#B0E6F1"/>
<circle cx="821.4" cy="739.8" r="12.3" fill="#A5E1EF"/>
<circle cx="855" cy="739.8" r="9" fill="#CFF1F5"/>
<circle cx="888.7" cy="739.8" r="8.2" fill="#B5E7F1"/>
<circle cx="922.3" cy="739.8" r="7.9" fill="#CBEFF4"/>
<circle cx="956" cy="739.8" r="10.4" fill="#ACE4F0"/>
<circle cx="989.7" cy="739.8" r="11.3" fill="#B5E8F1"/>
<circle cx="1023.3" cy="739.8" r="10.4" fill="#ACE4F0"/>
<circle cx="1057" cy="739.8" r="8.2" fill="#B3E6F1"/>
<circle cx="1090.6" cy="739.8" r="13.2" fill="#A2E0EF"/>
<circle cx="787.7" cy="785.3" r="7.9" fill="#B5E7F2"/>
<circle cx="821.4" cy="785.3" r="10.4" fill="#B0E5F1"/>
<circle cx="855" cy="785.3" r="6.8" fill="#CDF0F5"/>
<circle cx="888.7" cy="785.3" r="7.1" fill="#A8E2EF"/>
<circle cx="922.3" cy="785.3" r="6.5" fill="#9DDDEE"/>
<circle cx="956" cy="785.3" r="8.3" fill="#8DD8ED"/>
<circle cx="989.7" cy="785.3" r="8.3" fill="#95DBEE"/>
<circle cx="1023.3" cy="785.3" r="9.6" fill="#CDF0F4"/>
<circle cx="1057" cy="785.3" r="7.1" fill="#A5E0EF"/>
<circle cx="1090.6" cy="785.3" r="13.3" fill="#DCF4F5"/>
<circle cx="787.7" cy="835.6" r="5.2" fill="#98DBEE"/>
<circle cx="821.4" cy="835.6" r="9" fill="#B5E6F1"/>
<circle cx="855" cy="835.6" r="4" fill="#78CDEA"/>
<circle cx="888.7" cy="835.6" r="5" fill="#A5E0EF"/>
<circle cx="922.3" cy="835.6" r="4" fill="#88D5EC"/>
<circle cx="956" cy="835.6" r="6" fill="#98DBEE"/>
<circle cx="989.7" cy="835.6" r="5.4" fill="#72CAE8"/>
<circle cx="1023.3" cy="835.6" r="6.3" fill="#72CCEA"/>
<circle cx="1057" cy="835.6" r="5.2" fill="#A0DEEE"/>
<circle cx="1090.6" cy="835.6" r="9.6" fill="#A8E2EF"/>
<circle cx="787.7" cy="883.3" r="17.1" fill="#C40A1E"/>
<circle cx="821.4" cy="883.3" r="17.5" fill="#C40A1E"/>
<circle cx="855" cy="883.3" r="15.4" fill="#C40A1E"/>
<circle cx="888.7" cy="883.3" r="15.8" fill="#C40A1E"/>
<circle cx="922.3" cy="883.3" r="15.8" fill="#C40A1E"/>
<circle cx="956" cy="883.3" r="16.7" fill="#C40A1E"/>
<circle cx="989.7" cy="883.3" r="16.3" fill="#C60C20"/>
<circle cx="1023.3" cy="883.3" r="16.3" fill="#C60C20"/>
<circle cx="1057" cy="883.3" r="15.8" fill="#C60C20"/>
<circle cx="1090.6" cy="883.3" r="17.5" fill="#C40A1E"/>
<circle cx="787.7" cy="933" r="9.2" fill="#BDEAF2"/>
<circle cx="821.4" cy="933" r="11.5" fill="#C0EBF2"/>
<circle cx="855" cy="933" r="7.1" fill="#B0E5F0"/>
<circle cx="888.7" cy="933" r="7.3" fill="#C0EBF3"/>
<circle cx="922.3" cy="933" r="6.7" fill="#BDEAF2"/>
<circle cx="956" cy="933" r="9.6" fill="#D2F1F5"/>
<circle cx="989.7" cy="933" r="9.8" fill="#D0F0F3"/>
<circle cx="1023.3" cy="933" r="9.2" fill="#B5E7F1"/>
<circle cx="1057" cy="933" r="7.5" fill="#D5F2F5"/>
<circle cx="1090.6" cy="933" r="12.1" fill="#BDEAF2"/>
<circle cx="787.7" cy="981.8" r="11" fill="#C0EBF3"/>
<circle cx="821.4" cy="981.8" r="12.9" fill="#B8E8F1"/>
<circle cx="855" cy="981.8" r="8.3" fill="#B5E7F1"/>
<circle cx="888.7" cy="981.8" r="8.8" fill="#ADE4F0"/>
<circle cx="922.3" cy="981.8" r="8.8" fill="#C8EEF4"/>
<circle cx="956" cy="981.8" r="11.3" fill="#D0F1F4"/>
<circle cx="989.7" cy="981.8" r="12.5" fill="#DFF5F5"/>
<circle cx="1023.3" cy="981.8" r="12.5" fill="#D5F3F5"/>
<circle cx="1057" cy="981.8" r="9.6" fill="#B5E7F1"/>
<circle cx="1090.6" cy="981.8" r="12.7" fill="#9DDDEE"/>
<circle cx="1124.3" cy="739.8" r="11.7" fill="#C5ECF3"/>
<circle cx="1158" cy="739.8" r="5" fill="#8FD6EE"/>
<circle cx="1191.6" cy="739.8" r="10.8" fill="#5EBCEA"/>
<circle cx="1225.3" cy="739.8" r="9.8" fill="#A0DEEE"/>
<circle cx="1258.9" cy="739.8" r="11" fill="#3F90EA"/>
<circle cx="1292.6" cy="739.8" r="4.3" fill="#3F8EE6"/>
<circle cx="1326.3" cy="739.8" r="8.8" fill="#DDF4F3"/>
<circle cx="1359.9" cy="739.8" r="5.2" fill="#6CC6EA"/>
<circle cx="1393.6" cy="739.8" r="6.3" fill="#E2F5F3"/>
<circle cx="1427.2" cy="739.8" r="4" fill="#62B8E8"/>
<circle cx="1124.3" cy="785.3" r="5.4" fill="#3F8FEB"/>
<circle cx="1158" cy="785.3" r="4" fill="#78CAEA"/>
<circle cx="1191.6" cy="785.3" r="7.9" fill="#4A9EEA"/>
<circle cx="1225.3" cy="785.3" r="4.8" fill="#3A85E8"/>
<circle cx="1258.9" cy="785.3" r="13.2" fill="#82D3EB"/>
<circle cx="1292.6" cy="785.3" r="6.5" fill="#A0DEEE"/>
<circle cx="1326.3" cy="785.3" r="5.2" fill="#72CCEC"/>
<circle cx="1359.9" cy="785.3" r="5.2" fill="#72CAEA"/>
<circle cx="1393.6" cy="785.3" r="3.5" fill="#5AA8E6"/>
<circle cx="1427.2" cy="785.3" r="4.2" fill="#62B8E8"/>
<circle cx="1124.3" cy="835.6" r="14.6" fill="#D42230"/>
<circle cx="1158" cy="835.6" r="10.4" fill="#D6262F"/>
<circle cx="1191.6" cy="835.6" r="14.2" fill="#DF3C40"/>
<circle cx="1225.3" cy="835.6" r="12.9" fill="#F2604F"/>
<circle cx="1258.9" cy="835.6" r="14.3" fill="#E84C46"/>
<circle cx="1292.6" cy="835.6" r="10.4" fill="#DD383C"/>
<circle cx="1326.3" cy="835.6" r="10" fill="#F4674F"/>
<circle cx="1359.9" cy="835.6" r="9.3" fill="#D92A34"/>
<circle cx="1393.6" cy="835.6" r="7.7" fill="#CC1C2A"/>
<circle cx="1427.2" cy="835.6" r="6.8" fill="#E6444A"/>
<circle cx="1124.3" cy="883.3" r="13.3" fill="#D5F1F6"/>
<circle cx="1158" cy="883.3" r="7.5" fill="#E5F6F6"/>
<circle cx="1191.6" cy="883.3" r="13.3" fill="#F3F9FB"/>
<circle cx="1225.3" cy="883.3" r="11.3" fill="#E2F5F7"/>
<circle cx="1258.9" cy="883.3" r="15.4" fill="#FDEFEC"/>
<circle cx="1292.6" cy="883.3" r="10.4" fill="#EAF7F8"/>
<circle cx="1326.3" cy="883.3" r="9.2" fill="#E0F4F7"/>
<circle cx="1359.9" cy="883.3" r="9.2" fill="#F5F7F8"/>
<circle cx="1393.6" cy="883.3" r="7.1" fill="#E3F5F5"/>
<circle cx="1427.2" cy="883.3" r="5.7" fill="#D5F2F4"/>
<circle cx="1124.3" cy="933" r="12.5" fill="#E5F5F8"/>
<circle cx="1158" cy="933" r="4.8" fill="#98DBEF"/>
<circle cx="1191.6" cy="933" r="12.5" fill="#EAF6F8"/>
<circle cx="1225.3" cy="933" r="7.7" fill="#8AD6EE"/>
<circle cx="1258.9" cy="933" r="13.3" fill="#F6F6F8"/>
<circle cx="1292.6" cy="933" r="7.5" fill="#F8F5F7"/>
<circle cx="1326.3" cy="933" r="3.3" fill="#2F70E0"/>
<circle cx="1359.9" cy="933" r="5.4" fill="#98DBEE"/>
<circle cx="1393.6" cy="933" r="3.8" fill="#78CAE6"/>
<circle cx="1427.2" cy="933" r="6.3" fill="#FCE0DA"/>
<circle cx="1124.3" cy="981.8" r="14" fill="#DCF0FA"/>
<circle cx="1158" cy="981.8" r="10" fill="#F3F8FC"/>
<circle cx="1191.6" cy="981.8" r="13.2" fill="#D5F3F5"/>
<circle cx="1225.3" cy="981.8" r="15.4" fill="#FDE0D8"/>
<circle cx="1258.9" cy="981.8" r="13.8" fill="#92DAEC"/>
<circle cx="1292.6" cy="981.8" r="7.3" fill="#82D5EC"/>
<circle cx="1326.3" cy="981.8" r="12.5" fill="#FDE2DB"/>
<circle cx="1359.9" cy="981.8" r="8.8" fill="#E2F4F7"/>
<circle cx="1393.6" cy="981.8" r="6.5" fill="#CFF1F4"/>
<circle cx="1427.2" cy="981.8" r="5.8" fill="#CDF0F4"/>
<circle cx="1460.9" cy="739.8" r="6.7" fill="#D0F1F5"/>
<circle cx="1494.6" cy="739.8" r="4.6" fill="#EEF7F6"/>
<circle cx="1528.2" cy="739.8" r="7.1" fill="#B5E8F2"/>
<circle cx="1561.9" cy="739.8" r="12.5" fill="#FDDCD6"/>
<circle cx="1595.5" cy="739.8" r="4.2" fill="#F0F8F6"/>
<circle cx="1629.2" cy="739.8" r="11.7" fill="#EEF7F6"/>
<circle cx="1662.9" cy="739.8" r="11.7" fill="#D8F3F6"/>
<circle cx="1696.5" cy="739.8" r="5.4" fill="#C0EBF3"/>
<circle cx="1730.2" cy="739.8" r="7.9" fill="#EAF6F6"/>
<circle cx="1763.8" cy="739.8" r="17.9" fill="#FB9280"/>
<circle cx="1460.9" cy="785.3" r="15.4" fill="#C40C20"/>
<circle cx="1494.6" cy="785.3" r="9.8" fill="#CC1626"/>
<circle cx="1528.2" cy="785.3" r="16" fill="#C20A1E"/>
<circle cx="1561.9" cy="785.3" r="14.2" fill="#E64848"/>
<circle cx="1595.5" cy="785.3" r="10.2" fill="#CC1828"/>
<circle cx="1629.2" cy="785.3" r="15.8" fill="#CA1626"/>
<circle cx="1662.9" cy="785.3" r="17.1" fill="#CE182A"/>
<circle cx="1696.5" cy="785.3" r="11.7" fill="#CC1828"/>
<circle cx="1730.2" cy="785.3" r="12.9" fill="#C81424"/>
<circle cx="1763.8" cy="785.3" r="17.7" fill="#FC9C8C"/>
<circle cx="1460.9" cy="835.6" r="3.3" fill="#A8D8E8"/>
<circle cx="1494.6" cy="835.6" r="2.3" fill="#A0D5E5"/>
<circle cx="1528.2" cy="835.6" r="5.2" fill="#9DDDEE"/>
<circle cx="1561.9" cy="835.6" r="3.2" fill="#62B8E2"/>
<circle cx="1595.5" cy="835.6" r="2.9" fill="#88CCE0"/>
<circle cx="1629.2" cy="835.6" r="6.7" fill="#98DAEC"/>
<circle cx="1662.9" cy="835.6" r="8.8" fill="#BFEBF2"/>
<circle cx="1696.5" cy="835.6" r="2.9" fill="#7CC5E0"/>
<circle cx="1730.2" cy="835.6" r="3.8" fill="#80CCE6"/>
<circle cx="1763.8" cy="835.6" r="13.3" fill="#5CBCEC"/>
<circle cx="1460.9" cy="883.3" r="4.8" fill="#ADE4F0"/>
<circle cx="1494.6" cy="883.3" r="2.9" fill="#A5DDEB"/>
<circle cx="1528.2" cy="883.3" r="7.5" fill="#B8E8F1"/>
<circle cx="1561.9" cy="883.3" r="5.4" fill="#85D2EC"/>
<circle cx="1595.5" cy="883.3" r="3.5" fill="#98D8EA"/>
<circle cx="1629.2" cy="883.3" r="9.3" fill="#98DBEF"/>
<circle cx="1662.9" cy="883.3" r="10.4" fill="#7CD0EC"/>
<circle cx="1696.5" cy="883.3" r="4.3" fill="#A0DCEE"/>
<circle cx="1730.2" cy="883.3" r="6.3" fill="#A8E2EF"/>
<circle cx="1763.8" cy="883.3" r="16.3" fill="#95DBEE"/>
<circle cx="1460.9" cy="933" r="4.2" fill="#A0DEEF"/>
<circle cx="1494.6" cy="933" r="2.7" fill="#A0D8E0"/>
<circle cx="1528.2" cy="933" r="7.9" fill="#D0F1F5"/>
<circle cx="1561.9" cy="933" r="6.7" fill="#B5E7F2"/>
<circle cx="1595.5" cy="933" r="3.3" fill="#BDE6F0"/>
<circle cx="1629.2" cy="933" r="7.1" fill="#88D5EC"/>
<circle cx="1662.9" cy="933" r="12.5" fill="#E0F5F7"/>
<circle cx="1696.5" cy="933" r="6.5" fill="#EEF6F5"/>
<circle cx="1730.2" cy="933" r="5" fill="#A0DEEE"/>
<circle cx="1763.8" cy="933" r="16.7" fill="#95DBEE"/>
<circle cx="1460.9" cy="981.8" r="5.8" fill="#B8E8F2"/>
<circle cx="1494.6" cy="981.8" r="2.9" fill="#A5DDE8"/>
<circle cx="1528.2" cy="981.8" r="6.7" fill="#95DAEE"/>
<circle cx="1561.9" cy="981.8" r="4.6" fill="#62BCE4"/>
<circle cx="1595.5" cy="981.8" r="3.3" fill="#90D5EA"/>
<circle cx="1629.2" cy="981.8" r="10" fill="#A5E1F0"/>
<circle cx="1662.9" cy="981.8" r="10.4" fill="#62C0EA"/>
<circle cx="1696.5" cy="981.8" r="3.8" fill="#6CC2E2"/>
<circle cx="1730.2" cy="981.8" r="6" fill="#98DBEE"/>
<circle cx="1763.8" cy="981.8" r="17.5" fill="#C5EBF2"/>
<circle cx="1797.5" cy="739.8" r="10.2" fill="#C60E22"/>
<circle cx="1831.2" cy="739.8" r="17.5" fill="#C40C20"/>
<circle cx="1864.8" cy="739.8" r="11.3" fill="#C60E22"/>
<circle cx="1898.5" cy="739.8" r="17.9" fill="#DA3038"/>
<circle cx="1932.1" cy="739.8" r="12.9" fill="#CE1A2A"/>
<circle cx="1965.8" cy="739.8" r="11.5" fill="#C60E22"/>
<circle cx="1999.5" cy="739.8" r="6.3" fill="#C40C20"/>
<circle cx="2033.1" cy="739.8" r="11" fill="#C40E20"/>
<circle cx="2066.8" cy="739.8" r="4" fill="#EA5448"/>
<circle cx="1797.5" cy="785.3" r="6.3" fill="#DAF3F5"/>
<circle cx="1831.2" cy="785.3" r="9.6" fill="#A8E2EF"/>
<circle cx="1864.8" cy="785.3" r="6" fill="#CDF0F4"/>
<circle cx="1898.5" cy="785.3" r="17.5" fill="#EEF7F8"/>
<circle cx="1932.1" cy="785.3" r="7.9" fill="#E0F5F3"/>
<circle cx="1965.8" cy="785.3" r="5.4" fill="#A5E0EE"/>
<circle cx="1999.5" cy="785.3" r="2.9" fill="#A0DCE0"/>
<circle cx="2033.1" cy="785.3" r="6.3" fill="#A8E2EF"/>
<circle cx="2066.8" cy="785.3" r="5.4" fill="#FCC8C0"/>
<circle cx="1797.5" cy="835.6" r="3.2" fill="#B8E6F0"/>
<circle cx="1831.2" cy="835.6" r="7.5" fill="#90D8EE"/>
<circle cx="1864.8" cy="835.6" r="3.5" fill="#A5DEEA"/>
<circle cx="1898.5" cy="835.6" r="15.7" fill="#62C0EA"/>
<circle cx="1932.1" cy="835.6" r="5.4" fill="#A5E0F0"/>
<circle cx="1965.8" cy="835.6" r="5.7" fill="#ADE4F0"/>
<circle cx="1999.5" cy="835.6" r="4.2" fill="#D5F3EC"/>
<circle cx="2033.1" cy="835.6" r="7.5" fill="#BDEAF2"/>
<circle cx="2066.8" cy="835.6" r="2.1" fill="#7AC0D8"/>
<circle cx="1797.5" cy="883.3" r="2.9" fill="#A0DCE8"/>
<circle cx="1831.2" cy="883.3" r="10.8" fill="#A8E2EF"/>
<circle cx="1864.8" cy="883.3" r="5.2" fill="#ADE3EF"/>
<circle cx="1898.5" cy="883.3" r="16.7" fill="#5FC0E8"/>
<circle cx="1932.1" cy="883.3" r="7.1" fill="#A8E2F0"/>
<circle cx="1965.8" cy="883.3" r="6.7" fill="#A5E0F0"/>
<circle cx="1999.5" cy="883.3" r="3.3" fill="#A0D8EC"/>
<circle cx="2033.1" cy="883.3" r="8.8" fill="#A5E0F0"/>
<circle cx="2066.8" cy="883.3" r="2.3" fill="#90D0D0"/>
<circle cx="1797.5" cy="933" r="2.9" fill="#A5DEE5"/>
<circle cx="1831.2" cy="933" r="15.4" fill="#E0F5F6"/>
<circle cx="1864.8" cy="933" r="4" fill="#B0E5EE"/>
<circle cx="1898.5" cy="933" r="17.1" fill="#A0DEEF"/>
<circle cx="1932.1" cy="933" r="4.6" fill="#62C5E8"/>
<circle cx="1965.8" cy="933" r="9.6" fill="#D0F2F5"/>
<circle cx="1999.5" cy="933" r="2.9" fill="#85CCD0"/>
<circle cx="2033.1" cy="933" r="9.6" fill="#C8EEF3"/>
<circle cx="2066.8" cy="933" r="2.3" fill="#88CCD0"/>
<circle cx="1797.5" cy="981.8" r="3.3" fill="#A0DCEC"/>
<circle cx="1831.2" cy="981.8" r="10.7" fill="#A8E2EF"/>
<circle cx="1864.8" cy="981.8" r="4.3" fill="#A8E2EC"/>
<circle cx="1898.5" cy="981.8" r="17.1" fill="#ECF7F7"/>
<circle cx="1932.1" cy="981.8" r="7.5" fill="#A8E2F0"/>
<circle cx="1965.8" cy="981.8" r="5.7" fill="#A5E0F0"/>
<circle cx="1999.5" cy="981.8" r="4" fill="#B5E8EE"/>
<circle cx="2033.1" cy="981.8" r="7.3" fill="#9FDFEE"/>
<circle cx="2066.8" cy="981.8" r="2.7" fill="#98CCE0"/>
<path d="M92.9 706V1010.8H2089.5" stroke="#000" stroke-width="4.1" fill="none" stroke-linejoin="miter"/>
<path d="M86.3 739.8L93 739.8" stroke="#000" stroke-width="3.6" stroke-linecap="butt" fill="none"/>
<text transform="translate(79 751.7) scale(0.975 1)" font-size="34" text-anchor="end">5</text>
<path d="M86.3 785.3L93 785.3" stroke="#000" stroke-width="3.6" stroke-linecap="butt" fill="none"/>
<text transform="translate(79 797.2) scale(0.975 1)" font-size="34" text-anchor="end">4</text>
<path d="M86.3 835.6L93 835.6" stroke="#000" stroke-width="3.6" stroke-linecap="butt" fill="none"/>
<text transform="translate(79 847.5) scale(0.975 1)" font-size="34" text-anchor="end">3</text>
<path d="M86.3 883.3L93 883.3" stroke="#000" stroke-width="3.6" stroke-linecap="butt" fill="none"/>
<text transform="translate(79 895.2) scale(0.975 1)" font-size="34" text-anchor="end">2</text>
<path d="M86.3 933L93 933" stroke="#000" stroke-width="3.6" stroke-linecap="butt" fill="none"/>
<text transform="translate(79 944.9) scale(0.975 1)" font-size="34" text-anchor="end">1</text>
<path d="M86.3 981.8L93 981.8" stroke="#000" stroke-width="3.6" stroke-linecap="butt" fill="none"/>
<text transform="translate(79 993.7) scale(0.975 1)" font-size="34" text-anchor="end">0</text>
<path d="M114.5 1010.8L114.5 1019.8" stroke="#000" stroke-width="3.6" stroke-linecap="butt" fill="none"/>
<text transform="translate(124.4 1022.2) rotate(-90) scale(.975 1)" font-size="34" text-anchor="end">GINS2</text>
<path d="M148.2 1010.8L148.2 1019.8" stroke="#000" stroke-width="3.6" stroke-linecap="butt" fill="none"/>
<text transform="translate(158.1 1023.8) rotate(-90) scale(.975 1)" font-size="34" text-anchor="end">PCNA</text>
<path d="M181.8 1010.8L181.8 1019.8" stroke="#000" stroke-width="3.6" stroke-linecap="butt" fill="none"/>
<text transform="translate(191.7 1023.1) rotate(-90) scale(.975 1)" font-size="34" text-anchor="end">DUT</text>
<path d="M215.5 1010.8L215.5 1019.8" stroke="#000" stroke-width="3.6" stroke-linecap="butt" fill="none"/>
<text transform="translate(225.4 1022.2) rotate(-90) scale(.975 1)" font-size="34" text-anchor="end">SLBP</text>
<path d="M249.1 1010.8L249.1 1019.8" stroke="#000" stroke-width="3.6" stroke-linecap="butt" fill="none"/>
<text transform="translate(259 1022.2) rotate(-90) scale(.975 1)" font-size="34" text-anchor="end">FAM111B</text>
<path d="M282.8 1010.8L282.8 1019.8" stroke="#000" stroke-width="3.6" stroke-linecap="butt" fill="none"/>
<text transform="translate(292.7 1022.2) rotate(-90) scale(.975 1)" font-size="34" text-anchor="end">MCM7</text>
<path d="M316.5 1010.8L316.5 1019.8" stroke="#000" stroke-width="3.6" stroke-linecap="butt" fill="none"/>
<text transform="translate(326.4 1022.4) rotate(-90) scale(.975 1)" font-size="34" text-anchor="end">MCM6</text>
<path d="M350.1 1010.8L350.1 1019.8" stroke="#000" stroke-width="3.6" stroke-linecap="butt" fill="none"/>
<text transform="translate(360 1022.4) rotate(-90) scale(.975 1)" font-size="34" text-anchor="end">MCM3</text>
<path d="M383.8 1010.8L383.8 1019.8" stroke="#000" stroke-width="3.6" stroke-linecap="butt" fill="none"/>
<text transform="translate(393.7 1022.9) rotate(-90) scale(.975 1)" font-size="34" text-anchor="end">MCM4</text>
<path d="M417.4 1010.8L417.4 1019.8" stroke="#000" stroke-width="3.6" stroke-linecap="butt" fill="none"/>
<text transform="translate(427.3 1022.2) rotate(-90) scale(.975 1)" font-size="34" text-anchor="end">RRM2</text>
<path d="M451.1 1010.8L451.1 1019.8" stroke="#000" stroke-width="3.6" stroke-linecap="butt" fill="none"/>
<text transform="translate(461 1022.2) rotate(-90) scale(.975 1)" font-size="34" text-anchor="end">NKG7</text>
<path d="M484.8 1010.8L484.8 1019.8" stroke="#000" stroke-width="3.6" stroke-linecap="butt" fill="none"/>
<text transform="translate(494.7 1022.3) rotate(-90) scale(.975 1)" font-size="34" text-anchor="end">KLRK1</text>
<path d="M518.4 1010.8L518.4 1019.8" stroke="#000" stroke-width="3.6" stroke-linecap="butt" fill="none"/>
<text transform="translate(528.3 1022.5) rotate(-90) scale(.975 1)" font-size="34" text-anchor="end">CCL5</text>
<path d="M552.1 1010.8L552.1 1019.8" stroke="#000" stroke-width="3.6" stroke-linecap="butt" fill="none"/>
<text transform="translate(562 1023.8) rotate(-90) scale(.975 1)" font-size="34" text-anchor="end">CD8A</text>
<path d="M585.7 1010.8L585.7 1019.8" stroke="#000" stroke-width="3.6" stroke-linecap="butt" fill="none"/>
<text transform="translate(595.6 1023.8) rotate(-90) scale(.975 1)" font-size="34" text-anchor="end">CTSW</text>
<path d="M619.4 1010.8L619.4 1019.8" stroke="#000" stroke-width="3.6" stroke-linecap="butt" fill="none"/>
<text transform="translate(629.3 1022.2) rotate(-90) scale(.975 1)" font-size="34" text-anchor="end">CD8B</text>
<path d="M653.1 1010.8L653.1 1019.8" stroke="#000" stroke-width="3.6" stroke-linecap="butt" fill="none"/>
<text transform="translate(663 1022.3) rotate(-90) scale(.975 1)" font-size="34" text-anchor="end">KLRC1</text>
<path d="M686.7 1010.8L686.7 1019.8" stroke="#000" stroke-width="3.6" stroke-linecap="butt" fill="none"/>
<text transform="translate(696.6 1023.2) rotate(-90) scale(.975 1)" font-size="34" text-anchor="end">GNLY</text>
<path d="M720.4 1010.8L720.4 1019.8" stroke="#000" stroke-width="3.6" stroke-linecap="butt" fill="none"/>
<text transform="translate(730.3 1022.3) rotate(-90) scale(.975 1)" font-size="34" text-anchor="end">KLRD1</text>
<path d="M754 1010.8L754 1019.8" stroke="#000" stroke-width="3.6" stroke-linecap="butt" fill="none"/>
<text transform="translate(763.9 1023.5) rotate(-90) scale(.975 1)" font-size="34" text-anchor="end">GZMK</text>
<path d="M787.7 1010.8L787.7 1019.8" stroke="#000" stroke-width="3.6" stroke-linecap="butt" fill="none"/>
<text transform="translate(797.6 1021.2) rotate(-90) scale(.975 1)" font-size="34" text-anchor="end">ASPM</text>
<path d="M821.4 1010.8L821.4 1019.8" stroke="#000" stroke-width="3.6" stroke-linecap="butt" fill="none"/>
<text transform="translate(831.3 1022.6) rotate(-90) scale(.975 1)" font-size="34" text-anchor="end">CENPF</text>
<path d="M855 1010.8L855 1019.8" stroke="#000" stroke-width="3.6" stroke-linecap="butt" fill="none"/>
<text transform="translate(864.9 1022.6) rotate(-90) scale(.975 1)" font-size="34" text-anchor="end">UBE2C</text>
<path d="M888.7 1010.8L888.7 1019.8" stroke="#000" stroke-width="3.6" stroke-linecap="butt" fill="none"/>
<text transform="translate(898.6 1022.5) rotate(-90) scale(.975 1)" font-size="34" text-anchor="end">CENPE</text>
<path d="M922.3 1010.8L922.3 1019.8" stroke="#000" stroke-width="3.6" stroke-linecap="butt" fill="none"/>
<text transform="translate(932.2 1022.4) rotate(-90) scale(.975 1)" font-size="34" text-anchor="end">HMMR</text>
<path d="M956 1010.8L956 1019.8" stroke="#000" stroke-width="3.6" stroke-linecap="butt" fill="none"/>
<text transform="translate(965.9 1022.2) rotate(-90) scale(.975 1)" font-size="34" text-anchor="end">TPX2</text>
<path d="M989.7 1010.8L989.7 1019.8" stroke="#000" stroke-width="3.6" stroke-linecap="butt" fill="none"/>
<text transform="translate(999.6 1022.3) rotate(-90) scale(.975 1)" font-size="34" text-anchor="end">NUSAP1</text>
<path d="M1023.3 1010.8L1023.3 1019.8" stroke="#000" stroke-width="3.6" stroke-linecap="butt" fill="none"/>
<text transform="translate(1033.2 1023.8) rotate(-90) scale(.975 1)" font-size="34" text-anchor="end">TOP2A</text>
<path d="M1057 1010.8L1057 1019.8" stroke="#000" stroke-width="3.6" stroke-linecap="butt" fill="none"/>
<text transform="translate(1066.9 1022.5) rotate(-90) scale(.975 1)" font-size="34" text-anchor="end">DLGAP5</text>
<path d="M1090.6 1010.8L1090.6 1019.8" stroke="#000" stroke-width="3.6" stroke-linecap="butt" fill="none"/>
<text transform="translate(1100.5 1022.3) rotate(-90) scale(.975 1)" font-size="34" text-anchor="end">ARL6IP1</text>
<path d="M1124.3 1010.8L1124.3 1019.8" stroke="#000" stroke-width="3.6" stroke-linecap="butt" fill="none"/>
<text transform="translate(1134.2 1022.2) rotate(-90) scale(.975 1)" font-size="34" text-anchor="end">LTB</text>
<path d="M1158 1010.8L1158 1019.8" stroke="#000" stroke-width="3.6" stroke-linecap="butt" fill="none"/>
<text transform="translate(1167.9 1022.4) rotate(-90) scale(.975 1)" font-size="34" text-anchor="end">IL7R</text>
<path d="M1191.6 1010.8L1191.6 1019.8" stroke="#000" stroke-width="3.6" stroke-linecap="butt" fill="none"/>
<text transform="translate(1201.5 1023.5) rotate(-90) scale(.975 1)" font-size="34" text-anchor="end">AHNAK</text>
<path d="M1225.3 1010.8L1225.3 1019.8" stroke="#000" stroke-width="3.6" stroke-linecap="butt" fill="none"/>
<text transform="translate(1235.2 1022.2) rotate(-90) scale(.975 1)" font-size="34" text-anchor="end">LINC00892</text>
<path d="M1258.9 1010.8L1258.9 1019.8" stroke="#000" stroke-width="3.6" stroke-linecap="butt" fill="none"/>
<text transform="translate(1268.8 1022.3) rotate(-90) scale(.975 1)" font-size="34" text-anchor="end">BTG1</text>
<path d="M1292.6 1010.8L1292.6 1019.8" stroke="#000" stroke-width="3.6" stroke-linecap="butt" fill="none"/>
<text transform="translate(1302.5 1022.2) rotate(-90) scale(.975 1)" font-size="34" text-anchor="end">TXNIP</text>
<path d="M1326.3 1010.8L1326.3 1019.8" stroke="#000" stroke-width="3.6" stroke-linecap="butt" fill="none"/>
<text transform="translate(1336.2 1022.9) rotate(-90) scale(.975 1)" font-size="34" text-anchor="end">CD4</text>
<path d="M1359.9 1010.8L1359.9 1019.8" stroke="#000" stroke-width="3.6" stroke-linecap="butt" fill="none"/>
<text transform="translate(1369.8 1022.2) rotate(-90) scale(.975 1)" font-size="34" text-anchor="end">INPP4B</text>
<path d="M1393.6 1010.8L1393.6 1019.8" stroke="#000" stroke-width="3.6" stroke-linecap="butt" fill="none"/>
<text transform="translate(1403.5 1022.6) rotate(-90) scale(.975 1)" font-size="34" text-anchor="end">MAF</text>
<path d="M1427.2 1010.8L1427.2 1019.8" stroke="#000" stroke-width="3.6" stroke-linecap="butt" fill="none"/>
<text transform="translate(1437.1 1022.3) rotate(-90) scale(.975 1)" font-size="34" text-anchor="end">KLRB1</text>
<path d="M1460.9 1010.8L1460.9 1019.8" stroke="#000" stroke-width="3.6" stroke-linecap="butt" fill="none"/>
<text transform="translate(1470.8 1022.3) rotate(-90) scale(.975 1)" font-size="34" text-anchor="end">CAV1</text>
<path d="M1494.6 1010.8L1494.6 1019.8" stroke="#000" stroke-width="3.6" stroke-linecap="butt" fill="none"/>
<text transform="translate(1504.5 1022.6) rotate(-90) scale(.975 1)" font-size="34" text-anchor="end">CD200</text>
<path d="M1528.2 1010.8L1528.2 1019.8" stroke="#000" stroke-width="3.6" stroke-linecap="butt" fill="none"/>
<text transform="translate(1538.1 1022.4) rotate(-90) scale(.975 1)" font-size="34" text-anchor="end">ID3</text>
<path d="M1561.9 1010.8L1561.9 1019.8" stroke="#000" stroke-width="3.6" stroke-linecap="butt" fill="none"/>
<text transform="translate(1571.8 1022.3) rotate(-90) scale(.975 1)" font-size="34" text-anchor="end">TNFRSF9</text>
<path d="M1595.5 1010.8L1595.5 1019.8" stroke="#000" stroke-width="3.6" stroke-linecap="butt" fill="none"/>
<text transform="translate(1605.4 1022.2) rotate(-90) scale(.975 1)" font-size="34" text-anchor="end">NR4A2</text>
<path d="M1629.2 1010.8L1629.2 1019.8" stroke="#000" stroke-width="3.6" stroke-linecap="butt" fill="none"/>
<text transform="translate(1639.1 1022.2) rotate(-90) scale(.975 1)" font-size="34" text-anchor="end">PHACTR2</text>
<path d="M1662.9 1010.8L1662.9 1019.8" stroke="#000" stroke-width="3.6" stroke-linecap="butt" fill="none"/>
<text transform="translate(1672.8 1022.2) rotate(-90) scale(.975 1)" font-size="34" text-anchor="end">CD27</text>
<path d="M1696.5 1010.8L1696.5 1019.8" stroke="#000" stroke-width="3.6" stroke-linecap="butt" fill="none"/>
<text transform="translate(1706.4 1022.2) rotate(-90) scale(.975 1)" font-size="34" text-anchor="end">CD7</text>
<path d="M1730.2 1010.8L1730.2 1019.8" stroke="#000" stroke-width="3.6" stroke-linecap="butt" fill="none"/>
<text transform="translate(1740.1 1022.2) rotate(-90) scale(.975 1)" font-size="34" text-anchor="end">HIPK2</text>
<path d="M1763.8 1010.8L1763.8 1019.8" stroke="#000" stroke-width="3.6" stroke-linecap="butt" fill="none"/>
<text transform="translate(1773.7 1022.5) rotate(-90) scale(.975 1)" font-size="34" text-anchor="end">FABP5</text>
<path d="M1797.5 1010.8L1797.5 1019.8" stroke="#000" stroke-width="3.6" stroke-linecap="butt" fill="none"/>
<text transform="translate(1807.4 1023.8) rotate(-90) scale(.975 1)" font-size="34" text-anchor="end">IL2RA</text>
<path d="M1831.2 1010.8L1831.2 1019.8" stroke="#000" stroke-width="3.6" stroke-linecap="butt" fill="none"/>
<text transform="translate(1841.1 1022.2) rotate(-90) scale(.975 1)" font-size="34" text-anchor="end">GZMB</text>
<path d="M1864.8 1010.8L1864.8 1019.8" stroke="#000" stroke-width="3.6" stroke-linecap="butt" fill="none"/>
<text transform="translate(1874.7 1021.4) rotate(-90) scale(.975 1)" font-size="34" text-anchor="end">IFNG</text>
<path d="M1898.5 1010.8L1898.5 1019.8" stroke="#000" stroke-width="3.6" stroke-linecap="butt" fill="none"/>
<text transform="translate(1908.4 1022.3) rotate(-90) scale(.975 1)" font-size="34" text-anchor="end">HSP90AB1</text>
<path d="M1932.1 1010.8L1932.1 1019.8" stroke="#000" stroke-width="3.6" stroke-linecap="butt" fill="none"/>
<text transform="translate(1942 1022.4) rotate(-90) scale(.975 1)" font-size="34" text-anchor="end">BIRC3</text>
<path d="M1965.8 1010.8L1965.8 1019.8" stroke="#000" stroke-width="3.6" stroke-linecap="butt" fill="none"/>
<text transform="translate(1975.7 1022.4) rotate(-90) scale(.975 1)" font-size="34" text-anchor="end">CCL3</text>
<path d="M1999.5 1010.8L1999.5 1019.8" stroke="#000" stroke-width="3.6" stroke-linecap="butt" fill="none"/>
<text transform="translate(2009.4 1022.2) rotate(-90) scale(.975 1)" font-size="34" text-anchor="end">CSF2</text>
<path d="M2033.1 1010.8L2033.1 1019.8" stroke="#000" stroke-width="3.6" stroke-linecap="butt" fill="none"/>
<text transform="translate(2043 1022.9) rotate(-90) scale(.975 1)" font-size="34" text-anchor="end">CCL4</text>
<path d="M2066.8 1010.8L2066.8 1019.8" stroke="#000" stroke-width="3.6" stroke-linecap="butt" fill="none"/>
<text transform="translate(2076.7 1022.4) rotate(-90) scale(.975 1)" font-size="34" text-anchor="end">IL3</text>
<text transform="translate(44 858.5) rotate(-90) scale(0.985 1)" font-size="33.5" text-anchor="middle">Identity</text>
<text transform="translate(1020.4 1216.9) scale(0.966 1)" font-size="43">Features</text>
<text transform="translate(303.1 676.5) scale(0.961 1)" font-size="34.5">Average Expression</text>
<defs><linearGradient id="cb" x1="0" x2="1" y1="0" y2="0"><stop offset="0" stop-color="#C9102B"/><stop offset="0.08" stop-color="#DF3440"/><stop offset="0.17" stop-color="#F8695C"/><stop offset="0.3" stop-color="#FCB3A6"/><stop offset="0.4" stop-color="#FDDED6"/><stop offset="0.5" stop-color="#FFFFFF"/><stop offset="0.6" stop-color="#E6F7FA"/><stop offset="0.7" stop-color="#BDEBF4"/><stop offset="0.8" stop-color="#84D4EC"/><stop offset="0.88" stop-color="#5BB8E8"/><stop offset="0.95" stop-color="#3A88EA"/><stop offset="1" stop-color="#2A66E8"/></linearGradient></defs>
<rect x="611.8" y="668.6" width="164" height="33.2" fill="url(#cb)"/>
<path d="M661 668.6v5.5M661 701.8v-5.5" stroke="#fff" stroke-width="1.5" opacity="0.6"/>
<path d="M707.8 668.6v5.5M707.8 701.8v-5.5" stroke="#fff" stroke-width="1.5" opacity="0.6"/>
<path d="M756 668.6v5.5M756 701.8v-5.5" stroke="#fff" stroke-width="1.5" opacity="0.6"/>
<text transform="translate(617.8 662.3) scale(0.975 1)" font-size="34" text-anchor="middle">2</text>
<text transform="translate(661.8 662.3) scale(0.975 1)" font-size="34" text-anchor="middle">1</text>
<text transform="translate(709.7 662.3) scale(0.975 1)" font-size="34" text-anchor="middle">0</text>
<text transform="translate(747.8 662.3) scale(0.975 1)" font-size="34" text-anchor="middle">−1</text>
<text transform="translate(1082.9 676.5) scale(0.966 1)" font-size="34.5">Percent Expressed</text>
<circle cx="1392.4" cy="664" r="6.8" fill="#000"/>
<text transform="translate(1399 676.6) scale(0.998 1)" font-size="34">25</text>
<circle cx="1470.8" cy="664" r="10.5" fill="#000"/>
<text transform="translate(1487.9 676.6) scale(0.985 1)" font-size="34">50</text>
<circle cx="1553.4" cy="664" r="14.6" fill="#000"/>
<text transform="translate(1571.2 676.6) scale(0.999 1)" font-size="34">75</text></svg></body></html>
